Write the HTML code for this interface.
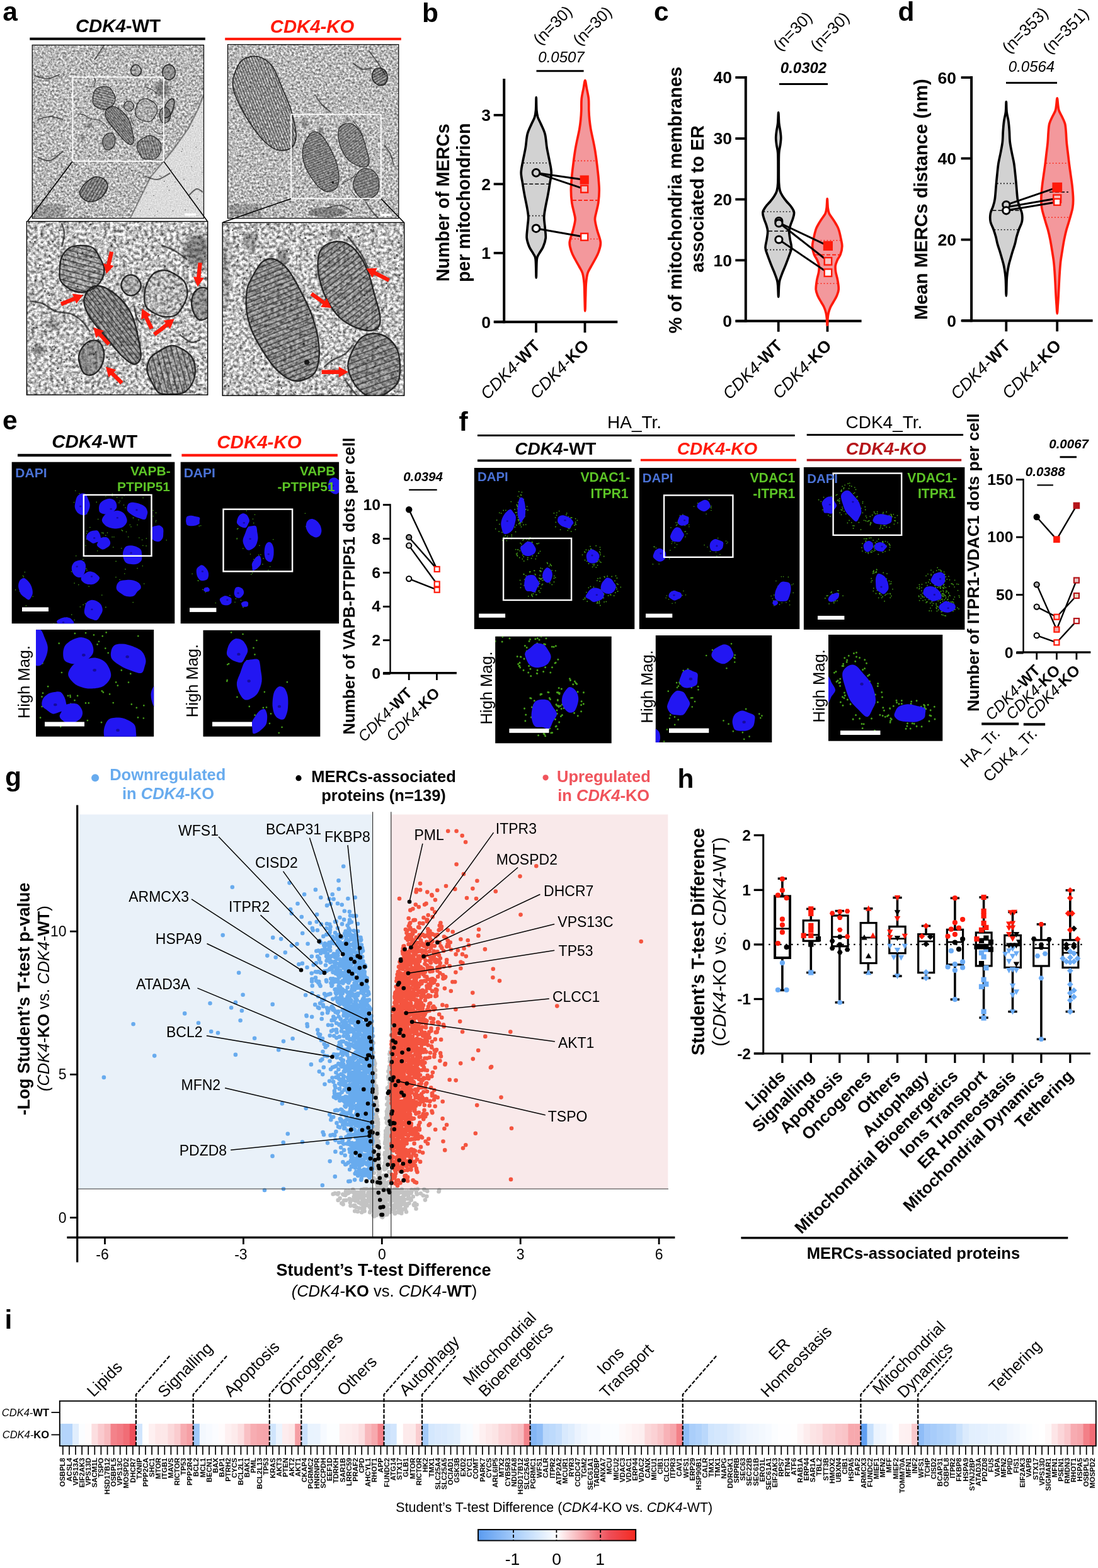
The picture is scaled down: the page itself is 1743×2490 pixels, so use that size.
<!DOCTYPE html>
<html lang="en"><head><meta charset="utf-8"><title>Figure</title>
<style>
html,body{margin:0;padding:0;background:#fff;}
body{width:1743px;height:2490px;overflow:hidden;}
svg{display:block;font-family:"Liberation Sans", sans-serif;}
text{white-space:pre;}
</style></head><body>
<svg width="1743" height="2490" viewBox="0 0 1743 2490">
<rect x="0" y="0" width="1743" height="2490" fill="#fff"/>
<!-- panel_a -->
<defs>
<filter id="emn" x="0" y="0" width="100%" height="100%" color-interpolation-filters="sRGB"><feTurbulence type="fractalNoise" baseFrequency="0.3" numOctaves="4" seed="7"/><feColorMatrix type="matrix" values="1.05 0 0 0 0.2  1.05 0 0 0 0.2  1.05 0 0 0 0.2  0 0 0 0 1"/><feGaussianBlur stdDeviation="0.5"/></filter>
<filter id="emn2" x="0" y="0" width="100%" height="100%" color-interpolation-filters="sRGB"><feTurbulence type="fractalNoise" baseFrequency="0.2" numOctaves="4" seed="11"/><feColorMatrix type="matrix" values="1.35 0 0 0 0.08  1.35 0 0 0 0.08  1.35 0 0 0 0.08  0 0 0 0 1"/><feGaussianBlur stdDeviation="0.7"/></filter>
<filter id="emlight" x="0" y="0" width="100%" height="100%" color-interpolation-filters="sRGB"><feTurbulence type="fractalNoise" baseFrequency="0.5" numOctaves="2" seed="3"/><feColorMatrix type="matrix" values="0.3 0 0 0 0.71  0.3 0 0 0 0.71  0.3 0 0 0 0.71  0 0 0 0 1"/></filter>
<filter id="blur2"><feGaussianBlur stdDeviation="2"/></filter>
<filter id="blur4"><feGaussianBlur stdDeviation="5"/></filter>
<filter id="blur1"><feGaussianBlur stdDeviation="0.7"/></filter>
<filter id="blur05"><feGaussianBlur stdDeviation="0.45"/></filter>
</defs>
<text x="4.2" y="32.8" font-size="42.5" font-weight="bold">a</text>
<text x="187.5" y="51" font-size="29.3" text-anchor="middle"><tspan font-weight="bold" font-style="italic">CDK4</tspan><tspan font-weight="bold">-WT</tspan></text>
<rect x="47.3" y="59.7" width="278.5" height="4" fill="#000"/>
<text x="495.5" y="51.5" font-size="29.3" text-anchor="middle" fill="#ff1a0a" font-weight="bold" font-style="italic">CDK4-KO</text>
<rect x="357.2" y="59.9" width="279.6" height="4" fill="#ff1a0a"/>
<defs>
<clipPath id="cp_wt_top"><rect x="51.2" y="71.5" width="272.3" height="275.2"/></clipPath>
<clipPath id="cp_ko_top"><rect x="361.5" y="70.7" width="271.3" height="276"/></clipPath>
<clipPath id="cp_wt_bot"><rect x="42.4" y="351.6" width="287.3" height="275.5"/></clipPath>
<clipPath id="cp_ko_bot"><rect x="353.2" y="353.4" width="288.5" height="274.8"/></clipPath>
<g id="wtc"><clipPath id="mc1"><path d="M165.4 426.5C165.8 432.5 163.9 439.7 160.9 445C157.9 450.4 152.8 455.6 147.5 458.8C142.1 462 135 464.5 128.8 464.4C122.6 464.4 115.8 461.8 110.3 458.6C104.9 455.4 98.7 450.8 96.1 445.4C93.5 440.1 94.6 432.7 94.9 426.5C95.2 420.4 95.3 414.1 97.8 408.6C100.3 403.1 104.7 396.8 109.9 393.7C115.1 390.6 122.5 389.8 128.8 389.9C135.1 389.9 142.7 390.6 147.7 393.8C152.7 397.1 155.6 403.9 158.6 409.4C161.5 414.8 165 420.6 165.4 426.5Z"/></clipPath><path d="M165.4 426.5C165.8 432.5 163.9 439.7 160.9 445C157.9 450.4 152.8 455.6 147.5 458.8C142.1 462 135 464.5 128.8 464.4C122.6 464.4 115.8 461.8 110.3 458.6C104.9 455.4 98.7 450.8 96.1 445.4C93.5 440.1 94.6 432.7 94.9 426.5C95.2 420.4 95.3 414.1 97.8 408.6C100.3 403.1 104.7 396.8 109.9 393.7C115.1 390.6 122.5 389.8 128.8 389.9C135.1 389.9 142.7 390.6 147.7 393.8C152.7 397.1 155.6 403.9 158.6 409.4C161.5 414.8 165 420.6 165.4 426.5Z" fill="rgba(70,70,70,0.28)"/><path d="M96.7 369.2L188 393.7M94.6 377L186 401.4M92.5 384.7L183.9 409.2M90.5 392.4L181.8 416.9M88.4 400.2L179.7 424.6M86.3 407.9L177.7 432.4M84.3 415.6L175.6 440.1M82.2 423.3L173.5 447.8M80.1 431.1L171.5 455.5M78.1 438.8L169.4 463.3M76 446.5L167.3 471M73.9 454.2L165.2 478.7" stroke="rgba(35,35,35,0.62)" stroke-width="1.9" fill="none" clip-path="url(#mc1)"/><path d="M165.4 426.5C165.8 432.5 163.9 439.7 160.9 445C157.9 450.4 152.8 455.6 147.5 458.8C142.1 462 135 464.5 128.8 464.4C122.6 464.4 115.8 461.8 110.3 458.6C104.9 455.4 98.7 450.8 96.1 445.4C93.5 440.1 94.6 432.7 94.9 426.5C95.2 420.4 95.3 414.1 97.8 408.6C100.3 403.1 104.7 396.8 109.9 393.7C115.1 390.6 122.5 389.8 128.8 389.9C135.1 389.9 142.7 390.6 147.7 393.8C152.7 397.1 155.6 403.9 158.6 409.4C161.5 414.8 165 420.6 165.4 426.5Z" fill="none" stroke="rgba(25,25,25,0.9)" stroke-width="2.4"/><clipPath id="mc2"><path d="M135 469.6C137.2 464.8 141.8 457.3 147.3 455.3C152.8 453.2 160 453.6 167.9 457.3C175.7 461.1 187.4 470 194.5 477.9C201.7 485.7 206.5 493.3 211 504.5C215.4 515.8 219.2 535 221.2 545.6C223.3 556.2 224.7 562.7 223.3 568.2C221.9 573.7 217.8 578.8 213 578.5C208.2 578.1 202.1 573.3 194.5 566.2C187 559 176.4 545.6 167.9 535.4C159.3 525.1 148.9 513.1 143.2 504.5C137.6 496 135.3 489.8 134 484C132.6 478.2 132.8 474.4 135 469.6Z"/></clipPath><path d="M135 469.6C137.2 464.8 141.8 457.3 147.3 455.3C152.8 453.2 160 453.6 167.9 457.3C175.7 461.1 187.4 470 194.5 477.9C201.7 485.7 206.5 493.3 211 504.5C215.4 515.8 219.2 535 221.2 545.6C223.3 556.2 224.7 562.7 223.3 568.2C221.9 573.7 217.8 578.8 213 578.5C208.2 578.1 202.1 573.3 194.5 566.2C187 559 176.4 545.6 167.9 535.4C159.3 525.1 148.9 513.1 143.2 504.5C137.6 496 135.3 489.8 134 484C132.6 478.2 132.8 474.4 135 469.6Z" fill="rgba(60,60,60,0.38)"/><path d="M191 416.4L279.1 529.2M186.2 420.1L274.4 532.9M181.5 423.7L269.7 536.6M176.8 427.4L265 540.3M172.1 431.1L260.2 544M167.3 434.8L255.5 547.7M162.6 438.5L250.8 551.4M157.9 442.2L246 555.1M153.2 445.9L241.3 558.8M148.4 449.6L236.6 562.5M143.7 453.3L231.9 566.2M139 457L227.1 569.8M134.2 460.7L222.4 573.5M129.5 464.4L217.7 577.2M124.8 468.1L213 580.9M120.1 471.8L208.2 584.6M115.3 475.5L203.5 588.3M110.6 479.2L198.8 592M105.9 482.9L194 595.7M101.1 486.5L189.3 599.4M96.4 490.2L184.6 603.1M91.7 493.9L179.9 606.8M87 497.6L175.1 610.5M82.2 501.3L170.4 614.2" stroke="rgba(35,35,35,0.62)" stroke-width="1.9" fill="none" clip-path="url(#mc2)"/><path d="M135 469.6C137.2 464.8 141.8 457.3 147.3 455.3C152.8 453.2 160 453.6 167.9 457.3C175.7 461.1 187.4 470 194.5 477.9C201.7 485.7 206.5 493.3 211 504.5C215.4 515.8 219.2 535 221.2 545.6C223.3 556.2 224.7 562.7 223.3 568.2C221.9 573.7 217.8 578.8 213 578.5C208.2 578.1 202.1 573.3 194.5 566.2C187 559 176.4 545.6 167.9 535.4C159.3 525.1 148.9 513.1 143.2 504.5C137.6 496 135.3 489.8 134 484C132.6 478.2 132.8 474.4 135 469.6Z" fill="none" stroke="rgba(25,25,25,0.9)" stroke-width="2.4"/><clipPath id="mc3"><path d="M223.8 453.2C223.9 456.3 222.3 459.8 220.5 462.4C218.7 464.9 215.8 467.5 212.9 468.5C209.9 469.5 205.8 469.6 202.9 468.5C200 467.5 197.3 464.7 195.6 462.2C193.8 459.6 192.4 456.2 192.3 453.2C192.3 450.2 193.5 446.7 195.2 444C197 441.4 199.8 438.4 202.7 437.4C205.7 436.3 210 436.5 213 437.6C215.9 438.7 218.6 441.5 220.4 444.1C222.2 446.7 223.8 450.2 223.8 453.2Z"/></clipPath><path d="M223.8 453.2C223.9 456.3 222.3 459.8 220.5 462.4C218.7 464.9 215.8 467.5 212.9 468.5C209.9 469.5 205.8 469.6 202.9 468.5C200 467.5 197.3 464.7 195.6 462.2C193.8 459.6 192.4 456.2 192.3 453.2C192.3 450.2 193.5 446.7 195.2 444C197 441.4 199.8 438.4 202.7 437.4C205.7 436.3 210 436.5 213 437.6C215.9 438.7 218.6 441.5 220.4 444.1C222.2 446.7 223.8 450.2 223.8 453.2Z" fill="rgba(70,70,70,0.25)"/><path d="M223.8 453.2C223.9 456.3 222.3 459.8 220.5 462.4C218.7 464.9 215.8 467.5 212.9 468.5C209.9 469.5 205.8 469.6 202.9 468.5C200 467.5 197.3 464.7 195.6 462.2C193.8 459.6 192.4 456.2 192.3 453.2C192.3 450.2 193.5 446.7 195.2 444C197 441.4 199.8 438.4 202.7 437.4C205.7 436.3 210 436.5 213 437.6C215.9 438.7 218.6 441.5 220.4 444.1C222.2 446.7 223.8 450.2 223.8 453.2Z" fill="none" stroke="rgba(25,25,25,0.9)" stroke-width="2.4"/><clipPath id="mc4"><path d="M297.3 467.6C296.9 473.8 293.7 480 290.7 485.4C287.7 490.8 284.2 497 279.5 500C274.8 503 267.9 503.5 262.3 503.2C256.8 502.9 251.3 500.8 246.2 498C241.1 495.3 234.6 491.8 231.8 486.8C229 481.7 229 473.8 229.3 467.6C229.6 461.4 231.2 455.2 233.7 449.6C236.2 444 239.7 437.4 244.5 434C249.3 430.6 256.6 428.8 262.3 429.2C268.1 429.6 273.8 433 279 436.2C284.1 439.4 290.1 443 293.1 448.2C296.2 453.5 297.7 461.4 297.3 467.6Z"/></clipPath><path d="M297.3 467.6C296.9 473.8 293.7 480 290.7 485.4C287.7 490.8 284.2 497 279.5 500C274.8 503 267.9 503.5 262.3 503.2C256.8 502.9 251.3 500.8 246.2 498C241.1 495.3 234.6 491.8 231.8 486.8C229 481.7 229 473.8 229.3 467.6C229.6 461.4 231.2 455.2 233.7 449.6C236.2 444 239.7 437.4 244.5 434C249.3 430.6 256.6 428.8 262.3 429.2C268.1 429.6 273.8 433 279 436.2C284.1 439.4 290.1 443 293.1 448.2C296.2 453.5 297.7 461.4 297.3 467.6Z" fill="rgba(70,70,70,0.12)"/><path d="M297.3 467.6C296.9 473.8 293.7 480 290.7 485.4C287.7 490.8 284.2 497 279.5 500C274.8 503 267.9 503.5 262.3 503.2C256.8 502.9 251.3 500.8 246.2 498C241.1 495.3 234.6 491.8 231.8 486.8C229 481.7 229 473.8 229.3 467.6C229.6 461.4 231.2 455.2 233.7 449.6C236.2 444 239.7 437.4 244.5 434C249.3 430.6 256.6 428.8 262.3 429.2C268.1 429.6 273.8 433 279 436.2C284.1 439.4 290.1 443 293.1 448.2C296.2 453.5 297.7 461.4 297.3 467.6Z" fill="none" stroke="rgba(25,25,25,0.9)" stroke-width="2.4"/><clipPath id="mc5"><path d="M338.9 482C339.1 487 337.9 493.5 335.9 497.5C333.9 501.5 330.2 504.2 327 506C323.7 507.7 319.6 509.2 316.4 507.8C313.2 506.4 309.9 501.8 307.9 497.5C305.8 493.2 304.1 487.2 304.1 482C304 476.7 305.5 470.1 307.6 466.1C309.7 462 313.5 459.1 316.7 457.7C320 456.3 324 456 327 457.6C330.1 459.2 333.2 463.1 335.2 467.2C337.1 471.3 338.8 476.9 338.9 482Z"/></clipPath><path d="M338.9 482C339.1 487 337.9 493.5 335.9 497.5C333.9 501.5 330.2 504.2 327 506C323.7 507.7 319.6 509.2 316.4 507.8C313.2 506.4 309.9 501.8 307.9 497.5C305.8 493.2 304.1 487.2 304.1 482C304 476.7 305.5 470.1 307.6 466.1C309.7 462 313.5 459.1 316.7 457.7C320 456.3 324 456 327 457.6C330.1 459.2 333.2 463.1 335.2 467.2C337.1 471.3 338.8 476.9 338.9 482Z" fill="rgba(60,60,60,0.4)"/><path d="M338.9 482C339.1 487 337.9 493.5 335.9 497.5C333.9 501.5 330.2 504.2 327 506C323.7 507.7 319.6 509.2 316.4 507.8C313.2 506.4 309.9 501.8 307.9 497.5C305.8 493.2 304.1 487.2 304.1 482C304 476.7 305.5 470.1 307.6 466.1C309.7 462 313.5 459.1 316.7 457.7C320 456.3 324 456 327 457.6C330.1 459.2 333.2 463.1 335.2 467.2C337.1 471.3 338.8 476.9 338.9 482Z" fill="none" stroke="rgba(25,25,25,0.9)" stroke-width="2.4"/><clipPath id="mc6"><path d="M164.3 571.6C163.2 576.8 160.7 582.5 157.8 586.4C154.8 590.3 150.6 593.8 146.7 595C142.8 596.2 137.7 596 134.4 593.6C131.2 591.3 128.9 585.8 127.4 580.9C125.9 576.1 124.4 569.9 125.2 564.7C126.1 559.4 129.3 553.4 132.4 549.5C135.5 545.6 139.8 542.6 143.8 541.4C147.8 540.2 153 540 156.3 542.3C159.7 544.5 162.7 550 164 554.8C165.3 559.7 165.3 566.3 164.3 571.6Z"/></clipPath><path d="M164.3 571.6C163.2 576.8 160.7 582.5 157.8 586.4C154.8 590.3 150.6 593.8 146.7 595C142.8 596.2 137.7 596 134.4 593.6C131.2 591.3 128.9 585.8 127.4 580.9C125.9 576.1 124.4 569.9 125.2 564.7C126.1 559.4 129.3 553.4 132.4 549.5C135.5 545.6 139.8 542.6 143.8 541.4C147.8 540.2 153 540 156.3 542.3C159.7 544.5 162.7 550 164 554.8C165.3 559.7 165.3 566.3 164.3 571.6Z" fill="rgba(60,60,60,0.42)"/><path d="M164.3 571.6C163.2 576.8 160.7 582.5 157.8 586.4C154.8 590.3 150.6 593.8 146.7 595C142.8 596.2 137.7 596 134.4 593.6C131.2 591.3 128.9 585.8 127.4 580.9C125.9 576.1 124.4 569.9 125.2 564.7C126.1 559.4 129.3 553.4 132.4 549.5C135.5 545.6 139.8 542.6 143.8 541.4C147.8 540.2 153 540 156.3 542.3C159.7 544.5 162.7 550 164 554.8C165.3 559.7 165.3 566.3 164.3 571.6Z" fill="none" stroke="rgba(25,25,25,0.9)" stroke-width="2.4"/><clipPath id="mc7"><path d="M309.9 588.7C309.8 595.3 308.4 602.5 305.4 608.2C302.4 614 297.4 620.2 292 623.2C286.5 626.2 279.1 625.9 272.6 626C266 626.2 257.9 627.2 252.7 624.1C247.5 621 244.4 613.2 241.2 607.3C238.1 601.4 234.1 595.2 233.6 588.7C233.2 582.3 235.1 573.9 238.5 568.6C242 563.2 248.8 559.9 254.5 556.6C260.2 553.3 266.4 548.8 272.6 548.6C278.7 548.4 285.8 552 291.3 555.4C296.9 558.8 302.7 563.5 305.7 569.1C308.8 574.6 309.9 582.2 309.9 588.7Z"/></clipPath><path d="M309.9 588.7C309.8 595.3 308.4 602.5 305.4 608.2C302.4 614 297.4 620.2 292 623.2C286.5 626.2 279.1 625.9 272.6 626C266 626.2 257.9 627.2 252.7 624.1C247.5 621 244.4 613.2 241.2 607.3C238.1 601.4 234.1 595.2 233.6 588.7C233.2 582.3 235.1 573.9 238.5 568.6C242 563.2 248.8 559.9 254.5 556.6C260.2 553.3 266.4 548.8 272.6 548.6C278.7 548.4 285.8 552 291.3 555.4C296.9 558.8 302.7 563.5 305.7 569.1C308.8 574.6 309.9 582.2 309.9 588.7Z" fill="rgba(60,60,60,0.3)"/><path d="M306.2 527.7L331.4 621.8M298.5 529.7L323.7 623.8M290.7 531.8L315.9 625.9M283 533.9L308.2 628M275.3 536L300.5 630M267.6 538L292.8 632.1M259.8 540.1L285 634.2M252.1 542.2L277.3 636.2M244.4 544.2L269.6 638.3M236.6 546.3L261.9 640.4M228.9 548.4L254.1 642.5M221.2 550.5L246.4 644.5M213.5 552.5L238.7 646.6" stroke="rgba(35,35,35,0.62)" stroke-width="1.9" fill="none" clip-path="url(#mc7)"/><path d="M309.9 588.7C309.8 595.3 308.4 602.5 305.4 608.2C302.4 614 297.4 620.2 292 623.2C286.5 626.2 279.1 625.9 272.6 626C266 626.2 257.9 627.2 252.7 624.1C247.5 621 244.4 613.2 241.2 607.3C238.1 601.4 234.1 595.2 233.6 588.7C233.2 582.3 235.1 573.9 238.5 568.6C242 563.2 248.8 559.9 254.5 556.6C260.2 553.3 266.4 548.8 272.6 548.6C278.7 548.4 285.8 552 291.3 555.4C296.9 558.8 302.7 563.5 305.7 569.1C308.8 574.6 309.9 582.2 309.9 588.7Z" fill="none" stroke="rgba(25,25,25,0.9)" stroke-width="2.4"/><ellipse cx="313.7" cy="397.8" rx="22" ry="26" fill="rgba(40,40,40,0.45)" filter="url(#blur4)"/><ellipse cx="61.1" cy="555.9" rx="9" ry="8" fill="rgba(40,40,40,0.4)" filter="url(#blur2)"/><ellipse cx="83.7" cy="514.8" rx="12" ry="10" fill="rgba(50,50,50,0.3)" filter="url(#blur2)"/><path d="M46.7 477.9C50.1 478.5 60.4 479.2 67.2 482C74.1 484.7 80.2 491.5 87.8 494.3C95.3 497 105.2 495.7 112.4 498.4C119.6 501.1 125.8 505.9 130.9 510.7C136 515.5 141.2 524.4 143.2 527.1" fill="none" stroke="rgba(30,30,30,0.7)" stroke-width="2.6"/><path d="M98 354.6C98.7 357.4 102.1 364.9 102.1 371.1C102.1 377.2 98.7 388.2 98 391.6" fill="none" stroke="rgba(30,30,30,0.7)" stroke-width="2.6"/><path d="M256.2 389.6C259.6 390.9 269.8 394 276.7 397.8C283.5 401.5 293.8 409.7 297.2 412.1" fill="none" stroke="rgba(30,30,30,0.7)" stroke-width="2.6"/><path d="M213 486.1C213.7 489.1 215.1 499.8 217.1 504.5C219.2 509.3 224 513.1 225.4 514.8" fill="none" stroke="rgba(30,30,30,0.7)" stroke-width="2.6"/><path d="M284.9 531.2C288 533.3 297.9 542.2 303.4 543.6C308.9 544.9 315.4 540.1 317.8 539.5" fill="none" stroke="rgba(30,30,30,0.7)" stroke-width="2.6"/></g>
<g id="koc"><clipPath id="mc8"><path d="M397.8 445C401.9 437.1 409.7 421.7 416.2 416.2C422.8 410.8 429.9 410.1 436.8 412.1C443.6 414.2 450.5 420 457.3 428.6C464.2 437.1 471.7 451.8 477.9 463.5C484 475.1 489.8 486.4 494.3 498.4C498.7 510.4 502.5 524.1 504.5 535.4C506.6 546.6 507.3 556.9 506.6 566.2C505.9 575.4 504.5 584.6 500.4 590.8C496.3 597 488.5 601.1 482 603.1C475.5 605.2 469 606.2 461.4 603.1C453.9 600 444.3 592.5 436.8 584.6C429.3 576.8 422.4 565.8 416.2 555.9C410.1 546 403.9 535.4 399.8 525.1C395.7 514.8 393 504.5 391.6 494.3C390.2 484 390.6 471.7 391.6 463.5C392.6 455.3 393.7 452.9 397.8 445Z"/></clipPath><path d="M397.8 445C401.9 437.1 409.7 421.7 416.2 416.2C422.8 410.8 429.9 410.1 436.8 412.1C443.6 414.2 450.5 420 457.3 428.6C464.2 437.1 471.7 451.8 477.9 463.5C484 475.1 489.8 486.4 494.3 498.4C498.7 510.4 502.5 524.1 504.5 535.4C506.6 546.6 507.3 556.9 506.6 566.2C505.9 575.4 504.5 584.6 500.4 590.8C496.3 597 488.5 601.1 482 603.1C475.5 605.2 469 606.2 461.4 603.1C453.9 600 444.3 592.5 436.8 584.6C429.3 576.8 422.4 565.8 416.2 555.9C410.1 546 403.9 535.4 399.8 525.1C395.7 514.8 393 504.5 391.6 494.3C390.2 484 390.6 471.7 391.6 463.5C392.6 455.3 393.7 452.9 397.8 445Z" fill="rgba(60,60,60,0.36)"/><path d="M311.8 449.3L507.4 370.3M314.6 456.3L510.2 377.3M317.4 463.2L513 384.2M320.2 470.2L515.8 391.2M323 477.2L518.6 398.1M325.8 484.1L521.4 405.1M328.6 491.1L524.3 412M331.4 498L527.1 419M334.3 505L529.9 425.9M337.1 511.9L532.7 432.9M339.9 518.9L535.5 439.8M342.7 525.8L538.3 446.8M345.5 532.8L541.1 453.8M348.3 539.7L543.9 460.7M351.1 546.7L546.7 467.7M353.9 553.6L549.5 474.6M356.7 560.6L552.3 481.6M359.5 567.6L555.2 488.5M362.4 574.5L558 495.5M365.2 581.5L560.8 502.4M368 588.4L563.6 509.4M370.8 595.4L566.4 516.3M373.6 602.3L569.2 523.3M376.4 609.3L572 530.2M379.2 616.2L574.8 537.2M382 623.2L577.6 544.2M384.8 630.1L580.4 551.1M387.6 637.1L583.3 558.1M390.4 644L586.1 565" stroke="rgba(35,35,35,0.62)" stroke-width="1.9" fill="none" clip-path="url(#mc8)"/><path d="M397.8 445C401.9 437.1 409.7 421.7 416.2 416.2C422.8 410.8 429.9 410.1 436.8 412.1C443.6 414.2 450.5 420 457.3 428.6C464.2 437.1 471.7 451.8 477.9 463.5C484 475.1 489.8 486.4 494.3 498.4C498.7 510.4 502.5 524.1 504.5 535.4C506.6 546.6 507.3 556.9 506.6 566.2C505.9 575.4 504.5 584.6 500.4 590.8C496.3 597 488.5 601.1 482 603.1C475.5 605.2 469 606.2 461.4 603.1C453.9 600 444.3 592.5 436.8 584.6C429.3 576.8 422.4 565.8 416.2 555.9C410.1 546 403.9 535.4 399.8 525.1C395.7 514.8 393 504.5 391.6 494.3C390.2 484 390.6 471.7 391.6 463.5C392.6 455.3 393.7 452.9 397.8 445Z" fill="none" stroke="rgba(25,25,25,0.9)" stroke-width="2.4"/><clipPath id="mc9"><path d="M508.7 397.8C512.1 391.9 518.6 387.5 525.1 385.4C531.6 383.4 540.5 382.7 547.7 385.4C554.9 388.2 562 394 568.2 401.9C574.4 409.7 580.2 421.4 584.6 432.7C589.1 444 591.8 458.3 594.9 469.6C598 480.9 602.1 492.2 603.1 500.4C604.1 508.7 603.8 514.8 601.1 518.9C598.3 523 593.2 525.1 586.7 525.1C580.2 525.1 569.9 522.3 562 518.9C554.2 515.5 546.3 511.1 539.5 504.5C532.6 498 526.1 489.1 521 479.9C515.8 470.7 511.4 459 508.7 449.1C505.9 439.2 504.5 428.9 504.5 420.4C504.5 411.8 505.2 403.6 508.7 397.8Z"/></clipPath><path d="M508.7 397.8C512.1 391.9 518.6 387.5 525.1 385.4C531.6 383.4 540.5 382.7 547.7 385.4C554.9 388.2 562 394 568.2 401.9C574.4 409.7 580.2 421.4 584.6 432.7C589.1 444 591.8 458.3 594.9 469.6C598 480.9 602.1 492.2 603.1 500.4C604.1 508.7 603.8 514.8 601.1 518.9C598.3 523 593.2 525.1 586.7 525.1C580.2 525.1 569.9 522.3 562 518.9C554.2 515.5 546.3 511.1 539.5 504.5C532.6 498 526.1 489.1 521 479.9C515.8 470.7 511.4 459 508.7 449.1C505.9 439.2 504.5 428.9 504.5 420.4C504.5 411.8 505.2 403.6 508.7 397.8Z" fill="rgba(60,60,60,0.34)"/><path d="M441.8 441.5L567.6 343.2M446.4 447.4L572.2 349.1M451 453.3L576.8 355M455.6 459.2L581.4 361M460.3 465.1L586.1 366.9M464.9 471.1L590.7 372.8M469.5 477L595.3 378.7M474.1 482.9L599.9 384.6M478.7 488.8L604.5 390.5M483.3 494.7L609.1 396.4M488 500.6L613.8 402.3M492.6 506.5L618.4 408.2M497.2 512.4L623 414.1M501.8 518.3L627.6 420.1M506.4 524.2L632.2 426M511.1 530.2L636.9 431.9M515.7 536.1L641.5 437.8M520.3 542L646.1 443.7M524.9 547.9L650.7 449.6M529.5 553.8L655.3 455.5M534.1 559.7L659.9 461.4M538.8 565.6L664.6 467.3" stroke="rgba(35,35,35,0.62)" stroke-width="1.9" fill="none" clip-path="url(#mc9)"/><path d="M508.7 397.8C512.1 391.9 518.6 387.5 525.1 385.4C531.6 383.4 540.5 382.7 547.7 385.4C554.9 388.2 562 394 568.2 401.9C574.4 409.7 580.2 421.4 584.6 432.7C589.1 444 591.8 458.3 594.9 469.6C598 480.9 602.1 492.2 603.1 500.4C604.1 508.7 603.8 514.8 601.1 518.9C598.3 523 593.2 525.1 586.7 525.1C580.2 525.1 569.9 522.3 562 518.9C554.2 515.5 546.3 511.1 539.5 504.5C532.6 498 526.1 489.1 521 479.9C515.8 470.7 511.4 459 508.7 449.1C505.9 439.2 504.5 428.9 504.5 420.4C504.5 411.8 505.2 403.6 508.7 397.8Z" fill="none" stroke="rgba(25,25,25,0.9)" stroke-width="2.4"/><clipPath id="mc10"><path d="M635 580.5C635.2 589.2 635.1 599.8 631.7 607C628.4 614.1 620.9 619.1 614.8 623.4C608.7 627.6 601.5 632.4 594.9 632.4C588.3 632.3 580.9 627.7 575.1 623.2C569.3 618.8 563.9 612.6 560.1 605.5C556.3 598.4 552.2 588.8 552.3 580.5C552.3 572.2 556.6 563.1 560.2 555.6C563.9 548.2 568.4 540.2 574.2 535.9C580 531.5 588 529.6 594.9 529.7C601.8 529.8 609.4 532.3 615.3 536.5C621.2 540.8 627.1 547.7 630.4 555C633.7 562.4 634.8 571.9 635 580.5Z"/></clipPath><path d="M635 580.5C635.2 589.2 635.1 599.8 631.7 607C628.4 614.1 620.9 619.1 614.8 623.4C608.7 627.6 601.5 632.4 594.9 632.4C588.3 632.3 580.9 627.7 575.1 623.2C569.3 618.8 563.9 612.6 560.1 605.5C556.3 598.4 552.2 588.8 552.3 580.5C552.3 572.2 556.6 563.1 560.2 555.6C563.9 548.2 568.4 540.2 574.2 535.9C580 531.5 588 529.6 594.9 529.7C601.8 529.8 609.4 532.3 615.3 536.5C621.2 540.8 627.1 547.7 630.4 555C633.7 562.4 634.8 571.9 635 580.5Z" fill="rgba(60,60,60,0.38)"/><path d="M515 544.4L630.3 502.4M518.1 552.8L633.4 510.9M521.2 561.3L636.5 519.3M524.3 569.7L639.5 527.8M527.3 578.2L642.6 536.2M530.4 586.7L645.7 544.7M533.5 595.1L648.8 553.2M536.6 603.6L651.8 561.6M539.6 612L654.9 570.1M542.7 620.5L658 578.5M545.8 628.9L661.1 587M548.9 637.4L664.2 595.4M552 645.9L667.2 603.9M555 654.3L670.3 612.4" stroke="rgba(35,35,35,0.62)" stroke-width="1.9" fill="none" clip-path="url(#mc10)"/><path d="M635 580.5C635.2 589.2 635.1 599.8 631.7 607C628.4 614.1 620.9 619.1 614.8 623.4C608.7 627.6 601.5 632.4 594.9 632.4C588.3 632.3 580.9 627.7 575.1 623.2C569.3 618.8 563.9 612.6 560.1 605.5C556.3 598.4 552.2 588.8 552.3 580.5C552.3 572.2 556.6 563.1 560.2 555.6C563.9 548.2 568.4 540.2 574.2 535.9C580 531.5 588 529.6 594.9 529.7C601.8 529.8 609.4 532.3 615.3 536.5C621.2 540.8 627.1 547.7 630.4 555C633.7 562.4 634.8 571.9 635 580.5Z" fill="none" stroke="rgba(25,25,25,0.9)" stroke-width="2.4"/><ellipse cx="397.8" cy="383.4" rx="10" ry="16" fill="rgba(50,50,50,0.35)" filter="url(#blur2)"/><ellipse cx="449.1" cy="408" rx="9" ry="12" fill="rgba(50,50,50,0.4)" filter="url(#blur2)"/><ellipse cx="531.2" cy="371.1" rx="10" ry="8" fill="rgba(50,50,50,0.3)" filter="url(#blur2)"/><ellipse cx="358.7" cy="432.7" rx="5" ry="60" fill="rgba(50,50,50,0.3)" filter="url(#blur2)"/><circle cx="487.1" cy="575.4" r="4" fill="rgba(10,10,10,0.9)"/><path d="M551.8 375.2C555.2 379.6 566.8 393.3 572.3 401.9C577.8 410.4 582.6 422.4 584.6 426.5" fill="none" stroke="rgba(30,30,30,0.7)" stroke-width="2.6"/><path d="M514.8 582.6C516.9 580.9 521.7 575.7 527.1 572.3C532.6 568.9 542.2 566.2 547.7 562C553.1 557.9 557.9 550.1 560 547.7" fill="none" stroke="rgba(30,30,30,0.7)" stroke-width="2.6"/><path d="M547.7 603.1C549.4 605.5 554.9 613.4 557.9 617.5C561 621.6 564.8 626 566.2 627.8" fill="none" stroke="rgba(30,30,30,0.7)" stroke-width="2.6"/></g>
</defs>
<g clip-path="url(#cp_wt_top)">
<rect x="51.2" y="71.5" width="272.3" height="275.2" fill="#aaa" filter="url(#emn)"/>
<clipPath id="cp_light"><polygon points="323.6,150 315,172 299,204 274,239 239,281 206.6,346.7 323.6,346.7"/></clipPath>
<rect x="51.2" y="71.5" width="272.3" height="275.2" fill="#ddd" filter="url(#emlight)" clip-path="url(#cp_light)"/>
<polyline points="323.6,150 315,172 299,204 274,239 239,281 206.6,346.7" fill="none" stroke="rgba(60,60,60,0.55)" stroke-width="2.2"/>
<g transform="translate(99.6 -52.5) scale(0.5047 0.4878)" filter="url(#blur05)"><use href="#wtc"/></g>
<g filter="url(#blur05)">
<clipPath id="mc11"><path d="M168.1 287.6C169.8 289.9 171.2 292.9 171 296C170.8 299.1 169.1 302.9 167 306.1C165 309.3 162.1 312.7 158.9 315.1C155.6 317.4 151.2 319.5 147.6 320.2C144 320.8 140.3 320.1 137.4 319.1C134.5 318 132.1 316.3 130.3 314.1C128.5 311.9 126.2 309.2 126.4 306.1C126.5 303.1 129 299.1 131.2 295.9C133.4 292.8 136.3 289.9 139.5 287.4C142.7 285 146.9 282 150.5 281.1C154.1 280.2 158.2 281.1 161.1 282.2C164.1 283.3 166.5 285.3 168.1 287.6Z"/></clipPath><path d="M168.1 287.6C169.8 289.9 171.2 292.9 171 296C170.8 299.1 169.1 302.9 167 306.1C165 309.3 162.1 312.7 158.9 315.1C155.6 317.4 151.2 319.5 147.6 320.2C144 320.8 140.3 320.1 137.4 319.1C134.5 318 132.1 316.3 130.3 314.1C128.5 311.9 126.2 309.2 126.4 306.1C126.5 303.1 129 299.1 131.2 295.9C133.4 292.8 136.3 289.9 139.5 287.4C142.7 285 146.9 282 150.5 281.1C154.1 280.2 158.2 281.1 161.1 282.2C164.1 283.3 166.5 285.3 168.1 287.6Z" fill="rgba(60,60,60,0.35)"/><path d="M104.5 312.5L136.8 256.5M108.4 314.7L140.7 258.8M112.3 317L144.6 261M116.2 319.2L148.5 263.3M120.1 321.5L152.4 265.5M124 323.7L156.3 267.8M127.9 326L160.2 270M131.8 328.2L164.1 272.3M135.7 330.5L168 274.5M139.6 332.7L171.9 276.8M143.5 335L175.8 279M147.4 337.2L179.7 281.3M151.3 339.5L183.6 283.5M155.2 341.7L187.5 285.8M159.1 344L191.4 288" stroke="rgba(35,35,35,0.62)" stroke-width="1.3" fill="none" clip-path="url(#mc11)"/><path d="M168.1 287.6C169.8 289.9 171.2 292.9 171 296C170.8 299.1 169.1 302.9 167 306.1C165 309.3 162.1 312.7 158.9 315.1C155.6 317.4 151.2 319.5 147.6 320.2C144 320.8 140.3 320.1 137.4 319.1C134.5 318 132.1 316.3 130.3 314.1C128.5 311.9 126.2 309.2 126.4 306.1C126.5 303.1 129 299.1 131.2 295.9C133.4 292.8 136.3 289.9 139.5 287.4C142.7 285 146.9 282 150.5 281.1C154.1 280.2 158.2 281.1 161.1 282.2C164.1 283.3 166.5 285.3 168.1 287.6Z" fill="none" stroke="rgba(25,25,25,0.9)" stroke-width="1.6"/>
<clipPath id="mc12"><path d="M224.3 112C224.3 113.7 223.4 115.8 222.5 117.3C221.5 118.7 220 120.2 218.5 120.7C217 121.2 215.1 120.8 213.6 120.3C212.1 119.7 210.4 118.7 209.4 117.4C208.5 116 207.7 113.8 207.7 112C207.7 110.2 208.6 108.2 209.5 106.7C210.5 105.2 212 103.8 213.5 103.2C215 102.7 217.1 102.7 218.5 103.3C220 103.9 221.2 105.5 222.2 106.9C223.1 108.4 224.2 110.3 224.3 112Z"/></clipPath><path d="M224.3 112C224.3 113.7 223.4 115.8 222.5 117.3C221.5 118.7 220 120.2 218.5 120.7C217 121.2 215.1 120.8 213.6 120.3C212.1 119.7 210.4 118.7 209.4 117.4C208.5 116 207.7 113.8 207.7 112C207.7 110.2 208.6 108.2 209.5 106.7C210.5 105.2 212 103.8 213.5 103.2C215 102.7 217.1 102.7 218.5 103.3C220 103.9 221.2 105.5 222.2 106.9C223.1 108.4 224.2 110.3 224.3 112Z" fill="rgba(60,60,60,0.2)"/><path d="M224.3 112C224.3 113.7 223.4 115.8 222.5 117.3C221.5 118.7 220 120.2 218.5 120.7C217 121.2 215.1 120.8 213.6 120.3C212.1 119.7 210.4 118.7 209.4 117.4C208.5 116 207.7 113.8 207.7 112C207.7 110.2 208.6 108.2 209.5 106.7C210.5 105.2 212 103.8 213.5 103.2C215 102.7 217.1 102.7 218.5 103.3C220 103.9 221.2 105.5 222.2 106.9C223.1 108.4 224.2 110.3 224.3 112Z" fill="none" stroke="rgba(25,25,25,0.9)" stroke-width="1.6"/>
<clipPath id="mc13"><path d="M278.3 115C278.2 117.4 277.4 120.3 276.2 122.1C275 124 272.9 125.6 271 126.2C269.2 126.8 267 126.5 265.1 125.9C263.2 125.2 260.8 124.1 259.6 122.3C258.4 120.5 258 117.4 258 115C258 112.6 258.6 109.8 259.7 107.8C260.9 105.8 262.9 103.9 264.8 103.2C266.7 102.4 269.2 102.6 271.2 103.3C273.1 104.1 275.2 105.7 276.4 107.6C277.6 109.6 278.3 112.6 278.3 115Z"/></clipPath><path d="M278.3 115C278.2 117.4 277.4 120.3 276.2 122.1C275 124 272.9 125.6 271 126.2C269.2 126.8 267 126.5 265.1 125.9C263.2 125.2 260.8 124.1 259.6 122.3C258.4 120.5 258 117.4 258 115C258 112.6 258.6 109.8 259.7 107.8C260.9 105.8 262.9 103.9 264.8 103.2C266.7 102.4 269.2 102.6 271.2 103.3C273.1 104.1 275.2 105.7 276.4 107.6C277.6 109.6 278.3 112.6 278.3 115Z" fill="rgba(60,60,60,0.35)"/><path d="M278.3 115C278.2 117.4 277.4 120.3 276.2 122.1C275 124 272.9 125.6 271 126.2C269.2 126.8 267 126.5 265.1 125.9C263.2 125.2 260.8 124.1 259.6 122.3C258.4 120.5 258 117.4 258 115C258 112.6 258.6 109.8 259.7 107.8C260.9 105.8 262.9 103.9 264.8 103.2C266.7 102.4 269.2 102.6 271.2 103.3C273.1 104.1 275.2 105.7 276.4 107.6C277.6 109.6 278.3 112.6 278.3 115Z" fill="none" stroke="rgba(25,25,25,0.9)" stroke-width="1.6"/>
<clipPath id="mc14"><path d="M274.5 174.4C273.5 177.4 271.8 181 270.2 183.1C268.6 185.2 266.5 186.4 264.8 187C263.2 187.5 261.4 187.4 260.4 186.2C259.5 184.9 258.9 181.9 259.1 179.2C259.3 176.4 260.5 172.6 261.7 169.7C262.8 166.8 264.4 163.7 266 161.6C267.5 159.6 269.5 158 271.1 157.4C272.7 156.8 274.7 156.5 275.6 157.8C276.5 159.1 276.7 162.4 276.5 165.1C276.3 167.9 275.6 171.4 274.5 174.4Z"/></clipPath><path d="M274.5 174.4C273.5 177.4 271.8 181 270.2 183.1C268.6 185.2 266.5 186.4 264.8 187C263.2 187.5 261.4 187.4 260.4 186.2C259.5 184.9 258.9 181.9 259.1 179.2C259.3 176.4 260.5 172.6 261.7 169.7C262.8 166.8 264.4 163.7 266 161.6C267.5 159.6 269.5 158 271.1 157.4C272.7 156.8 274.7 156.5 275.6 157.8C276.5 159.1 276.7 162.4 276.5 165.1C276.3 167.9 275.6 171.4 274.5 174.4Z" fill="rgba(60,60,60,0.3)"/><path d="M274.5 174.4C273.5 177.4 271.8 181 270.2 183.1C268.6 185.2 266.5 186.4 264.8 187C263.2 187.5 261.4 187.4 260.4 186.2C259.5 184.9 258.9 181.9 259.1 179.2C259.3 176.4 260.5 172.6 261.7 169.7C262.8 166.8 264.4 163.7 266 161.6C267.5 159.6 269.5 158 271.1 157.4C272.7 156.8 274.7 156.5 275.6 157.8C276.5 159.1 276.7 162.4 276.5 165.1C276.3 167.9 275.6 171.4 274.5 174.4Z" fill="none" stroke="rgba(25,25,25,0.9)" stroke-width="1.6"/>
<path d="M55 120C58.3 120.8 68.3 125.3 75 125C81.7 124.7 91.7 119.2 95 118" fill="none" stroke="rgba(30,30,30,0.65)" stroke-width="2"/>
<path d="M60 190C63.3 189.2 73.3 185 80 185C86.7 185 96.7 189.2 100 190" fill="none" stroke="rgba(30,30,30,0.65)" stroke-width="2"/>
<path d="M150 95C151.7 92.5 157.5 83.8 160 80C162.5 76.2 164.2 73.3 165 72" fill="none" stroke="rgba(30,30,30,0.65)" stroke-width="2"/>
<path d="M60 250C63.3 250.8 73.3 256.7 80 255C86.7 253.3 96.7 242.5 100 240" fill="none" stroke="rgba(30,30,30,0.65)" stroke-width="2"/>
<path d="M230 280C233.3 280.8 243.3 285.8 250 285C256.7 284.2 266.7 276.7 270 275" fill="none" stroke="rgba(30,30,30,0.65)" stroke-width="2"/>
<path d="M300 310C302 308.3 308.3 300.8 312 300C315.7 299.2 320.3 304.2 322 305" fill="none" stroke="rgba(30,30,30,0.65)" stroke-width="2"/>
</g>
<path d="M97.5 260.6h0M223.6 203.4h0M111.2 288.5h0M269.9 212.5h0M188.7 137.5h0M54.1 174.1h0M210.3 92.3h0M266.2 136.5h0M115.6 85h0M320.8 273.8h0M288 240.5h0M62.3 162.7h0M186.7 104.9h0M308.6 173.4h0M94.7 295.2h0M86.7 325.2h0M174.8 223.2h0M145.2 205h0M103.3 83.6h0M285.5 137.2h0M262.5 130.1h0M313.1 315.9h0M255.7 280.4h0M209 271.4h0M86.1 202.7h0M275.1 128h0M300.9 314.2h0M163.1 172.5h0M174.3 178.1h0M320.1 178.3h0M60.4 98.8h0M245.9 342.8h0M186.3 206.8h0M200.9 276.4h0M112.8 238.6h0M202.5 242.4h0M101.7 119.6h0M146.6 324.9h0M146.2 235.5h0M135.5 101.5h0M70.8 294.2h0M261.7 175.2h0M236.5 256.8h0M294.3 333.4h0M162.4 341.7h0M311.2 233.6h0M290.2 206.6h0M154 140.5h0M288.3 117.5h0M71.8 291.9h0M260.8 204.5h0M277.8 87.6h0M122.4 152.1h0M165.8 119.8h0M71.8 165.2h0M294.4 340.2h0M253.3 203.4h0M120.9 333.5h0M194.2 271.1h0M60.8 131h0M278.1 289.2h0M289.7 236.6h0M167.5 231.1h0M281.1 157h0M196.6 148.3h0M259.3 76.3h0M237.1 332.2h0M59.5 234.5h0M225.9 304.5h0M210 143.3h0M162 333.5h0M296.2 109.7h0M78.6 99h0M60 194.7h0M91 308.7h0M229 107.8h0M197.7 161.4h0M185.7 133.1h0M97.8 123.4h0M154.6 266h0M200.8 86h0M243.9 310.5h0M260.9 287.9h0M55.3 199.3h0M70.2 280.7h0M100.2 266.5h0M121.1 262.5h0M137.3 84.9h0M157.5 157.4h0M294.9 153.5h0M188.2 222.5h0M307.6 100.2h0M214.5 211.3h0M250.3 335.8h0M136.4 263.2h0M194.3 225.6h0M70.3 294.4h0M315.3 169.8h0M138.5 342.9h0M82.1 94.1h0M72.9 294.3h0M257.1 195h0M219.9 78.9h0M226.2 193.5h0M192 179.1h0M160.9 134.7h0M66.3 191.2h0M119.5 264.5h0M272.5 269.8h0M175.5 137.6h0M156.6 205.5h0M222.7 334.7h0M76.1 203.6h0M185.2 268h0M292.1 284.9h0M221.4 279.2h0M232.4 306.4h0M240.7 258.7h0M119 322.1h0M156.8 240.2h0M274.5 334.9h0M318.6 75.2h0M137.1 158h0M158.2 112.9h0M201.6 95.1h0M134.4 329.4h0M252.4 198.9h0M82.2 332.8h0M242.1 129.3h0M143.2 247.5h0M236.1 144.2h0M308.4 160.9h0M121.4 302.8h0M94.4 258.2h0M106.8 235.7h0M127.6 176.3h0M305.6 200.1h0M170.4 240.9h0M128.5 120.8h0M156.4 147.4h0M103.8 334.1h0M62.4 293.3h0M304 264.6h0M58.3 209.4h0M63.7 238.4h0M241.1 138.6h0M55.2 221.1h0M78.6 157.3h0M175 316.1h0M152.5 110.1h0M265.6 296.5h0M195.2 86.8h0M103.5 182.8h0M201.3 134.6h0M268.5 302.3h0M301.4 313.1h0M57.9 231.4h0M74.8 317.5h0M253.6 279.4h0M103.7 89.7h0" stroke="rgba(20,20,20,0.6)" stroke-width="1.6" stroke-linecap="round" fill="none"/>
<rect x="54" y="325" width="50" height="19" fill="rgba(40,40,40,0.25)"/>
<rect x="293" y="339" width="18" height="3.5" fill="#fff"/>
</g>
<rect x="51.2" y="71.5" width="272.3" height="275.2" fill="none" stroke="#000" stroke-width="1.2"/>
<rect x="115.4" y="122.4" width="144.4" height="133.6" fill="none" stroke="#fff" stroke-width="1.8"/>
<g clip-path="url(#cp_ko_top)">
<rect x="361.5" y="70.7" width="271.3" height="276" fill="#aaa" filter="url(#emn)"/>
<g transform="translate(286.5 8.4) scale(0.4964 0.4891)" filter="url(#blur05)"><use href="#koc"/></g>
<g filter="url(#blur05)">
<clipPath id="mc15"><path d="M372 118C374.5 110.5 378.7 99.7 385 95C391.3 90.3 402.2 88.3 410 90C417.8 91.7 425.7 96.7 432 105C438.3 113.3 443 128.3 448 140C453 151.7 458.3 162.5 462 175C465.7 187.5 470 205 470 215C470 225 467 231.2 462 235C457 238.8 447 239.7 440 238C433 236.3 426.7 231.3 420 225C413.3 218.7 406.3 209.2 400 200C393.7 190.8 387 180 382 170C377 160 371.7 148.7 370 140C368.3 131.3 369.5 125.5 372 118Z"/></clipPath><path d="M372 118C374.5 110.5 378.7 99.7 385 95C391.3 90.3 402.2 88.3 410 90C417.8 91.7 425.7 96.7 432 105C438.3 113.3 443 128.3 448 140C453 151.7 458.3 162.5 462 175C465.7 187.5 470 205 470 215C470 225 467 231.2 462 235C457 238.8 447 239.7 440 238C433 236.3 426.7 231.3 420 225C413.3 218.7 406.3 209.2 400 200C393.7 190.8 387 180 382 170C377 160 371.7 148.7 370 140C368.3 131.3 369.5 125.5 372 118Z" fill="rgba(60,60,60,0.12)"/><path d="M466.4 54.6L529.4 210.4M462.7 56.1L525.6 211.9M459 57.6L521.9 213.4M455.3 59.1L518.2 214.9M451.6 60.6L514.5 216.4M447.9 62.1L510.8 217.9M444.2 63.6L507.1 219.4M440.5 65.1L503.4 220.9M436.7 66.6L499.7 222.4M433 68.1L496 223.9M429.3 69.6L492.3 225.4M425.6 71.1L488.6 226.9M421.9 72.6L484.8 228.4M418.2 74.1L481.1 229.9M414.5 75.6L477.4 231.4M410.8 77.1L473.7 232.9M407.1 78.6L470 234.4M403.4 80.1L466.3 235.9M399.7 81.6L462.6 237.4M396 83.1L458.9 238.9M392.2 84.6L455.2 240.4M388.5 86.1L451.5 241.9M384.8 87.6L447.8 243.4M381.1 89.1L444 244.9M377.4 90.6L440.3 246.4M373.7 92.1L436.6 247.9M370 93.6L432.9 249.4M366.3 95.1L429.2 250.9M362.6 96.6L425.5 252.4M358.9 98.1L421.8 253.9M355.2 99.6L418.1 255.4M351.4 101.1L414.4 256.9M347.7 102.6L410.7 258.4M344 104.1L407 259.9M340.3 105.6L403.3 261.4M336.6 107.1L399.5 262.9M332.9 108.6L395.8 264.4M329.2 110.1L392.1 265.9M325.5 111.6L388.4 267.4M321.8 113.1L384.7 268.9M318.1 114.6L381 270.4M314.4 116.1L377.3 271.9M310.6 117.6L373.6 273.4" stroke="rgba(35,35,35,0.62)" stroke-width="1.3" fill="none" clip-path="url(#mc15)"/><path d="M372 118C374.5 110.5 378.7 99.7 385 95C391.3 90.3 402.2 88.3 410 90C417.8 91.7 425.7 96.7 432 105C438.3 113.3 443 128.3 448 140C453 151.7 458.3 162.5 462 175C465.7 187.5 470 205 470 215C470 225 467 231.2 462 235C457 238.8 447 239.7 440 238C433 236.3 426.7 231.3 420 225C413.3 218.7 406.3 209.2 400 200C393.7 190.8 387 180 382 170C377 160 371.7 148.7 370 140C368.3 131.3 369.5 125.5 372 118Z" fill="none" stroke="rgba(25,25,25,0.9)" stroke-width="1.7"/>
<clipPath id="mc16"><path d="M614.4 117.8C615.3 120.5 615.3 123.8 614.7 126.3C614.1 128.9 612.8 131.7 611 133.3C609.3 134.8 606.4 135.7 604.1 135.6C601.7 135.6 598.9 134.5 596.8 132.9C594.7 131.3 592.6 128.7 591.6 126.1C590.7 123.6 590.5 120.2 591 117.6C591.5 114.9 592.8 111.9 594.6 110.3C596.5 108.7 599.4 107.9 601.9 108C604.4 108 607.5 108.8 609.6 110.5C611.7 112.1 613.6 115.2 614.4 117.8Z"/></clipPath><path d="M614.4 117.8C615.3 120.5 615.3 123.8 614.7 126.3C614.1 128.9 612.8 131.7 611 133.3C609.3 134.8 606.4 135.7 604.1 135.6C601.7 135.6 598.9 134.5 596.8 132.9C594.7 131.3 592.6 128.7 591.6 126.1C590.7 123.6 590.5 120.2 591 117.6C591.5 114.9 592.8 111.9 594.6 110.3C596.5 108.7 599.4 107.9 601.9 108C604.4 108 607.5 108.8 609.6 110.5C611.7 112.1 613.6 115.2 614.4 117.8Z" fill="rgba(60,60,60,0.35)"/><path d="M570.3 113.1L611.6 89.2M572.3 116.5L613.6 92.7M574.3 120L615.6 96.2M576.3 123.5L617.6 99.6M578.3 126.9L619.6 103.1M580.3 130.4L621.6 106.6M582.3 133.9L623.6 110M584.3 137.3L625.6 113.5M586.3 140.8L627.6 117M588.3 144.3L629.6 120.4M590.3 147.7L631.6 123.9M592.3 151.2L633.6 127.4" stroke="rgba(35,35,35,0.62)" stroke-width="1.3" fill="none" clip-path="url(#mc16)"/><path d="M614.4 117.8C615.3 120.5 615.3 123.8 614.7 126.3C614.1 128.9 612.8 131.7 611 133.3C609.3 134.8 606.4 135.7 604.1 135.6C601.7 135.6 598.9 134.5 596.8 132.9C594.7 131.3 592.6 128.7 591.6 126.1C590.7 123.6 590.5 120.2 591 117.6C591.5 114.9 592.8 111.9 594.6 110.3C596.5 108.7 599.4 107.9 601.9 108C604.4 108 607.5 108.8 609.6 110.5C611.7 112.1 613.6 115.2 614.4 117.8Z" fill="none" stroke="rgba(25,25,25,0.9)" stroke-width="1.6"/>
<path d="M560 100C562.5 101.7 570 108.7 575 110C580 111.3 587.5 108.3 590 108" fill="none" stroke="rgba(30,30,30,0.65)" stroke-width="2"/>
<path d="M585 80C587.5 83.3 595.5 93.3 600 100C604.5 106.7 610 116.7 612 120" fill="none" stroke="rgba(30,30,30,0.65)" stroke-width="2"/>
<path d="M500 150C501.7 152.5 505.8 160.3 510 165C514.2 169.7 522.5 175.8 525 178" fill="none" stroke="rgba(30,30,30,0.65)" stroke-width="2"/>
<path d="M610 230C611.7 232.5 617.5 239.7 620 245C622.5 250.3 624.2 259.2 625 262" fill="none" stroke="rgba(30,30,30,0.65)" stroke-width="2"/>
<path d="M520 330C523.3 329.3 533.3 325.2 540 326C546.7 326.8 556.7 333.5 560 335" fill="none" stroke="rgba(30,30,30,0.65)" stroke-width="2"/>
<path d="M580 320C581.7 322.5 586.7 330.7 590 335C593.3 339.3 598.3 344.2 600 346" fill="none" stroke="rgba(30,30,30,0.65)" stroke-width="2"/>
<ellipse cx="520" cy="337" rx="30" ry="8" fill="rgba(40,40,40,0.4)"/>
</g>
<path d="M619.6 110.9h0M369.8 344.3h0M412.8 105.5h0M537.6 166.7h0M601.3 135.7h0M620 159.6h0M524.2 326.2h0M546.7 324h0M552.8 85.9h0M599.1 233.1h0M446.5 124.4h0M590.7 231.2h0M614.2 283.2h0M620.4 226.7h0M550.2 239.3h0M432.6 332.9h0M447 285.2h0M618.7 249.7h0M401.5 297.2h0M541.9 123h0M376.6 217.4h0M372.1 324.3h0M498.8 213.4h0M472.9 252.5h0M608.5 156.3h0M463.4 231.2h0M443 234.7h0M508.7 190.6h0M543.5 216.4h0M387.1 343.7h0M458.6 190.1h0M471.2 325.5h0M618 212h0M470.6 99h0M602.9 119.3h0M509.6 167.7h0M451.3 169.9h0M414.6 82.8h0M506.6 289.2h0M536.5 127.5h0M548.9 86.9h0M473.3 297.9h0M609.7 198h0M589.8 208.3h0M503.6 231.7h0M628.5 275h0M489.9 270.5h0M535.4 168.9h0M573.1 295.7h0M526.1 329.1h0M368.4 208.7h0M533.1 165.3h0M409.3 260.9h0M479.6 145.9h0M374.7 335.8h0M457.7 104.8h0M421.3 142h0M595 121.8h0M437.4 99.2h0M489.1 129.2h0M455.5 272.6h0M610.8 299.6h0M373.7 175.4h0M590.4 81.7h0M417.8 206h0M465.7 276.8h0M555.5 199h0M430.1 135.5h0M434.7 90.4h0M541.5 115.6h0M601.2 248.4h0M378.7 208.4h0M524.9 84.2h0M493.6 80.8h0M568.3 73.8h0M532.4 340.8h0M589.7 136.2h0M506.4 110.7h0M455 307.7h0M582.1 75.2h0M465 246.8h0M410.4 291h0M602.2 222.7h0M460.3 303.5h0M500.6 123.9h0M437.7 116h0M587.7 211.4h0M549.7 295h0M623.8 124.5h0M472 310.5h0M567.1 177.9h0M538.8 125.7h0M406.7 86.5h0M465 136.9h0M501.9 336.4h0M404.4 224.4h0M594.6 235.5h0M504.4 281.5h0M369.3 330.7h0M547 292.1h0M584.1 99.5h0M381.3 121.2h0M498.4 327.9h0M606.6 184.8h0M529.9 273.9h0M452.3 336.7h0M615.2 270.4h0M604.5 290.5h0M537.8 160.1h0M438.7 137.6h0M378.8 324.5h0M443.2 79.2h0M448 100.8h0M482.5 163.1h0M410.4 202.4h0M474.4 169h0M580.9 156.1h0M508.2 311.5h0M619.9 174.6h0M374.3 331.2h0M500.9 131.9h0M397.8 137.7h0M446.5 110.4h0M376.6 343.2h0M582.8 103.5h0M492 290.7h0M498.3 91.5h0M454.3 176.2h0M607.9 231.2h0M486.2 244.2h0M376.5 259.3h0M579.5 255.1h0M460 150.5h0M366.2 95h0M404.8 196h0M571.5 131.8h0M489.8 245.7h0M531.8 78.3h0M609.6 231.9h0M444.6 137.8h0M547.7 326.4h0M453.7 181h0M512.4 120.3h0M472 322.3h0M512.2 296.6h0M433.5 309h0M572.7 134h0M505.2 258.2h0M516.6 236.4h0M427.7 223.4h0M458.3 289.7h0M463.1 339.1h0M518.7 134.6h0M474.6 107.5h0M560.3 85.2h0M525.2 156.5h0M571.2 107.2h0M545.4 266.9h0M425.8 108.1h0M463.1 249.2h0M433.2 75.1h0M481.5 292.7h0M405.7 328.6h0M499.3 116.4h0M390.2 173.6h0M490.8 120.5h0M386 209h0M431.4 193.6h0M484 262.4h0M517.9 134.8h0M411.5 306.3h0M377 106.2h0M382.2 297.5h0M508.1 324h0M530.9 163.9h0M478.6 271.9h0M425.3 291.1h0M472.4 84.2h0M455.4 225.1h0M402.7 319h0" stroke="rgba(20,20,20,0.6)" stroke-width="1.6" stroke-linecap="round" fill="none"/>
<rect x="364" y="325" width="50" height="19" fill="rgba(40,40,40,0.25)"/>
<rect x="604" y="339.5" width="18" height="3.5" fill="#fff"/>
</g>
<rect x="361.5" y="70.7" width="271.3" height="276" fill="none" stroke="#000" stroke-width="1.2"/>
<rect x="462.2" y="181.6" width="142.6" height="133.8" fill="none" stroke="#fff" stroke-width="1.8"/>
<line x1="115" y1="256.4" x2="44" y2="351" stroke="#000" stroke-width="1.6"/>
<line x1="260" y1="256.4" x2="329" y2="351" stroke="#000" stroke-width="1.6"/>
<line x1="462" y1="315.6" x2="354" y2="353" stroke="#000" stroke-width="1.6"/>
<line x1="605" y1="315.6" x2="641" y2="353" stroke="#000" stroke-width="1.6"/>
<g clip-path="url(#cp_wt_bot)">
<rect x="42.4" y="351.6" width="287.3" height="275.5" fill="#aaa" filter="url(#emn2)"/>
<g filter="url(#blur1)"><use href="#wtc"/></g>
<path d="M47.9 384.1h0M155.7 539.3h0M83.7 384.1h0M110.1 559.3h0M86.2 554.7h0M232 390.7h0M196.2 475.2h0M161.3 624.1h0M70.8 359.1h0M310.6 463h0M100.6 443.3h0M147.8 612.9h0M104 412.5h0M210.1 502.2h0M314.6 581.3h0M145.1 408.9h0M281.4 622.1h0M53 553.2h0M290.4 530.4h0M106.3 569.9h0M251.2 406.2h0M226 413.1h0M56.1 444.8h0M139.1 461.2h0M227.6 580.6h0M316.7 618.7h0M325.9 568h0M131.2 401.5h0M221.1 501.8h0M235.5 379h0M99 603.7h0M214.8 542.4h0M71.5 462h0M302.2 529.9h0M325.3 407.1h0M173.2 570.9h0M170.4 567.8h0M203.5 385.6h0M72.4 620.5h0M78.2 406.3h0M139.4 547.3h0M286.4 482.7h0M185.5 567.7h0M123.2 454.7h0M218 526.3h0M55.2 384h0M83.5 550.5h0M240.7 617.8h0M261.8 422.8h0M261.3 621h0M143.2 356.6h0M150.7 430.3h0M94.3 365.8h0M79.8 588.5h0M58.6 520.3h0M102.9 406.1h0M276.9 434.7h0M96.5 477.1h0M241.3 496h0M288 462.6h0M192.9 548.3h0M175.2 548.3h0M176.7 389.9h0M79.4 566.2h0M255.4 609.6h0M239.9 511h0M91.5 585.2h0M78.1 469h0M84.2 457h0M131.4 469.1h0M245.9 500.6h0M113.2 565.1h0M252.7 578.2h0M53.7 520.5h0M298.1 423.9h0M101.7 574.6h0M147.5 462.5h0M276 457.9h0M100.6 411.8h0M142.3 543.1h0M148.7 562.9h0M63.1 421.2h0M221.4 483.8h0M186 607.6h0M123 402.9h0M54 484.6h0M128.6 482.2h0M46 353.7h0M152 559.3h0M129.5 601.4h0" stroke="rgba(20,20,20,0.7)" stroke-width="2.6" stroke-linecap="round" fill="none"/>
<polygon points="174,399.1 169.2,419.4 164,418.2 168.9,434.7 180.6,422.1 175.4,420.8 180.2,400.5" fill="#ff1a0a"/>
<polygon points="98.2,485.9 119.2,477.2 121.3,482.2 131.9,468.6 114.8,466.5 116.8,471.4 95.8,480.1" fill="#ff1a0a"/>
<polygon points="175.3,544.5 160.8,528.8 164.8,525.2 148.3,520 152.3,536.7 156.2,533.1 170.7,548.8" fill="#ff1a0a"/>
<polygon points="195.7,606 180.7,591 184.5,587.2 167.9,582.6 172.4,599.2 176.2,595.4 191.3,610.5" fill="#ff1a0a"/>
<polygon points="243.6,520.6 234.7,502.3 239.5,500 225.4,490.2 224.2,507.4 229,505 237.9,523.4" fill="#ff1a0a"/>
<polygon points="246.8,533.7 266.8,518.3 270,522.5 276.7,506.6 259.6,509.1 262.9,513.3 242.9,528.8" fill="#ff1a0a"/>
<polygon points="314.6,416.9 312.1,440 306.8,439.4 313.7,455.3 323.7,441.3 318.4,440.7 320.9,417.6" fill="#ff1a0a"/>
</g>
<rect x="42.4" y="351.6" width="287.3" height="275.5" fill="none" stroke="#000" stroke-width="1.4"/>
<g clip-path="url(#cp_ko_bot)">
<rect x="353.2" y="353.4" width="288.5" height="274.8" fill="#aaa" filter="url(#emn2)"/>
<g filter="url(#blur1)"><use href="#koc"/></g>
<path d="M377.2 413.2h0M441.4 599.2h0M496.4 550.4h0M383.7 493.2h0M595.1 497h0M624 594.2h0M460.7 355.6h0M570.1 389.6h0M357.9 553.3h0M595 581.9h0M626.5 410h0M378.4 388.1h0M633.4 385.7h0M400.6 360.8h0M369.2 365.8h0M455.6 399.6h0M443.3 606.9h0M402.8 575.9h0M565.3 509.4h0M519 564h0M522.2 417.5h0M448.9 421.5h0M469.2 622.8h0M476.6 374.3h0M490.8 575.5h0M482 545.6h0M381.1 372.3h0M543.5 368.5h0M441.1 459.6h0M410.3 365.2h0M357.1 613.1h0M551.1 613.1h0M495.1 613.9h0M600.6 522.8h0M504.6 493.1h0M419.3 457.3h0M560.9 408.3h0M597 493.5h0M527.1 578h0M539 392.7h0M425.7 355.7h0M363 613.1h0M523.9 617.7h0M577.3 440.9h0M630.4 605.2h0M485 377.9h0M445.8 400.4h0M459.2 377.7h0M558.1 620.7h0M415.2 566.6h0M521.5 486.1h0M613.3 457.6h0M588.8 364.8h0M629.8 404.8h0M356.3 594.1h0M560.4 538.1h0M573.1 457.6h0M387.8 441.6h0M626.5 621.2h0M420.6 475.2h0M483.4 600.3h0M356.8 580h0M427.3 504.1h0M391.9 378.2h0M606.4 491.6h0M631.7 589.6h0M569.3 375.6h0M522.9 624.1h0M498.3 373.2h0M407.8 622.9h0M633.1 422.3h0M445.8 549h0M499.6 405.6h0M635.3 523.5h0M459.1 361.4h0M500.4 559h0M405.8 379h0M561.2 604.6h0M462.4 483.5h0M536.3 496.2h0M391.7 429.8h0M413.8 408.8h0M380.3 461.3h0M417.6 584.9h0M446.8 616.2h0M585.9 428.3h0M399.1 510.3h0M490.1 500.3h0M390.3 499.2h0M571.2 475.9h0M427.8 605.2h0M439.4 624.9h0M551.1 356h0M482.5 395.8h0M578.9 469.4h0M379.5 613.2h0M582.6 520h0M516.7 375.5h0M634.7 437.1h0M504.3 488.1h0M489.6 360.3h0M609.3 488.8h0M467.1 588.5h0M599.9 550.1h0M613.4 450.1h0M385 449.6h0M526.4 568.5h0M564.1 525.9h0M526.1 535.8h0M518.7 359.5h0" stroke="rgba(20,20,20,0.7)" stroke-width="2.6" stroke-linecap="round" fill="none"/>
<polygon points="618.9,442.2 596.3,430.6 598.8,425.8 581.6,426.5 591,440.9 593.5,436.2 616.1,447.8" fill="#ff1a0a"/>
<polygon points="492.5,469.1 512.1,483 509,487.4 526.1,489.1 518.8,473.5 515.7,477.9 496.1,464" fill="#ff1a0a"/>
<polygon points="510.7,593.9 537.8,593.9 537.8,599.3 552.8,590.8 537.8,582.3 537.8,587.6 510.7,587.6" fill="#ff1a0a"/>
</g>
<rect x="353.2" y="353.4" width="288.5" height="274.8" fill="none" stroke="#000" stroke-width="1.4"/>
<!-- panel_bcd -->
<text x="670.1" y="34.8" font-size="42.5" font-weight="bold">b</text>
<line x1="800.2" y1="125" x2="800.2" y2="513.2" stroke="#000" stroke-width="4"/>
<line x1="784.3" y1="511.2" x2="980.3" y2="511.2" stroke="#000" stroke-width="4"/>
<line x1="783.7" y1="182.8" x2="800.7" y2="182.8" stroke="#000" stroke-width="3.8"/>
<text x="779" y="192.2" font-size="26.5" text-anchor="end" font-weight="bold">3</text>
<line x1="783.7" y1="292.3" x2="800.7" y2="292.3" stroke="#000" stroke-width="3.8"/>
<text x="779" y="301.7" font-size="26.5" text-anchor="end" font-weight="bold">2</text>
<line x1="783.7" y1="401.8" x2="800.7" y2="401.8" stroke="#000" stroke-width="3.8"/>
<text x="779" y="411.2" font-size="26.5" text-anchor="end" font-weight="bold">1</text>
<line x1="783.7" y1="511.2" x2="800.7" y2="511.2" stroke="#000" stroke-width="3.8"/>
<text x="779" y="520.6" font-size="26.5" text-anchor="end" font-weight="bold">0</text>
<line x1="851" y1="511.2" x2="851" y2="528.2" stroke="#000" stroke-width="3.8"/>
<line x1="928.5" y1="511.2" x2="928.5" y2="528.2" stroke="#000" stroke-width="3.8"/>
<text x="713.5" y="321.8" font-size="28.6" text-anchor="middle" font-weight="bold" transform="rotate(-90 713.5 321.8)">Number of MERCs</text>
<text x="746" y="321.8" font-size="28.6" text-anchor="middle" font-weight="bold" transform="rotate(-90 746 321.8)">per mitochondrion</text>
<path d="M851.2 154.6C851 154.6 851 169.8 850.6 175C850.2 180.2 849.9 182.3 848.7 186C847.6 189.7 845.6 192.5 843.7 197C841.8 201.5 838.8 206.7 837.2 213C835.6 219.3 835.4 228 834.2 235C833 242 831.4 248.5 830.2 255C829 261.5 827.3 267.8 827.2 274C827.1 280.2 828.8 286 829.7 292C830.6 298 831.5 303.7 832.7 310C833.9 316.3 835.7 324.2 836.7 330C837.7 335.8 838.6 339.7 838.7 345C838.8 350.3 837.6 356.5 837.2 362C836.8 367.5 835.7 373 836.2 378C836.7 383 838.5 387.8 840.2 392C842 396.2 845 399.7 846.7 403C848.4 406.3 849.5 405.7 850.2 412C851 418.3 850.9 441 851.2 441C851.5 441 851.5 418.3 852.2 412C853 405.7 854 406.3 855.7 403C857.4 399.7 860.5 396.2 862.2 392C864 387.8 865.7 383 866.2 378C866.7 373 865.6 367.5 865.2 362C864.8 356.5 863.6 350.3 863.7 345C863.8 339.7 864.7 335.8 865.7 330C866.7 324.2 868.5 316.3 869.7 310C870.9 303.7 871.8 298 872.7 292C873.6 286 875.3 280.2 875.2 274C875.1 267.8 873.4 261.5 872.2 255C871 248.5 869.4 242 868.2 235C867 228 866.8 219.3 865.2 213C863.6 206.7 860.6 201.5 858.7 197C856.8 192.5 854.9 189.7 853.7 186C852.6 182.3 852.2 180.2 851.8 175C851.4 169.8 851.4 154.6 851.2 154.6Z" fill="#d2d2d2" stroke="#000" stroke-width="3.7" stroke-linejoin="round"/>
<path d="M928.8 127.7C928 127.7 927.2 135.1 926.3 140C925.4 144.9 923.8 151.2 923.2 157C922.6 162.8 923 169.5 922.8 175C922.6 180.5 922.3 185 921.8 190C921.3 195 920.8 199.3 919.8 205C918.8 210.7 917 218.2 915.8 224C914.6 229.8 913.7 234.3 912.8 240C911.9 245.7 911.1 251.3 910.3 258C909.5 264.7 908.4 272.7 907.8 280C907.1 287.3 906.4 295 906.4 302C906.4 309 907 316 907.8 322C908.6 328 910.4 333.5 911.3 338C912.2 342.5 913.3 344.5 913.1 349C912.8 353.5 911.3 359 909.8 365C908.3 371 904.6 379.2 904.2 385C903.8 390.8 905.8 395.5 907.3 400C908.8 404.5 911 408 913.1 412C915.2 416 917.8 420.3 919.8 424C921.8 427.7 923.5 429.7 924.8 434C926 438.3 926.8 444 927.3 450C927.8 456 927.8 462.7 928 470C928.2 477.3 928.5 493.8 928.8 493.8C929.1 493.8 929.3 477.3 929.6 470C929.8 462.7 929.8 456 930.3 450C930.8 444 931.5 438.3 932.8 434C934 429.7 935.8 427.7 937.8 424C939.8 420.3 942.4 416 944.5 412C946.6 408 948.8 404.5 950.3 400C951.8 395.5 953.8 390.8 953.4 385C953 379.2 949.3 371 947.8 365C946.3 359 944.8 353.5 944.5 349C944.2 344.5 945.4 342.5 946.3 338C947.2 333.5 949 328 949.8 322C950.6 316 951.2 309 951.2 302C951.2 295 950.4 287.3 949.8 280C949.1 272.7 948.1 264.7 947.3 258C946.5 251.3 945.7 245.7 944.8 240C943.9 234.3 943 229.8 941.8 224C940.6 218.2 938.8 210.7 937.8 205C936.8 199.3 936.3 195 935.8 190C935.3 185 935 180.5 934.8 175C934.6 169.5 935 162.8 934.4 157C933.8 151.2 932.2 144.9 931.3 140C930.4 135.1 929.6 127.7 928.8 127.7Z" fill="#f3989c" stroke="#ff1a0a" stroke-width="3.7" stroke-linejoin="round"/>
<line x1="831.1" y1="258.7" x2="871.3" y2="258.7" stroke="#000" stroke-width="1.6" stroke-dasharray="1.6 3.4"/>
<line x1="831.2" y1="292.3" x2="871.2" y2="292.3" stroke="#000" stroke-width="1.6" stroke-dasharray="6 3"/>
<line x1="839.9" y1="342.6" x2="862.5" y2="342.6" stroke="#000" stroke-width="1.6" stroke-dasharray="1.6 3.4"/>
<line x1="912.2" y1="255.4" x2="945.4" y2="255.4" stroke="#ff1a0a" stroke-width="1.6" stroke-dasharray="1.6 3.4"/>
<line x1="909" y1="318.1" x2="948.6" y2="318.1" stroke="#ff1a0a" stroke-width="1.6" stroke-dasharray="6 3"/>
<line x1="907.2" y1="379.5" x2="950.4" y2="379.5" stroke="#ff1a0a" stroke-width="1.6" stroke-dasharray="1.6 3.4"/>
<line x1="851" y1="274.4" x2="927.7" y2="285.6" stroke="#000" stroke-width="3"/>
<line x1="851" y1="274.4" x2="927.7" y2="300.2" stroke="#000" stroke-width="3"/>
<line x1="851" y1="362.7" x2="927.7" y2="376.2" stroke="#000" stroke-width="3"/>
<circle cx="851" cy="274.4" r="5.8" fill="#d2d2d2" stroke="#000" stroke-width="3"/>
<circle cx="851" cy="362.7" r="5.8" fill="#fff" stroke="#000" stroke-width="3"/>
<rect x="921.7" y="279.6" width="12" height="12" fill="#ff1a0a" stroke="#ff1a0a" stroke-width="2.2"/>
<rect x="922.2" y="294.7" width="11" height="11" fill="#f7c3c3" stroke="#ff1a0a" stroke-width="2.4"/>
<rect x="922.2" y="370.7" width="11" height="11" fill="#fff" stroke="#ff1a0a" stroke-width="2.4"/>
<text x="891" y="98.6" font-size="24" text-anchor="middle" font-style="italic">0.0507</text>
<line x1="851.5" y1="112.7" x2="926.6" y2="112.7" stroke="#000" stroke-width="3"/>
<text x="857" y="72.5" font-size="25.6" transform="rotate(-45 857 72.5)">(n=30)</text>
<text x="920" y="73.5" font-size="25.6" transform="rotate(-45 920 73.5)">(n=30)</text>
<text x="859" y="550.5" font-size="26.5" text-anchor="end" transform="rotate(-45 859 550.5)"><tspan font-style="italic">CDK4-</tspan><tspan font-weight="bold">WT</tspan></text>
<text x="936.5" y="550.5" font-size="26.5" text-anchor="end" transform="rotate(-45 936.5 550.5)"><tspan font-style="italic">CDK4-</tspan><tspan font-weight="bold">KO</tspan></text>
<text x="1038" y="32.6" font-size="42.5" font-weight="bold">c</text>
<line x1="1183.8" y1="121" x2="1183.8" y2="511.8" stroke="#000" stroke-width="4"/>
<line x1="1167.8" y1="509.8" x2="1367.6" y2="509.8" stroke="#000" stroke-width="4"/>
<line x1="1167.3" y1="123" x2="1184.3" y2="123" stroke="#000" stroke-width="3.8"/>
<text x="1162" y="132.4" font-size="26.5" text-anchor="end" font-weight="bold">40</text>
<line x1="1167.3" y1="220" x2="1184.3" y2="220" stroke="#000" stroke-width="3.8"/>
<text x="1162" y="229.4" font-size="26.5" text-anchor="end" font-weight="bold">30</text>
<line x1="1167.3" y1="316.6" x2="1184.3" y2="316.6" stroke="#000" stroke-width="3.8"/>
<text x="1162" y="326" font-size="26.5" text-anchor="end" font-weight="bold">20</text>
<line x1="1167.3" y1="413.3" x2="1184.3" y2="413.3" stroke="#000" stroke-width="3.8"/>
<text x="1162" y="422.7" font-size="26.5" text-anchor="end" font-weight="bold">10</text>
<line x1="1167.3" y1="509.8" x2="1184.3" y2="509.8" stroke="#000" stroke-width="3.8"/>
<text x="1162" y="519.2" font-size="26.5" text-anchor="end" font-weight="bold">0</text>
<line x1="1235.7" y1="509.8" x2="1235.7" y2="526.8" stroke="#000" stroke-width="3.8"/>
<line x1="1313.5" y1="509.8" x2="1313.5" y2="526.8" stroke="#000" stroke-width="3.8"/>
<text x="1082.5" y="317.7" font-size="29" text-anchor="middle" font-weight="bold" transform="rotate(-90 1082.5 317.7)">% of mitochondria membranes</text>
<text x="1116.5" y="316" font-size="29" text-anchor="middle" font-weight="bold" transform="rotate(-90 1116.5 316)">associated to ER</text>
<path d="M1235.7 178.5C1235.4 178.5 1235.2 191.1 1234.7 196C1234.2 200.9 1233.2 204.2 1232.7 208C1232.2 211.8 1231.7 215.3 1231.7 219C1231.7 222.7 1232.2 226.2 1232.7 230C1233.2 233.8 1234.3 237 1234.7 242C1235.1 247 1235.1 252 1235.1 260C1235.1 268 1235.2 282.8 1234.9 290C1234.6 297.2 1234.2 299.3 1233.2 303C1232.2 306.7 1230.5 309.2 1228.7 312C1227 314.8 1224.9 317.3 1222.7 320C1220.5 322.7 1217.7 325.2 1215.7 328C1213.7 330.8 1211.4 333.8 1210.9 337C1210.4 340.2 1211.7 343.5 1212.7 347C1213.7 350.5 1215.7 354.6 1216.7 358C1217.7 361.4 1218.6 363.8 1218.7 367.5C1218.8 371.2 1217.8 375.7 1217.2 380C1216.6 384.3 1214.8 389.2 1215 393.5C1215.2 397.8 1217.1 401.3 1218.7 406C1220.3 410.7 1222.9 417.2 1224.7 421.9C1226.5 426.6 1228.2 430.1 1229.7 434C1231.2 437.9 1232.8 442 1233.7 445.5C1234.6 449 1234.6 450.7 1234.9 455C1235.2 459.3 1235.4 471.5 1235.7 471.5C1236 471.5 1236.2 459.3 1236.5 455C1236.8 450.7 1236.8 449 1237.7 445.5C1238.6 442 1240.2 437.9 1241.7 434C1243.2 430.1 1244.9 426.6 1246.7 421.9C1248.5 417.2 1251.1 410.7 1252.7 406C1254.3 401.3 1256.2 397.8 1256.4 393.5C1256.7 389.2 1254.8 384.3 1254.2 380C1253.6 375.7 1252.6 371.2 1252.7 367.5C1252.8 363.8 1253.7 361.4 1254.7 358C1255.7 354.6 1257.7 350.5 1258.7 347C1259.7 343.5 1261 340.2 1260.5 337C1260 333.8 1257.7 330.8 1255.7 328C1253.7 325.2 1250.9 322.7 1248.7 320C1246.5 317.3 1244.5 314.8 1242.7 312C1241 309.2 1239.2 306.7 1238.2 303C1237.2 299.3 1236.8 297.2 1236.5 290C1236.2 282.8 1236.3 268 1236.3 260C1236.3 252 1236.3 247 1236.7 242C1237.1 237 1238.2 233.8 1238.7 230C1239.2 226.2 1239.7 222.7 1239.7 219C1239.7 215.3 1239.2 211.8 1238.7 208C1238.2 204.2 1237.2 200.9 1236.7 196C1236.2 191.1 1236 178.5 1235.7 178.5Z" fill="#d2d2d2" stroke="#000" stroke-width="3.7" stroke-linejoin="round"/>
<path d="M1313.2 315.5C1312.9 315.5 1312.7 326.1 1312.2 330C1311.7 333.9 1311.5 336 1310.2 339C1308.9 342 1306 345.2 1304.2 348C1302.4 350.8 1300.7 353.3 1299.2 356C1297.7 358.7 1296.5 360.3 1295.2 364C1294 367.7 1292.6 373.5 1291.7 378C1290.8 382.5 1289.5 386.7 1289.6 391C1289.7 395.3 1290.9 400.3 1292.2 404C1293.5 407.7 1295.9 410 1297.2 413C1298.5 416 1299.8 418.7 1300.2 421.9C1300.6 425.1 1300.3 428.1 1299.7 432C1299.1 435.9 1297.5 440.4 1296.7 445C1296 449.6 1295 455.5 1295.2 459.7C1295.5 463.9 1296.8 466.6 1298.2 470C1299.6 473.4 1302 477 1303.7 480C1305.4 483 1307 485.2 1308.2 488C1309.5 490.8 1310.5 494.2 1311.2 497C1311.9 499.8 1312.1 501.8 1312.4 505C1312.7 508.2 1312.9 516.5 1313.2 516.5C1313.5 516.5 1313.7 508.2 1314 505C1314.3 501.8 1314.5 499.8 1315.2 497C1315.9 494.2 1317 490.8 1318.2 488C1319.5 485.2 1321 483 1322.7 480C1324.4 477 1326.8 473.4 1328.2 470C1329.6 466.6 1331 463.9 1331.2 459.7C1331.5 455.5 1330.5 449.6 1329.7 445C1329 440.4 1327.3 435.9 1326.7 432C1326.1 428.1 1325.8 425.1 1326.2 421.9C1326.6 418.7 1327.9 416 1329.2 413C1330.5 410 1332.9 407.7 1334.2 404C1335.5 400.3 1336.7 395.3 1336.8 391C1336.9 386.7 1335.6 382.5 1334.7 378C1333.8 373.5 1332.5 367.7 1331.2 364C1330 360.3 1328.7 358.7 1327.2 356C1325.7 353.3 1324 350.8 1322.2 348C1320.4 345.2 1317.5 342 1316.2 339C1314.9 336 1314.7 333.9 1314.2 330C1313.7 326.1 1313.5 315.5 1313.2 315.5Z" fill="#f3989c" stroke="#ff1a0a" stroke-width="3.7" stroke-linejoin="round"/>
<line x1="1212.8" y1="336.3" x2="1258.6" y2="336.3" stroke="#000" stroke-width="1.6" stroke-dasharray="1.6 3.4"/>
<line x1="1220.1" y1="367" x2="1251.3" y2="367" stroke="#000" stroke-width="1.6" stroke-dasharray="6 3"/>
<line x1="1217.4" y1="396.6" x2="1254" y2="396.6" stroke="#000" stroke-width="1.6" stroke-dasharray="1.6 3.4"/>
<line x1="1292.6" y1="381.7" x2="1333.8" y2="381.7" stroke="#ff1a0a" stroke-width="1.6" stroke-dasharray="1.6 3.4"/>
<line x1="1294" y1="404.6" x2="1332.4" y2="404.6" stroke="#ff1a0a" stroke-width="1.6" stroke-dasharray="6 3"/>
<line x1="1297.7" y1="450.3" x2="1328.7" y2="450.3" stroke="#ff1a0a" stroke-width="1.6" stroke-dasharray="1.6 3.4"/>
<line x1="1236.4" y1="353.5" x2="1314.4" y2="390.4" stroke="#000" stroke-width="3"/>
<line x1="1236.4" y1="353.5" x2="1314.4" y2="414.8" stroke="#000" stroke-width="3"/>
<line x1="1236.4" y1="380.5" x2="1314.4" y2="433.2" stroke="#000" stroke-width="3"/>
<circle cx="1236.4" cy="351" r="5.6" fill="#d2d2d2" stroke="#000" stroke-width="3"/>
<circle cx="1236.4" cy="354.5" r="5.6" fill="#d2d2d2" stroke="#000" stroke-width="3"/>
<circle cx="1236.4" cy="380.5" r="5.6" fill="#fff" stroke="#000" stroke-width="3"/>
<rect x="1307.9" y="383.9" width="13" height="13" fill="#ff1a0a" stroke="#ff1a0a" stroke-width="2.2"/>
<rect x="1308.7" y="409.1" width="11.5" height="11.5" fill="#f7c3c3" stroke="#ff1a0a" stroke-width="2.4"/>
<rect x="1308.7" y="427.4" width="11.5" height="11.5" fill="#fff" stroke="#ff1a0a" stroke-width="2.4"/>
<text x="1275.5" y="115.9" font-size="24" text-anchor="middle" font-weight="bold" font-style="italic">0.0302</text>
<line x1="1237" y1="133.6" x2="1314" y2="133.6" stroke="#000" stroke-width="3"/>
<text x="1238" y="82" font-size="25.6" transform="rotate(-45 1238 82)">(n=30)</text>
<text x="1297" y="82.5" font-size="25.6" transform="rotate(-45 1297 82.5)">(n=30)</text>
<text x="1243.7" y="550.5" font-size="26.5" text-anchor="end" transform="rotate(-45 1243.7 550.5)"><tspan font-style="italic">CDK4-</tspan><tspan font-weight="bold">WT</tspan></text>
<text x="1321.5" y="550.5" font-size="26.5" text-anchor="end" transform="rotate(-45 1321.5 550.5)"><tspan font-style="italic">CDK4-</tspan><tspan font-weight="bold">KO</tspan></text>
<text x="1425.6" y="32.8" font-size="42.5" font-weight="bold">d</text>
<line x1="1542.1" y1="121.1" x2="1542.1" y2="511.3" stroke="#000" stroke-width="4"/>
<line x1="1526.8" y1="509.3" x2="1734.6" y2="509.3" stroke="#000" stroke-width="4"/>
<line x1="1525.6" y1="123.1" x2="1542.6" y2="123.1" stroke="#000" stroke-width="3.8"/>
<text x="1518" y="132.5" font-size="26.5" text-anchor="end" font-weight="bold">60</text>
<line x1="1525.6" y1="251.6" x2="1542.6" y2="251.6" stroke="#000" stroke-width="3.8"/>
<text x="1518" y="261" font-size="26.5" text-anchor="end" font-weight="bold">40</text>
<line x1="1525.6" y1="380.6" x2="1542.6" y2="380.6" stroke="#000" stroke-width="3.8"/>
<text x="1518" y="390" font-size="26.5" text-anchor="end" font-weight="bold">20</text>
<line x1="1525.6" y1="509.3" x2="1542.6" y2="509.3" stroke="#000" stroke-width="3.8"/>
<text x="1518" y="518.7" font-size="26.5" text-anchor="end" font-weight="bold">0</text>
<line x1="1597.3" y1="509.3" x2="1597.3" y2="526.3" stroke="#000" stroke-width="3.8"/>
<line x1="1678.2" y1="509.3" x2="1678.2" y2="526.3" stroke="#000" stroke-width="3.8"/>
<text x="1472.5" y="316.7" font-size="29.2" text-anchor="middle" font-weight="bold" transform="rotate(-90 1472.5 316.7)">Mean MERCs distance (nm)</text>
<path d="M1597.3 161.5C1597 161.5 1597.1 172.9 1596.5 178C1595.9 183.1 1594.5 187 1593.8 192C1593.1 197 1592.7 202.3 1592.3 208C1591.9 213.7 1592 220.2 1591.3 226C1590.6 231.8 1589.4 237.4 1588.3 243C1587.2 248.6 1585.8 254 1584.9 259.8C1584 265.6 1583.4 272.4 1582.8 278C1582.2 283.6 1581.9 287.3 1581.3 293.6C1580.7 299.9 1580.1 310.3 1579.3 316C1578.5 321.7 1577.5 324.2 1576.3 328C1575.1 331.8 1573 335 1572.3 339C1571.6 343 1571.5 347.7 1572.3 352C1573.1 356.3 1575.9 360.8 1577.3 364.8C1578.7 368.8 1579.8 372.3 1580.8 376C1581.8 379.7 1582.3 383.3 1583.3 387C1584.3 390.7 1585.6 394.2 1586.8 398C1588 401.8 1589.2 406.2 1590.3 410C1591.4 413.8 1592.5 417.2 1593.3 421C1594.1 424.8 1594.8 428.5 1595.3 432.5C1595.8 436.5 1596.2 438.8 1596.5 445C1596.8 451.2 1597 469.8 1597.3 469.8C1597.6 469.8 1597.8 451.2 1598.1 445C1598.4 438.8 1598.8 436.5 1599.3 432.5C1599.8 428.5 1600.5 424.8 1601.3 421C1602.1 417.2 1603.2 413.8 1604.3 410C1605.4 406.2 1606.6 401.8 1607.8 398C1609 394.2 1610.3 390.7 1611.3 387C1612.3 383.3 1612.8 379.7 1613.8 376C1614.8 372.3 1615.9 368.8 1617.3 364.8C1618.7 360.8 1621.5 356.3 1622.3 352C1623.1 347.7 1623 343 1622.3 339C1621.6 335 1619.5 331.8 1618.3 328C1617.1 324.2 1616.1 321.7 1615.3 316C1614.5 310.3 1613.9 299.9 1613.3 293.6C1612.7 287.3 1612.4 283.6 1611.8 278C1611.2 272.4 1610.6 265.6 1609.7 259.8C1608.8 254 1607.4 248.6 1606.3 243C1605.2 237.4 1604 231.8 1603.3 226C1602.6 220.2 1602.7 213.7 1602.3 208C1601.9 202.3 1601.5 197 1600.8 192C1600.1 187 1598.7 183.1 1598.1 178C1597.5 172.9 1597.6 161.5 1597.3 161.5Z" fill="#d2d2d2" stroke="#000" stroke-width="3.7" stroke-linejoin="round"/>
<path d="M1678.2 155.9C1677.7 155.9 1677.2 164.7 1676.7 168C1676.2 171.3 1676.3 173 1675.2 176C1674.1 179 1671.8 182.6 1670.2 186C1668.6 189.4 1666.8 192.5 1665.8 196.5C1664.8 200.5 1664.6 205.1 1664.2 210C1663.8 214.9 1663.7 220.5 1663.2 226C1662.7 231.5 1661.9 237.3 1661.2 243C1660.5 248.7 1660 254.2 1659.2 260C1658.5 265.8 1657.5 272.3 1656.7 278C1655.9 283.7 1655.2 287.7 1654.5 294C1653.8 300.3 1652.9 310 1652.8 316C1652.7 322 1653 325.7 1653.7 330C1654.4 334.3 1655.6 338 1656.7 342C1657.8 346 1659.1 350.2 1660.2 354C1661.3 357.8 1662.3 360.3 1663.5 364.8C1664.7 369.3 1666.1 375.4 1667.2 381C1668.3 386.6 1669.3 392.9 1670.2 398.6C1671.1 404.3 1672 409.4 1672.7 415C1673.4 420.6 1673.8 426.7 1674.2 432.5C1674.6 438.3 1674.9 443.8 1675.2 450C1675.5 456.2 1675.9 464.2 1676.2 470C1676.5 475.8 1676.9 480.3 1677.2 485C1677.5 489.7 1677.9 498 1678.2 498C1678.5 498 1678.9 489.7 1679.2 485C1679.5 480.3 1679.9 475.8 1680.2 470C1680.5 464.2 1680.9 456.2 1681.2 450C1681.5 443.8 1681.8 438.3 1682.2 432.5C1682.6 426.7 1683 420.6 1683.7 415C1684.4 409.4 1685.3 404.3 1686.2 398.6C1687.1 392.9 1688.1 386.6 1689.2 381C1690.3 375.4 1691.7 369.3 1692.9 364.8C1694.1 360.3 1695.1 357.8 1696.2 354C1697.3 350.2 1698.6 346 1699.7 342C1700.8 338 1702 334.3 1702.7 330C1703.4 325.7 1703.7 322 1703.6 316C1703.5 310 1702.6 300.3 1701.9 294C1701.2 287.7 1700.5 283.7 1699.7 278C1698.9 272.3 1698 265.8 1697.2 260C1696.5 254.2 1695.9 248.7 1695.2 243C1694.5 237.3 1693.7 231.5 1693.2 226C1692.7 220.5 1692.6 214.9 1692.2 210C1691.8 205.1 1691.6 200.5 1690.6 196.5C1689.6 192.5 1687.8 189.4 1686.2 186C1684.6 182.6 1682.3 179 1681.2 176C1680.1 173 1680.2 171.3 1679.7 168C1679.2 164.7 1678.7 155.9 1678.2 155.9Z" fill="#f3989c" stroke="#ff1a0a" stroke-width="3.7" stroke-linejoin="round"/>
<line x1="1583" y1="291.4" x2="1611.6" y2="291.4" stroke="#000" stroke-width="1.6" stroke-dasharray="1.6 3.4"/>
<line x1="1575.5" y1="334.3" x2="1619.1" y2="334.3" stroke="#000" stroke-width="1.6" stroke-dasharray="6 3"/>
<line x1="1578.8" y1="364.8" x2="1615.8" y2="364.8" stroke="#000" stroke-width="1.6" stroke-dasharray="1.6 3.4"/>
<line x1="1660.8" y1="259.3" x2="1695.6" y2="259.3" stroke="#ff1a0a" stroke-width="1.6" stroke-dasharray="1.6 3.4"/>
<line x1="1659.1" y1="345.2" x2="1697.3" y2="345.2" stroke="#ff1a0a" stroke-width="1.6" stroke-dasharray="1.6 3.4"/>
<line x1="1666" y1="305" x2="1696" y2="305" stroke="#000" stroke-width="1.4" stroke-dasharray="6 3"/>
<line x1="1597.3" y1="325.3" x2="1678.2" y2="297.7" stroke="#000" stroke-width="3"/>
<line x1="1597.3" y1="329" x2="1678.2" y2="315" stroke="#000" stroke-width="3"/>
<line x1="1597.3" y1="334.3" x2="1678.2" y2="320.8" stroke="#000" stroke-width="3"/>
<circle cx="1597.3" cy="325.3" r="5.6" fill="#d2d2d2" stroke="#000" stroke-width="3"/>
<circle cx="1597.3" cy="334.3" r="5.6" fill="#fff" stroke="#000" stroke-width="3"/>
<rect x="1671.5" y="290.9" width="13.5" height="13.5" fill="#ff1a0a" stroke="#ff1a0a" stroke-width="2.2"/>
<rect x="1672.2" y="309.5" width="12" height="12" fill="#f7c3c3" stroke="#ff1a0a" stroke-width="2.4"/>
<rect x="1673.2" y="315.8" width="10" height="10" fill="#fff" stroke="#ff1a0a" stroke-width="2.4"/>
<text x="1637.5" y="114" font-size="24" text-anchor="middle" font-style="italic">0.0564</text>
<line x1="1597" y1="131.5" x2="1678" y2="131.5" stroke="#000" stroke-width="3"/>
<text x="1601.5" y="86" font-size="26" transform="rotate(-45 1601.5 86)">(n=353)</text>
<text x="1666" y="87" font-size="26" transform="rotate(-45 1666 87)">(n=351)</text>
<text x="1605.3" y="550.5" font-size="26.5" text-anchor="end" transform="rotate(-45 1605.3 550.5)"><tspan font-style="italic">CDK4-</tspan><tspan font-weight="bold">WT</tspan></text>
<text x="1686.2" y="550.5" font-size="26.5" text-anchor="end" transform="rotate(-45 1686.2 550.5)"><tspan font-style="italic">CDK4-</tspan><tspan font-weight="bold">KO</tspan></text>
<!-- panel_ef -->
<defs>
<g id="eWT"><path d="M126.1 783.8h0M153.2 797.4h0M119.8 779.2h0M137.8 815.9h0M117.5 797.7h0M178.4 784.3h0M169.5 820.2h0M172.4 818.3h0M168 788.2h0M178.1 787.7h0M193.8 790.7h0M189 798.4h0M185.7 789.6h0M190.4 795.7h0M155.7 824.5h0M200.5 844.6h0M208 836.6h0M206.4 833.5h0M193.3 841.7h0M214 812h0M178.1 852.8h0M194.5 842.9h0M196.5 802h0M243.4 819.7h0M197.3 787.3h0M220 825.6h0M247.6 814.4h0M211.5 822.4h0M227.1 790.6h0M218.1 833.6h0M243.2 810.5h0M199.1 806.3h0M138.1 843.6h0M161.6 846h0M164.1 853.6h0M137.3 856.1h0M156.4 864.8h0M137.2 847h0M135.8 866.4h0M167.8 850.3h0M142.9 837.5h0M179.8 869h0M163.6 845.7h0M163.8 847.2h0M170.5 846.1h0M154.7 874.8h0M180.9 852.8h0M247.3 828.8h0M247.7 826.6h0M232.4 855.1h0M264.2 857.8h0M232.1 866.9h0M184.1 891.4h0M199 903.9h0M218.1 902.5h0M220.9 854h0M226.9 866.3h0M192.8 870.8h0M226.3 898.8h0M225.6 857.2h0M203.8 852.6h0M133.5 892.7h0M120.7 882.8h0M118.1 926.1h0M138 905.6h0M113.6 907.8h0M131.8 888.2h0M132.8 915.4h0M141.1 931.3h0M136.9 903.1h0M125.9 906.2h0M124.8 928.6h0M228.8 927h0M190.2 920.5h0M197.8 911h0M184 916.6h0M211.2 956.6h0M31.3 939.2h0M37.4 916h0M36.5 914.3h0M41.4 961.9h0M52.2 947.2h0M24.6 936.8h0M39.4 908.6h0M161.8 945.1h0M153.9 996.1h0M168 964.3h0M132.1 960.4h0M127.3 963.7h0M135.6 958.5h0M167.9 964.4h0M113.8 976.1h0M85.3 990h0M111.5 999.5h0M118.1 984.6h0M106.3 980.7h0" stroke="#58c81e" stroke-width="1.6" stroke-linecap="round" fill="none" opacity="0.8"/><path d="M142.7 800.9C142.9 803.8 142.1 807.4 141 810.1C139.9 812.9 138.2 816.4 136.2 817.6C134.2 818.9 131.2 818.1 129 817.4C126.7 816.8 124.4 815.6 122.7 813.7C121 811.7 119.3 808.6 118.8 805.8C118.3 802.9 119.2 799.5 119.8 796.5C120.5 793.6 121.2 790.3 122.7 788.2C124.2 786.1 126.7 784.4 128.9 783.8C131.1 783.2 134.2 783.2 136 784.7C137.9 786.1 138.9 790 140 792.7C141.1 795.4 142.5 798 142.7 800.9Z" fill="#2213f2"/><ellipse cx="127.7" cy="804.1" rx="1.6" ry="1.3" fill="#160c9c"/><path d="M184.8 799.9C185.4 801.9 185.7 804.4 185 806.4C184.2 808.5 182.2 810.4 180.3 812.1C178.5 813.8 176.3 815.9 173.8 816.6C171.4 817.3 168.3 817 165.8 816.5C163.2 815.9 160 815.1 158.5 813.4C157.1 811.7 157 808.7 157 806.4C157.1 804 157.6 801.3 159 799.2C160.5 797.2 163.2 795.4 165.6 794.1C168.1 792.9 171.3 791.7 173.9 791.7C176.5 791.8 179.4 792.9 181.2 794.3C183 795.7 184.2 797.9 184.8 799.9Z" fill="#2213f2"/><ellipse cx="176.2" cy="808.3" rx="1.6" ry="1.3" fill="#160c9c"/><path d="M200.1 820.6C201.1 823 202.3 826.1 201.5 828.8C200.6 831.6 197.9 835.1 195 836.9C192.1 838.7 187.5 839.2 184 839.4C180.6 839.7 177.2 839.1 174.3 838.1C171.4 837.2 168.6 835.8 166.5 833.8C164.4 831.8 161.7 828.9 161.7 826.1C161.8 823.3 164.2 819.4 166.7 817.2C169.3 815 173.6 813.8 177 812.8C180.3 811.7 183.9 810.6 187 810.8C190.1 811.1 193.4 812.6 195.6 814.2C197.7 815.8 199.1 818.2 200.1 820.6Z" fill="#2213f2"/><ellipse cx="186.4" cy="822.3" rx="1.6" ry="1.3" fill="#160c9c"/><path d="M233.2 818.8C232.5 820.9 232.2 824.4 230 825C227.8 825.6 223 823.5 219.8 822.4C216.6 821.4 213.7 820.2 210.8 818.4C207.9 816.6 204 814.2 202.5 811.8C201.1 809.5 201.5 806.5 201.9 804.4C202.3 802.2 203.3 800.1 205.1 799C207 797.9 210 797.7 212.8 797.9C215.5 798 218.6 798.9 221.5 800C224.5 801.2 228.5 802.8 230.6 804.9C232.7 807 233.8 810.3 234.2 812.6C234.6 814.9 233.8 816.7 233.2 818.8Z" fill="#2213f2"/><ellipse cx="217" cy="809.9" rx="1.6" ry="1.3" fill="#160c9c"/><path d="M159.7 852.3C160.1 854.1 161 856.9 160.1 858.4C159.1 859.9 155.9 860.3 153.9 861.1C151.8 861.8 149.6 863.1 147.6 862.9C145.7 862.6 143.9 860.9 142.2 859.6C140.5 858.4 138.1 857.1 137.4 855.4C136.7 853.7 137.2 851.1 138 849.3C138.8 847.6 140.5 845.9 142.1 844.9C143.7 843.8 145.8 843.2 147.8 842.8C149.9 842.4 152.7 841.7 154.4 842.5C156.1 843.2 157.3 845.6 158.2 847.2C159 848.9 159.4 850.4 159.7 852.3Z" fill="#2213f2"/><ellipse cx="149.7" cy="854.4" rx="1.6" ry="1.3" fill="#160c9c"/><path d="M175.2 862.5C175.1 864.1 174.4 865.8 173.4 867.1C172.4 868.3 170.9 869.2 169.2 870.1C167.6 871.1 165.4 872.6 163.5 872.6C161.6 872.6 159.4 871.1 157.8 869.9C156.2 868.7 154.1 867.1 153.8 865.4C153.4 863.8 155.2 861.9 155.9 860.2C156.6 858.5 156.6 856.4 157.9 855.3C159.2 854.1 161.7 853.6 163.7 853.3C165.7 853.1 168.2 852.9 169.9 853.6C171.6 854.3 173.1 856.2 173.9 857.7C174.8 859.2 175.3 861 175.2 862.5Z" fill="#2213f2"/><path d="M259.3 846.7C259.2 849.2 259.3 852 258.4 854.2C257.5 856.3 255.6 858.6 253.8 859.5C252 860.4 249.6 860.3 247.7 859.8C245.8 859.4 243.7 858.4 242.3 856.8C240.9 855.2 240.1 852.6 239.6 850.3C239.1 847.9 238.7 845.2 239.2 842.9C239.6 840.6 240.9 837.9 242.3 836.6C243.8 835.2 246 835.3 247.9 834.9C249.8 834.6 251.8 833.8 253.6 834.4C255.4 835.1 257.8 836.8 258.8 838.8C259.7 840.9 259.4 844.1 259.3 846.7Z" fill="#2213f2"/><path d="M225.2 881.2C225.3 884 225.9 887.6 224.6 890C223.3 892.4 220.1 894.6 217.5 895.6C214.9 896.6 211.7 896.3 208.8 896C205.9 895.7 202.3 895.4 200.1 893.7C197.9 892 196.5 888.5 195.7 885.7C194.9 882.8 194.7 879.6 195.3 876.6C196 873.7 197.3 869.8 199.6 868.1C201.8 866.4 205.9 866.3 208.8 866.3C211.7 866.4 214.3 867.2 216.8 868.3C219.3 869.4 222.3 870.9 223.7 873C225.1 875.1 225 878.4 225.2 881.2Z" fill="#2213f2"/><ellipse cx="208.1" cy="878.1" rx="1.6" ry="1.3" fill="#160c9c"/><path d="M135.7 903.6C135.4 906.2 134.8 908.5 133.8 910.6C132.8 912.7 131.4 915.2 129.7 916.2C128 917.2 125.5 917.2 123.6 916.8C121.6 916.3 119.7 915.1 118.2 913.5C116.7 912 115.2 909.8 114.5 907.5C113.8 905.1 113.5 902 114 899.6C114.6 897.1 116.2 894.6 117.7 893C119.3 891.5 121.5 890.8 123.5 890.3C125.6 889.8 128.1 889.1 130.1 889.9C132.1 890.7 134.5 893 135.5 895.2C136.4 897.5 136 901 135.7 903.6Z" fill="#2213f2"/><ellipse cx="122.2" cy="899.7" rx="1.6" ry="1.3" fill="#160c9c"/><path d="M158.1 917.6C158.3 919.3 156.8 921.5 155.4 923.1C154 924.7 152 926.4 149.7 927.2C147.4 928.1 144.3 928.3 141.7 928.1C139 927.9 136.1 927.1 133.9 925.9C131.8 924.7 129.6 922.7 128.9 920.8C128.3 918.9 128.7 916.3 129.8 914.6C130.8 912.9 133.2 911.5 135.2 910.4C137.2 909.2 139.4 907.7 141.8 907.5C144.1 907.3 147.1 908.1 149.1 908.9C151.2 909.8 152.7 911.2 154.2 912.7C155.7 914.1 157.9 915.9 158.1 917.6Z" fill="#2213f2"/><ellipse cx="145.5" cy="915.6" rx="1.6" ry="1.3" fill="#160c9c"/><path d="M223.8 933.5C223.4 935.8 219.7 937.7 217.7 939.9C215.8 942.1 214.8 945.3 212 946.5C209.1 947.7 204 947.7 200.7 947C197.4 946.4 194.7 944.2 192.2 942.5C189.8 940.9 186.9 939.3 185.7 937.1C184.5 935 184.3 932.1 185.1 929.7C185.8 927.3 187.5 924.2 190.1 922.7C192.8 921.2 197.4 921.1 200.9 920.9C204.4 920.7 208.1 920.6 211.3 921.4C214.6 922.2 218.4 923.8 220.5 925.8C222.6 927.8 224.3 931.1 223.8 933.5Z" fill="#2213f2"/><path d="M49.8 930.9C51.1 934 52 938.5 51.9 941.4C51.8 944.3 50.5 946.5 49.4 948.4C48.3 950.2 46.9 952.4 45.2 952.4C43.5 952.5 41.1 950.1 39 948.5C37 946.9 34.5 945.5 32.8 942.9C31.2 940.2 29.7 935.7 29.2 932.6C28.8 929.5 29.4 926.4 30.2 924.3C30.9 922.1 32.2 920.9 33.5 919.8C34.9 918.8 36.5 917.7 38.3 918.1C40.1 918.6 42.4 920.5 44.3 922.6C46.2 924.7 48.6 927.7 49.8 930.9Z" fill="#2213f2"/><path d="M162.8 968.9C162.7 971.9 160.7 974.9 159.2 977.5C157.7 980.1 156.1 983.8 153.9 984.8C151.6 985.8 148.2 984 145.7 983.2C143.2 982.4 140.8 981.8 138.9 980.2C136.9 978.6 134.7 976 134 973.4C133.3 970.9 134 967.5 134.7 964.7C135.3 961.8 136 958.3 137.8 956.3C139.6 954.4 142.8 953.1 145.4 952.8C148 952.4 150.9 953.3 153.3 954.4C155.8 955.6 158.6 957.3 160.1 959.7C161.7 962.1 163 966 162.8 968.9Z" fill="#2213f2"/><ellipse cx="145.9" cy="967.8" rx="1.6" ry="1.3" fill="#160c9c"/><path d="M117.3 988.5C117.5 989.9 117.5 991.7 116.2 992.8C114.9 994 111.9 994.9 109.5 995.4C107.1 995.9 104.2 996.1 101.6 995.9C99 995.8 95.7 995.3 94 994.4C92.4 993.5 92.1 991.8 91.5 990.4C90.8 989.1 89.5 987.7 90.1 986.4C90.6 985.2 92.7 984 94.6 983C96.5 982 98.9 980.7 101.4 980.4C104 980.1 107.7 980.4 110 981.1C112.2 981.8 113.6 983.5 114.8 984.7C116 985.9 117.1 987.2 117.3 988.5Z" fill="#2213f2"/><ellipse cx="100.5" cy="988.2" rx="1.6" ry="1.3" fill="#160c9c"/></g>
<g id="eKO"><path d="M540.5 792.3h0M547.4 780.2h0M318.7 834.8h0M316.3 835.4h0M401.5 824.3h0M377.8 839.4h0M380.2 809.6h0M395.2 836.6h0M376.6 840.1h0M391.3 811.2h0M402.7 830.6h0M412 866.2h0M397.5 880h0M376.1 856h0M376.3 854.9h0M402.8 888.2h0M385.8 871h0M404.5 817.2h0M433.7 856.8h0M428.7 899.7h0M413.9 880.8h0M425.8 905.1h0M398.8 912.1h0M410.8 881.2h0M418.1 886.9h0M400.6 910.1h0M416.9 896.1h0M485.9 836.1h0M484.4 815.2h0M305.1 911.3h0M315.2 922.2h0M314 922h0M374.4 950.8h0M373 956.2h0M342.2 957.5h0M364.9 945.5h0M321.8 936.3h0M326.2 940.3h0M386 964.5h0M382.5 953.2h0" stroke="#58c81e" stroke-width="1.6" stroke-linecap="round" fill="none" opacity="0.8"/><path d="M540.9 772C540.9 774.4 540.6 777.3 539.6 779.3C538.6 781.4 536.8 783.6 535.1 784.3C533.4 785.1 531.1 784.5 529.3 783.9C527.6 783.3 526 782.2 524.7 780.8C523.3 779.4 521.7 777.6 521.1 775.6C520.5 773.5 520.9 770.9 521.3 768.5C521.7 766.1 522.2 763.1 523.5 761.5C524.8 759.8 527.2 758.8 529.2 758.5C531.1 758.3 533.3 758.8 535 759.9C536.7 760.9 538.4 762.8 539.4 764.8C540.4 766.9 540.9 769.6 540.9 772Z" fill="#2213f2"/><ellipse cx="528.5" cy="771.5" rx="1.6" ry="1.3" fill="#160c9c"/><path d="M316.7 827.1C316.6 828.7 317.4 830.6 316.4 831.8C315.3 833 312.6 833.9 310.6 834.4C308.5 835 306.3 835.3 304 835.2C301.8 835.1 298.6 834.9 297.2 833.9C295.7 832.9 295.7 830.7 295.3 829.2C295 827.7 294.9 826.4 295.2 824.9C295.5 823.4 295.6 821.2 297.1 820.1C298.5 819.1 301.8 818.7 304 818.7C306.2 818.7 308.1 819.6 310.3 820.1C312.5 820.7 316 820.9 317 822C318.1 823.2 316.8 825.4 316.7 827.1Z" fill="#2213f2"/><path d="M396 827.1C395.9 829.1 394.5 831 393.6 832.9C392.6 834.7 391.7 837.3 390.2 838.1C388.7 838.8 386.4 837.9 384.8 837.4C383.1 836.9 381.6 836.3 380.1 835.2C378.7 834 376.6 832.4 376 830.6C375.5 828.7 376.3 825.9 376.9 823.9C377.5 821.9 378.5 819.9 379.8 818.5C381 817.1 382.9 815.7 384.6 815.4C386.3 815.1 388.5 815.7 390 816.6C391.6 817.5 393 819.2 394 821C395 822.7 396 825.1 396 827.1Z" fill="#2213f2"/><ellipse cx="387.3" cy="830.3" rx="1.6" ry="1.3" fill="#160c9c"/><path d="M409.4 856.1C408.9 859.6 407.5 864.1 405.8 866.8C404.2 869.5 401.7 871.1 399.5 872.2C397.4 873.3 395 874.3 393.1 873.6C391.2 872.8 389.5 870.3 388.2 867.8C387 865.2 385.3 861.6 385.5 858.1C385.6 854.7 387.8 850.6 389.1 847.2C390.4 843.7 391.5 839.3 393.3 837.4C395.1 835.4 397.7 835.5 399.9 835.3C402.1 835 405 834.1 406.5 835.8C407.9 837.6 408 842.5 408.5 845.8C409 849.2 409.8 852.6 409.4 856.1Z" fill="#2213f2"/><ellipse cx="397.1" cy="855.8" rx="1.6" ry="1.3" fill="#160c9c"/><path d="M434.6 877.5C434.5 880.1 434.4 882.7 433.8 885.1C433.1 887.5 432.1 890.8 430.8 891.9C429.5 893 427.4 892.4 425.9 891.7C424.4 891.1 422.9 889.9 421.9 888.1C420.9 886.4 420.2 883.6 419.9 881.2C419.5 878.8 419.6 876.2 419.8 873.7C420.1 871.1 420.4 868 421.4 865.9C422.4 863.8 424.2 861.7 425.7 861.1C427.3 860.5 429.5 861 430.9 862.4C432.3 863.8 433.5 866.9 434.1 869.4C434.7 871.9 434.6 874.8 434.6 877.5Z" fill="#2213f2"/><ellipse cx="426.2" cy="880" rx="1.6" ry="1.3" fill="#160c9c"/><path d="M413.5 897.1C412.6 899 410.6 900.5 409.3 901.8C407.9 903.1 406.6 904.2 405.2 904.8C403.9 905.5 401.9 906.4 401.1 905.7C400.3 904.9 400.5 902.3 400.3 900.6C400.1 898.8 399.5 896.9 400 894.9C400.5 892.9 402.3 890.5 403.5 888.7C404.8 886.8 406.3 884.8 407.7 883.8C409.1 882.8 410.9 882.2 411.9 882.5C413 882.9 413.6 884.5 414 885.9C414.5 887.3 414.7 888.8 414.6 890.7C414.5 892.6 414.4 895.3 413.5 897.1Z" fill="#2213f2"/><path d="M508.5 834.5C509.6 837 510.5 840.5 510.4 843.2C510.3 845.9 509.2 848.9 507.8 850.6C506.4 852.4 503.9 853.4 501.8 853.5C499.7 853.6 497.3 852.3 495.3 851.1C493.2 849.8 491.1 848.1 489.5 845.9C487.9 843.7 486.3 840.6 485.8 837.8C485.4 835.1 485.9 831.8 486.8 829.6C487.7 827.4 489.6 825.5 491.4 824.7C493.2 823.8 495.6 823.9 497.6 824.4C499.6 825 501.8 826.2 503.6 827.9C505.4 829.5 507.3 831.9 508.5 834.5Z" fill="#2213f2"/><path d="M330 906.7C330.9 908.9 331.3 911.7 331.1 913.9C330.9 916.1 330 918.7 328.8 920C327.5 921.3 325.4 921.7 323.5 922C321.7 922.2 319.6 922.5 317.9 921.5C316.2 920.6 314.6 918.2 313.6 916.2C312.6 914.3 312.2 912.1 311.9 910C311.7 907.9 311.5 905.5 312.1 903.8C312.7 902.1 314.1 900.8 315.5 899.8C316.9 898.7 318.8 897.1 320.5 897.3C322.3 897.5 324.4 899.4 326 900.9C327.6 902.5 329.2 904.6 330 906.7Z" fill="#2213f2"/><ellipse cx="321.4" cy="907.4" rx="1.6" ry="1.3" fill="#160c9c"/><path d="M387.2 940.9C387.2 942.6 386.1 944.3 385.3 945.6C384.4 946.9 383.4 948 382.3 948.7C381.2 949.4 379.8 949.9 378.5 949.8C377.1 949.7 375.5 949.3 374.4 948.3C373.3 947.3 372.3 945.4 371.9 943.7C371.5 942 371.7 940 372.1 938.2C372.4 936.5 373 934.3 374.1 933.2C375.2 932.2 377.1 932 378.4 932C379.8 932 381 932.7 382.3 933.3C383.5 934 384.9 934.6 385.7 935.9C386.6 937.2 387.3 939.3 387.2 940.9Z" fill="#2213f2"/><ellipse cx="378" cy="941.9" rx="1.6" ry="1.3" fill="#160c9c"/><path d="M367.6 954C367.6 955.4 367.7 957 366.9 958.1C366 959.2 364.3 960.3 362.8 960.8C361.2 961.3 359.3 961.4 357.6 961.3C356 961.1 353.9 960.7 352.7 959.8C351.4 959 350.8 957.5 350.2 956.1C349.5 954.7 348.4 952.9 348.8 951.6C349.2 950.3 351.1 949 352.6 948.1C354 947.1 355.8 946 357.5 945.9C359.2 945.8 361.1 946.8 362.7 947.4C364.3 948.1 366.2 948.7 367 949.8C367.9 950.9 367.6 952.6 367.6 954Z" fill="#2213f2"/><ellipse cx="360.9" cy="952.8" rx="1.6" ry="1.3" fill="#160c9c"/><path d="M332.8 936.3C332.9 937 332.8 937.9 332.3 938.4C331.8 939 330.8 939.3 330 939.6C329.2 939.9 328.3 940.2 327.4 940.1C326.6 940 325.7 939.6 325 939.2C324.3 938.8 323.4 938.1 323.2 937.4C323 936.8 323.3 935.9 323.6 935.2C323.9 934.5 324.3 933.8 325 933.3C325.6 932.9 326.6 932.8 327.5 932.7C328.4 932.6 329.4 932.4 330.2 932.7C330.9 933 331.5 933.7 331.9 934.3C332.4 934.9 332.8 935.6 332.8 936.3Z" fill="#2213f2"/><path d="M394.1 959.6C394 960.5 394.1 961.5 393.6 962.2C393.1 962.8 391.9 963.4 391 963.6C390.1 963.9 389.1 963.8 388.1 963.8C387.1 963.7 385.6 963.9 384.9 963.4C384.2 962.9 384 961.7 383.7 960.9C383.4 960 382.7 959 382.9 958.2C383.1 957.4 384.2 956.5 385.1 956C385.9 955.5 387 955.3 388 955.1C389.1 954.9 390.3 954.7 391.3 955C392.3 955.3 393.5 956.1 393.9 956.9C394.4 957.6 394.1 958.7 394.1 959.6Z" fill="#2213f2"/></g>
<g id="fWT"><path d="M821.4 807.8h0M819.7 833.9h0M811.5 855.5h0M820.7 802.6h0M821.6 805h0M826.2 823.7h0M797.9 858.2h0M788.6 826h0M795.6 815.1h0M792.1 844h0M797 845.4h0M821.5 803.7h0M824.4 830.3h0M792.8 814.3h0M812.4 852.1h0M792.9 832.4h0M804.8 854h0M799.8 852.9h0M799.2 810.5h0M812.3 849.5h0M802.2 850.2h0M805.7 851.6h0M818.5 844.5h0M822.5 825.2h0M811.3 796.6h0M817.3 837h0M820.6 801.9h0M802.9 810.3h0M786.7 839.8h0M825.5 812.6h0M804.4 858.6h0M826.8 785.6h0M825.9 829.8h0M825.1 790.4h0M828.9 829.1h0M822.3 788.1h0M821.6 804h0M820.5 818.1h0M833.2 819.8h0M834.8 809h0M825.5 831h0M822.4 797.7h0M820 813.8h0M831.1 792.8h0M823.5 831.8h0M836.6 804.3h0M818.5 813.9h0M826 827.9h0M817.2 809h0M827.3 786.6h0M823.7 780.7h0M827.4 836.7h0M823.3 827h0M826.2 830.6h0M824 825h0M822.5 821.4h0M828.4 781.7h0M837.9 810h0M831.1 833.4h0M820.4 801.3h0M825.8 833.7h0M834.7 833.1h0M906.8 822.1h0M913.7 829.1h0M901.9 838.6h0M889.6 841.1h0M901.3 842.3h0M882.3 829.3h0M906 822.4h0M899.7 814.9h0M914.3 832.9h0M913.4 831.4h0M883.9 814.3h0M913.6 823.6h0M903.2 839.6h0M879.4 814.9h0M883.5 818.1h0M912.1 834.2h0M904.8 838.6h0M913.4 841h0M906.7 843.9h0M916.4 826.3h0M907.8 822.1h0M887.7 811.6h0M898.9 817.4h0M902.4 820.6h0M881.9 836.5h0M881.6 821.8h0M839.7 856.9h0M837.4 888.4h0M851.8 863.3h0M843.6 886.7h0M825.3 874.7h0M827.8 867.5h0M844.2 860.8h0M851.9 882.8h0M831.7 890.9h0M822.3 873h0M845.3 861.1h0M838 855.4h0M820.5 881.4h0M857.5 875.4h0M850.3 887.6h0M845.4 882.7h0M818.8 872.6h0M837.7 888.6h0M827.8 864.1h0M827 870.5h0M821.1 878.4h0M831.2 884.2h0M855.3 878.3h0M820.9 881.4h0M837.7 860.2h0M855.4 862.6h0M846.2 855.5h0M831 856.4h0M830.1 858.2h0M837.9 885.5h0M836 856.1h0M854.6 878.7h0M826.1 862.5h0M841.5 853.7h0M824.7 885.5h0M821.9 872.8h0M821.5 882.9h0M819.7 879.6h0M829.3 887.6h0M853.5 863.5h0M829.8 881.4h0M953.1 880.9h0M952.9 878.1h0M946.3 900.9h0M950.8 889.4h0M948.8 891.3h0M931.8 891.3h0M946.9 892.3h0M937.6 872.9h0M942.8 898.3h0M952.9 872.7h0M937 867.7h0M946.2 866.7h0M947.3 892.4h0M930.4 873.2h0M924.5 881.1h0M948.5 897.7h0M928.6 889.5h0M941.5 896.1h0M927.9 876.2h0M951.8 876.2h0M938.7 872.2h0M934.2 873.6h0M952.5 869.1h0M940.6 900.3h0M943.6 896.1h0M952.3 891.8h0M953.9 893.2h0M928.7 877h0M938 871.3h0M934.5 895h0M958.7 883.5h0M879.8 914.7h0M869.3 894.8h0M879.5 924.2h0M857.7 906.3h0M881.8 906.4h0M858.3 902.2h0M857.2 913.8h0M874.3 897.4h0M863 921.2h0M871.8 898.8h0M859.9 919h0M858.8 907.8h0M875.3 898.4h0M856.6 906.3h0M858.1 918.9h0M869.2 895h0M868.6 893.5h0M858 907.1h0M872.9 925.7h0M858.5 919.3h0M876.2 905.8h0M861.4 927.6h0M855.8 917.8h0M876.3 928.4h0M858.2 919.9h0M879.5 918.2h0M873.4 895.9h0M858.9 906.9h0M881.7 917.2h0M856.8 918.9h0M860.8 903.1h0M835 914.2h0M855.3 938.5h0M861.4 917.7h0M832.1 929.7h0M850.1 912.8h0M841.9 907.9h0M856.4 923.2h0M848.6 906.3h0M860.2 928.8h0M838.8 946.8h0M860.7 921.7h0M826.9 927.4h0M843.9 945.3h0M857.1 940.8h0M858.6 934.4h0M850.9 944.4h0M854.9 931.6h0M831.1 911.7h0M857.2 913.3h0M856.6 926.3h0M831.9 912h0M849.6 940.2h0M844.7 945.8h0M847.9 906.2h0M832.7 920.3h0M840.9 907.9h0M852 944.3h0M844.2 943.6h0M826.4 933.2h0M855.9 938.1h0M845.4 947.3h0M849.4 911.6h0M840.8 908.5h0M846.6 942.9h0M825.6 921.5h0M834.4 918.5h0M976.9 941.2h0M952.6 918h0M976 922.4h0M947.9 922h0M947.9 934.9h0M947.9 935h0M979.5 926.8h0M964.2 915h0M979.4 918h0M977.5 914.5h0M949 918.7h0M974.7 946h0M980.4 939.1h0M960 916.7h0M971.2 915.5h0M969.7 944.7h0M952.2 923.2h0M979.1 935.4h0M981 928.2h0M959.2 915.6h0M980.7 938.9h0M968.6 944.3h0M952.4 918.1h0M985.3 932.4h0M978.4 932.8h0M956.6 948.8h0M948.3 955.6h0M958.6 943.9h0M947.6 957.8h0M961.8 934h0M955.3 931.6h0M965.6 945.9h0M952.9 961.5h0M958.4 942.6h0M942.4 932.3h0M962.3 955.4h0M928.6 949.2h0M930.9 940.6h0M926.1 951.9h0M954.2 936h0M955.9 937.6h0M948.9 957.4h0M951.4 954.5h0M934.3 933.3h0M951.3 958.3h0M959.1 955.9h0M962.4 941.5h0M928.5 951.2h0M932.2 955h0M951.6 956.3h0M937.4 931.3h0M958.1 949.5h0" stroke="#58c81e" stroke-width="1.8" stroke-linecap="round" fill="none" opacity="0.8"/><path d="M817.4 831.2C816.5 834.6 815.6 838.6 813.8 841.3C812.1 843.9 809.3 846 806.9 847C804.6 848 801.5 848.7 799.8 847.4C798 846.2 797.2 842.2 796.4 839.4C795.7 836.6 795 833.5 795.3 830.5C795.6 827.4 796.7 823.7 798.1 820.9C799.4 818 801.3 815.4 803.3 813.4C805.3 811.4 808.2 808.6 810.2 808.7C812.2 808.8 813.7 812.1 815.2 814.1C816.6 816.1 818.6 818 818.9 820.8C819.3 823.7 818.2 827.7 817.4 831.2Z" fill="#2213f2"/><ellipse cx="805.3" cy="827.5" rx="1.6" ry="1.3" fill="#160c9c"/><path d="M834.1 809.3C834.1 812.7 834.1 817.4 833.5 820C832.9 822.7 831.4 823.5 830.3 825.2C829.2 826.9 828 830.3 826.9 830.1C825.8 829.9 824.5 826.5 823.7 824C822.8 821.4 821.8 818.2 821.5 814.9C821.3 811.6 821.8 807.6 822.2 804.2C822.6 800.8 822.8 796.9 823.6 794.5C824.4 792.1 825.8 790.6 827 790.1C828.1 789.6 829.6 790.1 830.6 791.6C831.6 793.1 832.5 796.3 833.1 799.3C833.7 802.2 834 805.8 834.1 809.3Z" fill="#2213f2"/><path d="M907.6 834.6C906.6 836.1 906.5 838.5 904.8 839C903.1 839.4 899.8 838.3 897.5 837.5C895.2 836.8 892.8 836 890.8 834.7C888.9 833.3 886.7 831.3 885.8 829.6C884.9 827.9 885 825.9 885.3 824.3C885.5 822.8 886.1 821.3 887.3 820.3C888.5 819.2 890.4 818.4 892.4 818.3C894.4 818.2 897 818.9 899.3 819.8C901.7 820.7 904.5 822.1 906.4 823.8C908.2 825.5 910.2 828.3 910.4 830.1C910.6 831.9 908.5 833.1 907.6 834.6Z" fill="#2213f2"/><ellipse cx="897" cy="826.3" rx="1.6" ry="1.3" fill="#160c9c"/><path d="M850.8 872.7C850.9 874.8 849.5 877.4 848.2 879C846.8 880.5 844.6 881.5 842.8 882.2C840.9 882.8 838.9 883.2 837 883.1C835.1 882.9 832.8 882.3 831.3 881.1C829.7 879.9 828.6 877.9 827.7 875.9C826.9 873.9 825.6 871 826.2 869.1C826.8 867.2 829.5 865.9 831.3 864.4C833 863 834.6 860.8 836.7 860.3C838.8 859.8 841.8 860.3 843.7 861.3C845.6 862.4 846.9 864.7 848.1 866.6C849.3 868.5 850.8 870.7 850.8 872.7Z" fill="#2213f2"/><path d="M951.6 883.3C951.7 885.1 950.8 887.2 949.8 888.9C948.9 890.6 947.5 892.7 945.8 893.6C944.1 894.5 941.6 894.7 939.5 894.4C937.4 894.2 934.8 893.5 933.4 892.2C932 890.8 931.4 888.2 931.1 886.3C930.7 884.3 930.6 882.2 931.1 880.4C931.6 878.5 932.7 876.6 934.1 875.2C935.5 873.8 937.7 872.4 939.5 872.3C941.3 872.2 943.4 873.6 945.1 874.6C946.7 875.5 948.3 876.5 949.4 877.9C950.5 879.4 951.6 881.5 951.6 883.3Z" fill="#2213f2"/><ellipse cx="940" cy="882" rx="1.6" ry="1.3" fill="#160c9c"/><path d="M876.9 912.9C876.8 914.9 876.3 916.8 875.7 918.7C875 920.5 874.2 923.1 872.9 924.2C871.6 925.3 869.4 925.7 867.9 925.3C866.3 924.8 864.8 923.1 863.7 921.6C862.6 920.1 861.5 918.1 861.2 916.2C860.8 914.2 861.2 911.8 861.7 909.9C862.2 908.1 863.2 906.5 864.2 905.1C865.3 903.7 866.6 901.7 867.9 901.4C869.3 901 871.2 902 872.5 902.9C873.8 903.9 875 905.5 875.7 907.1C876.5 908.8 876.9 911 876.9 912.9Z" fill="#2213f2"/><path d="M856.4 926.7C856.4 928.9 854 931.2 852.8 933.5C851.6 935.8 850.8 939.5 849.1 940.5C847.3 941.4 844.6 939.4 842.3 939.1C840 938.7 837 939.6 835.4 938.1C833.7 936.7 832.8 933.2 832.4 930.6C832 928.1 832.2 925.4 832.7 922.9C833.2 920.3 833.9 916.9 835.4 915.3C837 913.7 839.9 913.2 842.1 913C844.3 912.8 846.9 913 848.6 914.1C850.4 915.3 851.3 917.9 852.6 920C853.9 922.1 856.3 924.4 856.4 926.7Z" fill="#2213f2"/><path d="M977.8 930.9C978 933.1 976.7 936 975.4 937.9C974.1 939.8 972.1 941.5 970.2 942.3C968.3 943.1 965.9 943.1 963.9 942.8C961.8 942.4 959.6 941.7 957.9 940.4C956.2 939 954.3 936.8 953.8 934.6C953.3 932.5 954.1 929.6 954.8 927.5C955.6 925.4 956.9 923.8 958.4 922.1C959.9 920.4 961.7 917.7 963.6 917.3C965.6 916.9 968.4 918.3 970.2 919.5C972 920.7 973 922.8 974.3 924.7C975.6 926.6 977.6 928.7 977.8 930.9Z" fill="#2213f2"/><path d="M958.8 944.7C958.8 946.7 957.9 949.1 956.5 950.7C955 952.3 952.3 953.2 949.9 954.1C947.5 955 944.5 956.4 942.1 956.1C939.8 955.7 938.1 953.4 936 952C933.9 950.7 930.3 949.6 929.7 947.9C929.1 946.3 931.3 943.8 932.4 942C933.4 940.2 934.3 938.7 935.9 937.3C937.6 935.9 939.8 934.1 942.2 933.6C944.6 933.1 948 933.6 950.3 934.5C952.7 935.3 954.9 937 956.3 938.7C957.7 940.4 958.7 942.7 958.8 944.7Z" fill="#2213f2"/><ellipse cx="947.3" cy="944.8" rx="1.6" ry="1.3" fill="#160c9c"/></g>
<g id="fKO"><path d="M1128.4 806.1h0M1125.7 793.2h0M1121.1 816.3h0M1107.5 799.1h0M1101.6 804.3h0M1128.9 810.5h0M1129 806.7h0M1129.1 803.9h0M1093.7 833.5h0M1093.9 836.5h0M1076.3 831h0M1083.9 817.1h0M1087.4 834.4h0M1079.5 818.5h0M1075.7 829.6h0M1073.6 834.4h0M1073.1 829.9h0M1074.8 833.1h0M1088.4 844.1h0M1066.3 863.3h0M1087 844.2h0M1071.2 862.1h0M1065 837.9h0M1074.6 864.7h0M1088 852.6h0M1090.6 847.6h0M1071.3 869.4h0M1067.1 860.3h0M1155 861h0M1118.1 865.6h0M1127.4 875.6h0M1153.7 863h0M1139.7 854.6h0M1152.5 859.2h0M1137.9 883h0M1123 868.7h0M1136.5 876.7h0M1143 880.5h0M1041.5 870.3h0M1037.9 868.3h0M1036.4 895.9h0M1039.1 868.4h0M1061 885.2h0M1046.1 895.7h0M1063.9 873.9h0M1062.7 887.4h0M1063.8 941.8h0M1057.2 949.5h0M1058.4 946h0M1067.1 958.3h0M1072.1 957.2h0M1066.1 939.8h0M1083.2 945.5h0M1088.5 944.8h0M1085 938.5h0M1061.6 951.7h0M1253.4 954.4h0M1231.9 922.6h0M1224.2 946.5h0M1259.2 941.4h0M1241.2 957.2h0M1259.2 927.2h0M1226.2 950.7h0M1248 956.7h0M1237.5 959.9h0M1257 928.8h0M1253.6 960.6h0M1235 930.8h0M1243.6 915.7h0M1240.4 915.8h0M1228.7 944.9h0M1251.4 916.4h0M1228.8 961.8h0M1227.6 953.8h0M1233.8 953.3h0M1235.6 953.9h0" stroke="#58c81e" stroke-width="1.6" stroke-linecap="round" fill="none" opacity="0.8"/><path d="M1126.5 799.6C1127.1 801 1128.1 802.7 1127.8 804.2C1127.4 805.8 1125.9 807.5 1124.4 808.8C1122.9 810.1 1120.9 811.8 1119 812.1C1117.2 812.4 1115 811.5 1113.3 810.9C1111.7 810.2 1110.3 809.4 1109.2 808.3C1108 807.2 1106.7 805.7 1106.5 804.2C1106.4 802.7 1107.3 800.5 1108.4 799.1C1109.6 797.8 1111.6 796.8 1113.3 795.9C1115.1 795 1117.2 793.8 1119 793.8C1120.8 793.8 1122.8 794.8 1124.1 795.7C1125.3 796.7 1125.9 798.2 1126.5 799.6Z" fill="#2213f2"/><path d="M1093.1 821.3C1093.9 822.5 1093.3 824.7 1093.2 826.4C1093.1 828.1 1093.4 830.3 1092.4 831.5C1091.5 832.8 1089.3 833.4 1087.7 834C1086.1 834.5 1084.4 835 1082.7 834.8C1081.1 834.7 1079.1 834.1 1077.9 833C1076.8 832 1075.8 830 1075.7 828.5C1075.6 826.9 1076.5 825.3 1077.1 823.8C1077.7 822.3 1078.1 820.5 1079.2 819.4C1080.4 818.4 1082.4 817.5 1084 817.4C1085.5 817.4 1087 818.4 1088.5 819C1090.1 819.7 1092.4 820 1093.1 821.3Z" fill="#2213f2"/><ellipse cx="1086.6" cy="826.3" rx="1.6" ry="1.3" fill="#160c9c"/><path d="M1085.9 849.5C1085.9 851.3 1084.3 853.4 1083.2 855.2C1082.1 856.9 1081.1 859.1 1079.5 860C1077.9 860.8 1075.7 860.5 1073.7 860.3C1071.7 860.1 1069.2 860.2 1067.6 859C1066 857.7 1064.3 855.1 1064 853.1C1063.7 851 1065.1 848.4 1065.9 846.5C1066.7 844.5 1067.5 842.9 1068.7 841.4C1070 839.8 1071.7 837.9 1073.5 837.4C1075.3 837 1078 837.6 1079.6 838.7C1081.2 839.8 1082 842 1083.1 843.8C1084.1 845.6 1085.9 847.6 1085.9 849.5Z" fill="#2213f2"/><path d="M1148 866.4C1147.7 868.1 1147.5 869.8 1146.5 871.1C1145.6 872.5 1143.8 873.8 1142 874.5C1140.3 875.2 1138.1 875.3 1136 875.2C1133.8 875.2 1130.8 875.2 1129.3 874.2C1127.8 873.1 1127.3 870.6 1126.9 868.9C1126.6 867.2 1126.5 865.5 1127 863.8C1127.4 862.2 1128.3 860.3 1129.7 859C1131.2 857.7 1133.6 856.2 1135.7 856.1C1137.8 855.9 1140.1 857.3 1142.1 858.1C1144.2 858.9 1146.9 859.6 1147.9 860.9C1148.8 862.3 1148.2 864.7 1148 866.4Z" fill="#2213f2"/><ellipse cx="1137.9" cy="866.9" rx="1.6" ry="1.3" fill="#160c9c"/><path d="M1057.3 881.2C1057.4 883 1056.9 885 1056 886.6C1055.1 888.2 1053.6 889.8 1051.9 890.7C1050.3 891.6 1047.9 892.1 1046.1 891.8C1044.2 891.5 1042.4 890.2 1040.9 889C1039.3 887.7 1037.3 886.1 1036.8 884.4C1036.3 882.6 1037.3 880.2 1038 878.4C1038.7 876.6 1039.5 874.7 1040.9 873.4C1042.2 872.2 1044.3 871.1 1046.1 870.9C1047.9 870.7 1050 871.5 1051.6 872.4C1053.3 873.2 1055 874.4 1056 875.8C1056.9 877.3 1057.3 879.4 1057.3 881.2Z" fill="#2213f2"/><ellipse cx="1049" cy="878.9" rx="1.6" ry="1.3" fill="#160c9c"/><path d="M1082.4 945.7C1082.3 947.1 1081.2 948.7 1080 949.8C1078.9 950.8 1077.1 951.2 1075.5 951.9C1073.9 952.5 1072.1 953.7 1070.5 953.6C1068.8 953.5 1067.2 952.2 1065.8 951.2C1064.4 950.3 1062.5 949.3 1061.8 948C1061.2 946.7 1061.5 944.8 1062 943.5C1062.6 942.1 1063.8 940.7 1065.2 939.7C1066.6 938.8 1068.7 937.7 1070.5 937.7C1072.2 937.7 1073.8 939 1075.5 939.6C1077.2 940.3 1079.3 940.4 1080.5 941.5C1081.6 942.5 1082.4 944.3 1082.4 945.7Z" fill="#2213f2"/><ellipse cx="1069.9" cy="945.2" rx="1.6" ry="1.3" fill="#160c9c"/><path d="M1253.9 944.3C1253 947.3 1251.8 951.8 1250 953.5C1248.1 955.3 1244.9 954.7 1242.7 954.9C1240.4 955 1238.6 955.1 1236.6 954.4C1234.6 953.7 1231.7 953 1230.6 950.8C1229.6 948.6 1229.8 944.3 1230.4 941.1C1230.9 938 1232.4 934.6 1234 931.8C1235.7 929 1238 925.6 1240.2 924.3C1242.5 923 1245.2 923.6 1247.5 924C1249.8 924.4 1252.5 924.8 1253.8 926.7C1255.2 928.5 1255.5 932.3 1255.5 935.2C1255.5 938.2 1254.8 941.2 1253.9 944.3Z" fill="#2213f2"/><path d="M1235 957.4C1235 958.1 1234.4 958.9 1233.9 959.5C1233.5 960.1 1233 960.7 1232.3 961.1C1231.7 961.5 1230.7 961.8 1230 961.7C1229.3 961.6 1228.5 961 1227.9 960.5C1227.3 960 1226.7 959.3 1226.5 958.6C1226.2 957.9 1226.4 956.9 1226.6 956.2C1226.8 955.4 1227.1 954.5 1227.7 954C1228.3 953.5 1229.3 953.4 1230 953.3C1230.8 953.2 1231.6 953.2 1232.4 953.5C1233.1 953.8 1234 954.3 1234.4 954.9C1234.9 955.5 1235.1 956.6 1235 957.4Z" fill="#2213f2"/></g>
<g id="fTR"><path d="M1315 818.1h0M1327.2 786.4h0M1319.8 788.4h0M1329.4 794.8h0M1317.8 820.1h0M1305.9 809.6h0M1303.4 796.4h0M1299.6 793.7h0M1307.5 789.6h0M1366.3 814.8h0M1335.5 817.3h0M1332.8 798.9h0M1337.6 807.9h0M1361.2 788.3h0M1363.4 829.7h0M1347.6 775.7h0M1356.7 782.4h0M1342.9 816.1h0M1358.5 777.4h0M1340 811.9h0M1336.7 810.3h0M1348.7 767.3h0M1339.3 776.2h0M1373.3 804.9h0M1359.8 789.4h0M1335.2 809.3h0M1361.6 794.6h0M1373.8 809.5h0M1331.8 796h0M1341.2 770.3h0M1336 780h0M1365.8 810.3h0M1353.9 834.8h0M1348.1 826.4h0M1328.8 785.3h0M1332.9 792.2h0M1346.2 768h0M1356.8 774.1h0M1369.4 799.1h0M1351.8 829.8h0M1337 805.3h0M1366.5 841h0M1354.6 839h0M1335 780h0M1355.8 834.9h0M1335.9 778h0M1367 807.1h0M1351.8 772.2h0M1374.6 819.5h0M1332.9 795.4h0M1354.9 783.6h0M1369.4 814.3h0M1337.2 772.3h0M1333.3 814.3h0M1345.4 830.4h0M1369.6 796.6h0M1371.6 826.3h0M1348.7 771.3h0M1330.6 793.9h0M1339.6 774.5h0M1390 815.9h0M1398.3 834.3h0M1396.8 839.4h0M1424.9 830.3h0M1392.7 812.7h0M1419.4 832.3h0M1407.2 837.1h0M1407.2 812.9h0M1375.6 822.1h0M1403 834.4h0M1411.6 818.5h0M1382.8 830.5h0M1415 817.7h0M1381.3 820.3h0M1379.8 826.6h0M1378.7 827.5h0M1382 829.6h0M1424.5 818.6h0M1401.2 839.2h0M1420 826.7h0M1415 819.5h0M1387.6 812.6h0M1384.7 817.9h0M1421.2 827.2h0M1376.7 828.1h0M1381.5 833.5h0M1381.7 832h0M1401.7 815.7h0M1420.7 821.9h0M1374.2 827h0M1381.2 820.1h0M1404.8 834.6h0M1402.1 813.7h0M1387.9 814.6h0M1392.7 815.7h0M1414.3 816.7h0M1412.1 837.3h0M1414.7 819.8h0M1418.3 816.8h0M1397.9 836.9h0M1416.2 820.7h0M1368 869.7h0M1369 875.1h0M1386.2 857.9h0M1374.4 877.1h0M1387.8 866.1h0M1374.4 859.7h0M1384.3 874.7h0M1374.5 858.8h0M1374.2 860h0M1374.5 855.7h0M1378.1 877.3h0M1378.4 878.8h0M1381.9 876.5h0M1382.6 854.2h0M1383.8 877.2h0M1371.8 855.6h0M1369 863.2h0M1380 854.4h0M1376 855.6h0M1412.7 869.1h0M1409 860.8h0M1389.4 861.3h0M1411.9 873.4h0M1388 871.6h0M1390.6 863.1h0M1387.1 875.3h0M1401.4 859.7h0M1401.5 877.2h0M1401.9 861.4h0M1405.1 875.6h0M1412.2 864.9h0M1407.2 866.9h0M1387 868.4h0M1384.8 862.6h0M1383.5 869.7h0M1392.1 859.4h0M1389 874h0M1394.6 856.2h0M1412.9 866.1h0M1405.5 859.7h0M1387.2 868.7h0M1400.8 860.5h0M1411.3 863.5h0M1394.3 880.3h0M1387 907.9h0M1391.9 904.9h0M1413.2 949.2h0M1407.2 919.1h0M1396.3 943.3h0M1412.9 942.4h0M1392.4 937.5h0M1386.8 934.1h0M1413.2 943.3h0M1385.9 908.1h0M1414.5 923.6h0M1396.1 941.9h0M1398.7 944.9h0M1402.2 909.5h0M1384.3 922h0M1386.3 938.6h0M1387.4 910.1h0M1409.5 942.8h0M1389.8 909.1h0M1383.2 918.6h0M1386.9 906.2h0M1396.6 942.2h0M1404.1 954.7h0M1405 945.3h0M1417 935.6h0M1406.6 943.7h0M1397.2 942.4h0M1391.5 904.2h0M1390.5 942.5h0M1414.6 926.8h0M1385.6 910.7h0M1414.9 946.4h0M1411.3 922.5h0M1399.7 949.3h0M1390.9 907.7h0M1382.9 924.3h0M1391.3 908.5h0M1408 910.9h0M1412.7 927.3h0M1401.1 947.5h0M1394.7 949.3h0M1329.1 954.1h0M1312.4 946.2h0M1316.1 958.8h0M1326.3 954.2h0M1331.3 943h0M1321.1 943.3h0M1323.9 957.5h0M1331.1 938.2h0M1323.8 955.3h0M1319.2 940.9h0M1330.4 941.9h0M1314 945.8h0M1329.6 937.8h0M1320.2 939.9h0M1338.1 946.1h0M1309.9 950h0M1501.4 933.2h0M1488.2 901.4h0M1492.6 905.2h0M1499.6 912.2h0M1503.3 919.9h0M1501.3 915.9h0M1490.3 904.7h0M1498.6 928.2h0M1486.7 906.1h0M1498.3 911.8h0M1473 911.6h0M1490.6 931.9h0M1478.1 913.6h0M1478 905.4h0M1484.1 930h0M1498.3 911.7h0M1498.6 908.3h0M1494 906.5h0M1506 915.3h0M1458.5 946.1h0M1463.7 946.4h0M1463.5 927.9h0M1459.6 931.6h0M1479.2 955.9h0M1464.6 947.9h0M1472 955.6h0M1492.8 957.3h0M1459.1 935.2h0M1486.2 960.6h0M1455.9 933.5h0M1486.1 958.4h0M1493.6 929.8h0M1496.6 932.9h0M1462.9 938.2h0M1471.1 955.7h0M1476.8 926.6h0M1479.8 961.5h0M1467 948.2h0M1506 955.3h0M1513.6 956.7h0M1501.2 977.9h0M1511 955.8h0M1512.2 955.6h0M1489.3 954.2h0M1516.2 967.8h0M1513 970.4h0M1514 958.9h0M1495 976h0M1519.9 965.2h0M1513.7 951.7h0M1509.1 955.8h0M1522 966.9h0M1486.8 966.5h0M1494.8 951.8h0M1499.7 977.6h0M1497.2 976.7h0M1514.8 967.8h0M1470.1 925.5h0M1489.2 938.8h0M1519 927.4h0M1510.2 926.8h0M1505.6 941.1h0M1493.6 947.6h0M1462 944.4h0M1470.1 914.4h0M1488.7 942.9h0M1499.9 912.1h0M1482.7 940.2h0M1485.1 933.8h0M1474.5 952.2h0M1486.5 915.8h0M1501.6 948.3h0M1480.1 939.7h0M1498.7 944h0M1470.9 948.7h0M1497.5 939.6h0M1484.2 937.5h0M1497.1 947.5h0M1465.2 953.6h0M1478.5 970.1h0M1493.3 927.1h0M1497.3 934h0M1506 942h0M1473.8 924.4h0M1491.1 940.5h0M1478.1 911.8h0M1464.7 941.9h0M1492.8 944.8h0M1458.8 947.5h0M1504.1 952.4h0M1490.3 939.7h0M1492.9 934.3h0M1500.4 922.6h0M1497.4 942.7h0M1488.9 941.3h0M1489.5 926.1h0M1495.6 945.8h0M1484.6 927.1h0M1484 939.4h0M1489.3 948.3h0M1486.2 942.1h0M1522.4 945.9h0M1491.9 940.2h0M1498.4 934.2h0M1473.6 936.6h0M1500.8 946h0M1474 948.8h0M1478.8 937.1h0M1486.6 940h0M1484.7 921.4h0M1496.6 954.7h0M1473.9 940.1h0M1492.8 956.7h0M1459.4 928.5h0M1507.5 920.8h0M1479.7 954.2h0M1481.4 958.4h0M1497 914.7h0M1515.1 932.1h0M1493.8 925.2h0M1492.4 953.1h0M1474.6 938.1h0M1490.2 940.4h0M1503.4 938.9h0M1477 965.6h0M1470.2 957.1h0M1505 951.3h0M1507 945.2h0M1493.1 931.7h0M1475.5 920.5h0M1485.5 943.7h0M1483.4 911.9h0M1521.5 927.9h0M1499.2 931.8h0M1491.2 913.6h0M1461.9 950.1h0M1508 958.7h0M1488.3 933h0M1506.6 957h0M1499.5 945.8h0M1511.7 927.1h0M1479.1 950.1h0M1486.3 965.2h0M1471 932.6h0M1494.1 971.6h0M1489.1 963.9h0M1520.5 937.6h0M1508.1 945.9h0M1487.4 925.5h0M1489.8 948h0M1476.7 957.7h0M1463 933.3h0M1487.5 962.7h0M1502 938.4h0M1482.2 947.9h0M1496.4 943.4h0M1492.7 930h0M1489.7 968.5h0M1501.7 940.7h0M1495.9 951.5h0M1506.2 958.3h0M1487.3 963.1h0M1509.6 962.2h0M1510.6 957.9h0M1499.1 952.5h0M1488.2 938.6h0M1469.9 935.1h0M1468.7 952.6h0M1489.2 940.1h0M1493.9 907.6h0M1494 944.9h0M1472.1 929.6h0M1484.9 942.2h0M1478.9 941h0M1459.7 934.4h0M1459.6 953.7h0M1497 937.4h0M1486.4 940.5h0M1502.2 955.3h0M1515.3 948.1h0M1481.6 908.5h0M1491.3 912h0M1475.2 970h0M1495.4 971h0M1513.2 928.5h0M1492.6 933.9h0M1493.2 933.8h0M1491.1 943.4h0M1499.4 916.5h0M1489.3 941h0M1507.8 962h0M1485.3 932.6h0M1507.1 931.3h0M1523.1 948.4h0M1482.4 953.6h0M1515.6 921.3h0M1487.4 970.4h0M1490.6 941.2h0M1495.5 942.9h0M1482.5 936.3h0M1497.7 929.4h0M1505.6 947.8h0M1490.8 940.6h0M1493.7 938.9h0M1497.3 946.2h0M1501.3 950.5h0M1484.1 928.9h0" stroke="#58c81e" stroke-width="1.8" stroke-linecap="round" fill="none" opacity="0.8"/><path d="M1328.2 802.9C1328.1 805.1 1325.5 807.1 1324.3 809.2C1323.1 811.3 1322.5 814.5 1320.9 815.5C1319.3 816.4 1316.7 815.2 1314.6 814.9C1312.5 814.7 1309.4 815.3 1308.1 813.9C1306.8 812.4 1307.2 808.7 1306.6 806.2C1306.1 803.7 1304.3 801.2 1304.6 798.9C1305 796.6 1306.9 794.3 1308.6 792.6C1310.2 790.9 1312.3 789.4 1314.4 788.9C1316.5 788.4 1319.4 788.4 1321.1 789.7C1322.9 790.9 1323.6 794 1324.8 796.2C1326 798.4 1328.3 800.7 1328.2 802.9Z" fill="#2213f2"/><ellipse cx="1317.4" cy="801.2" rx="1.6" ry="1.3" fill="#160c9c"/><path d="M1363.7 797.8C1365.6 801.9 1367.3 808.1 1367.4 812C1367.5 815.9 1365.5 818.7 1364.1 821.4C1362.7 824.1 1361.4 828.2 1359 828.2C1356.7 828.1 1352.9 823.5 1350.2 820.9C1347.6 818.4 1345 816.2 1342.9 813C1340.9 809.7 1339.4 805.5 1338.1 801.2C1336.8 797 1334.7 791.1 1335 787.6C1335.3 784.2 1337.8 781.7 1339.8 780.4C1341.9 779 1344.8 778.1 1347.4 779.3C1350.1 780.5 1353 784.4 1355.7 787.5C1358.4 790.5 1361.7 793.7 1363.7 797.8Z" fill="#2213f2"/><ellipse cx="1353.9" cy="797.1" rx="1.6" ry="1.3" fill="#160c9c"/><path d="M1415.6 825.1C1415.5 826.7 1415.6 828.5 1414.2 829.8C1412.8 831 1409.9 832.4 1407.3 832.9C1404.7 833.4 1401.5 833 1398.6 832.8C1395.8 832.6 1392.4 832.4 1390.2 831.6C1388.1 830.7 1386.2 828.9 1385.6 827.5C1385 826.1 1385.9 824.4 1386.6 822.9C1387.3 821.4 1387.9 819.6 1389.8 818.4C1391.8 817.3 1395.4 816.4 1398.3 816.2C1401.2 816.1 1404.3 817 1407.1 817.7C1409.9 818.4 1413.7 818.9 1415.1 820.2C1416.5 821.4 1415.8 823.5 1415.6 825.1Z" fill="#2213f2"/><path d="M1386.1 867.4C1386 869 1385.2 870.6 1384.4 871.8C1383.6 872.9 1382.5 873.7 1381.3 874.5C1380.1 875.4 1378.7 876.6 1377.3 876.6C1376 876.6 1374.1 875.7 1373.1 874.5C1372.1 873.4 1371.5 871.5 1371.1 869.9C1370.8 868.3 1370.5 866.4 1370.9 864.9C1371.4 863.5 1372.7 862.1 1373.7 861.2C1374.8 860.2 1376.1 859.5 1377.4 859.2C1378.8 858.9 1380.4 859 1381.6 859.5C1382.9 860.1 1384.4 861.2 1385.1 862.5C1385.9 863.9 1386.3 865.9 1386.1 867.4Z" fill="#2213f2"/><path d="M1407.7 868.5C1407.6 869.7 1405.7 870.9 1404.7 872.1C1403.7 873.3 1403.1 875.1 1401.7 875.6C1400.3 876.2 1398 875.7 1396.3 875.4C1394.5 875.1 1392.8 874.7 1391.5 873.9C1390.2 873.1 1389.1 871.8 1388.6 870.5C1388.1 869.3 1387.9 867.7 1388.3 866.4C1388.8 865.1 1389.9 863.7 1391.2 862.8C1392.5 861.9 1394.4 861.2 1396.1 861C1397.8 860.9 1399.8 861.4 1401.3 862C1402.8 862.6 1404.2 863.5 1405.3 864.6C1406.3 865.7 1407.8 867.3 1407.7 868.5Z" fill="#2213f2"/><ellipse cx="1400" cy="868" rx="1.6" ry="1.3" fill="#160c9c"/><path d="M1409.4 925.1C1410.2 928.2 1410.9 932.4 1410.4 935C1410 937.5 1408.1 939 1406.8 940.4C1405.5 941.8 1404.1 943.4 1402.5 943.4C1400.9 943.5 1399 942 1397.1 940.6C1395.3 939.3 1392.5 937.9 1391.3 935.4C1390.1 932.9 1390.3 928.7 1390.1 925.6C1390 922.6 1389.8 919.6 1390.4 917.1C1391 914.7 1392.2 911.8 1393.7 911C1395.2 910.2 1397.6 911.3 1399.5 912.2C1401.4 913.1 1403.5 914.4 1405.2 916.5C1406.8 918.7 1408.5 922.1 1409.4 925.1Z" fill="#2213f2"/><ellipse cx="1399" cy="932.1" rx="1.6" ry="1.3" fill="#160c9c"/><path d="M1331.9 944C1332.3 945.1 1332 946.5 1331.5 947.7C1331 949 1330.1 950.3 1329 951.3C1327.9 952.4 1326.5 953.5 1325.1 954.2C1323.7 954.9 1321.9 955.6 1320.4 955.7C1318.9 955.8 1317.3 955.6 1316.3 955C1315.4 954.4 1314.8 953.2 1314.7 952C1314.7 950.9 1315.2 949.4 1316 948.1C1316.7 946.9 1318 945.4 1319.3 944.5C1320.7 943.5 1322.5 943 1324.2 942.5C1325.8 942 1328 941.2 1329.3 941.4C1330.6 941.7 1331.6 943 1331.9 944Z" fill="#2213f2"/><path d="M1500.3 919.3C1500.2 921.2 1500.3 923.3 1499.4 925C1498.5 926.8 1496.7 928.8 1494.8 929.7C1492.9 930.7 1489.9 931.2 1487.7 930.8C1485.6 930.4 1483.5 928.9 1481.7 927.5C1480 926.1 1477.8 924.3 1477.4 922.5C1477.1 920.7 1478.7 918.4 1479.6 916.6C1480.4 914.9 1481.2 913.2 1482.6 912C1484 910.8 1486 909.9 1488 909.4C1490 908.8 1492.8 908.2 1494.8 908.9C1496.8 909.5 1498.9 911.6 1499.8 913.3C1500.7 915 1500.4 917.3 1500.3 919.3Z" fill="#2213f2"/><ellipse cx="1492.5" cy="919.4" rx="1.6" ry="1.3" fill="#160c9c"/><path d="M1494.1 950.7C1493.1 952.2 1490 952.6 1487.8 953.3C1485.6 953.9 1483.2 955.2 1480.8 954.7C1478.3 954.2 1475.5 952 1473.1 950.4C1470.7 948.7 1467.5 946.7 1466.3 944.6C1465.1 942.6 1465.4 939.8 1465.9 937.8C1466.4 935.9 1467.5 934 1469.1 932.9C1470.7 931.8 1473.2 931.2 1475.6 931.1C1478 931.1 1481 931.5 1483.3 932.6C1485.7 933.6 1488.1 935.7 1489.9 937.6C1491.6 939.5 1493.2 941.8 1493.9 944C1494.6 946.2 1495.1 949.1 1494.1 950.7Z" fill="#2213f2"/><ellipse cx="1483.4" cy="944.4" rx="1.6" ry="1.3" fill="#160c9c"/><path d="M1516.9 963.7C1516.9 965.3 1516 967.2 1514.6 968.6C1513.3 969.9 1511 971 1508.8 971.7C1506.6 972.4 1503.7 972.9 1501.4 972.6C1499.1 972.4 1496.5 971.4 1494.8 970.3C1493 969.2 1491.4 967.6 1490.8 966.2C1490.2 964.7 1490.6 962.8 1491.4 961.4C1492.2 960 1493.9 958.9 1495.6 957.8C1497.2 956.6 1499.2 954.7 1501.3 954.5C1503.4 954.4 1505.9 956 1508.1 956.7C1510.3 957.4 1513.2 957.7 1514.6 958.9C1516.1 960 1516.9 962.1 1516.9 963.7Z" fill="#2213f2"/><ellipse cx="1505.2" cy="965.7" rx="1.6" ry="1.3" fill="#160c9c"/></g>
</defs>
<text x="4" y="681.8" font-size="42.5" font-weight="bold">e</text>
<text x="150.2" y="711.3" font-size="29.5" text-anchor="middle"><tspan font-weight="bold" font-style="italic">CDK4</tspan><tspan font-weight="bold">-WT</tspan></text>
<rect x="28" y="720.8" width="244" height="4.3" fill="#000"/>
<text x="411.5" y="711.5" font-size="29.5" text-anchor="middle" fill="#ff1a0a" font-weight="bold" font-style="italic">CDK4-KO</text>
<rect x="288.4" y="720.8" width="247.5" height="4.3" fill="#ff1a0a"/>
<clipPath id="ft1"><rect x="18.7" y="733.7" width="258.6" height="256.5"/></clipPath>
<rect x="18.7" y="733.7" width="258.6" height="256.5" fill="#000"/>
<g clip-path="url(#ft1)" filter="url(#blur05)"><use href="#eWT"/></g>
<rect x="132.8" y="785.9" width="107.7" height="96.9" fill="none" stroke="#fff" stroke-width="2.4"/>
<rect x="35" y="964.4" width="42" height="6.6" fill="#fff"/>
<text x="24.3" y="758" font-size="21" fill="#4a72d6" font-weight="bold">DAPI</text>
<text x="270.7" y="755.2" font-size="21" text-anchor="end" fill="#5cc426" font-weight="bold">VAPB-</text>
<text x="270" y="780.4" font-size="21" text-anchor="end" fill="#5cc426" font-weight="bold">PTPIP51</text>
<clipPath id="fh1"><rect x="57" y="999.9" width="187.2" height="169.8"/></clipPath>
<rect x="57" y="999.9" width="187.2" height="169.8" fill="#000"/>
<g clip-path="url(#fh1)"><g transform="translate(-166.8 -341.9) scale(1.7003 1.7100)" filter="url(#blur05)"><use href="#eWT"/></g></g>
<rect x="71" y="1146.4" width="63" height="7.1" fill="#fff"/>
<text x="46.5" y="1083" font-size="25.5" text-anchor="middle" transform="rotate(-90 46.5 1083)">High Mag.</text>
<clipPath id="ft2"><rect x="286.7" y="733.7" width="251.4" height="256.5"/></clipPath>
<rect x="286.7" y="733.7" width="251.4" height="256.5" fill="#000"/>
<g clip-path="url(#ft2)" filter="url(#blur05)"><use href="#eKO"/></g>
<rect x="354.5" y="808.7" width="109.6" height="98.7" fill="none" stroke="#fff" stroke-width="2.4"/>
<rect x="301" y="965.3" width="42.4" height="6.6" fill="#fff"/>
<text x="291.7" y="758" font-size="21" fill="#4a72d6" font-weight="bold">DAPI</text>
<text x="532.5" y="755.2" font-size="21" text-anchor="end" fill="#5cc426" font-weight="bold">VAPB</text>
<text x="531.6" y="780.4" font-size="21" text-anchor="end" fill="#5cc426" font-weight="bold">-PTPIP51</text>
<clipPath id="fh2"><rect x="322.5" y="1000.8" width="185.8" height="168.9"/></clipPath>
<rect x="322.5" y="1000.8" width="185.8" height="168.9" fill="#000"/>
<g clip-path="url(#fh2)"><g transform="translate(-263.6 -348.2) scale(1.6589 1.6706)" filter="url(#blur05)"><use href="#eKO"/></g></g>
<rect x="337" y="1146.4" width="63" height="7.1" fill="#fff"/>
<text x="314" y="1081" font-size="25.5" text-anchor="middle" transform="rotate(-90 314 1081)">High Mag.</text>
<text x="563.3" y="930.7" font-size="25.5" text-anchor="middle" font-weight="bold" transform="rotate(-90 563.3 930.7)">Number of VAPB-PTPIP51 dots per cell</text>
<line x1="619.5" y1="800.3" x2="619.5" y2="1070" stroke="#000" stroke-width="2.4"/>
<line x1="607.9" y1="801.7" x2="619.5" y2="801.7" stroke="#000" stroke-width="2.9"/>
<text x="604" y="809.8" font-size="24.8" text-anchor="end" font-weight="bold">10</text>
<line x1="607.9" y1="855.5" x2="619.5" y2="855.5" stroke="#000" stroke-width="2.9"/>
<text x="604" y="863.6" font-size="24.8" text-anchor="end" font-weight="bold">8</text>
<line x1="607.9" y1="909.4" x2="619.5" y2="909.4" stroke="#000" stroke-width="2.9"/>
<text x="604" y="917.5" font-size="24.8" text-anchor="end" font-weight="bold">6</text>
<line x1="607.9" y1="963.3" x2="619.5" y2="963.3" stroke="#000" stroke-width="2.9"/>
<text x="604" y="971.4" font-size="24.8" text-anchor="end" font-weight="bold">4</text>
<line x1="607.9" y1="1016.7" x2="619.5" y2="1016.7" stroke="#000" stroke-width="2.9"/>
<text x="604" y="1024.8" font-size="24.8" text-anchor="end" font-weight="bold">2</text>
<line x1="607.9" y1="1070" x2="619.5" y2="1070" stroke="#000" stroke-width="2.9"/>
<text x="604" y="1078.1" font-size="24.8" text-anchor="end" font-weight="bold">0</text>
<line x1="608.1" y1="1068.7" x2="724.9" y2="1068.7" stroke="#000" stroke-width="3.4"/>
<line x1="649.2" y1="1068.5" x2="649.2" y2="1080" stroke="#000" stroke-width="2.8"/>
<line x1="693.4" y1="1068.5" x2="693.4" y2="1080" stroke="#000" stroke-width="2.8"/>
<line x1="649.2" y1="809.2" x2="693.7" y2="903.9" stroke="#000" stroke-width="2.4"/>
<line x1="649.2" y1="853.2" x2="693.7" y2="903.9" stroke="#000" stroke-width="2.4"/>
<line x1="649.2" y1="866.4" x2="693.7" y2="927.5" stroke="#000" stroke-width="2.4"/>
<line x1="649.2" y1="919.1" x2="693.7" y2="936.7" stroke="#000" stroke-width="2.4"/>
<circle cx="649.2" cy="809.2" r="5.2" fill="#000"/>
<circle cx="649.2" cy="853.2" r="4.1" fill="#9a9a9a" stroke="#000" stroke-width="2.1"/>
<circle cx="649.2" cy="866.4" r="4.1" fill="#dcdcdc" stroke="#000" stroke-width="2.1"/>
<circle cx="649.2" cy="919.1" r="4.1" fill="#fff" stroke="#000" stroke-width="2.1"/>
<rect x="689.7" y="899.9" width="8" height="8" fill="#fff" stroke="#ff1a0a" stroke-width="2.2"/>
<rect x="689.7" y="923.5" width="8" height="8" fill="#fff" stroke="#ff1a0a" stroke-width="2.2"/>
<rect x="689.7" y="932.7" width="8" height="8" fill="#fff" stroke="#ff1a0a" stroke-width="2.2"/>
<text x="671.5" y="764" font-size="20.5" text-anchor="middle" font-weight="bold" font-style="italic">0.0394</text>
<line x1="649.2" y1="777.8" x2="693.7" y2="777.8" stroke="#000" stroke-width="2.2"/>
<text x="655.5" y="1102" font-size="24" text-anchor="end" transform="rotate(-45 655.5 1102)"><tspan font-style="italic">CDK4-</tspan><tspan font-weight="bold">WT</tspan></text>
<text x="699.5" y="1102" font-size="24" text-anchor="end" transform="rotate(-45 699.5 1102)"><tspan font-style="italic">CDK4-</tspan><tspan font-weight="bold">KO</tspan></text>
<text x="728.6" y="684.4" font-size="42.5" font-weight="bold">f</text>
<text x="964" y="680.2" font-size="28">HA_Tr.</text>
<line x1="758" y1="691.4" x2="1261.7" y2="691.4" stroke="#000" stroke-width="3"/>
<text x="881.9" y="721.5" font-size="28" text-anchor="middle"><tspan font-weight="bold" font-style="italic">CDK4</tspan><tspan font-weight="bold">-WT</tspan></text>
<rect x="758" y="729.6" width="244.5" height="3.6" fill="#000"/>
<text x="1138.6" y="721.5" font-size="28" text-anchor="middle" fill="#ff1a0a" font-weight="bold" font-style="italic">CDK4-KO</text>
<rect x="1016.9" y="728.8" width="247.1" height="3.6" fill="#ff1a0a"/>
<text x="1342.5" y="680.2" font-size="28">CDK4_Tr.</text>
<line x1="1280.7" y1="690.4" x2="1529.1" y2="690.4" stroke="#000" stroke-width="3"/>
<text x="1406.5" y="721.5" font-size="28" text-anchor="middle" fill="#b5151a" font-weight="bold" font-style="italic">CDK4-KO</text>
<rect x="1280.7" y="728.8" width="245.5" height="3.6" fill="#b5151a"/>
<clipPath id="ft3"><rect x="752.8" y="743" width="254.5" height="256"/></clipPath>
<rect x="752.8" y="743" width="254.5" height="256" fill="#000"/>
<g clip-path="url(#ft3)" filter="url(#blur05)"><use href="#fWT"/></g>
<rect x="799.1" y="854.9" width="108" height="98.1" fill="none" stroke="#fff" stroke-width="2.4"/>
<rect x="760.2" y="974.5" width="41.9" height="6.3" fill="#fff"/>
<text x="758" y="763.8" font-size="20.4" fill="#4a72d6" font-weight="bold">DAPI</text>
<text x="1000.3" y="764.8" font-size="21.2" text-anchor="end" fill="#5cc426" font-weight="bold">VDAC1-</text>
<text x="997.6" y="791.3" font-size="21.2" text-anchor="end" fill="#5cc426" font-weight="bold">ITPR1</text>
<clipPath id="fh3"><rect x="786.2" y="1010.7" width="184.5" height="169.6"/></clipPath>
<rect x="786.2" y="1010.7" width="184.5" height="169.6" fill="#000"/>
<g clip-path="url(#fh3)"><g transform="translate(-547.2 -430) scale(1.6712 1.6876)" filter="url(#blur05)"><use href="#fWT"/></g></g>
<rect x="808.4" y="1157" width="63.1" height="6.8" fill="#fff"/>
<text x="781.2" y="1092.5" font-size="25.5" text-anchor="middle" transform="rotate(-90 781.2 1092.5)">High Mag.</text>
<clipPath id="ft4"><rect x="1014.8" y="743" width="254.5" height="256"/></clipPath>
<rect x="1014.8" y="743" width="254.5" height="256" fill="#000"/>
<g clip-path="url(#ft4)" filter="url(#blur05)"><use href="#fKO"/></g>
<rect x="1054.1" y="786.5" width="109.3" height="98.3" fill="none" stroke="#fff" stroke-width="2.4"/>
<rect x="1025" y="974.5" width="42.3" height="6.3" fill="#fff"/>
<text x="1019.7" y="765.5" font-size="20.4" fill="#4a72d6" font-weight="bold">DAPI</text>
<text x="1262.3" y="765.5" font-size="21.2" text-anchor="end" fill="#5cc426" font-weight="bold">VDAC1</text>
<text x="1262.3" y="791.3" font-size="21.2" text-anchor="end" fill="#5cc426" font-weight="bold">-ITPR1</text>
<clipPath id="fh4"><rect x="1040.8" y="1009" width="184.5" height="169.9"/></clipPath>
<rect x="1040.8" y="1009" width="184.5" height="169.9" fill="#000"/>
<g clip-path="url(#fh4)"><g transform="translate(-698.3 -316) scale(1.6517 1.6872)" filter="url(#blur05)"><use href="#fKO"/></g></g>
<rect x="1062" y="1156.6" width="63.3" height="7.2" fill="#fff"/>
<text x="1035.8" y="1090.4" font-size="25.5" text-anchor="middle" transform="rotate(-90 1035.8 1090.4)">High Mag.</text>
<clipPath id="ft5"><rect x="1275.9" y="742" width="255.5" height="257.9"/></clipPath>
<rect x="1275.9" y="742" width="255.5" height="257.9" fill="#000"/>
<g clip-path="url(#ft5)" filter="url(#blur05)"><use href="#fTR"/></g>
<rect x="1322.6" y="751.6" width="108.6" height="98.2" fill="none" stroke="#fff" stroke-width="2.4"/>
<rect x="1298" y="977.9" width="42.4" height="6.1" fill="#fff"/>
<text x="1281.2" y="766.5" font-size="20.4" fill="#4a72d6" font-weight="bold">DAPI</text>
<text x="1519.2" y="765.5" font-size="21.2" text-anchor="end" fill="#5cc426" font-weight="bold">VDAC1-</text>
<text x="1517" y="791.3" font-size="21.2" text-anchor="end" fill="#5cc426" font-weight="bold">ITPR1</text>
<clipPath id="fh5"><rect x="1315" y="1007.9" width="181.3" height="168.8"/></clipPath>
<rect x="1315" y="1007.9" width="181.3" height="168.8" fill="#000"/>
<g clip-path="url(#fh5)"><g transform="translate(-843.3 -251.2) scale(1.6333 1.6779)" filter="url(#blur05)"><use href="#fTR"/></g></g>
<rect x="1334" y="1160.2" width="63.5" height="6.8" fill="#fff"/>
<text x="1309.5" y="1089.3" font-size="25.5" text-anchor="middle" transform="rotate(-90 1309.5 1089.3)">High Mag.</text>
<text x="1554.4" y="893.2" font-size="26.3" text-anchor="middle" font-weight="bold" transform="rotate(-90 1554.4 893.2)">Number of ITPR1-VDAC1 dots per cell</text>
<line x1="1624.5" y1="760.3" x2="1624.5" y2="1037" stroke="#000" stroke-width="2.4"/>
<line x1="1613" y1="761.6" x2="1624.5" y2="761.6" stroke="#000" stroke-width="2.9"/>
<text x="1608.5" y="769.9" font-size="24.8" text-anchor="end" font-weight="bold">150</text>
<line x1="1613" y1="853" x2="1624.5" y2="853" stroke="#000" stroke-width="2.9"/>
<text x="1608.5" y="861.3" font-size="24.8" text-anchor="end" font-weight="bold">100</text>
<line x1="1613" y1="944.5" x2="1624.5" y2="944.5" stroke="#000" stroke-width="2.9"/>
<text x="1608.5" y="952.8" font-size="24.8" text-anchor="end" font-weight="bold">50</text>
<line x1="1613" y1="1037" x2="1624.5" y2="1037" stroke="#000" stroke-width="2.9"/>
<text x="1608.5" y="1045.3" font-size="24.8" text-anchor="end" font-weight="bold">0</text>
<line x1="1613.4" y1="1035.9" x2="1731.4" y2="1035.9" stroke="#000" stroke-width="3.4"/>
<line x1="1645.7" y1="1035.7" x2="1645.7" y2="1047.5" stroke="#000" stroke-width="2.8"/>
<line x1="1677.4" y1="1035.7" x2="1677.4" y2="1047.5" stroke="#000" stroke-width="2.8"/>
<line x1="1708.9" y1="1035.7" x2="1708.9" y2="1047.5" stroke="#000" stroke-width="2.8"/>
<polyline points="1645.7,821 1677.4,856.6 1708.9,802.9" fill="none" stroke="#000" stroke-width="2.4"/>
<polyline points="1645.7,928.3 1677.4,999.7 1708.9,921.5" fill="none" stroke="#000" stroke-width="2.4"/>
<polyline points="1645.7,963.6 1677.4,979.7 1708.9,946" fill="none" stroke="#000" stroke-width="2.4"/>
<polyline points="1645.7,1009.2 1677.4,1020.3 1708.9,986.1" fill="none" stroke="#000" stroke-width="2.4"/>
<circle cx="1645.7" cy="821" r="5.2" fill="#000"/>
<circle cx="1645.7" cy="928.3" r="4.1" fill="#aaa" stroke="#000" stroke-width="2.1"/>
<circle cx="1645.7" cy="963.6" r="4.1" fill="#ddd" stroke="#000" stroke-width="2.1"/>
<circle cx="1645.7" cy="1009.2" r="4.1" fill="#fff" stroke="#000" stroke-width="2.1"/>
<rect x="1672.1" y="851.3" width="10.6" height="10.6" fill="#ff1a0a"/>
<rect x="1673.4" y="975.7" width="8" height="8" fill="#f9d5d5" stroke="#ff1a0a" stroke-width="2.2"/>
<rect x="1673.4" y="995.7" width="8" height="8" fill="#f2a9a9" stroke="#ff1a0a" stroke-width="2.2"/>
<rect x="1673.4" y="1016.3" width="8" height="8" fill="#fff" stroke="#ff1a0a" stroke-width="2.2"/>
<rect x="1703.6" y="797.6" width="10.6" height="10.6" fill="#b5151a"/>
<rect x="1704.9" y="917.5" width="8" height="8" fill="#e6c4c4" stroke="#b5151a" stroke-width="2.2"/>
<rect x="1704.9" y="942" width="8" height="8" fill="#e8d8c0" stroke="#b5151a" stroke-width="2.2"/>
<rect x="1704.9" y="982.1" width="8" height="8" fill="#fff" stroke="#b5151a" stroke-width="2.2"/>
<text x="1659.2" y="756" font-size="20.5" text-anchor="middle" font-weight="bold" font-style="italic">0.0388</text>
<line x1="1646.4" y1="770.4" x2="1671.9" y2="770.4" stroke="#000" stroke-width="2.2"/>
<text x="1696.6" y="712.2" font-size="20.5" text-anchor="middle" font-weight="bold" font-style="italic">0.0067</text>
<line x1="1682.5" y1="725.8" x2="1709" y2="725.8" stroke="#000" stroke-width="3"/>
<text x="1652.9" y="1066" font-size="24.5" text-anchor="end" transform="rotate(-45 1652.9 1066)"><tspan font-style="italic">CDK4-</tspan><tspan font-weight="bold">WT</tspan></text>
<text x="1684.6" y="1066" font-size="24.5" text-anchor="end" transform="rotate(-45 1684.6 1066)"><tspan font-style="italic">CDK4-</tspan><tspan font-weight="bold">KO</tspan></text>
<text x="1716.1" y="1066" font-size="24.5" text-anchor="end" transform="rotate(-45 1716.1 1066)"><tspan font-style="italic">CDK4-</tspan><tspan font-weight="bold">KO</tspan></text>
<line x1="1558.2" y1="1149.4" x2="1617.2" y2="1149.4" stroke="#000" stroke-width="4"/>
<line x1="1624.8" y1="1150.2" x2="1659.1" y2="1150.2" stroke="#000" stroke-width="4"/>
<text x="1589" y="1166" font-size="25" text-anchor="end" transform="rotate(-45 1589 1166)">HA_Tr.</text>
<text x="1648" y="1166" font-size="25" text-anchor="end" transform="rotate(-45 1648 1166)">CDK4_Tr.</text>
<!-- panel_g -->
<text x="8" y="1248.2" font-size="42.5" font-weight="bold">g</text>
<circle cx="151.1" cy="1235.3" r="6" fill="#68abee"/>
<text x="266.3" y="1238.6" font-size="25.5" text-anchor="middle" fill="#68abee" font-weight="bold">Downregulated</text>
<text x="267" y="1269.2" font-size="25.5" text-anchor="middle" fill="#68abee"><tspan font-weight="bold">in </tspan><tspan font-weight="bold" font-style="italic">CDK4</tspan><tspan font-weight="bold">-KO</tspan></text>
<circle cx="474" cy="1235.7" r="4.6" fill="#000"/>
<text x="609" y="1242.3" font-size="25.5" text-anchor="middle" font-weight="bold">MERCs-associated</text>
<text x="609" y="1271.9" font-size="25.5" text-anchor="middle" font-weight="bold">proteins (n=139)</text>
<circle cx="866.1" cy="1234.8" r="4.6" fill="#f0545c"/>
<text x="958.4" y="1242.3" font-size="25.5" text-anchor="middle" fill="#f0545c" font-weight="bold">Upregulated</text>
<text x="958.2" y="1271.9" font-size="25.5" text-anchor="middle" fill="#f0545c"><tspan font-weight="bold">in </tspan><tspan font-weight="bold" font-style="italic">CDK4</tspan><tspan font-weight="bold">-KO</tspan></text>
<rect x="125.8" y="1293.4" width="465.8" height="594.6" fill="#e9f1f9"/>
<rect x="620.8" y="1293.4" width="439.5" height="594.6" fill="#f9e9ea"/>
<path d="M630.7 1915.2h0M610.2 1898.7h0M633.8 1925.5h0M606.5 1932.5h0M598.1 1736.3h0M623 1897.7h0M596.2 1889.8h0M623.8 1903.3h0M559.7 1905.4h0M616 1767.7h0M627.5 1912.6h0M598.5 1873.6h0M602.5 1913.6h0M612.6 1901h0M613 1912.7h0M562.5 1892.2h0M589.9 1915.8h0M600.9 1899.6h0M588.5 1908.6h0M647.6 1903.7h0M598.9 1805.2h0M588.8 1888.2h0M594.3 1719.4h0M602.8 1926.4h0M599.5 1795h0M619.6 1814.9h0M619.1 1912.9h0M592.6 1895.6h0M614.5 1914.3h0M605.9 1932.2h0M605.6 1930.2h0M597.8 1751.4h0M620.8 1702.8h0M598.2 1773.5h0M593.7 1794.6h0M595.1 1924.9h0M611.3 1905.8h0M605.5 1927.1h0M604.3 1914.8h0M620.2 1908.5h0M616.9 1788.5h0M599.8 1835.4h0M604.9 1903.2h0M620.9 1739.9h0M624.1 1916.4h0M593.4 1710.9h0M637 1905.1h0M619.7 1680.7h0M572.5 1895.4h0M608.8 1889.1h0M587.9 1923.5h0M609.1 1877.6h0M607.3 1900.7h0M608.8 1890.5h0M647.7 1911.5h0M611.3 1879.6h0M605.1 1925.6h0M652.7 1905.7h0M616.1 1839.7h0M563.2 1923.2h0M592.4 1890h0M595 1782.3h0M649.6 1895.6h0M610.2 1906.6h0M633.3 1912.5h0M614.2 1807.5h0M604.2 1899.6h0M624 1901.6h0M595.4 1833.8h0M623.3 1914.8h0M614.5 1838.7h0M593.8 1888.9h0M611.4 1896.6h0M618.9 1738.9h0M614.7 1893.3h0M615.6 1823h0M592.3 1855.7h0M601.6 1914.1h0M536.2 1896.4h0M657.4 1913.9h0M640.5 1911.8h0M604.4 1908.3h0M602.9 1884.8h0M618.8 1774.3h0M677.4 1899.7h0M611.1 1888.3h0M598.1 1908.5h0M600.3 1909.4h0M631.5 1891h0M594.1 1931.4h0M604.2 1905.3h0M597.9 1829.8h0M594.1 1717h0M643.1 1895.1h0M609.6 1928.9h0M605.6 1927.7h0M626.6 1904.6h0M610.9 1928.4h0M604.1 1913.9h0M598.9 1844.7h0M619.5 1754.4h0M617.9 1697.6h0M610.3 1857.1h0M593.9 1739.9h0M595.7 1834.8h0M603.6 1883.3h0M618.2 1795.1h0M603.9 1911h0M608.6 1892.8h0M561.7 1900.5h0M631.2 1915.2h0M604.4 1928.8h0M596.5 1790.2h0M603.2 1887.6h0M605.2 1926.8h0M614 1853.9h0M594 1929.2h0M610.7 1854.4h0M608.3 1920.4h0M611.3 1855.2h0M612.2 1919.5h0M606.1 1893.9h0M591.1 1922.2h0M600.8 1816.8h0M648.2 1898.4h0M614.3 1744.5h0M628 1894.8h0M604.2 1905.1h0M612.7 1889.4h0M593.2 1893.5h0M560.3 1889h0M615.3 1767.8h0M626.1 1913.7h0M612.7 1891.9h0M605.3 1923.1h0M594.8 1918.5h0M615 1830.1h0M591.9 1730.3h0M584.5 1894.5h0M598.1 1781.1h0M607.2 1927.1h0M577.9 1912.5h0M595.2 1811.6h0M614.8 1905.6h0M626 1888.8h0M599.9 1832h0M592.1 1832.1h0M612.1 1869.3h0M575.3 1905.6h0M593.1 1691.8h0M608.1 1906.5h0M590.7 1900.9h0M612 1906.9h0M616.9 1779.1h0M643.3 1913.7h0M611 1830.5h0M604.8 1915.7h0M596.4 1898.2h0M573.9 1894.2h0M568.3 1905.3h0M610.6 1881.1h0M545.5 1897.4h0M595.3 1808.4h0M606.1 1927.9h0M619.8 1758.2h0M594.9 1927.1h0M584.8 1905.4h0M623.1 1901.6h0M596.5 1905.3h0M601.8 1892.8h0M612 1879.8h0M605 1929.5h0M606.7 1927.4h0M613.8 1765h0M618.8 1685.4h0M588.7 1919.1h0M607.8 1930.3h0M595.1 1735.2h0M599.7 1777.6h0M602.9 1859.6h0M591.9 1908h0M549.3 1906h0M608.8 1903.4h0M607.6 1919.7h0M603.5 1902.4h0M614.4 1898.7h0M572 1893.2h0M636.1 1903.8h0M606.4 1930h0M607.1 1928.5h0M625.9 1889.1h0M612 1851.9h0M634.9 1908.1h0M612.7 1775.6h0M610.1 1855.6h0M594.5 1724h0M614.1 1894.6h0M602.6 1897.7h0M600.9 1919.4h0M617.2 1811.4h0M605.2 1921h0M644 1915.8h0M601.8 1844.7h0M616.4 1809.1h0M608.4 1901h0M579.4 1898.6h0M608.2 1901.3h0M539.6 1902.9h0M607.7 1901.1h0M610.3 1870.7h0M629.1 1891h0M569.5 1909.7h0M608.6 1895.9h0M607.5 1925.9h0M605.7 1922.5h0M578.3 1918.6h0M637.8 1888.7h0M568.3 1893.5h0M614.8 1898h0M587.2 1893.6h0M570.3 1918.6h0M592.4 1898.1h0M603.6 1899.4h0M594.5 1793.5h0M562 1914.3h0M594.5 1839h0M602.5 1893.6h0M611.7 1822.5h0M597.2 1833.5h0M631 1899.2h0M592.3 1678.5h0M612 1892.2h0M596 1758.3h0M627 1927.2h0M614.8 1766.4h0M613.4 1802.8h0M591.6 1904.6h0M605.1 1927.3h0M631.4 1905.6h0M578.6 1923.2h0M603.4 1899.8h0M594 1699.8h0M580.2 1888.3h0M604.9 1922h0M598.1 1899.5h0M602.4 1906.9h0M601.6 1824.1h0M611.1 1893.2h0M616 1877.9h0M585.2 1902.4h0M608.1 1912.4h0M606.4 1897.2h0M544.3 1896.5h0M608.6 1900.9h0M616.4 1793.8h0M653.3 1892.7h0M537.4 1894.5h0M618.9 1756.8h0M591.8 1762.2h0M613.5 1816.5h0M612.8 1775.7h0M596.3 1729.1h0M573.2 1911.7h0M609.3 1922.6h0M599.9 1819.4h0M603.2 1874.5h0M601.3 1894.3h0M612.3 1855.7h0M616.9 1780.3h0M595 1910.3h0M640.4 1920.2h0M546.1 1906.2h0M607 1928.4h0M596.6 1770.6h0M577.3 1893.4h0M646.6 1911.8h0M597.4 1789h0M614.3 1826.1h0M618.7 1750.7h0M594 1925h0M600.5 1849.7h0M604.9 1918.5h0M593.7 1892.6h0M572 1901.4h0M604.8 1891.4h0M615.4 1761h0M593.5 1789.2h0M587.4 1914.7h0M604.5 1910.8h0M603.6 1909.8h0M605.8 1925.7h0M611.5 1870.3h0M625.7 1901.5h0M601.9 1898.2h0M602.7 1867.4h0M586.5 1896.3h0M562.5 1904.4h0M602.3 1915h0M598.3 1809.3h0M601.5 1883.4h0M599 1894.2h0M604.5 1908.5h0M600 1804.4h0M615.3 1765.8h0M640.4 1911.2h0M607.1 1931.5h0M594.6 1692.8h0M603 1914.5h0M626.2 1889.8h0M604.9 1915h0M598.6 1914.9h0M632.7 1894.4h0M600.1 1782.6h0M603.3 1924.7h0M616.1 1767.4h0M600.1 1831.1h0M607.3 1906.7h0M618.2 1693.8h0M609.7 1899.4h0M620.2 1837.9h0M577.4 1904.8h0M596.1 1888.7h0M592.1 1714.3h0M613.1 1911.7h0M607.6 1920.2h0M556.6 1892.7h0M614.4 1743h0M592.9 1705.3h0M614.5 1894.7h0M630.3 1888.9h0M606.2 1926.9h0M587.6 1893.6h0M601.1 1865.8h0M564.2 1907.1h0M617.1 1739.7h0M627.4 1889.7h0M610.3 1882.7h0M632.6 1894.7h0M593.6 1692.2h0M609.4 1875.4h0M639.2 1900.9h0M603.3 1871.6h0M575.8 1901.5h0M599.3 1790.6h0M606.5 1905.4h0M616.6 1761h0M611.6 1852.7h0M635.2 1890.2h0M567.3 1893.8h0M595.2 1852h0M607.9 1919.2h0M629 1888.2h0M620 1903.8h0M611.7 1889h0M595.5 1906.8h0M571 1894.3h0M658.6 1910.8h0M544.6 1912.4h0M596.1 1852.5h0M619.2 1670.5h0M634.1 1902.1h0M600.5 1801.8h0M631.9 1896.6h0M643.5 1892.5h0M615.8 1775.5h0M568.3 1902.8h0M628.3 1912.5h0M551 1895.4h0M593.8 1844.9h0M609.4 1902.2h0M612.3 1888.9h0M602.5 1864.7h0M598.9 1846.2h0M607 1920h0M608.6 1907.2h0M606.3 1929.2h0M667.9 1895.3h0M607.4 1923.5h0M597.3 1775.4h0M589.1 1898.3h0M620.2 1712.7h0M697.2 1889.8h0M606.6 1927.3h0M605.5 1928.9h0M609.6 1909.2h0M601.5 1839.5h0M615.6 1879.6h0M615 1727.8h0M620 1699.8h0M590 1900.1h0M596.9 1893.1h0M611.6 1848h0M600.8 1860.2h0M661.2 1894.2h0M595.7 1832.8h0M600.8 1849.3h0M614.3 1791.8h0M576.4 1915.7h0M608 1915h0M597.7 1753.3h0M613.2 1922h0M582.7 1908.7h0M638.2 1893.8h0M600.1 1802.6h0M605.7 1932.1h0M536.7 1905.9h0M586.7 1898.5h0M610.3 1915.1h0M614.2 1928.7h0M619.1 1753.4h0M594.4 1891h0M608.5 1917h0M635.2 1916.7h0M663 1888.2h0M606.2 1930.4h0M586.4 1902.9h0M619.2 1713h0M599.2 1878.2h0M613.8 1890.6h0M696.7 1891.7h0M611.3 1854.1h0M599.3 1895.5h0M612.8 1919.4h0M595.1 1781.7h0M598.7 1922.2h0M580.9 1911.9h0M609.5 1920.3h0M622.5 1900.9h0M607.7 1921.7h0M598.9 1756.1h0M612.3 1805.5h0M606.5 1927.8h0M595 1710.5h0M615.4 1778.6h0M605.2 1922.8h0M605.2 1927.2h0M593.5 1683.6h0M614.2 1783.5h0M620.8 1827.7h0M611.7 1837.5h0M596.9 1800.6h0M591.7 1893.8h0M607.2 1930.9h0M565.9 1917.2h0M560.4 1891.1h0M597.7 1732h0M631.8 1907.6h0M598 1830.2h0M588.9 1898.5h0M600.5 1831.5h0M593.4 1852.9h0M644 1897.4h0M592.9 1920h0M613.8 1782.8h0M635.3 1893.8h0M531.7 1895.1h0M598.8 1890.8h0M575.5 1920.6h0M615.2 1898.7h0M629 1891.9h0M614 1777.4h0M567.8 1923.9h0M673.3 1888.8h0M620.9 1741.7h0M618.5 1719.7h0M602.2 1876.1h0M620.4 1816.5h0M603.8 1886.7h0M619 1680.8h0M602.8 1860.5h0M649.4 1902.4h0M614.9 1830.2h0M597.1 1903.4h0M613.8 1893h0M609.2 1899h0M555.8 1909.5h0M637.3 1926.7h0M602.6 1871.2h0M605.9 1927.7h0M599.7 1813.6h0M617.1 1920.2h0M607.1 1928.6h0M620.7 1843.4h0M614.9 1892.6h0M631.3 1902.2h0M591.9 1774.5h0M623 1902.3h0M637.5 1923.7h0M617.1 1825.6h0M619.8 1752.4h0M593.9 1862.6h0M617.9 1706.9h0M627.6 1896.7h0M620.2 1892.6h0M614.2 1820h0M619.2 1773.3h0M609.8 1855.3h0M612.5 1799.2h0M591.8 1705.1h0M597.1 1771.2h0M602 1878.8h0M600.2 1877.4h0M646 1914.8h0M595.7 1707.3h0M604 1895.9h0M610 1852.1h0M619.5 1817.8h0M601.5 1867.4h0M601 1901.9h0M612 1810.4h0M615.6 1797.6h0M607.6 1925.3h0M612.4 1847.3h0M600.8 1894.7h0M606.3 1928.8h0M609.2 1888.4h0M603.4 1895.7h0M614.8 1806.9h0M594.6 1923.9h0M590.5 1899.5h0M620.5 1738.7h0M582.2 1906.7h0M599.2 1814.9h0M604.7 1919.4h0M601.8 1830.9h0M623.1 1906.3h0M605.8 1929.6h0M600.4 1813.4h0M620.5 1690.7h0M619.7 1706.6h0M627 1906.9h0M609.6 1887.8h0M620.4 1894.1h0M594.6 1730.6h0M655.8 1900.3h0M571.6 1900.3h0M616.4 1779h0M609.7 1875.2h0M597 1748.8h0M602.9 1904.2h0M582.1 1888.2h0M606 1930.2h0M602.2 1847.5h0M611.7 1841.2h0M592.5 1671.4h0M596.6 1814.5h0M595 1876.8h0M615.8 1879.3h0M652.7 1894.5h0M620.9 1790.5h0M620.8 1665.6h0M641.1 1898.8h0M595.7 1711h0M599.9 1834.7h0M599.5 1793.7h0M619.9 1805.9h0M649.4 1910.7h0M650.5 1892.6h0M590.3 1901.9h0M603.8 1912.1h0M606.8 1928.9h0M574.4 1909.7h0M614.3 1768.9h0M599.3 1903.7h0M604.2 1922.2h0M608.6 1897.6h0M615 1926.7h0M614.6 1842.4h0M591.7 1715.5h0M619 1724h0M618.1 1766.7h0M610.8 1897.7h0M605.6 1931.3h0M612 1805.9h0M593.7 1684.1h0M617.5 1861h0M620.8 1644.1h0M651 1903.7h0M594.1 1908.3h0M593.6 1892.5h0M594.6 1706.9h0M599.6 1914.2h0M607.9 1919.8h0M621.8 1892.8h0M594.4 1904.5h0M641.5 1910.4h0M618 1841.9h0M620.3 1818.4h0M611.7 1837.9h0M593.6 1847.6h0M574.4 1896.9h0M607.4 1923.7h0M597.6 1747.1h0M606.1 1893.4h0M649.9 1895.3h0M625.5 1924.9h0M604.4 1907.2h0M605.4 1897.6h0M590.8 1919.1h0M553 1894.7h0M595.4 1689.1h0M598.5 1914.4h0M612.5 1812.3h0M606.3 1927.6h0M608.5 1901.1h0M616.9 1777.1h0M618.9 1735.6h0M604.6 1910.1h0M618.1 1895h0M618.6 1924.9h0M599.9 1790.4h0M600.6 1828.5h0M614.3 1867h0M591.8 1706.8h0M660.5 1919.5h0M553.6 1891.7h0M636.3 1913.7h0M593.4 1889.3h0M612.2 1796.1h0M595.6 1838.9h0M599.3 1850.6h0M629.3 1911.2h0M593.8 1808.4h0M596.5 1778h0M613.3 1914.7h0M596.3 1769.4h0M616.1 1750.8h0M606.7 1931h0M603.5 1883.6h0M615.2 1728.2h0M631.8 1908.8h0M581.3 1913.5h0M574.2 1925.2h0M618.1 1830.4h0M601.8 1906.6h0M608.5 1913h0M597.1 1724.8h0M614.2 1915.6h0M603.7 1888.7h0M597.5 1805.1h0M612.1 1903.4h0M618.4 1696.7h0M598.1 1874.2h0M577.8 1888.2h0M642.7 1911.4h0M632.8 1890.6h0M620.9 1833.6h0M616.2 1783.2h0M653.4 1889.4h0M608.2 1925.9h0M600.7 1812.3h0M607.1 1933.1h0M612.7 1838.6h0M614.7 1892.5h0M554.8 1903.9h0M600.5 1910.1h0M658.7 1889h0M643.5 1896.8h0M678.3 1891.6h0M608.9 1913.9h0M613 1885.4h0M609.3 1870.3h0M619.1 1747.4h0M637.9 1920.7h0M662 1896.5h0M583.5 1914.2h0M599.2 1884.4h0M614.3 1905.3h0M607.6 1930.3h0M599.2 1925h0M589.4 1912.8h0M619.5 1809.9h0M543.4 1910.3h0M609.6 1905.2h0M617.7 1747.8h0M612.1 1801.8h0M598.6 1908.1h0M602.2 1876.7h0M587.1 1916.9h0M596.6 1853h0M603.3 1871.7h0M597.1 1778.1h0M599.5 1894.6h0M601.7 1856h0M616.3 1760h0M594 1891.2h0M608.2 1905h0M620.7 1900.4h0M613.8 1904.1h0M562.3 1915.6h0M620.6 1756h0M602.9 1890.8h0M603 1873.7h0M617.3 1725.8h0M603.8 1918.6h0M673.9 1889.5h0M594.6 1751.6h0M602.9 1856.9h0M595.9 1699.7h0M595.2 1896.2h0M626.1 1891.3h0M615.6 1799.5h0M656.9 1913.2h0M642.2 1904.9h0M602.4 1899.8h0M597.8 1777.9h0M638 1893.3h0M596.3 1730.1h0M611.7 1918.2h0M601.2 1893.3h0M605 1924.4h0M611.8 1910.1h0M596.8 1855.6h0M611.7 1898.2h0M603 1921.3h0M578.5 1912.7h0M592.2 1645.2h0M569.3 1898.2h0M629.7 1894h0M620 1693.2h0M599 1846.3h0M594.6 1805.4h0M610.6 1833.5h0M620.6 1672.3h0M607.5 1891.5h0M596 1770.1h0M569.7 1897.2h0M579.7 1898.7h0M604.4 1909.5h0M612.4 1838.6h0M607.3 1925.5h0M616.4 1709.8h0M595.4 1836.9h0M611.6 1838.1h0M638.3 1910.5h0M594.6 1913.2h0M627.2 1905.5h0M542.3 1910.7h0M569.2 1902.8h0M587.2 1925.2h0M623.8 1920.3h0M603.6 1891.1h0M612.6 1808h0M610.2 1929.5h0M614.1 1754.1h0M585.4 1889.2h0M592.7 1656.3h0M616.1 1836.8h0M612 1832.5h0M596.5 1812.8h0M617.7 1876.8h0M598.3 1750.4h0M610.7 1885.4h0M593.1 1694h0M605.5 1931h0M611 1846.5h0M616 1755.2h0M594.8 1751.9h0M597.6 1727.9h0M597.7 1929.7h0M583 1898.4h0M594.3 1686.1h0M598.4 1762h0M600.2 1785.7h0M604.5 1904.9h0M619.1 1889.3h0M602.9 1870.2h0M634.7 1920h0M674.9 1905.6h0M609 1881.4h0M602.2 1923.6h0M632.8 1919.4h0M630.3 1925h0M600.9 1841.4h0M608.2 1917.7h0M611 1881.6h0M616.2 1710.1h0M626.9 1918.9h0M643.4 1920.2h0M598.7 1819.2h0M605.1 1923.9h0M595.1 1698.5h0M608 1911.4h0M597.7 1756.6h0M598.2 1811h0M610.9 1903.7h0M606.9 1931.3h0M556.5 1914.7h0M633.5 1907.8h0M614.6 1845.2h0M614.3 1868.3h0M606.3 1930.8h0M671.9 1898.5h0M618.6 1841.4h0M603 1876.5h0M620.4 1870.6h0M595.6 1809.4h0M612.2 1834.8h0M619.4 1913.3h0M611.4 1813.2h0M605.7 1928.2h0M647.3 1892.4h0M616.5 1701.4h0M611.3 1833.1h0M599 1765.6h0M661.6 1913h0M617.7 1896.4h0M604.4 1916.1h0M566.8 1893.6h0M611.1 1815.9h0M609.8 1877.2h0M593.8 1895.9h0M609.3 1872.9h0M611.7 1866.8h0M604.2 1907.2h0M601.3 1816.8h0M593.1 1722h0M614.6 1763.9h0M606.5 1927.2h0M597.9 1766.9h0M563.6 1901.2h0M645 1924.5h0M528.7 1896.2h0M573.9 1889.3h0M578.2 1910.5h0M634.9 1902.4h0M618.4 1674h0M596 1918h0M619.4 1805.3h0M593.6 1775.2h0M594.7 1845.1h0M562.1 1894.8h0M605.1 1920.3h0M548.2 1898.1h0M598.3 1839.7h0M592.1 1720.9h0M607.8 1897.9h0M618.9 1779.5h0M614.1 1822.3h0M607.3 1931.1h0M619.8 1878.6h0M565.5 1895.5h0M619.5 1672.7h0M609.1 1883h0M629.5 1907.5h0M590.2 1904.2h0M598.1 1880.3h0M696.5 1892.2h0M600.2 1797.3h0M610.9 1915h0M604.9 1919.1h0M602.3 1839.2h0M598.1 1804.9h0M613.1 1830.4h0M609.4 1866.6h0M599.4 1817.3h0M608.9 1892.7h0M565.5 1906.9h0M614.3 1770.4h0M603.3 1901.3h0M592.3 1904.3h0M596.9 1740.8h0M593.5 1702.3h0M594.1 1910.3h0M605 1926.6h0M548.9 1891.7h0M607.6 1923.8h0M598.5 1893.3h0M602.7 1878.8h0M609.4 1872.8h0M610.5 1868.7h0M622.7 1894h0M621.4 1905.4h0M597.8 1737.1h0M608.5 1896.6h0M593.3 1870.9h0M608.2 1929.8h0M594.2 1817.7h0M616 1804.2h0M611 1853.6h0M609 1885.6h0M616.8 1713.7h0M605.6 1929.4h0M595.1 1771h0M648.7 1897.7h0M602.5 1888.5h0M574.2 1894.2h0M608.9 1894.1h0M595.6 1820.9h0M617.3 1800.8h0M592.7 1930.1h0M599 1898.3h0M602.3 1867.6h0M580.3 1912.6h0M619.9 1895.9h0M614.6 1797.3h0M600.6 1866.3h0M578.7 1905.8h0M563.3 1914.3h0M603.4 1902.4h0" stroke="#c3c3c3" stroke-width="6.6" stroke-linecap="round" fill="none"/>
<path d="M587 1667.4h0M556.4 1796.1h0M584.8 1766.1h0M572.9 1704h0M541.1 1822.3h0M585.1 1803.7h0M507.2 1646.2h0M519.5 1677.3h0M531.3 1803.1h0M574.3 1771.9h0M582.5 1699.6h0M563 1778.8h0M549.7 1593.5h0M555.9 1738.3h0M561.2 1646.9h0M540.2 1541.2h0M558.2 1758.5h0M544.7 1524.2h0M553.6 1813.2h0M572.6 1611.7h0M552.2 1542.9h0M583 1777.1h0M575.1 1519.4h0M575.1 1723.4h0M551.7 1692.2h0M558.2 1709.9h0M577.4 1754.2h0M568.2 1867h0M576.4 1660.6h0M584.4 1632h0M578.8 1643h0M572.4 1565.1h0M568.1 1630.8h0M578.5 1543.8h0M584.6 1718.4h0M545.2 1747.9h0M543.5 1571.1h0M589 1678.3h0M522.8 1521.9h0M582.1 1570.4h0M558.9 1695.4h0M580 1860.9h0M572.1 1503.3h0M547.5 1626.7h0M577.6 1591.1h0M565.3 1606.7h0M583.6 1769.2h0M561.7 1621.2h0M573 1805.5h0M573.4 1780.6h0M561.6 1728.9h0M559.1 1693h0M523.3 1769.9h0M588.8 1618.4h0M585.6 1781.6h0M569.7 1609.2h0M531.2 1527.1h0M574.5 1726.4h0M587.9 1710.5h0M583.6 1793.9h0M562.5 1706h0M584.8 1575.9h0M557.8 1685.3h0M582.5 1588.6h0M570.7 1542.9h0M564.7 1491.5h0M589.5 1688.4h0M585.8 1823.2h0M588.8 1865.9h0M560.3 1604.8h0M591.1 1726.6h0M583.1 1632.1h0M532 1463.8h0M502 1557.6h0M560.5 1547h0M561.1 1543.2h0M569.6 1824.1h0M575.5 1817.2h0M552.9 1687.5h0M576.3 1542.4h0M591.1 1814.6h0M540.6 1534.2h0M524.3 1509.6h0M548.2 1496.3h0M548.6 1478.8h0M573.2 1671h0M577 1670.6h0M583.1 1748h0M583.5 1776.3h0M556.1 1768.9h0M573.4 1828.9h0M586.8 1600.9h0M546.9 1602.9h0M554.5 1603.3h0M553.4 1802.3h0M571.5 1844.4h0M565 1592.4h0M551.2 1642.4h0M564.2 1724h0M551.7 1568h0M579.6 1712.6h0M548.7 1723.2h0M575.9 1667h0M542.5 1693.7h0M565.6 1800h0M495.1 1558.4h0M586.4 1811.3h0M552.6 1700.6h0M545.5 1645.2h0M571.5 1609.2h0M577.4 1703.5h0M543.9 1545.1h0M580.1 1595.7h0M579.3 1736.6h0M514.5 1587.5h0M564.6 1806.2h0M589.6 1729.7h0M583 1788h0M566.8 1687.5h0M529.8 1514.9h0M579.9 1663.6h0M525.4 1561.1h0M581.6 1756h0M577.3 1768.8h0M551.6 1469.6h0M534.6 1639.4h0M587.1 1845.7h0M584.4 1796.4h0M544.7 1534.9h0M568.5 1626.6h0M578 1596.6h0M575 1561.2h0M517 1532.7h0M525.8 1518.4h0M519.9 1603.3h0M568.2 1665.3h0M502.3 1510.2h0M569.3 1815.6h0M586.4 1772.6h0M513.3 1486.9h0M575.1 1564.3h0M528.7 1554.4h0M579.5 1745.8h0M527.8 1695.1h0M584.2 1741.6h0M577.3 1712.7h0M588.7 1718.2h0M541.9 1637.2h0M539 1713.9h0M518.3 1484.1h0M586.8 1703.3h0M584.6 1724.4h0M578.1 1768.5h0M578.3 1645.5h0M581.5 1794.8h0M587.6 1800.7h0M567.3 1775.3h0M533.4 1744.1h0M580.1 1839h0M587.9 1732.1h0M572.4 1493.5h0M536.4 1556.7h0M571.6 1620.1h0M549.9 1806h0M581.1 1723.5h0M555.9 1763.8h0M547.9 1510.1h0M570.1 1539.2h0M572.8 1526.9h0M516.7 1662.9h0M531.4 1491.2h0M557.8 1464.2h0M569.6 1509.8h0M556.7 1764.6h0M552 1553.9h0M581.1 1798h0M580.1 1808.9h0M572.8 1788.6h0M539 1545.3h0M562.9 1634.6h0M586.3 1719.6h0M566.5 1611.9h0M560.9 1793.1h0M536.7 1570.9h0M520 1608.2h0M568.1 1514.1h0M551 1545.9h0M565.3 1706.6h0M379.1 1544.8h0M573.1 1846.4h0M565.2 1674.3h0M576.2 1834h0M561.1 1553.4h0M581 1813.6h0M495.8 1474.1h0M557 1520.3h0M547.8 1784.5h0M570.9 1668.5h0M569.5 1651.1h0M539.4 1502.7h0M575.3 1644.5h0M559.2 1821.3h0M538.1 1486.8h0M579.2 1798.6h0M526.7 1539.5h0M570.3 1777.6h0M579 1816.9h0M556.9 1525.8h0M574.3 1534.4h0M564.5 1699.6h0M569.9 1599.5h0M586.4 1854.2h0M587 1664.5h0M554.4 1575.9h0M578.4 1546.2h0M583.9 1788.4h0M542.1 1529h0M582.5 1789.6h0M572.3 1529h0M581.8 1620.9h0M576.3 1742.2h0M573.1 1749.7h0M537.7 1588.3h0M575.4 1797.4h0M546.1 1460.4h0M573.2 1772.6h0M568.8 1801.7h0M543.6 1557.9h0M559 1834.6h0M557.4 1578.8h0M566.3 1849.9h0M558.1 1605.5h0M542.7 1734.5h0M574.6 1742.6h0M575.2 1723.6h0M557.5 1835.8h0M526 1555h0M591.1 1853.2h0M591.4 1713.7h0M541.3 1722.1h0M553.1 1728.9h0M566.9 1698.5h0M524.3 1578.3h0M556.4 1728.2h0M555.2 1857.2h0M584.7 1692.4h0M572 1615.7h0M538.9 1655.6h0M518.9 1600.6h0M547 1536.4h0M558.8 1845.1h0M558.9 1597.9h0M528.3 1586.6h0M565.8 1532.3h0M447.9 1752.4h0M551.7 1503.6h0M579.6 1656.1h0M533.2 1515.6h0M587.2 1826.1h0M588.1 1748.4h0M584 1811.2h0M553.3 1701h0M552.9 1785.5h0M512.2 1706.1h0M519.5 1660.3h0M572.9 1525.7h0M569.8 1612.2h0M541.8 1593.1h0M561.8 1636.4h0M564.4 1644.7h0M569 1657.5h0M579.2 1707.1h0M530.8 1694h0M589 1811.6h0M544.4 1845.2h0M555 1599.7h0M578.8 1835.3h0M577.7 1743.9h0M566.1 1671.6h0M583.4 1710.9h0M587.8 1671.6h0M568.6 1615h0M495.3 1577.1h0M574.7 1708.7h0M546.5 1743.9h0M575.6 1596.2h0M559.9 1545.7h0M578.9 1613h0M577.3 1531.5h0M538.3 1720.8h0M568.6 1862.7h0M564 1700.5h0M585 1867.8h0M520 1514.9h0M529.9 1742.1h0M557.8 1744.6h0M570 1521.7h0M580.5 1730.2h0M585.6 1867.3h0M589 1727.3h0M535.1 1522.9h0M533.6 1584.6h0M582.7 1792.4h0M587.9 1686h0M579.1 1769.6h0M573.1 1729.6h0M556.7 1548.7h0M545.5 1721.3h0M565.6 1588.7h0M503.4 1543.6h0M581.4 1701.5h0M573 1672.2h0M552.8 1846.4h0M581.8 1683.8h0M566.8 1619.2h0M583.9 1658.2h0M577.9 1592.9h0M582 1685.7h0M567.1 1660.9h0M527.7 1420.2h0M539.3 1530.4h0M550.4 1545.6h0M591.1 1742.9h0M523.5 1480.4h0M584.8 1735.2h0M570.6 1748.3h0M563.4 1818.7h0M581.6 1594.5h0M571.6 1729.5h0M517.9 1556.6h0M560.3 1694.7h0M544.3 1510.9h0M587 1794.5h0M555 1557.3h0M571.2 1683.5h0M570.1 1545.7h0M585.3 1680.3h0M571.3 1637.8h0M589.8 1731.3h0M576.8 1635.2h0M548 1587h0M572 1847.1h0M589.7 1730.9h0M543 1534.4h0M541.6 1580.3h0M576 1704.4h0M586.5 1604.6h0M583.2 1739.8h0M586.6 1828.3h0M569.8 1717.9h0M537.4 1664.8h0M529.6 1498h0M554.2 1629.7h0M566.8 1623.1h0M578.1 1776.1h0M563 1736.1h0M531.9 1617.2h0M555.8 1528.6h0M569.2 1772.4h0M590.6 1775.6h0M589.6 1761.3h0M578.3 1732.7h0M586.8 1870.3h0M547.7 1834.8h0M579.3 1679h0M574 1859.1h0M584.6 1777.9h0M572.1 1554.3h0M530.1 1620h0M565.7 1562.4h0M571.1 1507h0M576 1736.8h0M512.6 1798.1h0M563.2 1794.1h0M583.6 1596.2h0M557.2 1520h0M584.2 1723.1h0M560.5 1687.6h0M577.8 1772.4h0M579 1644.7h0M575.9 1573.6h0M563.4 1646h0M572.7 1607.2h0M563.8 1828.4h0M551.6 1606.6h0M559.4 1547.9h0M535.7 1545h0M538.1 1814h0M577.8 1784.7h0M559.6 1651.2h0M581.7 1657.8h0M565.2 1664.2h0M571 1567.3h0M588 1705.3h0M583.3 1711.1h0M588.6 1658.9h0M573.7 1649.7h0M556.7 1713.2h0M572.1 1672.8h0M496.7 1477.2h0M567.6 1723.6h0M578.6 1700h0M579.6 1786h0M581 1796.7h0M584 1768.7h0M555.7 1875.7h0M533.3 1674.8h0M543.6 1525.4h0M565.6 1514.3h0M559.8 1733.4h0M579.8 1625.1h0M563.3 1609.5h0M585.5 1588.2h0M581.5 1565h0M569.2 1689.5h0M582.9 1580.5h0M575.2 1507.2h0M539 1499.2h0M558.6 1637.9h0M567.8 1783h0M578.3 1599.2h0M542.7 1528.7h0M537.7 1712.5h0M545.9 1701.4h0M544.2 1786.3h0M518.4 1541.9h0M546.7 1720.8h0M586.7 1682.4h0M543.4 1814.3h0M590.9 1633.4h0M576.3 1724.1h0M553.6 1480.3h0M581 1742.3h0M547.5 1516h0M589.5 1613.3h0M562.8 1572.3h0M586.8 1822.8h0M569.2 1548.4h0M546.6 1723.4h0M562.5 1709.1h0M567.7 1655.4h0M556.6 1818.4h0M578.9 1721.4h0M589.6 1757.7h0M562.6 1490.8h0M547.3 1620.8h0M575.1 1554.3h0M577.3 1782.8h0M558 1607.1h0M584.2 1692h0M554.7 1582.9h0M578.9 1653h0M557.5 1777h0M573 1679.3h0M590.1 1720.5h0M561.9 1717.3h0M548.8 1757.6h0M579.4 1866.2h0M569 1781.8h0M545.3 1690.1h0M567.9 1467h0M585.1 1841.4h0M538.9 1569.4h0M560.7 1524.5h0M570.3 1829.6h0M551.9 1558.7h0M583.2 1590.1h0M558.8 1680.1h0M525 1698h0M521 1627.7h0M591.5 1676.7h0M563.9 1698.8h0M588.9 1676h0M585.3 1757.2h0M585.4 1578.5h0M583.2 1819.6h0M575.7 1782.7h0M587.6 1708h0M569.9 1746.1h0M581.5 1728h0M589.8 1826.9h0M503.1 1452.2h0M577.6 1584.1h0M553.5 1734.4h0M573 1559.4h0M583.5 1602.5h0M541.8 1813.7h0M548.9 1748.6h0M575 1662.1h0M557.5 1837.1h0M548.9 1602h0M564.6 1739h0M573.8 1500.5h0M543.2 1686.1h0M574.7 1734.1h0M546.8 1446.8h0M570.9 1520.9h0M550 1767.6h0M545.4 1765.6h0M591.1 1755.7h0M552.3 1693.3h0M546.2 1721h0M572.1 1507.6h0M574 1633h0M537.2 1512.5h0M539.8 1542.4h0M576.1 1586.5h0M578.1 1632.2h0M562.6 1713.4h0M561 1581.5h0M532.4 1727.2h0M535.9 1537.3h0M539.3 1790.2h0M571.3 1503.6h0M571.4 1656.1h0M568.6 1731.4h0M588.1 1723.5h0M580.6 1708.2h0M587 1810.6h0M526.7 1628h0M565.7 1579.7h0M587.6 1633.2h0M556.1 1534.2h0M529.3 1614.7h0M563.7 1863.8h0M547.5 1756.3h0M573.8 1576.2h0M583.1 1656.4h0M511.4 1682.3h0M510.7 1618h0M548.8 1594.9h0M540.4 1658.2h0M582.8 1837.6h0M580.7 1651.9h0M566.6 1601.1h0M536.7 1548.3h0M559.8 1624h0M545.4 1506.2h0M580.4 1725h0M566.9 1745.4h0M569.4 1810h0M564.2 1663.4h0M565.8 1729.9h0M586.8 1778.5h0M557.7 1531.6h0M580.8 1744.3h0M587.2 1748.1h0M583.1 1673.7h0M507.3 1563.3h0M537.6 1565.7h0M574.1 1842.2h0M533.3 1558h0M534 1635.1h0M542.6 1489.1h0M514.3 1501.2h0M568.7 1703.4h0M587 1642.8h0M569.1 1732.4h0M590.5 1719.9h0M516.1 1501.7h0M539.9 1504.8h0M576.1 1732.7h0M571.9 1655.3h0M558.6 1570.8h0M565.4 1499.3h0M589.4 1636.1h0M538.9 1551.6h0M570.6 1526.7h0M560.3 1526.7h0M589.6 1661.8h0M590.7 1765.9h0M508.8 1544.7h0M574.8 1864h0M565.2 1846h0M587.8 1793.5h0M572.7 1523.3h0M538 1484.2h0M548.4 1741.5h0M543.5 1504.7h0M591.4 1843.8h0M569.4 1821.3h0M534.3 1574.8h0M550.4 1666.6h0M563.9 1694.6h0M504.9 1599.9h0M545.6 1531.4h0M569.7 1697.6h0M535.2 1606.5h0M570.6 1824.7h0M565.3 1454.6h0M573.3 1770.6h0M566.7 1635.4h0M557.4 1758.4h0M531.9 1535.3h0M548.2 1537.7h0M591.1 1690.5h0M558 1802.5h0M584.1 1725h0M563.9 1498.8h0M506.8 1701.6h0M581.1 1649.7h0M550.7 1640.6h0M565.5 1484.5h0M563.4 1512.1h0M541.9 1778.7h0M564.5 1743.1h0M541.9 1831.1h0M528.1 1487.6h0M591.1 1729.9h0M563.8 1780.8h0M533.4 1797h0M584.8 1641.4h0M585.9 1611.2h0M505.5 1543.1h0M561.4 1614.4h0M587.5 1748.3h0M564.1 1585.1h0M562.9 1506.3h0M542.4 1668.7h0M501 1552.5h0M562.4 1704h0M586.2 1760.6h0M585.4 1643.9h0M527.7 1559.1h0M566.8 1712.2h0M563.1 1491h0M583.7 1811.4h0M574.3 1671.9h0M585.1 1695.6h0M580.3 1657h0M583.8 1823.2h0M569.7 1700.8h0M541.7 1672.5h0M586.3 1837.6h0M587.4 1771.8h0M533.4 1703.3h0M568.8 1668.6h0M506.3 1558.8h0M581.9 1711h0M572.6 1840.2h0M531.1 1736h0M579.6 1838.1h0M524.6 1471.8h0M545.1 1514h0M542.7 1762.7h0M570.3 1568.6h0M552 1711.1h0M549.5 1805.5h0M579.5 1807.6h0M557 1523.2h0M535.4 1587.5h0M584.7 1746.5h0M521.2 1605.1h0M569.6 1758h0M534.1 1762.8h0M589.4 1769h0M575.2 1787.6h0M563.8 1542.4h0M581.6 1745.1h0M543.1 1690.1h0M563.9 1659.1h0M513.2 1598.1h0M568.4 1810.5h0M558.7 1708h0M582.5 1719.4h0M561.1 1661.2h0M583.9 1860.4h0M576.7 1539.4h0M590.4 1825.4h0M560.4 1525.6h0M566.6 1485.9h0M591.5 1708h0M563.5 1739.4h0M580 1778h0M575.2 1808.2h0M564 1716.4h0M573 1566.9h0M591.5 1769.5h0M583.5 1780.3h0M565.3 1607.1h0M529.5 1558.8h0M569.2 1780h0M566.7 1617.2h0M565.5 1598h0M580.7 1738.4h0M562.3 1734.1h0M583.1 1648.8h0M561.7 1647h0M550 1698.3h0M587.6 1687.2h0M578 1720.4h0M574.3 1866.1h0M591 1847.6h0M551 1726.2h0M590.1 1782.1h0M568.2 1528.4h0M559.3 1852.8h0M578.5 1819.8h0M591.2 1751.9h0M582.6 1683.8h0M565.6 1757.4h0M551.8 1795.5h0M579.4 1721.7h0M569 1771.9h0M556.9 1842.8h0M563.7 1706.9h0M550.4 1521.4h0M574.6 1596.4h0M555.5 1477.2h0M580.7 1720.1h0M588 1783.6h0M529.6 1427.7h0M573.4 1763h0M551.1 1575.7h0M554.5 1638.7h0M580.6 1704.7h0M580.8 1803.6h0M565.3 1760.5h0M540.7 1568.8h0M583 1625.4h0M564.8 1787.2h0M586.8 1659.8h0M559.2 1712.3h0M573.5 1789.6h0M535.7 1510.6h0M571.5 1546.5h0M480.2 1482h0M544.4 1561.2h0M571.4 1748h0M566.6 1677.3h0M553.8 1512.9h0M537.8 1411.7h0M548.7 1556h0M541.1 1777.7h0M563.6 1590.8h0M546.2 1521.3h0M580.7 1836.8h0M584.6 1800.3h0M581.3 1639.2h0M537 1707.7h0M566.5 1695.3h0M532.3 1528.8h0M557.1 1731.4h0M512.8 1595.9h0M509.9 1652h0M546.1 1639.2h0M589.9 1695.9h0M551.5 1590h0M553 1589.2h0M567.9 1577.7h0M537.7 1510.3h0M557.1 1745.8h0M582.8 1711.7h0M571.4 1608.7h0M589.2 1790.6h0M556.5 1487.1h0M515.4 1676.5h0M574.1 1672h0M561.4 1509.1h0M584 1846.6h0M590.5 1836h0M587.3 1813.4h0M542.5 1584.1h0M558.9 1759.2h0M579.5 1846.3h0M442.2 1667.3h0M579 1711.4h0M542.3 1716.2h0M551 1551.4h0M564.5 1484h0M577.2 1758.6h0M548.5 1540.8h0M515.2 1512.4h0M571.1 1686.4h0M589.2 1790.3h0M575.2 1588.8h0M583.2 1608.1h0M589.1 1704h0M569.7 1734.5h0M550.4 1531.8h0M556.3 1704h0M574.4 1656.5h0M513.8 1694.9h0M472.5 1435h0M547.5 1697.8h0M589.5 1799.1h0M567.3 1692.2h0M567.2 1557.6h0M584.5 1735.7h0M584.1 1751.4h0M582.6 1759.8h0M569.9 1805.7h0M540 1663.3h0M566.8 1604h0M561.8 1519.2h0M578.9 1623.9h0M589.3 1739.8h0M538.5 1508.2h0M556.3 1507.8h0M529.2 1717.9h0M591.1 1666.7h0M588.7 1693h0M558.6 1779.3h0M567 1706.8h0M568.9 1726.3h0M557.3 1537.2h0M565.8 1718.9h0M568.1 1609h0M556 1500.9h0M552 1628.2h0M522.6 1496.7h0M573.2 1492.6h0M533.3 1797.2h0M524 1476.6h0M588.1 1817.1h0M579.9 1826.7h0M552.1 1752.3h0M571.3 1734.6h0M525 1519.6h0M575 1505.4h0M526.8 1536.8h0M551.8 1595.8h0M551.5 1583.1h0M529.2 1773.7h0M586.3 1663h0M536.1 1473.8h0M577.5 1779.6h0M560 1721.3h0M571.6 1678.2h0M562.1 1703.3h0M556.7 1623.6h0M583.5 1865.9h0M585.4 1634.4h0M556.7 1524.9h0M566.9 1817.2h0M575.4 1556.5h0M563.6 1852h0M523.9 1503.7h0M555.6 1636.6h0M582.5 1821.6h0M585.6 1845.5h0M541.3 1761.7h0M562.1 1819.3h0M589.6 1811.6h0M559.1 1777.4h0M574 1661.7h0M561.8 1640.5h0M553 1816.7h0M552.4 1518.8h0M577.1 1736.2h0M565.3 1823h0M556.7 1591.4h0M529.3 1614.5h0M566.6 1588h0M581.6 1748.9h0M528.4 1603.6h0M573.3 1804.9h0M586.2 1606.3h0M494.8 1518.7h0M519.7 1520.7h0M587.7 1789.5h0M579.1 1783.3h0M530.9 1732.5h0M568.8 1577.9h0M537 1789.2h0M550.4 1658.1h0M577.1 1538.9h0M565 1798.7h0M535.8 1763.2h0M582.2 1764.9h0M579.7 1553.1h0M581.2 1757.3h0M578.2 1787.9h0M576.7 1709.1h0M561.1 1750.5h0M560.1 1778.5h0M523 1716.7h0M581.8 1731.4h0M567.7 1610h0M564.1 1628.3h0M555.5 1781h0M556.7 1623.1h0M566.5 1709.8h0M549.7 1772.4h0M572.9 1815h0M531.6 1723.9h0M551.7 1777.6h0M480 1813.5h0M589.4 1735.9h0M585.3 1710.1h0M580.3 1637h0M478.8 1456h0M566.8 1726.3h0M590.2 1784.2h0M559.1 1760.2h0M536.3 1742.4h0M531.6 1571.2h0M591.4 1724.5h0M560.4 1843.1h0M504.2 1635.6h0M571.3 1806.9h0M572.4 1591.1h0M568 1730.1h0M578.2 1615.9h0M580.8 1702.3h0M555.5 1829.5h0M555.7 1723.2h0M524.7 1435.4h0M511.5 1609.6h0M508.1 1643h0M569 1836.1h0M540.8 1780.5h0M570.7 1639.3h0M556.1 1533.8h0M544.6 1631.7h0M575.8 1824.3h0M571.1 1547.8h0M544 1743.3h0M563.6 1735.5h0M524.2 1528.3h0M547.3 1791.4h0M574.4 1741.1h0M588.7 1759.4h0M564.7 1579.2h0M560.6 1601.2h0M563.2 1742h0M590.2 1621.8h0M565.3 1860.7h0M554 1493h0M590.4 1701.3h0M584 1660.9h0M579.3 1784.2h0M577.8 1760.5h0M546.5 1730.7h0M535.8 1590.2h0M471.5 1499.1h0M550.1 1726.2h0M554.7 1507.1h0M568.9 1630.3h0M587 1786.7h0M591.4 1812.2h0M570.2 1782.9h0M558.1 1785.1h0M587 1775.2h0M569.8 1814.2h0M526.3 1774.3h0M494.7 1545.6h0M530.4 1603.9h0M576.8 1727.2h0M580.3 1783.2h0M574.3 1759.4h0M543.3 1622.7h0M579.6 1761.3h0M578.4 1647.5h0M579.6 1606.8h0M528.5 1543.9h0M586.3 1711.4h0M563.1 1536.6h0M518.6 1508.2h0M555.3 1807h0M587.3 1614.1h0M540.6 1527.5h0M541.4 1716.6h0M567.7 1802.9h0M584.3 1755.9h0M589.7 1740.3h0M542.5 1526.7h0M584 1804.6h0M584.8 1717h0M508.6 1565.7h0M588.8 1746.2h0M511.2 1587.7h0M547.8 1693.9h0M586 1599.4h0M589.3 1669h0M581 1573.4h0M584.3 1677.7h0M574.6 1697h0M587.5 1683h0M582.8 1729.2h0M534.1 1529.8h0M574.8 1733.8h0M587.4 1810.3h0M573.5 1739.5h0M553.6 1474.2h0M577 1757.8h0M579.9 1786.1h0M571.4 1683.3h0M575.3 1762h0M555.7 1579.7h0M566 1762h0M479.9 1529.9h0M556.8 1757.4h0M534.5 1783.4h0M569.5 1659.8h0M585.4 1655.4h0M545.4 1816.6h0M584.3 1684.9h0M566.8 1568.7h0M515.8 1498.3h0M539.1 1663.9h0M552.9 1712.8h0M568 1612.1h0M571.3 1733.1h0M567.8 1674h0M577.8 1800.7h0M583.1 1632.3h0M527.6 1534.8h0M591 1753h0M534.7 1514.4h0M560.7 1612.2h0M572 1770.9h0M578.9 1682h0M572.1 1733.9h0M561.7 1502.9h0M571 1778.3h0M585.2 1745.5h0M525.3 1778.3h0M575.7 1645h0M504.1 1518.9h0M546.9 1503.6h0M576.7 1687.5h0M569 1785.9h0M581 1804.8h0M572.5 1865.2h0M567.3 1568.8h0M532.1 1531h0M565.9 1833.1h0M591.1 1788.8h0M578.5 1666.2h0M582.1 1560.2h0M546.3 1595.8h0M560.5 1848.6h0M535.1 1500.6h0M579.6 1602.4h0M550.1 1497.6h0M574.4 1749.9h0M573 1627.9h0M549.4 1699.4h0M557.9 1714.5h0M576.7 1573.8h0M485.7 1760.1h0M522.6 1483.6h0M576.5 1750.4h0M556.1 1649.7h0M555.9 1750.6h0M433.2 1488.9h0M566.1 1558.7h0M541.8 1769.5h0M566.1 1671.1h0M540.1 1548.5h0M557.6 1513h0M541.6 1546.7h0M551.3 1634.7h0M539.6 1590.8h0M542.1 1500.9h0M542.2 1528.5h0M487.5 1626.2h0M583 1788h0M530.2 1645h0M485.1 1580.3h0M587.1 1830.8h0M554.8 1447.8h0M514.5 1542.2h0M555.3 1768.2h0M524 1538.4h0M559 1549.8h0M568.2 1565.5h0M557 1757h0M571.4 1785.1h0M559.5 1599.9h0M564.1 1542.9h0M537.8 1614.5h0M576.1 1553h0M587.8 1662.3h0M537.7 1660.9h0M585 1829.1h0M585.8 1739.6h0M591.6 1713h0M572.5 1715h0M578.4 1663.7h0M517 1580.9h0M550.9 1507.2h0M530.3 1555.4h0M561.1 1734.5h0M539.2 1728.9h0M558.1 1520h0M551 1671.2h0M581.2 1572.6h0M578.9 1601.3h0M569.7 1649.4h0M555.1 1460.7h0M506.5 1600.9h0M572.4 1741.9h0M565.6 1594.2h0M571.1 1529.6h0M589.9 1640.3h0M572 1726.3h0M568.6 1703.3h0M556.3 1760.8h0M588.4 1863.5h0M533.1 1570.9h0M585.8 1743.7h0M577.3 1548.4h0M574.3 1797.8h0M588.8 1725.5h0M571.2 1711.6h0M567.1 1567.7h0M532 1534.3h0M578.8 1629.6h0M578.2 1714.1h0M574.3 1607.6h0M538.8 1533.8h0M556.7 1612.2h0M575.1 1739.4h0M500.9 1412.9h0M574.6 1811.9h0M569.4 1726.3h0M555.5 1482.7h0M583.4 1568.1h0M582.8 1607.2h0M591.2 1645.2h0M576.4 1731.8h0M571.2 1674.2h0M580.4 1749.2h0M572.1 1566.6h0M575 1849.4h0M555.4 1743.6h0M566.4 1645.3h0M565 1679.1h0M576.9 1738.7h0M518.8 1467h0M562.4 1594.6h0M573.8 1791h0M536.3 1495.9h0M582.7 1620.7h0M541.5 1661.8h0M564.2 1485.5h0M561.3 1528.2h0M569.9 1542.9h0M531.8 1868.4h0M567.6 1778.6h0M565.2 1756.6h0M570.7 1608.2h0M582.4 1676h0M509.9 1467.9h0M559.6 1553.3h0M582.7 1607.2h0M572 1695.5h0M558.9 1566.2h0M549.2 1493.7h0M562.3 1673.6h0M555.2 1650.9h0M506.6 1521.5h0M583.5 1663.8h0M584.1 1760.6h0M578.7 1815h0M449.7 1814.2h0M538.1 1551.7h0M588.5 1739.3h0M584.5 1646.5h0M563.1 1873.6h0M579 1556.5h0M557.4 1588.3h0M558 1521.7h0M539.4 1747.7h0M509 1496.7h0M591.2 1759.7h0M550.7 1596.6h0M579.2 1609.6h0M577.9 1674.5h0M580 1569.6h0M572 1709h0M535.9 1608.8h0M462.8 1450.5h0M589.3 1853.4h0M570.1 1808.6h0M549.5 1848.7h0M555.2 1729.2h0M585.9 1675.1h0M550.5 1816.3h0M565.8 1760.4h0M559.8 1546.5h0M572.6 1841.9h0M573.1 1664.4h0M532.1 1763.5h0M531.7 1740.8h0M584.3 1828.3h0M588.9 1742h0M551.8 1591.2h0M567.4 1760.6h0M567.7 1607.9h0M578.3 1532.1h0M589.9 1639.4h0M569.1 1640.5h0M534.6 1679.3h0M569.4 1713.9h0M589.3 1645.8h0M549.7 1490.6h0M545.5 1612.7h0M567 1553.4h0M578.5 1751.5h0M565.9 1805.7h0M571.8 1566.5h0M558.1 1529.3h0M587.4 1842.9h0M578.9 1653.2h0M562.2 1607.8h0M550.1 1514.5h0M554.9 1521.3h0M580.4 1834.1h0M590.7 1703.5h0M536.5 1517.2h0M563.9 1537.9h0M572.7 1627.2h0M570.9 1543h0M556.2 1750.3h0M583 1857.6h0M518.1 1499.6h0M573.3 1752.8h0M564 1801.9h0M572.5 1704.4h0M576.8 1644.1h0M550 1526.3h0M588.4 1829.2h0M572.5 1488.9h0M587.8 1726.3h0M585.9 1587.7h0M583.1 1694.2h0M570.5 1642.9h0M545.1 1712.3h0M566.1 1521.4h0M537.4 1592.3h0M579.1 1777.8h0M576.8 1738.3h0M561.2 1491.9h0M572.8 1849.6h0M566.9 1498h0M546.7 1503.5h0M512.1 1588.6h0M562.4 1662.5h0M572.6 1564.7h0M515.5 1721.7h0M561.3 1498.1h0M531.4 1740.3h0M583.1 1621h0M456.8 1800.5h0M539.5 1457.1h0M539.4 1662.5h0M548.4 1535.4h0M576.8 1823h0M521.3 1579.3h0M583.4 1807.9h0M568.6 1646.3h0M582.8 1608.5h0M575.9 1847.5h0M571.7 1540.6h0M565.3 1818.1h0M558.2 1793.3h0M575.9 1683.6h0M580 1734.6h0M556 1454h0M524.6 1802.9h0M508.1 1593.3h0M578.7 1650.3h0M564.7 1671h0M562.3 1644.2h0M570.3 1842.4h0M539.6 1495.8h0M562.1 1522.2h0M569.4 1828.5h0M588.3 1602.6h0M561.6 1829h0M526.9 1598.4h0M557.5 1750.7h0M530.6 1518.2h0M497.7 1532.2h0M578.3 1768.2h0M587.3 1827.2h0M577.4 1566.6h0M581 1730.2h0M589.2 1785.6h0M563.6 1492.4h0M539.2 1560.4h0M557.9 1491.4h0M526.5 1565.8h0M585 1697.2h0M573.7 1871.5h0M572.9 1620.3h0M585.3 1865.3h0M566.5 1848.4h0M583.3 1602.8h0M536.6 1559.4h0M518.6 1525.8h0M554 1746.2h0M589.9 1648h0M570.2 1799.1h0M569.9 1858.2h0M561.5 1801.6h0M584.5 1761.8h0M525.8 1537.1h0M568.4 1667.1h0M582.4 1715.4h0M532.5 1607.3h0M546.1 1826.4h0M578.9 1557.9h0M531.6 1520.1h0M528.9 1601.1h0M580.5 1759.6h0M580.1 1694.1h0M545.7 1537.3h0M562.7 1690.5h0M548.1 1485.6h0M579 1604h0M570 1796.1h0M585.1 1774.7h0M544.2 1675.2h0M568.2 1687.3h0M563.1 1717.4h0M578.2 1552.5h0M552.2 1514.5h0M568.6 1740.9h0M588.5 1847.3h0M518.2 1474.2h0M538.8 1505.1h0M582.2 1612.3h0M576.1 1712.3h0M571.3 1517h0M569.4 1765.3h0M566.6 1493.5h0M575.6 1571.8h0M537.6 1585.1h0M582.8 1700.2h0M546.7 1606.8h0M555.2 1716.6h0M576.8 1751.3h0M549.9 1506.9h0M567.2 1709.2h0M561.2 1567.2h0M578.4 1569.5h0M583.3 1724.3h0M491.9 1465.8h0M543.2 1498.4h0M488.6 1498.7h0M558.9 1815h0M584.1 1791.6h0M560 1650.6h0M569 1663.2h0M539.5 1576.4h0M575.4 1866.7h0M578.6 1704.4h0M571 1712.5h0M536 1434.8h0M573.6 1635.5h0M558 1633.2h0M555.7 1553.5h0M581 1554.9h0M550.9 1648.4h0M532.1 1481.2h0M551.9 1634.7h0M545.9 1709.3h0M556.9 1759h0M558.5 1686.9h0M583.5 1736.1h0M568.8 1740.2h0M568.7 1818h0M558.3 1835.3h0M557 1574.7h0M569.2 1514h0M548.6 1748.7h0M534.9 1486.6h0M587.3 1718.5h0M555.5 1697.3h0M535.9 1515.6h0M571.6 1642.4h0M559.1 1544.5h0M584.5 1647.5h0M548.9 1541.5h0M577.7 1683.5h0M583.2 1567.6h0M576 1731.1h0M571.2 1524.3h0M543.6 1604.1h0M588.9 1630.1h0M550.2 1605.7h0M558.6 1680.6h0M474.4 1531.3h0M512.5 1670.1h0M546.3 1608h0M543.8 1810.8h0M587.5 1697.4h0M537.3 1689h0M579.4 1728.1h0M584 1837.9h0M540.9 1585.1h0M552.1 1734.3h0M589.2 1817.4h0M565.7 1722.3h0M572.1 1745.3h0M547 1555.2h0M587.4 1762.4h0M582.6 1767h0M562.3 1681.4h0M555.4 1589.5h0M570.2 1822.8h0M551.2 1611.9h0M554.8 1691.4h0M561.9 1478h0M548.7 1779.4h0M575.5 1589.1h0M576.8 1758.1h0M586.7 1717.8h0M571.3 1851.2h0M565.3 1799.2h0M564.7 1744.7h0M572.3 1656.3h0M556.1 1827.4h0M523.5 1685h0M546.6 1549.9h0M519 1437.9h0M579.1 1550.2h0M533.1 1542.6h0M566.4 1501.8h0M561.8 1741.3h0M562.7 1528.3h0M549.1 1558h0M569.6 1597h0M526.6 1620.4h0M506.7 1523.6h0M518.1 1518.6h0M565.4 1691.5h0M533.3 1710.8h0M573.3 1873.7h0M585.7 1731.9h0M570 1517.2h0M555 1707.8h0M533.6 1539.5h0M576.3 1644.2h0M569.3 1720h0M585.3 1614.5h0M571 1769.9h0M559.6 1541.3h0M585.3 1835.5h0M576.3 1744.5h0M590.6 1765.1h0M576.9 1611.6h0M570.8 1651.7h0M536.5 1491.5h0M572.6 1550.2h0M573.5 1512.6h0M587.7 1800.5h0M589.1 1862h0M507.6 1493.8h0M571.1 1821.3h0M580.9 1734.4h0M557.5 1738.2h0M576.4 1526.2h0M560.3 1792h0M579.6 1533.4h0M505.4 1509.6h0M560.3 1509.2h0M585.4 1616.2h0M581.8 1848.6h0M590.5 1800.6h0M576.4 1772h0M574.2 1570.3h0M549.3 1598.1h0M566 1562.4h0M580.1 1776.5h0M589.5 1787.4h0M581.8 1794.9h0M549.1 1573.3h0M573.5 1732.2h0M533 1545.9h0M577.8 1637.8h0M578 1742.5h0M578.5 1840.3h0M564 1854.4h0M551.7 1481h0M564.6 1620.6h0M569.4 1620.5h0M573.5 1663.3h0M509.2 1513.7h0M578.5 1779.9h0M527.5 1711.5h0M572.5 1709.8h0M557.3 1610.1h0M569 1516.8h0M586.8 1620.8h0M568.4 1735h0M563.8 1698.3h0M495.7 1565.4h0M578.4 1642.5h0M576.2 1811.6h0M575 1534.1h0M553.7 1662.2h0M561.4 1652.9h0M570.8 1784.9h0M589 1680.4h0M570.3 1832.1h0M541.4 1705.7h0M560 1783h0M540.9 1549.2h0M512 1649.2h0M587.8 1645h0M559.9 1756.1h0M564.1 1648.5h0M584.8 1791.3h0M543.8 1577.6h0M568.6 1640.6h0M552.8 1745.4h0M582.2 1816h0M553.1 1538h0M541.2 1806.8h0M542.4 1631.3h0M585.5 1702.2h0M538.5 1627.5h0M582.2 1682.5h0M580 1825.1h0M575.2 1608.3h0M539.5 1502.7h0M569 1499.6h0M555.2 1578.6h0M548 1500.7h0M538.5 1568.5h0M567.7 1776.8h0M562 1678h0M586.9 1683.8h0M584.5 1668.6h0M551.7 1637.2h0M487.5 1536.2h0M554.7 1825.1h0M505.1 1582.3h0M539.5 1523.4h0M591.1 1856.4h0M543 1780.4h0M540.8 1579.9h0M579.4 1715.4h0M573.5 1574.5h0M528.4 1802.1h0M535.8 1538.4h0M590.2 1839.7h0M575.4 1859.6h0M587.1 1823.3h0M495.1 1614.8h0M541.1 1681.1h0M573.4 1622.2h0M559.5 1659.9h0M559.8 1744.2h0M570.1 1658.7h0M542.7 1436.8h0M544.7 1549.4h0M590.9 1662.4h0M585.6 1828.2h0M542.3 1559.7h0M511.8 1882.2h0M585.2 1635.6h0M578 1629.1h0M583.1 1688.7h0M572.3 1693.6h0M551.6 1754.5h0M571 1553.9h0M539.7 1567.1h0M576.1 1510h0M486.4 1612.5h0M569.1 1598.5h0M581.1 1602.8h0M552.8 1580.5h0M574 1565.7h0M590.3 1808.1h0M552.2 1585.4h0M539.3 1737.5h0M546.6 1530.5h0M522.8 1539.8h0M529.8 1535.3h0M536.2 1674.8h0M569 1684.2h0M584.3 1691.8h0M552.1 1700.2h0M572.9 1846.4h0M585.6 1645.2h0M557.9 1680h0M588.2 1802.7h0M552.1 1482.1h0M589.6 1772.9h0M550.4 1742.1h0M588.2 1806h0M552 1785.7h0M582.5 1776.7h0M566.7 1747.5h0M554.4 1766.9h0M550.3 1522h0M523.5 1500.8h0M576.3 1725.2h0M577 1544.5h0M546.8 1573.5h0M586.2 1751.8h0M582 1847.9h0M580.5 1782.6h0M577.1 1600.2h0M580.9 1658.7h0M573.6 1718.1h0M558.1 1636h0M585.2 1834.6h0M563.6 1538.4h0M565.8 1689.8h0M463 1501.6h0M525.9 1496.3h0M588.2 1736.8h0M580.2 1535.3h0M539.8 1776.8h0M553.3 1560.8h0M576.3 1660h0M549.3 1624h0M583 1775.7h0M577.4 1786.8h0M538 1571.1h0M582.2 1774h0M582.6 1613.6h0M553 1484h0M588.6 1621.4h0M525.3 1600.6h0M558.9 1842.4h0M577.4 1681.2h0M590.2 1816.9h0M514.7 1657.9h0M583 1782.2h0M554.3 1664.9h0M540.7 1681.2h0M543.8 1713.9h0M571.3 1536.6h0M589.2 1758.7h0M574.4 1510.5h0M537.1 1606.4h0M432.5 1835.9h0M519.5 1520h0M566.9 1692.1h0M556.7 1715.2h0M534.1 1624.8h0M569.5 1658.2h0M575.2 1656.1h0M550.5 1617.1h0M557.8 1658.5h0M566.4 1504h0M520 1815.1h0M518.3 1558.6h0M515.5 1506.3h0M588.9 1729.7h0M581.9 1610.2h0M552.7 1645.2h0M559.6 1837.2h0M516.5 1509.2h0M569.2 1547.4h0M582.6 1553.2h0M565 1519.8h0M586.5 1756.8h0M570.3 1850.7h0M587.9 1713.8h0M569.3 1599.2h0M515.1 1578.3h0M568.7 1817.8h0M464.6 1649.2h0M584.3 1837.9h0M539.7 1594.6h0M551.7 1549.8h0M578.1 1800.4h0M557.2 1787h0M540.8 1779.8h0M564.4 1815.6h0M590.8 1637.4h0M500.9 1543.2h0M572.7 1708.5h0M590.2 1783h0M538.2 1626.6h0M574.3 1538.5h0M553.7 1657.6h0M538.8 1646.4h0M577.8 1549.1h0M541 1722.6h0M568 1478.7h0M562 1550.4h0M505.3 1560.5h0M566.9 1830.7h0M549.5 1694.6h0M582.4 1727.7h0M569.1 1787.6h0M573.3 1759.2h0M555.2 1585.6h0M574.2 1556.9h0M565.9 1741.9h0M582.1 1588.9h0M548.6 1718.1h0M558.2 1509.4h0M578.1 1669h0M568.2 1535h0M591 1665.1h0M571.1 1671.7h0M551.2 1675.4h0M554 1705.7h0M536.5 1737.9h0M578.4 1689.2h0M566.9 1724.5h0M581.6 1722.2h0M554.3 1691.8h0M579.5 1596.4h0M528.4 1491.3h0M574.6 1603.3h0M551.9 1613.8h0M567.2 1673.2h0M567.9 1811.1h0M588.1 1729.4h0M569 1532.4h0M567.9 1740.7h0M549.9 1528.6h0M585.6 1652.9h0M559.6 1829.2h0M544.9 1683.9h0M545 1653.8h0M486.7 1613.4h0M568.2 1539.7h0M581.5 1617.3h0M559.4 1660.5h0M567.5 1600.1h0M587 1809.9h0M569 1834.5h0M559.1 1578.1h0M586 1659.9h0M589.6 1840.1h0M579.5 1761.8h0M523.7 1644.5h0M565.9 1767.3h0M556.8 1577h0M545 1708.2h0M559.1 1703.1h0M523.2 1467.7h0M577.3 1763.3h0M527.2 1564.4h0M588.4 1704.1h0M559.4 1619.9h0M562.6 1561.2h0M493.9 1690.4h0M578.9 1743.4h0M559.8 1519.7h0M562.9 1692.8h0M581.9 1767.2h0M562.6 1614.4h0M509.1 1684.2h0M581.2 1820h0M567.9 1580.7h0M561.3 1727.2h0M562.2 1746h0M538.6 1544.4h0M552.5 1523.5h0M570.9 1731.2h0M590.9 1810.7h0M553.6 1659.4h0M560.2 1824.5h0M577 1816.8h0M554 1680.2h0M577.7 1741.4h0M550.6 1485.7h0M589.6 1703.8h0M537.3 1698.3h0M511.1 1508.7h0M526 1637.4h0M571.1 1616.7h0M585 1673.6h0M534.5 1573.5h0M576.3 1866.8h0M574.9 1719.8h0M527.6 1497.4h0M565.4 1586h0M586.2 1642.4h0M573.3 1569.5h0M585 1710.3h0M554.5 1465.6h0M549.4 1725.3h0M575.6 1794.8h0M546.3 1610.7h0M572 1796.3h0M552.9 1666.2h0M532.4 1828.9h0M582.5 1588.2h0M547 1717.1h0M585 1771.2h0M587 1830.3h0M575.8 1676.5h0M555.3 1685h0M560.8 1552h0M590.7 1653.2h0M547.3 1529h0M547.4 1749.9h0M557.6 1852h0M450 1653.6h0M584.4 1644.1h0M589.7 1708.4h0M558.5 1771.6h0M567.4 1529.5h0M553.2 1594.5h0M570.7 1809.1h0M495.2 1554.9h0M514 1801.9h0M570.5 1785.7h0M543.3 1499.8h0M551.8 1694h0M547.3 1482.4h0M550.6 1549.2h0M586.5 1741.6h0M553.9 1716.1h0M570.4 1795.1h0M562.5 1653.1h0M554 1807.9h0M567.3 1705.9h0M548.3 1849.3h0M572.3 1653.4h0M543.5 1769h0M582.6 1680.8h0M528.9 1635.8h0M523.7 1844.1h0M583.4 1780.3h0M588.7 1734.2h0M565.3 1756.1h0M539.3 1586.5h0M567.2 1641.6h0M522.5 1503.8h0M542.2 1653.7h0M586.4 1666.1h0M575.8 1799.8h0M534.3 1648.1h0M525.1 1554.2h0M503.9 1477.2h0M548.2 1631.5h0M575.1 1573.2h0M588.2 1772.3h0M577.9 1786.8h0M586.9 1721.9h0M548 1749h0M530.6 1559.3h0M571.3 1726.2h0M542.8 1586.9h0M553.2 1536.9h0M555.6 1500h0M562.9 1696.7h0M568.4 1788.4h0M580.2 1762.8h0M564.8 1534h0M555.8 1550.1h0M544.2 1573.7h0M578.5 1668.3h0M570.7 1596.6h0M566.8 1732.7h0M577 1677h0M549.3 1784.9h0M579 1646.6h0M532.9 1555.2h0M573.1 1791.1h0M544.8 1628.3h0M550.6 1552.9h0M540.8 1618.2h0M558.7 1485.2h0M543 1467.4h0M572.9 1628.3h0M554.2 1684.8h0M588.1 1832.9h0M584.6 1808h0M584.3 1711.6h0M585.3 1751.7h0M505.2 1641.6h0M591.2 1681.9h0M569 1640.6h0M578 1857.1h0M585.9 1756.2h0M578.9 1748.6h0M572.6 1738.1h0M542 1780.7h0M562.9 1785.2h0M502 1529.3h0M487.9 1629.7h0M553.3 1876.1h0M552.6 1497.7h0M578 1692.5h0M584.3 1670.8h0M547 1672.3h0M551.1 1529h0M574.5 1663.8h0M532.3 1810.6h0M581.8 1731.7h0M583.9 1574.2h0M579.9 1742.7h0M584 1838.5h0M587.6 1848.5h0M583.5 1838.4h0M546.2 1792h0M567.7 1618.1h0M590.7 1686.3h0M527.7 1560.5h0M556.4 1517.2h0M549.6 1656.2h0M561.7 1508.8h0M568.8 1556.4h0M530 1674.4h0M588.2 1672.8h0M581.1 1595.1h0M535.5 1587.4h0M587.3 1632.2h0M561.2 1674.6h0M586.8 1776.6h0M570.6 1685.1h0M552.2 1685.6h0M536.6 1587.6h0M546.7 1590.6h0M590.9 1659.7h0M508.9 1528.6h0M551.2 1596.5h0M587.5 1749.2h0M576.1 1767h0M568.6 1605.2h0M548.2 1768h0M545.1 1513.8h0M500.2 1595.4h0M548.1 1514.9h0M569.5 1700.2h0M577.1 1607.6h0M560.6 1454.6h0M566.9 1695.5h0M584.6 1738h0M583.9 1694.2h0M563.1 1826.7h0M568.8 1636.1h0M532.9 1576.6h0M581 1825.6h0M566 1844.2h0M588.5 1666h0M553.6 1543.9h0M554.3 1722.8h0M572.4 1598.4h0M554.9 1621.4h0M557.4 1618.6h0M547.9 1513.7h0M578.3 1783.2h0M569.3 1753h0M552.4 1427h0M590.4 1858.1h0M580.2 1776.1h0M545.8 1666.9h0M583.4 1657.4h0M555.7 1731.6h0M544.8 1604.4h0M572.9 1730.4h0M502.7 1463.7h0M570.3 1788.8h0M576.6 1550.4h0M525.4 1526.4h0M522.7 1427.5h0M556.2 1756.3h0M578 1696.2h0M570.1 1856h0M573.5 1575.3h0M572.7 1520.2h0M538.7 1729.1h0M565.6 1839.9h0M533.9 1578.2h0M581.4 1559.7h0M530.5 1528.5h0M568.3 1771.9h0M583.4 1672h0M588.5 1677.5h0M590.4 1827.3h0M567.5 1536.4h0M533.5 1463.2h0M559.7 1773.5h0M579 1655.6h0M581.1 1761.1h0M540.4 1691.7h0M562.4 1564.8h0M584.2 1849.7h0M583.8 1739.1h0M576.6 1712.6h0M577 1578.3h0M589.7 1722.5h0M580.9 1761.7h0M538.8 1741.8h0M585.5 1689h0M533.4 1692.7h0M571.5 1786.5h0M567 1817.3h0M572.1 1859.9h0M573.5 1696.3h0M565.1 1769.4h0M547.5 1701.7h0M563.1 1605h0M578.7 1543.3h0M540.3 1592.5h0M582.2 1801.8h0M560.9 1554.7h0M586.4 1754.8h0M567.3 1816.6h0M579.4 1660.6h0M557.9 1514.4h0M578.8 1792.2h0M164.9 1710.9h0M211.6 1626.2h0M245.2 1676.6h0M293.2 1609.4h0M315 1624.5h0M333.5 1593.3h0M335.2 1638h0M346 1640.3h0M353.7 1485.1h0M368.8 1408.8h0M367.1 1600.3h0M373.9 1591.9h0M383.9 1605h0M385.6 1579.8h0M381.6 1620.5h0M373.9 1674.9h0M404.1 1648.7h0M432.7 1594.9h0M424.3 1517.6h0M437.7 1520.3h0M446.1 1491.1h0M452.8 1512.6h0M461.2 1444.1h0M459.5 1402.1h0M483.1 1420.2h0M545.2 1375.8h0M537.5 1398.4h0M509.3 1425.2h0M563.7 1425.2h0M450 1888h0M420 1890h0" stroke="#68abee" stroke-width="6.6" stroke-linecap="round" fill="none"/>
<path d="M686.9 1599.8h0M664.1 1510.8h0M656.8 1636.7h0M633.7 1791.1h0M690.5 1484.7h0M628.4 1813.9h0M634.5 1793.5h0M648.2 1639.3h0M647.7 1571h0M662.6 1687.5h0M624.6 1802.2h0M658 1794.3h0M636.7 1739.6h0M644.7 1489.9h0M651.6 1730.6h0M661.8 1615.9h0M633.1 1706.5h0M623.4 1852.4h0M631.3 1721.2h0M627.2 1580.5h0M632.6 1826h0M655.7 1826.9h0M657.3 1598.4h0M638.6 1829.8h0M657.8 1617.4h0M661.7 1536.5h0M652.2 1549.2h0M643.3 1609.7h0M663.9 1562.1h0M631.7 1812.7h0M649.6 1728.5h0M634.4 1831.4h0M639.1 1625.9h0M669 1500.4h0M625.5 1765.7h0M635.4 1527.4h0M706.4 1690.4h0M625.5 1704h0M680.4 1712.7h0M679.9 1580.3h0M637.2 1737.4h0M651.8 1484.4h0M621 1729.2h0M661 1667.5h0M626.6 1731.4h0M663.1 1597.8h0M677.6 1680.5h0M663.2 1801h0M626.9 1726h0M642.7 1626.4h0M657 1776.2h0M651.4 1698h0M682.3 1785.1h0M643.8 1520.2h0M651.4 1647.1h0M651.5 1546.9h0M644.5 1626h0M628.4 1723.7h0M681.7 1604.9h0M674.4 1687.5h0M654.2 1537h0M637.6 1532.1h0M647.7 1784.4h0M621.2 1725.5h0M633.2 1832.1h0M629.6 1880.6h0M670.1 1806.5h0M631.1 1658.3h0M636.1 1657.3h0M646.8 1607.1h0M647.2 1632.6h0M634.2 1579.4h0M694.7 1742.7h0M624.5 1756.7h0M676 1631.7h0M647.9 1738.4h0M689.4 1731.1h0M677.1 1745.1h0M656 1664.1h0M638.3 1687.8h0M637.6 1581.4h0M624.7 1710.1h0M640.2 1713.7h0M622.3 1786h0M633.4 1556.6h0M663.6 1510.2h0M650.1 1784.3h0M633.6 1782.5h0M686.9 1483.7h0M639.3 1538.9h0M675.7 1583.8h0M629.3 1741.2h0M642.8 1730.7h0M629.5 1803.5h0M637.6 1598.5h0M696.4 1516h0M639.1 1721.3h0M623.5 1837h0M623.1 1736.2h0M682.6 1542.7h0M651.1 1764.1h0M635.6 1779h0M639.5 1608.7h0M630.8 1682h0M665 1550.8h0M627.1 1781h0M626.1 1690.2h0M631.5 1845.5h0M645.6 1650.4h0M628.9 1710.3h0M629.8 1672.7h0M643.4 1675.5h0M636 1528.7h0M648.3 1788h0M630.5 1827.9h0M648.2 1575.8h0M648.2 1546h0M638 1758.5h0M632.7 1737.7h0M702.4 1595.9h0M664.2 1472.4h0M657.5 1587h0M628.4 1758.2h0M643.3 1634.8h0M649.8 1643.2h0M646.8 1745.8h0M782.4 1552.3h0M687.7 1560.7h0M623.1 1854.2h0M646.7 1477.3h0M623.4 1757.7h0M671.7 1612.1h0M689.8 1667.7h0M666.2 1563.7h0M642.7 1725.7h0M628.4 1671.5h0M623.7 1732.1h0M686.1 1443.2h0M626.8 1869.1h0M657.4 1582h0M625.3 1812.6h0M632.6 1561.4h0M638.4 1602.3h0M627.6 1608.3h0M657.2 1499.1h0M623.5 1684.9h0M694.3 1541.6h0M632.2 1650.4h0M632.4 1564.9h0M663.6 1683.6h0M642.5 1654.6h0M629.4 1688.9h0M672.5 1745.7h0M661.2 1673.2h0M759.2 1668h0M661.8 1677.1h0M677.4 1551.3h0M754.8 1799.7h0M657.6 1558.2h0M646.3 1555.9h0M698.4 1545.2h0M634.3 1660.5h0M659.8 1808h0M647.8 1848.4h0M639.2 1634.1h0M627 1655.2h0M655 1646h0M624.8 1647h0M653.7 1682.4h0M680.2 1710.5h0M634.6 1715.4h0M633.4 1582.9h0M644.3 1545.3h0M657.5 1796.8h0M625.7 1752.9h0M665.8 1828.5h0M640.9 1800.9h0M657 1585.1h0M625.7 1789.9h0M621.3 1847.9h0M650.5 1737.7h0M639.3 1845h0M643.4 1635.1h0M627 1767.2h0M635.1 1606.6h0M633 1535.4h0M636.1 1630.8h0M715.9 1508.1h0M622.8 1845.9h0M624.7 1697.9h0M639.1 1557.2h0M673.8 1755.1h0M652.6 1841.4h0M642.7 1786.2h0M648.4 1555.7h0M630 1553.4h0M647 1697.1h0M669.1 1485.1h0M653.8 1750.8h0M657.5 1640.6h0M629.2 1821.4h0M632.9 1724.3h0M625 1766.7h0M642.9 1554.5h0M640.3 1874.5h0M643 1571.7h0M631.9 1543.4h0M645.3 1852.5h0M647.2 1515.3h0M664.6 1534.4h0M656.1 1618.5h0M670 1691.2h0M661.6 1694.7h0M643.7 1792.8h0M628 1621.2h0M640.1 1657h0M648.6 1747.3h0M621.9 1865.3h0M663.4 1523.6h0M645.9 1516.5h0M660.9 1637.8h0M630.6 1575.6h0M669.3 1509h0M644 1712.4h0M621.1 1837h0M652.1 1583.1h0M624.8 1697.6h0M634.3 1784.3h0M630.2 1817h0M652.6 1787.3h0M638 1798.1h0M623.2 1811.2h0M643 1507h0M660.7 1834.8h0M710.8 1493.5h0M639.9 1707.3h0M643.1 1682.3h0M659.2 1515.4h0M666.7 1602.6h0M637.9 1819h0M650.2 1856.3h0M659.1 1851h0M645.9 1600.1h0M658.3 1763.6h0M701.3 1615.9h0M627.6 1619.1h0M708.8 1528.7h0M633 1698.2h0M640.7 1516.1h0M665.3 1599.9h0M653.1 1825.1h0M646.6 1784.7h0M638 1537.3h0M657.4 1638.2h0M628.7 1821h0M636.4 1677h0M651.2 1465.6h0M669.1 1592.8h0M647 1743.5h0M634 1658.3h0M639.4 1626.9h0M634 1853.6h0M643.2 1726.8h0M637 1702.9h0M636.3 1823.3h0M675.3 1770.8h0M686.7 1554.3h0M648.2 1564.3h0M644.1 1663.1h0M635.2 1737.6h0M665.9 1792.6h0M658.8 1570.5h0M634 1757h0M629.8 1794.8h0M624.1 1707.7h0M645.2 1693.1h0M635.9 1605.5h0M626.9 1702.3h0M673.3 1619.6h0M657.6 1815.9h0M637.6 1675.2h0M694.2 1413.7h0M654.3 1493.8h0M660.3 1524.5h0M630.1 1811h0M653.6 1851.1h0M652 1529.4h0M633 1742h0M663.3 1544.2h0M634.9 1777.7h0M644.2 1816.3h0M645.5 1793.4h0M636.6 1735.6h0M642.8 1800.5h0M644.2 1782.3h0M622.9 1667.6h0M638.5 1720.9h0M629.3 1662.6h0M679.5 1659.6h0M651.7 1560.5h0M685.9 1736.4h0M631.8 1705.6h0M659.5 1685.9h0M655.6 1668.3h0M697.5 1496.6h0M625.3 1818.6h0M645.3 1794.1h0M665.1 1615.3h0M621.7 1736.5h0M663.3 1536h0M621.9 1803.4h0M644.3 1678.2h0M624.9 1687.9h0M723.4 1544.1h0M662.3 1598.4h0M642.3 1589.6h0M657.7 1668.7h0M656.3 1831.6h0M635.6 1563.3h0M644.5 1617.1h0M690.7 1695.4h0M626.8 1856.7h0M637.2 1737.4h0M643.2 1753.9h0M640.8 1550.6h0M649.5 1773.6h0M659 1650.7h0M668.7 1520.1h0M655.3 1518h0M666.3 1666.5h0M638.5 1693.2h0M639.4 1688.1h0M630.2 1571.7h0M643.3 1682.7h0M637.7 1590.1h0M650 1595.9h0M639.4 1538.3h0M645 1649.4h0M669.4 1659.2h0M652.3 1521.9h0M672.7 1711.8h0M623.1 1798.2h0M645.7 1684h0M670.8 1601.3h0M639.6 1758.4h0M636.1 1793h0M664.8 1713.4h0M646.2 1546.8h0M651.8 1608.1h0M637.2 1790.5h0M640.3 1769.5h0M657.1 1579.6h0M661.8 1535.8h0M708 1489.5h0M693 1667h0M676.5 1434.9h0M639.6 1589.9h0M625.1 1746.3h0M641.3 1716.7h0M628.6 1709h0M624.5 1655.3h0M643.5 1757.9h0M648.7 1736.4h0M695.6 1623.5h0M634.4 1764.4h0M637.8 1705.3h0M627.8 1725.2h0M651.4 1720.2h0M632.3 1639.5h0M641.5 1649.7h0M633.4 1574.7h0M647.7 1620.7h0M660.3 1527.9h0M639.8 1506.3h0M631.1 1600.2h0M649.2 1635.5h0M698 1536.7h0M637.7 1686h0M651.4 1640.3h0M631.8 1736.7h0M631.4 1697.9h0M679.7 1479.6h0M635.9 1628.2h0M637.4 1642.1h0M671.8 1749.3h0M655.8 1750.4h0M640.1 1687.7h0M643 1785.1h0M659 1844.5h0M636.1 1610.8h0M642.2 1813.9h0M622.7 1704.3h0M663.8 1523.8h0M666.4 1677.9h0M678.9 1538.3h0M637.1 1583.9h0M621.1 1849.5h0M636.9 1751.4h0M626.5 1852.2h0M647.7 1515.8h0M641.6 1759.2h0M658.6 1503.5h0M639.7 1698.2h0M671.1 1644.3h0M706.2 1826.4h0M655.5 1564.2h0M650.1 1684.5h0M637.3 1525.2h0M665 1563h0M648.6 1518.2h0M624.9 1695.6h0M646 1794.3h0M633.9 1648.4h0M623.2 1652.4h0M672.2 1617h0M661 1878.1h0M637.2 1555.3h0M635 1805.8h0M636.5 1799.5h0M637 1650.7h0M638.2 1850.2h0M664.1 1538.7h0M637.9 1583h0M667 1403.1h0M640 1710.2h0M647.9 1843.9h0M636.2 1833.7h0M646.1 1747.2h0M674.5 1699.1h0M629.2 1799.6h0M707.2 1551.3h0M633.7 1797.5h0M629.1 1741.1h0M629.1 1727.6h0M691.2 1581.9h0M640.2 1725h0M702.7 1749.3h0M648.3 1542.5h0M663.3 1541.8h0M632.3 1817.9h0M665.5 1473h0M629.5 1628.9h0M654.4 1541.7h0M686.5 1542.2h0M636.5 1795.4h0M706 1552.9h0M634.5 1818.2h0M647.2 1875.3h0M676.3 1626.3h0M628.7 1711.9h0M644.1 1665.2h0M651.4 1838.3h0M667.6 1642h0M683.7 1492.3h0M691.1 1793.8h0M669.4 1561.7h0M651.3 1507h0M667.9 1499.6h0M658.2 1511.2h0M646.5 1681.2h0M643.8 1690.6h0M696.6 1524.8h0M690.9 1429.1h0M650.7 1486.9h0M641.7 1783.2h0M647.6 1695.9h0M683.6 1558h0M632.1 1752.7h0M734.4 1529.3h0M643.3 1579h0M673.5 1763.1h0M644 1558.8h0M706.9 1689h0M651.1 1769.5h0M628.3 1576.1h0M637.2 1658.2h0M639.1 1587.9h0M628.4 1785.5h0M757.2 1755.1h0M629 1656h0M636.1 1654.1h0M628.4 1793.7h0M621.6 1804.6h0M683.4 1565h0M645.8 1784.5h0M658 1554.9h0M648 1675.7h0M638.8 1522.7h0M734.1 1638.5h0M624.7 1651.1h0M694.3 1511.3h0M627 1764.1h0M648.5 1848.2h0M625.7 1643.4h0M640.2 1553.9h0M624.8 1775.9h0M665.6 1489.2h0M644.1 1722.7h0M663.9 1510.2h0M654.8 1482.5h0M648.6 1764.6h0M641.3 1677.3h0M662.5 1541.8h0M626.2 1796.7h0M646.7 1532.1h0M659.3 1704.9h0M686.9 1703h0M631.5 1659.5h0M652.2 1593.2h0M686.6 1494.9h0M643.8 1786.7h0M667.1 1540h0M626.3 1675.7h0M640.6 1502.5h0M653.7 1550.9h0M668.7 1663.9h0M680.4 1563.4h0M628 1745.6h0M645.9 1761.8h0M661.1 1511.7h0M663.8 1631.2h0M628.4 1607.6h0M640.9 1716h0M646.4 1795.1h0M653.7 1497.7h0M624.3 1674.5h0M744.2 1501h0M654.3 1631.8h0M631.6 1776.1h0M626.4 1638.1h0M658.4 1633.2h0M654.2 1792.7h0M674 1557.5h0M680 1598.5h0M691.5 1669h0M642.9 1557.4h0M647.6 1640h0M691.8 1571h0M642.5 1720.9h0M653.9 1755.2h0M682.3 1748.9h0M648.1 1637h0M637.4 1859.9h0M665.4 1518.3h0M658.1 1551.3h0M661.7 1649.4h0M665.5 1714.1h0M645.8 1614.2h0M672.4 1670.7h0M713.8 1534.1h0M647.9 1832.8h0M680 1486.6h0M648.6 1828.4h0M682.1 1488.1h0M684.6 1542.1h0M641.3 1626.3h0M634 1552.6h0M654.5 1697.2h0M646.7 1487.3h0M647.4 1829.7h0M622.1 1745.8h0M670.7 1771.9h0M641.9 1697.7h0M631.4 1632.3h0M689 1560h0M679.7 1453.3h0M641 1532.6h0M629.7 1755h0M647.5 1605.4h0M641.3 1707.7h0M664.2 1702.8h0M634.7 1804.9h0M674.7 1712.5h0M624.4 1744.7h0M629.3 1709.6h0M685.5 1623.6h0M623.6 1806.5h0M630.4 1634.5h0M674.5 1680.5h0M702.6 1776.4h0M667.1 1413.3h0M651.1 1625.8h0M734 1515.4h0M642 1842.8h0M626.7 1672.3h0M677.5 1565.7h0M629.7 1589.3h0M647.4 1541.7h0M630 1558h0M626.8 1820.7h0M667.3 1596.1h0M621.6 1817.6h0M640.6 1732.4h0M635.3 1814.5h0M638.4 1667.7h0M636.1 1837.2h0M625.9 1644.5h0M640.7 1703.4h0M658.7 1807.2h0M652.3 1670h0M648.6 1608.8h0M703.5 1553.9h0M662.6 1651.7h0M757.4 1398.8h0M632.5 1647.8h0M642.4 1524.5h0M714.8 1496.5h0M671 1606.1h0M680.2 1642.3h0M656.6 1757.5h0M628.2 1771.2h0M639.6 1687.1h0M632.2 1811.1h0M660.5 1505.9h0M634.5 1840.6h0M661.8 1504.4h0M632.7 1623.5h0M631.2 1781.1h0M645.9 1611h0M663.6 1743.5h0M713.7 1714.7h0M623 1667.7h0M628.4 1658.1h0M640.8 1833.4h0M650.2 1603.6h0M641.2 1707.4h0M634.8 1760.5h0M624.1 1705.4h0M692.3 1525.5h0M655.1 1481.2h0M665.3 1575.9h0M658.3 1710.5h0M649.8 1579.6h0M664.9 1673.3h0M690.8 1650.4h0M646.9 1673.3h0M644.2 1542.7h0M683 1593.3h0M631.3 1723.3h0M651.4 1559.7h0M670 1623.8h0M628.2 1813.8h0M657.6 1687.9h0M638.3 1708h0M643 1676.5h0M625.2 1850.7h0M660.1 1501.1h0M656.6 1549.8h0M658.4 1761h0M652.3 1519.8h0M655 1678.7h0M686.2 1736.8h0M665.5 1612.8h0M656.3 1695h0M621.2 1671.5h0M657.3 1557.9h0M692.4 1523.8h0M638.2 1714.4h0M624.8 1746.2h0M644.2 1595.9h0M645.4 1562.5h0M639.7 1758.1h0M648.7 1704h0M623.4 1804.1h0M683.9 1559.7h0M643.4 1618.4h0M672.9 1501.6h0M659 1699.7h0M651.5 1706.1h0M630.2 1710.9h0M628.1 1651.7h0M653 1510h0M675.9 1626h0M677.5 1606.1h0M653.6 1652.5h0M641.1 1830.5h0M631.1 1597.4h0M627.6 1747.8h0M626.4 1778.6h0M638.6 1766.9h0M625.5 1769.5h0M642.6 1600.1h0M659.6 1742.7h0M649.3 1518.4h0M723.4 1602.9h0M675.5 1510.7h0M642.8 1516.3h0M635.3 1750.1h0M647.2 1787.4h0M676.8 1515.8h0M623.1 1690.3h0M670.6 1579.9h0M630.8 1572.9h0M662.3 1504.3h0M670.3 1630.9h0M676.5 1485.6h0M631.6 1660h0M647.2 1644.3h0M625.5 1793.5h0M634.3 1698.4h0M641.4 1675.9h0M631.3 1757.9h0M622 1772.8h0M627.2 1602.6h0M637.5 1859.7h0M621.5 1721.4h0M639.5 1826.8h0M672 1744.8h0M633.9 1732.2h0M624.2 1786.3h0M647.4 1808.6h0M638.7 1608.3h0M641.3 1502.4h0M643.1 1519.3h0M629.8 1840.9h0M651.7 1569.1h0M623.9 1606h0M647.5 1760.2h0M631.2 1775.9h0M651.4 1619.1h0M649.9 1642.9h0M647.9 1733.8h0M659.6 1532.1h0M628.2 1671.8h0M654.9 1547.8h0M629.1 1819h0M636.8 1651.3h0M646.1 1512.2h0M680.3 1566.6h0M671.6 1691.6h0M760.1 1476.1h0M635.7 1555.6h0M677.4 1747.8h0M639.2 1546.8h0M650.6 1691.3h0M682.7 1748.5h0M630.8 1547.5h0M636.2 1588.7h0M632.3 1772.2h0M656 1757.1h0M626.4 1689.2h0M642.8 1836.1h0M624.1 1837.6h0M666 1753.7h0M650.9 1702.3h0M642.8 1594.4h0M644.5 1844.3h0M669.2 1657.2h0M751.7 1597.2h0M687.6 1624h0M639.1 1682.8h0M630.3 1566.9h0M638.7 1523.3h0M627.3 1682.1h0M675.6 1812.5h0M621.5 1704h0M623.7 1845.6h0M638.6 1730h0M778.9 1695.3h0M657.3 1587.3h0M668.7 1720.6h0M685.6 1522.8h0M666 1544.4h0M628.2 1663.9h0M684.6 1554.7h0M636.4 1622.3h0M722.2 1559.2h0M660.6 1416.4h0M624.8 1846.7h0M642.5 1801.2h0M632.5 1701.9h0M684.4 1633h0M689 1746.4h0M623.1 1768.3h0M639.1 1510.8h0M701.4 1505.4h0M698.4 1684.6h0M621.4 1724.3h0M653.1 1852.2h0M661.7 1767.7h0M658.1 1827.7h0M651.7 1784.4h0M645.4 1691.8h0M640.6 1546.5h0M637.3 1693.3h0M647.6 1710.4h0M647 1835.1h0M664.7 1728.1h0M658.2 1617.1h0M656 1651.4h0M636.7 1753.6h0M642.3 1684.4h0M621.9 1802.8h0M648 1741.7h0M649.6 1718.4h0M626.4 1771h0M648.4 1532.1h0M622.5 1696.1h0M651.6 1754.2h0M643.7 1531.2h0M690.8 1741.1h0M648.1 1681.8h0M662.6 1676.1h0M667.9 1605.9h0M633.8 1751.2h0M622.5 1745.2h0M635.5 1799.2h0M626.7 1584.4h0M649.3 1607.3h0M627.1 1867.6h0M645.4 1741.1h0M681.9 1647.8h0M651.4 1657.6h0M628.4 1599h0M627.6 1812.2h0M656.1 1564h0M672.9 1576.2h0M625.8 1755.8h0M632.1 1611h0M675.9 1558.2h0M621.9 1663.1h0M637.9 1860.2h0M674.5 1639.9h0M643.8 1531.4h0M663.5 1549h0M653.8 1586.6h0M683.2 1536.4h0M658.2 1799h0M686.1 1483h0M633.9 1792.5h0M683.6 1616.8h0M644.9 1605.8h0M647.3 1703h0M669 1511.1h0M624 1634.1h0M660.4 1594.4h0M626.2 1669.9h0M650.6 1706h0M639.8 1703.9h0M626.5 1638.6h0M632.5 1556.7h0M632.6 1748.3h0M635.5 1641.1h0M637.1 1757.8h0M669.9 1639.6h0M637.6 1594.6h0M669.1 1737.2h0M650.5 1826.5h0M680 1583h0M650.9 1837.2h0M723.7 1715.6h0M696.7 1477h0M646.5 1775.8h0M654.8 1801.5h0M662.2 1804.6h0M651.4 1742.3h0M659.9 1701.3h0M629.3 1621.8h0M658.9 1755.8h0M644.5 1826h0M628.9 1685.5h0M626.2 1654.1h0M625.1 1730.2h0M628.2 1658.9h0M682.2 1569.5h0M647.3 1594.8h0M672.1 1596.3h0M634.8 1724.2h0M653.9 1684.6h0M649.1 1711.4h0M664.1 1532.5h0M626.9 1742.2h0M621.9 1643.7h0M670.3 1573.3h0M635.7 1740.9h0M651.9 1774.3h0M632.5 1549.4h0M688.6 1603.3h0M672.4 1668.6h0M630.5 1555.6h0M650.6 1611.3h0M652.9 1750.4h0M626.9 1752.9h0M651.1 1593.6h0M759.4 1485.9h0M652.8 1537.9h0M654.4 1797.6h0M663.3 1550h0M655.7 1609.8h0M626.3 1709.4h0M638.6 1763.2h0M628.3 1626.5h0M647.8 1690.3h0M636.8 1731.9h0M650.6 1574.5h0M795.5 1742.6h0M651.7 1561.2h0M681.5 1594.3h0M626.5 1592.4h0M621.9 1842.5h0M645.1 1622.4h0M637.7 1637.2h0M644.7 1517.6h0M661.3 1795.3h0M647.5 1615.4h0M657.3 1461.1h0M704.2 1510h0M641.3 1670.5h0M658.2 1800.7h0M657.7 1683.5h0M703.5 1812.5h0M661 1709.5h0M676.8 1643h0M638.1 1587.8h0M626.8 1659.1h0M709 1597.4h0M626.8 1757.9h0M660.3 1768.6h0M624.9 1789.6h0M635.1 1735.6h0M628.8 1852.3h0M622.3 1793.4h0M653.4 1485.6h0M654.1 1851.3h0M638.8 1653.6h0M663.2 1708.6h0M656.2 1574.6h0M692.6 1514.7h0M648.7 1499.4h0M662.4 1752.2h0M658.3 1640.9h0M688.2 1523.2h0M658.9 1536.8h0M623.5 1688.7h0M657.5 1721.1h0M629.7 1595.8h0M700.5 1474.9h0M624.4 1644.7h0M661.2 1412.8h0M641.8 1741.5h0M669.8 1497.9h0M666.9 1573.7h0M656.5 1662.9h0M685.7 1654.2h0M624 1816h0M624 1660.3h0M626.9 1600.4h0M641 1633.6h0M627.4 1815.4h0M630.2 1769.8h0M628.9 1693.9h0M629.9 1734.8h0M636.9 1804.4h0M686.5 1540.5h0M641.9 1850.1h0M691.7 1639.4h0M629.8 1628.5h0M661.2 1701.7h0M650.3 1611.9h0M659 1808.7h0M633.3 1617.4h0M633.1 1759.5h0M634.7 1738.2h0M648.9 1470.6h0M632.7 1548.9h0M625.2 1678.3h0M648.7 1685.2h0M677.9 1499.1h0M626.8 1712.4h0M641 1798h0M640.4 1550.2h0M627.2 1577.3h0M668.7 1584.3h0M637.3 1826.5h0M651.7 1581.3h0M638.7 1564.3h0M638.1 1753.7h0M731.4 1491.5h0M671.8 1547.3h0M627 1858.1h0M639.1 1525.3h0M677.3 1495.8h0M648.2 1691.3h0M658.4 1659.6h0M645.8 1761.8h0M624.4 1827.1h0M679 1816.2h0M656.4 1493.4h0M628 1624.3h0M635.3 1749.7h0M636 1669.5h0M640.3 1575h0M634.8 1804.4h0M632.2 1835.8h0M629.7 1593.3h0M637.7 1562h0M640.2 1569.2h0M664.8 1440.2h0M628.3 1698.6h0M731.5 1527.9h0M635.8 1574.7h0M623.9 1799.4h0M647.1 1869.4h0M628.9 1770h0M636.5 1553.7h0M735 1823.2h0M642.7 1763.5h0M660.1 1756.2h0M630.2 1661.4h0M659.7 1730.3h0M635.4 1800.3h0M647.8 1484.4h0M655.6 1874.2h0M633.6 1701.7h0M668.4 1651.8h0M659.8 1563.9h0M632.8 1580.6h0M632.3 1543.2h0M636.6 1697.4h0M632.2 1670.7h0M637.1 1594.9h0M629.9 1617.9h0M638.4 1686.3h0M643.1 1671.7h0M641.4 1646.9h0M659.1 1827.7h0M635.5 1567.5h0M661.6 1741.2h0M681.5 1567.9h0M645.9 1519.3h0M664.3 1668.2h0M655.8 1748.5h0M674.9 1609.8h0M643.3 1848.5h0M642.1 1681.4h0M630.3 1640.8h0M622.7 1706.9h0M635.5 1878.4h0M661.3 1530.5h0M624.9 1726.3h0M675.8 1647.8h0M628.8 1666.9h0M664.3 1567.2h0M643.8 1642.9h0M634.9 1705.5h0M634.9 1831.8h0M661.1 1590.7h0M626.2 1691.8h0M668.1 1558.6h0M672.5 1457.2h0M694.6 1484.2h0M679.3 1475.3h0M643.8 1618h0M644.8 1722.2h0M633 1721h0M693.4 1639.2h0M647.3 1728.6h0M645.6 1599.9h0M640.1 1802h0M642.2 1699.4h0M633 1598.8h0M625.7 1761.4h0M644.3 1611.3h0M693.5 1572.2h0M648.7 1643.8h0M646.6 1537.3h0M651.3 1660.9h0M665.5 1625.4h0M645.7 1778.3h0M657.1 1634.7h0M636.3 1706h0M625.7 1647.5h0M649.4 1607.7h0M638.7 1625.2h0M647.6 1639.3h0M629.9 1672.2h0M678.7 1707.8h0M668.3 1804.8h0M626.8 1592.9h0M651.1 1576h0M671.4 1466.4h0M632.4 1566h0M657.8 1764.2h0M660.8 1734.5h0M682.4 1478.5h0M653.6 1826.8h0M684.8 1661.6h0M635 1538.4h0M668.6 1559.5h0M645.3 1542.7h0M639.4 1610.2h0M650.1 1706.5h0M750.4 1411.1h0M644.1 1753h0M697.9 1476h0M637.7 1739.5h0M627.1 1618.8h0M657.3 1688.1h0M646.5 1850.1h0M675.3 1773.1h0M694.6 1527h0M634.1 1666.9h0M695.1 1550.9h0M663.2 1507.9h0M632 1699.8h0M646 1653h0M652.4 1713.6h0M650 1771.2h0M648.2 1635.4h0M657.6 1612.5h0M656.7 1477.1h0M646.9 1672.7h0M662.3 1571.4h0M680.6 1786.8h0M710.9 1477.1h0M637.6 1571.5h0M651.9 1603.8h0M645.1 1680.2h0M651.7 1752.7h0M632.6 1724.5h0M657.1 1525.1h0M645.7 1747h0M710.5 1499.5h0M642 1629.4h0M623.5 1696.8h0M635.6 1545.4h0M690.4 1556.5h0M661.8 1525.3h0M653.3 1836.4h0M646.3 1835.1h0M621.4 1769.4h0M665.6 1618.5h0M634.1 1781.7h0M688.7 1510.5h0M647 1640.5h0M649.5 1675.1h0M688.1 1618h0M625.1 1793.6h0M685.3 1540.5h0M688.9 1518.4h0M634.2 1590.2h0M651.8 1755.2h0M665 1657h0M657.1 1702.5h0M651 1662.7h0M654.7 1755.6h0M637.7 1843.1h0M629.6 1683.9h0M658 1549.8h0M627.8 1597.1h0M692.3 1528.1h0M643.7 1833.3h0M645.9 1657.4h0M634.7 1565.8h0M656.7 1613.6h0M671.4 1520.5h0M652 1532h0M684.6 1500.4h0M643.2 1601.8h0M621.5 1689.9h0M639.7 1686.4h0M627.3 1879.3h0M660 1612h0M656.2 1542.2h0M654.9 1561.2h0M632.7 1749.3h0M665.5 1591.7h0M639.6 1707.5h0M625 1749.5h0M621.5 1840.7h0M662.9 1677.9h0M641.7 1801.4h0M659.1 1627.2h0M637.2 1637.3h0M626.7 1723.1h0M663.6 1707.3h0M668.5 1714.2h0M676.5 1670.4h0M697 1625.1h0M640.5 1612.3h0M718.4 1559.2h0M654.7 1509.9h0M625.3 1639h0M645.9 1567.5h0M658 1682.6h0M633.9 1534.6h0M668.4 1577.1h0M625.7 1702.3h0M671.1 1597.1h0M621.2 1703.1h0M635.6 1601.8h0M657 1625.1h0M632.8 1733.1h0M662.5 1544.3h0M640.1 1705.4h0M634.2 1665h0M648.3 1526h0M793 1557.6h0M664 1628.6h0M622.7 1643.7h0M642.2 1601.3h0M673.2 1502.5h0M622.2 1720.9h0M654.7 1624.9h0M629.8 1671.2h0M639.5 1528.9h0M624.8 1599.5h0M675.3 1647.6h0M646.7 1727.3h0M628.5 1616.1h0M628.3 1659h0M673.2 1643.7h0M641.2 1642.8h0M662.9 1497h0M642 1840.9h0M629.3 1719.2h0M643.5 1781.7h0M632.8 1696.7h0M677.8 1533h0M654.5 1777h0M653 1825.7h0M638.8 1849.4h0M653.4 1731h0M672.3 1734h0M643.8 1524.2h0M646.4 1675.7h0M633.2 1568.2h0M639.1 1672h0M640.5 1582.3h0M653.1 1597.8h0M632.1 1874.3h0M621.3 1770.8h0M667.1 1686.1h0M658.8 1515.6h0M634.1 1640.3h0M640.1 1843.4h0M672.3 1777.2h0M649.7 1716.3h0M630.1 1747h0M658.3 1654.3h0M642.2 1776.1h0M638.4 1772.2h0M643 1870.6h0M656.9 1830.2h0M639.6 1669.2h0M634.3 1754.5h0M640.1 1668.6h0M640.6 1612h0M692.4 1576.7h0M635.6 1629.1h0M646.9 1586.3h0M664.2 1625.8h0M621.9 1777.7h0M658.4 1876.9h0M660.9 1855.4h0M636.9 1530.5h0M635.9 1658.8h0M683.8 1528.9h0M634.3 1575.2h0M668 1821.4h0M663.5 1643.1h0M739.3 1818.2h0M654.9 1797h0M649.6 1491.8h0M651.3 1445.4h0M697 1517.2h0M826.5 1452.6h0M635.8 1598.5h0M694.8 1527.3h0M639.7 1675.1h0M632.4 1819.2h0M680.4 1808.6h0M648 1602.4h0M639.6 1807h0M644.1 1665h0M667.5 1522.1h0M658.7 1630.1h0M625.6 1732.4h0M674.9 1588.5h0M640.5 1729.4h0M634.9 1813.4h0M627.9 1744.8h0M635.3 1704.2h0M629.2 1721.3h0M636.5 1555.4h0M660.3 1599.1h0M659.4 1588.4h0M633.5 1821h0M649.3 1792.3h0M652.9 1712.2h0M675.3 1621.7h0M659.8 1436.6h0M635.6 1735.5h0M628.8 1566.8h0M627.6 1612.5h0M648 1677.9h0M688.3 1598.3h0M662.9 1527.9h0M646.9 1618h0M646.3 1554.9h0M626.9 1797.2h0M652.3 1636.8h0M666.5 1654.8h0M649.2 1794.8h0M634.2 1801.1h0M629.3 1840.3h0M647.1 1653.5h0M631.8 1742.4h0M626.6 1813.9h0M656.6 1659.6h0M625.2 1804h0M681.3 1497.5h0M631.1 1572.7h0M631 1582.5h0M670.8 1572.5h0M642.3 1748.8h0M639.7 1705.4h0M659.6 1563.5h0M625.9 1810h0M632 1682.2h0M626.8 1690.2h0M632.9 1721.9h0M642.6 1659.7h0M650.1 1594.2h0M697.8 1469.7h0M681.9 1566.3h0M637.2 1622h0M636.9 1603.7h0M632.9 1637.6h0M664.6 1633.3h0M642.6 1867.4h0M701 1471.3h0M634 1603.4h0M642.3 1567.3h0M632.7 1825.3h0M638.9 1802.9h0M628.9 1594.9h0M633.9 1710.4h0M629.9 1672.6h0M625 1718.4h0M686.2 1573.9h0M639.9 1522.2h0M642.6 1579.8h0M736.6 1506.3h0M693.7 1638.4h0M679.8 1568.8h0M644.5 1769.4h0M623.2 1759.3h0M631.4 1653.6h0M649.8 1660.9h0M644.9 1695.3h0M643.2 1751.1h0M676.1 1625.1h0M649.9 1715.6h0M630.8 1683.5h0M645.1 1594.5h0M685.3 1421.1h0M638.9 1644.3h0M730.2 1622.1h0M674 1666.8h0M650.4 1800.7h0M648.5 1647.1h0M623.8 1765.8h0M698.7 1529.5h0M649.5 1515.7h0M648.8 1541.4h0M633.8 1558.3h0M683.6 1581.9h0M629.2 1649.6h0M678 1569.1h0M666.2 1745.5h0M656.6 1612.6h0M650.8 1639.8h0M636.2 1858.6h0M653.5 1676.6h0M677.2 1720h0M632.4 1589.1h0M673.7 1612h0M667.1 1844.9h0M656.8 1513.6h0M634.6 1527.6h0M655.4 1443.2h0M667.8 1621.5h0M627.1 1765.4h0M647.3 1543.2h0M625.7 1701.4h0M632.6 1664.8h0M638.7 1577.4h0M630.6 1849.7h0M639 1809.3h0M661 1682.3h0M731.2 1688.6h0M649.4 1644.3h0M689.7 1674.1h0M634 1665.4h0M653 1701.5h0M624 1618.3h0M636.2 1761.2h0M695.1 1633.4h0M656.4 1520.8h0M657 1718.9h0M640.2 1769.6h0M633.7 1800.3h0M648.9 1641.7h0M622.4 1769.6h0M641.5 1649.8h0M634.4 1653.7h0M668.1 1535.7h0M624.6 1745.2h0M650 1733.5h0M629.7 1746.8h0M656.1 1627.4h0M671.6 1616.3h0M660.6 1488.6h0M666.9 1542.1h0M624.7 1664.6h0M624.9 1729.5h0M770.3 1645.9h0M641 1750.8h0M629.6 1781.8h0M636.5 1572.6h0M638.4 1854.7h0M627.8 1589.9h0M678.3 1416.6h0M629.9 1637.8h0M647.1 1717.6h0M681.8 1755.7h0M621.7 1653.5h0M627.6 1649.1h0M648.3 1681.2h0M689.9 1502.1h0M632.2 1802.1h0M657.7 1623.2h0M631 1802.7h0M631 1845h0M750.8 1681.6h0M653.1 1524.1h0M647.2 1845.3h0M639.5 1514.4h0M628.6 1855.6h0M647.1 1518h0M642 1838.6h0M621.7 1745.9h0M629.4 1558.1h0M676.2 1573.9h0M648.7 1458.2h0M670 1558.4h0M646.8 1789.9h0M671.3 1645.1h0M645.5 1481.6h0M645.3 1586.2h0M694.7 1564.1h0M632 1662.4h0M681.9 1679.2h0M651.6 1639.7h0M681.9 1565.9h0M639.6 1666.6h0M621.8 1691.4h0M638.5 1763.4h0M626.5 1582.6h0M651 1667.8h0M647.6 1601.3h0M643.1 1601.9h0M639.4 1813.2h0M623 1755.8h0M648.9 1733.1h0M626.6 1762.3h0M699.4 1465.5h0M665.3 1608.1h0M636.3 1604.7h0M653.6 1715.1h0M685.6 1537.4h0M623.5 1870.9h0M668.4 1582.5h0M693 1581.2h0M641.6 1797.8h0M647.6 1626.7h0M659.6 1711h0M664.9 1766.7h0M630 1577.9h0M628.9 1603.5h0M622.2 1752.1h0M625.5 1747.5h0M690.7 1756.7h0M627.3 1739.2h0M655.9 1604.4h0M650.3 1467.1h0M769.9 1507.4h0M700.1 1650.9h0M673.7 1510h0M647.9 1513.8h0M643.6 1830.5h0M642.4 1718.2h0M641.9 1621.5h0M635.6 1784.2h0M666.7 1588.7h0M636.1 1652.5h0M621.7 1848.2h0M678 1733.3h0M635 1583.3h0M665.4 1722.2h0M633.6 1731.8h0M683.8 1505.4h0M667.6 1538.8h0M704 1627.4h0M628.1 1795.6h0M659.8 1685.2h0M643.7 1662.5h0M628.1 1821.7h0M678.1 1648.6h0M646.8 1582.7h0M659.7 1527.6h0M633.6 1761.7h0M626.2 1748h0M621.7 1836.4h0M638 1584.7h0M651.5 1625.5h0M715.8 1573.7h0M678.2 1603.5h0M636.2 1780.2h0M650.1 1611h0M639.4 1849.4h0M650.5 1552.6h0M668.9 1667.4h0M640.1 1536.3h0M662.7 1642h0M665.7 1743.6h0M634.7 1554h0M661.3 1858.4h0M649.3 1668.8h0M628.5 1707.6h0M632.1 1767.4h0M652.3 1580.3h0M627.9 1859.6h0M644.3 1520.7h0M630.1 1776.5h0M638.8 1616.2h0M643 1641.5h0M651.1 1538.8h0M671.8 1768.8h0M650 1687.8h0M650.7 1625.4h0M645.5 1608.3h0M647.9 1722.3h0M700 1677.4h0M649.1 1748.2h0M621.3 1658.2h0M640.4 1801.9h0M656.8 1826.3h0M665.1 1548.1h0M652.2 1625.8h0M705 1487.6h0M643.7 1574.6h0M635 1703.5h0M622.3 1823h0M671.2 1484.4h0M627.3 1765.7h0M674.1 1499.9h0M640.6 1839.3h0M675.1 1619.8h0M632.8 1600.8h0M750.3 1576.6h0M660.7 1750h0M661.9 1792h0M649.8 1856.5h0M632.2 1731.5h0M645.4 1611.9h0M674.2 1657.7h0M632.8 1546.7h0M672.6 1608.5h0M627 1629.1h0M642 1850.3h0M656.9 1576.8h0M656.8 1558.8h0M645.6 1719.9h0M662.5 1679.7h0M657.3 1570.8h0M652.9 1760.5h0M657.6 1526.5h0M649.8 1664.2h0M659.2 1673.8h0M638.2 1660.6h0M664.8 1787h0M658.7 1568.1h0M671.9 1539.3h0M628.2 1782.5h0M634.9 1675h0M671.6 1538.3h0M624 1755h0M639.2 1851.1h0M642.2 1638h0M686 1740h0M647.6 1762.2h0M623.2 1731.4h0M645.6 1816h0M633.8 1556.3h0M660.7 1554.1h0M625.7 1855.3h0M630 1830h0M704.7 1630h0M811 1872.9h0M650.1 1778.7h0M648.3 1803.6h0M653.5 1498.6h0M641.4 1833.7h0M633.9 1720.9h0M672.2 1621.3h0M705.9 1569.6h0M669 1688.7h0M691.7 1486.8h0M686.3 1767.1h0M636 1731.4h0M636.4 1669.4h0M712.5 1502.3h0M638.5 1798.5h0M655.2 1483.2h0M665.8 1794.2h0M638.6 1530.2h0M647.9 1794.7h0M631.2 1588.6h0M631.9 1698.2h0M641.8 1578.3h0M654.6 1656.7h0M644.3 1551.4h0M699.1 1672.4h0M628.7 1709.5h0M626.1 1615.4h0M666.6 1523.2h0M624.4 1698.8h0M623.9 1621h0M656.8 1684.2h0M663.6 1697.6h0M636.7 1798.4h0M625.4 1710.8h0M689.2 1513.2h0M648.5 1669h0M627.8 1650.6h0M634.2 1603.6h0M648.4 1594.7h0M630.1 1574.6h0M649.1 1489.4h0M647.8 1585.1h0M627.4 1845h0M627.2 1671.8h0M644.6 1801.8h0M631.4 1610.4h0M661.4 1549.7h0M672 1775.7h0M625.7 1664.9h0M643.6 1770.5h0M649.2 1832h0M634.5 1578.7h0M657.4 1706.7h0M648.9 1544.7h0M674.7 1543.8h0M651.8 1809.7h0M632.6 1682h0M652.3 1685.7h0M665.9 1484.9h0M668.1 1493.3h0M651.3 1662.1h0M625 1635.7h0M684.2 1727.3h0M660.8 1587.5h0M627.2 1748.5h0M642.9 1683.5h0M655.2 1808.9h0M653.7 1808.7h0M677.6 1460.5h0M656.1 1717.8h0M623.2 1730.3h0M669.9 1544h0M645.7 1793.7h0M644.5 1513.7h0M660.7 1611.2h0M632.4 1792.4h0M676.8 1516.7h0M665.9 1608.8h0M647.7 1754.6h0M641.3 1858.7h0M659.7 1607.1h0M670.5 1558.6h0M627.6 1728.9h0M638.6 1533.4h0M660.1 1835.5h0M648.3 1744h0M661.8 1679.8h0M627.4 1763.2h0M628.2 1863.3h0M623.6 1620.8h0M636.4 1804h0M684.5 1637.1h0M680.2 1535.8h0M667 1707.2h0M642.4 1597.6h0M628.9 1582.5h0M631.9 1556.6h0M623.9 1685.6h0M662.6 1577.6h0M663.3 1690.5h0M649.1 1756.5h0M654.4 1633.7h0M643.9 1476.1h0M628.6 1857h0M698.1 1534.3h0M628.9 1653.1h0M666.5 1650.9h0M647.4 1653.2h0M661.5 1638.9h0M631.4 1699h0M674.4 1550.3h0M654.5 1492.9h0M647.1 1532.4h0M629.6 1845.3h0M673.9 1519.8h0M679.7 1539.3h0M642.4 1636.7h0M656.5 1748h0M648.9 1758.8h0M623.6 1783.1h0M624.3 1679.2h0M663.9 1655.2h0M642.1 1532.6h0M681.8 1511h0M659.2 1730.4h0M659.1 1479h0M623.3 1613.1h0M663.3 1601.6h0M663.8 1520.2h0M669.6 1727h0M621 1691h0M658.5 1701.1h0M682.7 1519.2h0M624.7 1742.1h0M630.6 1856.7h0M644.2 1866.7h0M655.5 1559.3h0M631.8 1828h0M630 1720.7h0M644.5 1545.2h0M652.4 1827.3h0M637.5 1794.1h0M633.7 1616.8h0M645.2 1531.9h0M667.3 1672.6h0M652.9 1618.5h0M653.6 1724h0M621.6 1752.1h0M668.3 1715.5h0M627.5 1713.9h0M697.4 1527.2h0M637.3 1603.6h0M652.3 1522h0M652.4 1691.9h0M677.4 1769h0M649.4 1756.1h0M641.1 1536.3h0M644.5 1588.2h0M677.5 1621.3h0M644.2 1536h0M627.4 1714.7h0M627.3 1653h0M636.6 1717.2h0M629 1723.2h0M650.8 1687.2h0M630.1 1632h0M630.1 1798.8h0M644.1 1581.8h0M630.6 1556.8h0M663.8 1531.6h0M677.7 1463.2h0M632.4 1609.7h0M633.4 1758h0M643.9 1525.3h0M685.3 1709.3h0M726.8 1509.3h0M662.1 1841.2h0M685.4 1663.5h0M662.6 1664.2h0M658.3 1738.4h0M645.7 1526.8h0M634.2 1830.7h0M645.4 1659.8h0M646.4 1569h0M692.7 1512.9h0M666.9 1623.3h0M658.9 1461h0M652.2 1693.6h0M648.8 1702.1h0M653.6 1576.1h0M637.7 1605.6h0M627.7 1792.7h0M637.4 1657.7h0M627.7 1781.1h0M626.6 1793.1h0M642.1 1517.6h0M638.7 1798.3h0M723.7 1515.4h0M630.3 1837.6h0M649.8 1510.8h0M649.5 1752.4h0M652.8 1793.1h0M660.8 1535.2h0M686.6 1456h0M623.3 1704.1h0M650.8 1727.7h0M675.5 1525.3h0M666.1 1526.5h0M627.4 1660.9h0M649.4 1528h0M673.7 1582.1h0M660.7 1502.7h0M638.9 1618.5h0M661.4 1599h0M682.6 1500h0M622.3 1714.9h0M644 1638.4h0M653.6 1735h0M642.7 1512.4h0M652.5 1857.6h0M627.5 1615h0M671.1 1830.5h0M636.3 1772.9h0M668.5 1618.3h0M645.7 1713h0M641.9 1712.8h0M637.2 1552.9h0M652 1588h0M664.9 1503.5h0M656.7 1846.5h0M644.6 1809h0M677.9 1653.5h0M660 1754.1h0M639.2 1550.9h0M633.5 1547.4h0M685.5 1764.5h0M638.8 1583.8h0M624.4 1720.9h0M631 1882.8h0M637.5 1777.6h0M678.9 1536.9h0M635.9 1801.4h0M638.4 1546.9h0M627.3 1703.5h0M635.4 1666.9h0M626.2 1647.1h0M663.7 1808.3h0M670.7 1611.3h0M634.5 1782.1h0M626.5 1731.7h0M652.4 1604.4h0M635.2 1766.5h0M652.9 1713.9h0M635 1572.6h0M633.2 1677.3h0M638.6 1648h0M650.6 1510.4h0M631.4 1742.5h0M630.5 1674.5h0M670.2 1742.2h0M623.2 1837.7h0M684.2 1505.6h0M646.6 1743.7h0M624 1655.1h0M621.4 1847.5h0M698.9 1521.7h0M633.7 1635.8h0M626.9 1781.5h0M661.4 1536.6h0M639.7 1628.8h0M659.5 1791.6h0M739.8 1518.6h0M644.4 1800.7h0M670.9 1715.3h0M642.9 1694.6h0M624 1705.5h0M626.2 1645.1h0M645.4 1748.7h0M651.7 1850.2h0M634.8 1691.2h0M648.6 1650.2h0M646.5 1523.3h0M623.9 1624.5h0M635.1 1600.7h0M626.2 1718.8h0M639.9 1627.8h0M621.7 1824.1h0M633.3 1766.6h0M654.3 1775.8h0M651.2 1473.4h0M640.2 1567.4h0M681.9 1567.9h0M651 1594.7h0M657.6 1655.2h0M638.3 1792.9h0M643.4 1612.7h0M673.3 1574.3h0M651.2 1745.2h0M641.1 1819.9h0M637.2 1804.9h0M626.6 1606.6h0M709.4 1503h0M642.9 1630.1h0M637.4 1748.7h0M633.6 1551.9h0M666.5 1782.8h0M647.1 1634.3h0M660.7 1662.1h0M645.7 1734.9h0M637.7 1831.1h0M631.1 1729h0M637.4 1821.4h0M678 1699.7h0M626.8 1761.2h0M674.9 1727.3h0M642.4 1569.2h0M675.9 1721.8h0M633.8 1705.2h0M660.2 1663.6h0M629.7 1603.7h0M705.4 1792.2h0M663.5 1739.8h0M621 1739.9h0M633.5 1732.7h0M630.1 1802.7h0M624.4 1686h0M690.3 1448.6h0M627.7 1575.9h0M666.2 1466.1h0M644.3 1730.5h0M629.9 1658.1h0M666.8 1751.2h0M639.8 1814.8h0M640.2 1733.1h0M663.9 1667.8h0M637.5 1621.9h0M642.2 1690.9h0M626.9 1645.1h0M637.7 1710.6h0M639.6 1710.8h0M641.8 1747.9h0M647.9 1802.5h0M662.4 1580.6h0M634.5 1679.3h0M674.1 1436.5h0M636.7 1639.5h0M658.9 1659.2h0M654.2 1630.8h0M643.9 1566.5h0M685.8 1422.2h0M655.8 1845.2h0M638.2 1806.3h0M640.1 1818.1h0M695 1623.5h0M628.1 1793h0M628.6 1745.6h0M643.8 1674.6h0M635.5 1527.3h0M625.4 1737h0M651.1 1604.1h0M633.8 1688.8h0M635.4 1854.6h0M637.4 1787.1h0M678.4 1460.7h0M660 1692.6h0M674.1 1486.9h0M625.1 1714.4h0M703.1 1548.2h0M632.6 1776.7h0M667.3 1651.4h0M662.7 1731.8h0M632.1 1798.9h0M635.9 1839.2h0M629.8 1667h0M652.7 1603.8h0M645.5 1563h0M657.8 1598.2h0M637.7 1578.4h0M621.5 1735.2h0M680 1483.3h0M641.7 1783.1h0M694.1 1495.6h0M670.8 1684.8h0M645.3 1582.5h0M630 1739.6h0M631 1671.3h0M645 1753.2h0M667.2 1679.1h0M673 1695.4h0M641.6 1560.1h0M629.3 1732.8h0M655.8 1752.8h0M683 1671.8h0M689.2 1678.3h0M641.6 1850.2h0M630.6 1809.1h0M656.5 1461.4h0M665.8 1773.5h0M690.5 1601.4h0M649.5 1703.9h0M654.5 1528.4h0M629.7 1841.8h0M660 1513.9h0M627.7 1684.6h0M646 1592.3h0M646 1691.7h0M621.5 1816.2h0M640 1822.2h0M697.2 1610.7h0M652.8 1784.4h0M632 1751.5h0M653.2 1476.5h0M660.7 1559.2h0M662.7 1649.8h0M632.5 1635.1h0M635.4 1859.9h0M646.3 1540.7h0M670.5 1519.1h0M640.3 1639.5h0M634.5 1665.2h0M650.7 1558.9h0M642.2 1693.2h0M645.4 1578.2h0M629.2 1874.8h0M625.7 1711.7h0M629.7 1788.1h0M704.7 1534.7h0M626.8 1775.9h0M647.4 1718.5h0M670.3 1574.6h0M709.2 1524.2h0M731.4 1537.8h0M672.9 1652.5h0M742.7 1493.2h0M677.3 1504.6h0M652 1702.7h0M623 1772.5h0M667.7 1714.9h0M681.6 1525.8h0M669.3 1699.5h0M722.3 1411.9h0M637.1 1599.2h0M660.5 1529.5h0M626.4 1642.5h0M651.9 1757.4h0M652 1688.9h0M660.1 1538.2h0M621.5 1875.7h0M647.5 1810.3h0M636.8 1674.4h0M653.5 1490.7h0M641.7 1759.9h0M632.2 1730h0M657.7 1515.4h0M678.7 1554.9h0M663 1672.6h0M681.4 1638.7h0M651.7 1550.4h0M623.8 1744.9h0M659.9 1803.3h0M694.5 1536.5h0M642.5 1675.3h0M628.8 1641.8h0M644.8 1849.7h0M688.3 1512.9h0M662.4 1861.2h0M690.3 1526.4h0M646.8 1637.4h0M646.8 1858.2h0M623.9 1870.4h0M718.7 1479.8h0M674.5 1530.8h0M699.5 1502.2h0M648.4 1718.4h0M647.3 1492.7h0M642.2 1523.9h0M640.5 1525.3h0M630.2 1556.9h0M645 1613.9h0M653.9 1605.2h0M626.1 1766.2h0M638 1831.3h0M643.4 1577.1h0M647.7 1738.8h0M669.2 1598.3h0M671.2 1516.4h0M639.2 1716.9h0M635.5 1616.9h0M631.6 1661.9h0M654.4 1505.1h0M668.6 1636.3h0M644.7 1561.4h0M649.2 1716.7h0M709.1 1786.3h0M646.1 1694.1h0M622 1764.8h0M631.3 1848.8h0M660.3 1546.5h0M648.9 1767.1h0M627.6 1682.4h0M1017.7 1495.1h0M884.3 1597.6h0M851.3 1375.2h0M825.5 1391.6h0M711.2 1319.7h0M724.6 1319.7h0M733.7 1327.1h0M739.1 1337.2h0M724.6 1372.5h0M786.8 1415.5h0M810.3 1638.6h0M782.8 1538.8h0M780.1 1694.1h0M812 1791.8h0M736 1388h0M708 1407h0M756 1427h0M741 1426h0M634 1427h0" stroke="#f4543f" stroke-width="6.6" stroke-linecap="round" fill="none"/>
<path d="M506.6 1495.1h0M540.9 1486.7h0M571.1 1520.3h0M544.2 1515.3h0M478 1540.5h0M515 1544.9h0M581.2 1619.5h0M582.2 1681.6h0M527.4 1678.3h0M590.6 1782.4h0M586.6 1803.7h0M650 1432h0M652.4 1504.5h0M679.3 1499.2h0M694.4 1496.8h0M672.6 1518.7h0M648 1545.5h0M644.7 1608.7h0M654.1 1622.8h0M632.2 1716.9h0M625.3 1663.8h0M622.2 1854h0M631.8 1563.5h0M600.7 1834.1h0M593.4 1829.1h0M589 1796.6h0M634.4 1640.5h0M640.8 1874.4h0M648.5 1666.5h0M637.4 1860.7h0M640.5 1644.7h0M624.1 1783.4h0M636.3 1525.7h0M571.2 1505.5h0M591.1 1678.9h0M624.8 1602.7h0M596.4 1743.2h0M617.3 1733.4h0M622 1820h0M615.9 1735.8h0M584.4 1675.7h0M633.8 1842.5h0M650.8 1844.4h0M589.5 1665.6h0M558.9 1546.3h0M625.8 1793.2h0M554.2 1729.4h0M567.7 1518.3h0M589 1653.9h0M603.9 1917.4h0M636 1523.5h0M587.9 1839.8h0M584 1627.5h0M585.9 1675.7h0M553.9 1542.5h0M595.2 1842.1h0M571.2 1835h0M619.6 1713.4h0M591.5 1704.2h0M591 1876.1h0M567.7 1770.6h0M570.9 1537.1h0M616.7 1889.7h0M622.6 1764.7h0M600.8 1851.4h0M601.8 1855.2h0M586.9 1797.9h0M625.8 1628.3h0M593.7 1828.2h0M622.6 1715.7h0M619.8 1785.2h0M602.8 1870.8h0M599.4 1877.5h0M641.1 1739.3h0M557.2 1522.7h0M575 1794.5h0M582.2 1557.6h0M591.6 1717.4h0M621.7 1768.5h0M580.7 1768.6h0M640.8 1569.3h0M588.4 1812.4h0M562.7 1527.4h0M584.6 1790.7h0M615.7 1849.6h0M642.4 1507.5h0M601.7 1822.1h0M624.2 1850.3h0M585.9 1609.6h0M599.4 1820.3h0M584 1752.5h0M613.1 1866.7h0M618.8 1837.9h0M622.7 1674h0M618.2 1893.5h0M621.9 1686.4h0M608.3 1916.6h0M639.9 1848h0M598.9 1762.8h0M549.5 1498.7h0M564.6 1830.8h0M635.7 1635.2h0M574.3 1562.6h0M593.7 1754.7h0M581.8 1875.7h0M626.2 1783.8h0M589.5 1855.9h0M587.2 1624.5h0M649.3 1783.1h0M568.6 1623.1h0M633.4 1560.9h0M637.4 1735.1h0M605.5 1929h0M621.4 1878.7h0M618.6 1780.6h0M591.6 1729.9h0M571.8 1520.4h0M646 1720.6h0M624.7 1710.8h0M591.3 1734h0M586.5 1692.2h0M638.5 1671.6h0M623.6 1652.5h0M627.7 1655.4h0M566.3 1552.6h0M557.2 1793.9h0M577.3 1729.9h0M609.1 1889.8h0M599.1 1800.3h0M600.8 1894.1h0M603.2 1905.5h0M600.7 1839.7h0M591.6 1798.6h0M627.7 1723.3h0M606.9 1929.1h0M637.8 1685.3h0M603.4 1878.4h0M579 1535.2h0M586.4 1647.5h0" stroke="#000" stroke-width="6.6" stroke-linecap="round" fill="none"/>
<line x1="122.7" y1="1888" x2="1061" y2="1888" stroke="#333" stroke-width="1.2"/>
<line x1="591.6" y1="1289.3" x2="591.6" y2="1965" stroke="#333" stroke-width="1.2"/>
<line x1="620.8" y1="1289.3" x2="620.8" y2="1965" stroke="#333" stroke-width="1.2"/>
<line x1="347" y1="1328.8" x2="506.6" y2="1495.1" stroke="#000" stroke-width="1.5"/>
<line x1="491.5" y1="1330.5" x2="540.9" y2="1486.7" stroke="#000" stroke-width="1.5"/>
<line x1="552" y1="1342.2" x2="571.1" y2="1520.3" stroke="#000" stroke-width="1.5"/>
<line x1="449.5" y1="1383.6" x2="544.2" y2="1515.3" stroke="#000" stroke-width="1.5"/>
<line x1="304" y1="1427.9" x2="478" y2="1540.5" stroke="#000" stroke-width="1.5"/>
<line x1="413.5" y1="1453.1" x2="515" y2="1544.9" stroke="#000" stroke-width="1.5"/>
<line x1="328.5" y1="1498.5" x2="581.2" y2="1619.5" stroke="#000" stroke-width="1.5"/>
<line x1="313.4" y1="1569.1" x2="582.2" y2="1681.6" stroke="#000" stroke-width="1.5"/>
<line x1="327.8" y1="1644.7" x2="527.4" y2="1678.3" stroke="#000" stroke-width="1.5"/>
<line x1="357.1" y1="1727.7" x2="590.6" y2="1782.4" stroke="#000" stroke-width="1.5"/>
<line x1="366.2" y1="1826.3" x2="586.6" y2="1803.7" stroke="#000" stroke-width="1.5"/>
<line x1="670.9" y1="1339.6" x2="650" y2="1432" stroke="#000" stroke-width="1.5"/>
<line x1="783.5" y1="1322.1" x2="652.4" y2="1504.5" stroke="#000" stroke-width="1.5"/>
<line x1="822.1" y1="1377.5" x2="679.3" y2="1499.2" stroke="#000" stroke-width="1.5"/>
<line x1="857.4" y1="1420.2" x2="694.4" y2="1496.8" stroke="#000" stroke-width="1.5"/>
<line x1="880.2" y1="1467.6" x2="672.6" y2="1518.7" stroke="#000" stroke-width="1.5"/>
<line x1="880.2" y1="1509.2" x2="648" y2="1545.5" stroke="#000" stroke-width="1.5"/>
<line x1="871.8" y1="1585.9" x2="644.7" y2="1608.7" stroke="#000" stroke-width="1.5"/>
<line x1="880.9" y1="1654.1" x2="654.1" y2="1622.8" stroke="#000" stroke-width="1.5"/>
<line x1="865.8" y1="1770.7" x2="632.2" y2="1716.9" stroke="#000" stroke-width="1.5"/>
<text x="283.1" y="1326.5" font-size="23">WFS1</text>
<text x="421.9" y="1325.4" font-size="23">BCAP31</text>
<text x="515" y="1337.2" font-size="23">FKBP8</text>
<text x="405.1" y="1377.5" font-size="23">CISD2</text>
<text x="204.2" y="1432" font-size="23">ARMCX3</text>
<text x="363.1" y="1448.1" font-size="23">ITPR2</text>
<text x="246.8" y="1498.5" font-size="23">HSPA9</text>
<text x="215.9" y="1571.4" font-size="23">ATAD3A</text>
<text x="264" y="1647" font-size="23">BCL2</text>
<text x="287.5" y="1731" font-size="23">MFN2</text>
<text x="284.7" y="1834.9" font-size="23">PDZD8</text>
<text x="657.4" y="1333.8" font-size="23">PML</text>
<text x="786.8" y="1323.8" font-size="23">ITPR3</text>
<text x="787.8" y="1372.5" font-size="23">MOSPD2</text>
<text x="863.1" y="1422.9" font-size="23">DHCR7</text>
<text x="885.3" y="1471.6" font-size="23">VPS13C</text>
<text x="886.6" y="1518" font-size="23">TP53</text>
<text x="876.9" y="1590.9" font-size="23">CLCC1</text>
<text x="885.9" y="1663.8" font-size="23">AKT1</text>
<text x="869.8" y="1780.8" font-size="23">TSPO</text>
<line x1="122.7" y1="1278.4" x2="122.7" y2="2004.6" stroke="#000" stroke-width="3.2"/>
<line x1="106.3" y1="1965.2" x2="1071.4" y2="1965.2" stroke="#000" stroke-width="3.2"/>
<line x1="111" y1="1479.1" x2="122.7" y2="1479.1" stroke="#000" stroke-width="2.8"/>
<text x="105.5" y="1487.1" font-size="23" text-anchor="end">10</text>
<line x1="111" y1="1706.3" x2="122.7" y2="1706.3" stroke="#000" stroke-width="2.8"/>
<text x="105.5" y="1714.3" font-size="23" text-anchor="end">5</text>
<line x1="111" y1="1933.6" x2="122.7" y2="1933.6" stroke="#000" stroke-width="2.8"/>
<text x="105.5" y="1941.6" font-size="23" text-anchor="end">0</text>
<line x1="166.5" y1="1965" x2="166.5" y2="1976" stroke="#000" stroke-width="2.8"/>
<text x="162.5" y="2000" font-size="23" text-anchor="middle">-6</text>
<line x1="386.4" y1="1965" x2="386.4" y2="1976" stroke="#000" stroke-width="2.8"/>
<text x="382.4" y="2000" font-size="23" text-anchor="middle">-3</text>
<line x1="606.3" y1="1965" x2="606.3" y2="1976" stroke="#000" stroke-width="2.8"/>
<text x="606.3" y="2000" font-size="23" text-anchor="middle">0</text>
<line x1="826.2" y1="1965" x2="826.2" y2="1976" stroke="#000" stroke-width="2.8"/>
<text x="826.2" y="2000" font-size="23" text-anchor="middle">3</text>
<line x1="1046.1" y1="1965" x2="1046.1" y2="1976" stroke="#000" stroke-width="2.8"/>
<text x="1046.1" y="2000" font-size="23" text-anchor="middle">6</text>
<text x="46.6" y="1586.2" font-size="27" text-anchor="middle" font-weight="bold" transform="rotate(-90 46.6 1586.2)">-Log Student’s T-test p-value</text>
<text x="77.7" y="1585.7" font-size="25.5" text-anchor="middle" transform="rotate(-90 77.7 1585.7)"><tspan font-style="italic">(</tspan><tspan font-style="italic">CDK4-</tspan><tspan font-weight="bold">KO</tspan><tspan> vs. </tspan><tspan font-style="italic">CDK4-</tspan><tspan font-weight="bold">WT</tspan><tspan>)</tspan></text>
<text x="609" y="2026" font-size="27" text-anchor="middle" font-weight="bold">Student’s T-test Difference</text>
<text x="610" y="2058.5" font-size="25.5" text-anchor="middle"><tspan font-style="italic">(</tspan><tspan font-style="italic">CDK4-</tspan><tspan font-weight="bold">KO</tspan><tspan> vs. </tspan><tspan font-style="italic">CDK4-</tspan><tspan font-weight="bold">WT</tspan><tspan>)</tspan></text>
<!-- panel_h -->
<text x="1075.5" y="1251" font-size="42.5" font-weight="bold">h</text>
<line x1="1211.7" y1="1324.8" x2="1211.7" y2="1674.6" stroke="#000" stroke-width="3"/>
<line x1="1197" y1="1673" x2="1731" y2="1673" stroke="#000" stroke-width="3.2"/>
<line x1="1196.7" y1="1326.4" x2="1211.7" y2="1326.4" stroke="#000" stroke-width="3.3"/>
<text x="1192" y="1335" font-size="24.5" text-anchor="end" font-weight="bold">2</text>
<line x1="1196.7" y1="1413.3" x2="1211.7" y2="1413.3" stroke="#000" stroke-width="3.3"/>
<text x="1192" y="1421.9" font-size="24.5" text-anchor="end" font-weight="bold">1</text>
<line x1="1196.7" y1="1499.9" x2="1211.7" y2="1499.9" stroke="#000" stroke-width="3.3"/>
<text x="1192" y="1508.5" font-size="24.5" text-anchor="end" font-weight="bold">0</text>
<line x1="1196.7" y1="1586.5" x2="1211.7" y2="1586.5" stroke="#000" stroke-width="3.3"/>
<text x="1192" y="1595.1" font-size="24.5" text-anchor="end" font-weight="bold">-1</text>
<line x1="1196.7" y1="1673" x2="1211.7" y2="1673" stroke="#000" stroke-width="3.3"/>
<text x="1192" y="1681.6" font-size="24.5" text-anchor="end" font-weight="bold">-2</text>
<line x1="1241.9" y1="1673" x2="1241.9" y2="1688" stroke="#000" stroke-width="3.3"/>
<line x1="1287.3" y1="1673" x2="1287.3" y2="1688" stroke="#000" stroke-width="3.3"/>
<line x1="1332.8" y1="1673" x2="1332.8" y2="1688" stroke="#000" stroke-width="3.3"/>
<line x1="1378.3" y1="1673" x2="1378.3" y2="1688" stroke="#000" stroke-width="3.3"/>
<line x1="1424.5" y1="1673" x2="1424.5" y2="1688" stroke="#000" stroke-width="3.3"/>
<line x1="1470" y1="1673" x2="1470" y2="1688" stroke="#000" stroke-width="3.3"/>
<line x1="1515.9" y1="1673" x2="1515.9" y2="1688" stroke="#000" stroke-width="3.3"/>
<line x1="1561.6" y1="1673" x2="1561.6" y2="1688" stroke="#000" stroke-width="3.3"/>
<line x1="1607.5" y1="1673" x2="1607.5" y2="1688" stroke="#000" stroke-width="3.3"/>
<line x1="1652.9" y1="1673" x2="1652.9" y2="1688" stroke="#000" stroke-width="3.3"/>
<line x1="1698.8" y1="1673" x2="1698.8" y2="1688" stroke="#000" stroke-width="3.3"/>
<line x1="1220.2" y1="1499.9" x2="1722" y2="1499.9" stroke="#000" stroke-width="2.4" stroke-dasharray="2.4 6.6"/>
<text x="1118" y="1495.5" font-size="28.6" text-anchor="middle" font-weight="bold" transform="rotate(-90 1118 1495.5)">Student’s T-test Difference</text>
<text x="1151.5" y="1495.5" font-size="28.9" text-anchor="middle" transform="rotate(-90 1151.5 1495.5)"><tspan>(</tspan><tspan font-style="italic">CDK4-</tspan><tspan>KO vs. </tspan><tspan font-style="italic">CDK4-</tspan><tspan>WT)</tspan></text>
<line x1="1241.9" y1="1395.2" x2="1241.9" y2="1423.3" stroke="#000" stroke-width="3.6"/>
<line x1="1241.9" y1="1521" x2="1241.9" y2="1572.5" stroke="#000" stroke-width="3.6"/>
<line x1="1234.7" y1="1395.2" x2="1249.1" y2="1395.2" stroke="#000" stroke-width="3.5"/>
<line x1="1234.7" y1="1572.5" x2="1249.1" y2="1572.5" stroke="#000" stroke-width="3.5"/>
<rect x="1230.1" y="1423.3" width="23.9" height="97.7" fill="none" stroke="#000" stroke-width="4"/>
<line x1="1229.5" y1="1474.7" x2="1254.6" y2="1474.7" stroke="#000" stroke-width="2.7"/>
<circle cx="1241.9" cy="1529.1" r="4.1" fill="#6aabf5"/>
<circle cx="1234.9" cy="1572" r="4.1" fill="#6aabf5"/>
<circle cx="1248.6" cy="1572" r="4.1" fill="#6aabf5"/>
<circle cx="1248.6" cy="1504.1" r="4.1" fill="#000"/>
<circle cx="1241.9" cy="1395.8" r="4.1" fill="#ff1a0a"/>
<circle cx="1241.9" cy="1413.8" r="4.1" fill="#ff1a0a"/>
<circle cx="1234.9" cy="1421.6" r="4.1" fill="#ff1a0a"/>
<circle cx="1248.6" cy="1426" r="4.1" fill="#ff1a0a"/>
<circle cx="1241.9" cy="1459.7" r="4.1" fill="#ff1a0a"/>
<circle cx="1241.9" cy="1468.8" r="4.1" fill="#ff1a0a"/>
<circle cx="1241.9" cy="1480.4" r="4.1" fill="#ff1a0a"/>
<circle cx="1234.9" cy="1498" r="4.1" fill="#ff1a0a"/>
<line x1="1287.3" y1="1443.4" x2="1287.3" y2="1461.8" stroke="#000" stroke-width="3.6"/>
<line x1="1287.3" y1="1494.2" x2="1287.3" y2="1544.5" stroke="#000" stroke-width="3.6"/>
<line x1="1280.1" y1="1443.4" x2="1294.5" y2="1443.4" stroke="#000" stroke-width="3.5"/>
<line x1="1280.1" y1="1544.5" x2="1294.5" y2="1544.5" stroke="#000" stroke-width="3.5"/>
<rect x="1275.2" y="1461.8" width="24.7" height="32.4" fill="none" stroke="#000" stroke-width="3.2"/>
<line x1="1275" y1="1484.6" x2="1300.1" y2="1484.6" stroke="#000" stroke-width="2.7"/>
<rect x="1283.2" y="1540.4" width="8.2" height="8.2" fill="#6aabf5"/>
<rect x="1294.9" y="1486.9" width="8.2" height="8.2" fill="#000"/>
<rect x="1283.2" y="1495.4" width="8.2" height="8.2" fill="#000"/>
<rect x="1283.2" y="1439.3" width="8.2" height="8.2" fill="#ff1a0a"/>
<rect x="1283.2" y="1446.7" width="8.2" height="8.2" fill="#ff1a0a"/>
<rect x="1283.2" y="1465.7" width="8.2" height="8.2" fill="#ff1a0a"/>
<rect x="1283.2" y="1473.1" width="8.2" height="8.2" fill="#ff1a0a"/>
<rect x="1271.6" y="1481.6" width="8.2" height="8.2" fill="#ff1a0a"/>
<rect x="1283.2" y="1481.6" width="8.2" height="8.2" fill="#ff1a0a"/>
<line x1="1332.8" y1="1446.6" x2="1332.8" y2="1454" stroke="#000" stroke-width="3.6"/>
<line x1="1332.8" y1="1502.6" x2="1332.8" y2="1591.9" stroke="#000" stroke-width="3.6"/>
<line x1="1325.6" y1="1446.6" x2="1340" y2="1446.6" stroke="#000" stroke-width="3.5"/>
<line x1="1325.6" y1="1591.9" x2="1340" y2="1591.9" stroke="#000" stroke-width="3.5"/>
<rect x="1320.7" y="1454" width="25.4" height="48.7" fill="none" stroke="#000" stroke-width="3.2"/>
<line x1="1320.5" y1="1487.8" x2="1346.2" y2="1487.8" stroke="#000" stroke-width="2.7"/>
<polygon points="1337.6,1591.9 1335.4,1595.6 1331.1,1595.6 1328.9,1591.9 1331.1,1588.2 1335.4,1588.2" fill="#6aabf5"/>
<polygon points="1337.6,1487.8 1335.4,1491.5 1331.1,1491.5 1328.9,1487.8 1331.1,1484.1 1335.4,1484.1" fill="#000"/>
<polygon points="1325.5,1494.2 1323.3,1497.9 1319,1497.9 1316.9,1494.2 1319,1490.4 1323.3,1490.4" fill="#000"/>
<polygon points="1337.6,1499.9 1335.4,1503.6 1331.1,1503.6 1328.9,1499.9 1331.1,1496.2 1335.4,1496.2" fill="#000"/>
<polygon points="1325.5,1505.8 1323.3,1509.5 1319,1509.5 1316.9,1505.8 1319,1502.1 1323.3,1502.1" fill="#000"/>
<polygon points="1349.4,1507.9 1347.3,1511.6 1342.9,1511.6 1340.8,1507.9 1342.9,1504.2 1347.3,1504.2" fill="#000"/>
<polygon points="1337.6,1512.2 1335.4,1515.9 1331.1,1515.9 1328.9,1512.2 1331.1,1508.4 1335.4,1508.4" fill="#000"/>
<polygon points="1325.5,1450.4 1323.3,1454.1 1319,1454.1 1316.9,1450.4 1319,1446.6 1323.3,1446.6" fill="#ff1a0a"/>
<polygon points="1337.6,1447.6 1335.4,1451.4 1331.1,1451.4 1328.9,1447.6 1331.1,1443.9 1335.4,1443.9" fill="#ff1a0a"/>
<polygon points="1349.4,1447 1347.3,1450.7 1342.9,1450.7 1340.8,1447 1342.9,1443.3 1347.3,1443.3" fill="#ff1a0a"/>
<polygon points="1337.6,1457.1 1335.4,1460.9 1331.1,1460.9 1328.9,1457.1 1331.1,1453.4 1335.4,1453.4" fill="#ff1a0a"/>
<polygon points="1337.6,1476.6 1335.4,1480.3 1331.1,1480.3 1328.9,1476.6 1331.1,1472.9 1335.4,1472.9" fill="#ff1a0a"/>
<polygon points="1349.4,1487.2 1347.3,1490.9 1342.9,1490.9 1340.8,1487.2 1342.9,1483.5 1347.3,1483.5" fill="#ff1a0a"/>
<line x1="1378.3" y1="1442.8" x2="1378.3" y2="1465.6" stroke="#000" stroke-width="3.6"/>
<line x1="1378.3" y1="1529.5" x2="1378.3" y2="1544.5" stroke="#000" stroke-width="3.6"/>
<line x1="1371.1" y1="1442.8" x2="1385.5" y2="1442.8" stroke="#000" stroke-width="3.5"/>
<line x1="1371.1" y1="1544.5" x2="1385.5" y2="1544.5" stroke="#000" stroke-width="3.5"/>
<rect x="1366.2" y="1465.6" width="24.9" height="63.9" fill="none" stroke="#000" stroke-width="3.2"/>
<line x1="1366" y1="1488.9" x2="1391.3" y2="1488.9" stroke="#000" stroke-width="2.7"/>
<polygon points="1378.7,1539.6 1383.5,1548.2 1374,1548.2" fill="#6aabf5"/>
<polygon points="1372,1484 1376.7,1492.6 1367.3,1492.6" fill="#000"/>
<polygon points="1378.7,1513.2 1383.5,1521.8 1374,1521.8" fill="#000"/>
<polygon points="1378.7,1437.8 1383.5,1446.4 1374,1446.4" fill="#ff1a0a"/>
<polygon points="1385.7,1480.8 1390.4,1489.4 1381,1489.4" fill="#ff1a0a"/>
<line x1="1424.5" y1="1425.5" x2="1424.5" y2="1471.4" stroke="#000" stroke-width="3.6"/>
<line x1="1424.5" y1="1513.7" x2="1424.5" y2="1550" stroke="#000" stroke-width="3.6"/>
<line x1="1417.3" y1="1425.5" x2="1431.7" y2="1425.5" stroke="#000" stroke-width="3.5"/>
<line x1="1417.3" y1="1550" x2="1431.7" y2="1550" stroke="#000" stroke-width="3.5"/>
<rect x="1411.8" y="1471.4" width="25.4" height="42.3" fill="none" stroke="#000" stroke-width="3.2"/>
<line x1="1411.6" y1="1490.6" x2="1437.4" y2="1490.6" stroke="#000" stroke-width="2.7"/>
<polygon points="1412.8,1507.3 1417.5,1498.7 1408.1,1498.7" fill="#6aabf5"/>
<polygon points="1436.3,1507.3 1441,1498.7 1431.6,1498.7" fill="#6aabf5"/>
<polygon points="1424.5,1513.7 1429.3,1505.1 1419.8,1505.1" fill="#6aabf5"/>
<polygon points="1418.8,1525 1423.5,1516.4 1414.1,1516.4" fill="#6aabf5"/>
<polygon points="1430.5,1525.4 1435.2,1516.8 1425.8,1516.8" fill="#6aabf5"/>
<polygon points="1424.5,1554.9 1429.3,1546.3 1419.8,1546.3" fill="#6aabf5"/>
<polygon points="1424.5,1453.9 1429.3,1445.3 1419.8,1445.3" fill="#000"/>
<polygon points="1424.5,1494.5 1429.3,1485.9 1419.8,1485.9" fill="#000"/>
<polygon points="1424.5,1430.5 1429.3,1421.8 1419.8,1421.8" fill="#ff1a0a"/>
<polygon points="1424.5,1463.5 1429.3,1454.9 1419.8,1454.9" fill="#ff1a0a"/>
<polygon points="1412.8,1484.9 1417.5,1476.3 1408.1,1476.3" fill="#ff1a0a"/>
<polygon points="1436.3,1491.3 1441,1482.7 1431.6,1482.7" fill="#ff1a0a"/>
<polygon points="1412.8,1493.4 1417.5,1484.8 1408.1,1484.8" fill="#ff1a0a"/>
<line x1="1470" y1="1470.4" x2="1470" y2="1483.6" stroke="#000" stroke-width="3.6"/>
<line x1="1470" y1="1544.6" x2="1470" y2="1553.2" stroke="#000" stroke-width="3.6"/>
<line x1="1462.8" y1="1470.4" x2="1477.2" y2="1470.4" stroke="#000" stroke-width="3.5"/>
<line x1="1462.8" y1="1553.2" x2="1477.2" y2="1553.2" stroke="#000" stroke-width="3.5"/>
<rect x="1457.7" y="1483.6" width="25" height="61" fill="none" stroke="#000" stroke-width="3.2"/>
<line x1="1457.5" y1="1494.9" x2="1482.9" y2="1494.9" stroke="#000" stroke-width="2.7"/>
<polygon points="1470,1539.1 1474.9,1544 1470,1548.9 1465.1,1544" fill="#6aabf5"/>
<polygon points="1470,1548.3 1474.9,1553.2 1470,1558.1 1465.1,1553.2" fill="#6aabf5"/>
<polygon points="1476.8,1482.5 1481.8,1487.4 1476.8,1492.4 1471.9,1487.4" fill="#000"/>
<polygon points="1470,1494.3 1474.9,1499.2 1470,1504.1 1465.1,1499.2" fill="#000"/>
<polygon points="1470,1465.4 1474.9,1470.4 1470,1475.3 1465.1,1470.4" fill="#ff1a0a"/>
<polygon points="1463.4,1481.9 1468.3,1486.8 1463.4,1491.7 1458.5,1486.8" fill="#ff1a0a"/>
<line x1="1515.9" y1="1426.2" x2="1515.9" y2="1476.3" stroke="#000" stroke-width="3.6"/>
<line x1="1515.9" y1="1531.8" x2="1515.9" y2="1587.1" stroke="#000" stroke-width="3.6"/>
<line x1="1508.7" y1="1426.2" x2="1523.1" y2="1426.2" stroke="#000" stroke-width="3.5"/>
<line x1="1508.7" y1="1587.1" x2="1523.1" y2="1587.1" stroke="#000" stroke-width="3.5"/>
<rect x="1503.4" y="1476.3" width="25.2" height="55.5" fill="none" stroke="#000" stroke-width="3.2"/>
<line x1="1503.2" y1="1496" x2="1528.8" y2="1496" stroke="#000" stroke-width="2.7"/>
<circle cx="1509.9" cy="1509.9" r="4.1" fill="#6aabf5"/>
<circle cx="1515.9" cy="1531.2" r="4.1" fill="#6aabf5"/>
<circle cx="1528.1" cy="1527.4" r="4.1" fill="#6aabf5"/>
<circle cx="1504.6" cy="1535.5" r="4.1" fill="#6aabf5"/>
<circle cx="1528.1" cy="1536.5" r="4.1" fill="#6aabf5"/>
<circle cx="1515.9" cy="1540.8" r="4.1" fill="#6aabf5"/>
<circle cx="1515.9" cy="1587.1" r="4.1" fill="#6aabf5"/>
<circle cx="1528.1" cy="1491.3" r="4.1" fill="#000"/>
<circle cx="1515.9" cy="1496.6" r="4.1" fill="#000"/>
<circle cx="1522.1" cy="1507.3" r="4.1" fill="#000"/>
<circle cx="1515.9" cy="1426.2" r="4.1" fill="#ff1a0a"/>
<circle cx="1528.1" cy="1460.1" r="4.1" fill="#ff1a0a"/>
<circle cx="1515.9" cy="1465" r="4.1" fill="#ff1a0a"/>
<circle cx="1509.9" cy="1475.7" r="4.1" fill="#ff1a0a"/>
<circle cx="1522.1" cy="1473.6" r="4.1" fill="#ff1a0a"/>
<circle cx="1515.9" cy="1483.8" r="4.1" fill="#ff1a0a"/>
<circle cx="1504.6" cy="1486.8" r="4.1" fill="#ff1a0a"/>
<line x1="1561.6" y1="1424.9" x2="1561.6" y2="1481" stroke="#000" stroke-width="3.6"/>
<line x1="1561.6" y1="1534" x2="1561.6" y2="1616.1" stroke="#000" stroke-width="3.6"/>
<line x1="1554.4" y1="1424.9" x2="1568.8" y2="1424.9" stroke="#000" stroke-width="3.5"/>
<line x1="1554.4" y1="1616.1" x2="1568.8" y2="1616.1" stroke="#000" stroke-width="3.5"/>
<rect x="1549.3" y="1481" width="24.8" height="52.9" fill="none" stroke="#000" stroke-width="3.2"/>
<line x1="1549.1" y1="1500.2" x2="1574.3" y2="1500.2" stroke="#000" stroke-width="2.7"/>
<rect x="1561.3" y="1503.6" width="8.2" height="8.2" fill="#6aabf5"/>
<rect x="1553.9" y="1509" width="8.2" height="8.2" fill="#6aabf5"/>
<rect x="1557.5" y="1515.4" width="8.2" height="8.2" fill="#6aabf5"/>
<rect x="1561.3" y="1532.9" width="8.2" height="8.2" fill="#6aabf5"/>
<rect x="1557.5" y="1551.6" width="8.2" height="8.2" fill="#6aabf5"/>
<rect x="1561.3" y="1558.7" width="8.2" height="8.2" fill="#6aabf5"/>
<rect x="1553.9" y="1562.7" width="8.2" height="8.2" fill="#6aabf5"/>
<rect x="1557.5" y="1602.4" width="8.2" height="8.2" fill="#6aabf5"/>
<rect x="1557.5" y="1612.5" width="8.2" height="8.2" fill="#6aabf5"/>
<rect x="1561.3" y="1485.5" width="8.2" height="8.2" fill="#000"/>
<rect x="1553.9" y="1489.7" width="8.2" height="8.2" fill="#000"/>
<rect x="1568.8" y="1491.9" width="8.2" height="8.2" fill="#000"/>
<rect x="1546.4" y="1499.3" width="8.2" height="8.2" fill="#000"/>
<rect x="1553.9" y="1499.3" width="8.2" height="8.2" fill="#000"/>
<rect x="1561.3" y="1499.3" width="8.2" height="8.2" fill="#000"/>
<rect x="1568.8" y="1503.6" width="8.2" height="8.2" fill="#000"/>
<rect x="1553.9" y="1526" width="8.2" height="8.2" fill="#000"/>
<rect x="1557.5" y="1420.8" width="8.2" height="8.2" fill="#ff1a0a"/>
<rect x="1557.5" y="1442.8" width="8.2" height="8.2" fill="#ff1a0a"/>
<rect x="1557.5" y="1450.3" width="8.2" height="8.2" fill="#ff1a0a"/>
<rect x="1557.5" y="1462" width="8.2" height="8.2" fill="#ff1a0a"/>
<rect x="1561.3" y="1468.8" width="8.2" height="8.2" fill="#ff1a0a"/>
<rect x="1553.9" y="1472.7" width="8.2" height="8.2" fill="#ff1a0a"/>
<rect x="1546.4" y="1487" width="8.2" height="8.2" fill="#ff1a0a"/>
<line x1="1607.5" y1="1448.4" x2="1607.5" y2="1485.3" stroke="#000" stroke-width="3.6"/>
<line x1="1607.5" y1="1536.5" x2="1607.5" y2="1606.5" stroke="#000" stroke-width="3.6"/>
<line x1="1600.3" y1="1448.4" x2="1614.7" y2="1448.4" stroke="#000" stroke-width="3.5"/>
<line x1="1600.3" y1="1606.5" x2="1614.7" y2="1606.5" stroke="#000" stroke-width="3.5"/>
<rect x="1594.8" y="1485.3" width="25.6" height="51.2" fill="none" stroke="#000" stroke-width="3.2"/>
<line x1="1594.6" y1="1501.3" x2="1620.6" y2="1501.3" stroke="#000" stroke-width="2.7"/>
<polygon points="1595.9,1520.1 1600.7,1511.5 1591.2,1511.5" fill="#6aabf5"/>
<polygon points="1601.7,1514.8 1606.4,1506.2 1597,1506.2" fill="#6aabf5"/>
<polygon points="1607.5,1511.6 1612.2,1503 1602.8,1503" fill="#6aabf5"/>
<polygon points="1613.4,1519 1618.2,1510.4 1608.7,1510.4" fill="#6aabf5"/>
<polygon points="1607.5,1523.3 1612.2,1514.7 1602.8,1514.7" fill="#6aabf5"/>
<polygon points="1601.7,1531.4 1606.4,1522.8 1597,1522.8" fill="#6aabf5"/>
<polygon points="1601.7,1545.7 1606.4,1537.1 1597,1537.1" fill="#6aabf5"/>
<polygon points="1607.5,1544.7 1612.2,1536 1602.8,1536" fill="#6aabf5"/>
<polygon points="1613.4,1545.7 1618.2,1537.1 1608.7,1537.1" fill="#6aabf5"/>
<polygon points="1607.5,1570.3 1612.2,1561.7 1602.8,1561.7" fill="#6aabf5"/>
<polygon points="1613.4,1579.9 1618.2,1571.3 1608.7,1571.3" fill="#6aabf5"/>
<polygon points="1607.5,1585.2 1612.2,1576.6 1602.8,1576.6" fill="#6aabf5"/>
<polygon points="1607.5,1611.5 1612.2,1602.9 1602.8,1602.9" fill="#6aabf5"/>
<polygon points="1613.4,1488.7 1618.2,1480.1 1608.7,1480.1" fill="#000"/>
<polygon points="1601.7,1506.2 1606.4,1497.6 1597,1497.6" fill="#000"/>
<polygon points="1613.4,1506.2 1618.2,1497.6 1608.7,1497.6" fill="#000"/>
<polygon points="1607.5,1506.2 1612.2,1497.6 1602.8,1497.6" fill="#000"/>
<polygon points="1613.4,1536.1 1618.2,1527.5 1608.7,1527.5" fill="#000"/>
<polygon points="1617.7,1500.9 1622.4,1492.3 1613,1492.3" fill="#000"/>
<polygon points="1604.3,1453.9 1609,1445.3 1599.6,1445.3" fill="#ff1a0a"/>
<polygon points="1610.2,1453.3 1615,1444.7 1605.5,1444.7" fill="#ff1a0a"/>
<polygon points="1601.7,1472.1 1606.4,1463.5 1597,1463.5" fill="#ff1a0a"/>
<polygon points="1607.5,1471 1612.2,1462.4 1602.8,1462.4" fill="#ff1a0a"/>
<polygon points="1601.7,1478.5 1606.4,1469.9 1597,1469.9" fill="#ff1a0a"/>
<polygon points="1607.5,1478.1 1612.2,1469.4 1602.8,1469.4" fill="#ff1a0a"/>
<polygon points="1601.7,1488.7 1606.4,1480.1 1597,1480.1" fill="#ff1a0a"/>
<polygon points="1607.5,1495.6 1612.2,1487 1602.8,1487" fill="#ff1a0a"/>
<line x1="1652.9" y1="1467.8" x2="1652.9" y2="1492.8" stroke="#000" stroke-width="3.6"/>
<line x1="1652.9" y1="1534" x2="1652.9" y2="1650.3" stroke="#000" stroke-width="3.6"/>
<line x1="1645.7" y1="1467.8" x2="1660.1" y2="1467.8" stroke="#000" stroke-width="3.5"/>
<line x1="1645.7" y1="1650.3" x2="1660.1" y2="1650.3" stroke="#000" stroke-width="3.5"/>
<rect x="1640.7" y="1492.8" width="24.5" height="41.2" fill="none" stroke="#000" stroke-width="3.2"/>
<line x1="1640.5" y1="1505.6" x2="1665.4" y2="1505.6" stroke="#000" stroke-width="2.7"/>
<polygon points="1651.3,1518 1649.1,1521.7 1644.8,1521.7 1642.7,1518 1644.8,1514.2 1649.1,1514.2" fill="#6aabf5"/>
<polygon points="1663.2,1514.5 1661.1,1518.3 1656.8,1518.3 1654.6,1514.5 1656.8,1510.8 1661.1,1510.8" fill="#6aabf5"/>
<polygon points="1657.2,1553.2 1655.1,1556.9 1650.8,1556.9 1648.6,1553.2 1650.8,1549.5 1655.1,1549.5" fill="#6aabf5"/>
<polygon points="1657.2,1650.3 1655.1,1654 1650.8,1654 1648.6,1650.3 1650.8,1646.6 1655.1,1646.6" fill="#6aabf5"/>
<polygon points="1645.5,1491.1 1643.3,1494.8 1639,1494.8 1636.9,1491.1 1639,1487.3 1643.3,1487.3" fill="#000"/>
<polygon points="1669.6,1491.7 1667.5,1495.4 1663.2,1495.4 1661,1491.7 1663.2,1488 1667.5,1488" fill="#000"/>
<polygon points="1657.2,1500.2 1655.1,1504 1650.8,1504 1648.6,1500.2 1650.8,1496.5 1655.1,1496.5" fill="#000"/>
<polygon points="1657.2,1504.5 1655.1,1508.2 1650.8,1508.2 1648.6,1504.5 1650.8,1500.8 1655.1,1500.8" fill="#000"/>
<polygon points="1657.2,1467.8 1655.1,1471.5 1650.8,1471.5 1648.6,1467.8 1650.8,1464.1 1655.1,1464.1" fill="#ff1a0a"/>
<line x1="1698.8" y1="1413.8" x2="1698.8" y2="1492.8" stroke="#000" stroke-width="3.6"/>
<line x1="1698.8" y1="1536.5" x2="1698.8" y2="1606.5" stroke="#000" stroke-width="3.6"/>
<line x1="1691.6" y1="1413.8" x2="1706" y2="1413.8" stroke="#000" stroke-width="3.5"/>
<line x1="1691.6" y1="1606.5" x2="1706" y2="1606.5" stroke="#000" stroke-width="3.5"/>
<rect x="1687" y="1492.8" width="24.8" height="43.8" fill="none" stroke="#000" stroke-width="3.2"/>
<line x1="1686.8" y1="1513.1" x2="1711.9" y2="1513.1" stroke="#000" stroke-width="2.7"/>
<polygon points="1698.8,1506 1703.7,1510.9 1698.8,1515.8 1693.9,1510.9" fill="#6aabf5"/>
<polygon points="1704.8,1509.2 1709.7,1514.1 1704.8,1519 1699.9,1514.1" fill="#6aabf5"/>
<polygon points="1687.1,1517.1 1692,1522 1687.1,1526.9 1682.2,1522" fill="#6aabf5"/>
<polygon points="1698.8,1515.6 1703.7,1520.5 1698.8,1525.4 1693.9,1520.5" fill="#6aabf5"/>
<polygon points="1710.6,1517.1 1715.5,1522 1710.6,1526.9 1705.6,1522" fill="#6aabf5"/>
<polygon points="1692.8,1522 1697.8,1526.9 1692.8,1531.8 1687.9,1526.9" fill="#6aabf5"/>
<polygon points="1698.8,1523.1 1703.7,1528 1698.8,1532.9 1693.9,1528" fill="#6aabf5"/>
<polygon points="1704.8,1522 1709.7,1526.9 1704.8,1531.8 1699.9,1526.9" fill="#6aabf5"/>
<polygon points="1698.8,1536.5 1703.7,1541.4 1698.8,1546.4 1693.9,1541.4" fill="#6aabf5"/>
<polygon points="1698.8,1558.3 1703.7,1563.2 1698.8,1568.1 1693.9,1563.2" fill="#6aabf5"/>
<polygon points="1704.8,1567.9 1709.7,1572.8 1704.8,1577.7 1699.9,1572.8" fill="#6aabf5"/>
<polygon points="1698.8,1572.2 1703.7,1577.1 1698.8,1582 1693.9,1577.1" fill="#6aabf5"/>
<polygon points="1704.8,1578.1 1709.7,1583.1 1704.8,1588 1699.9,1583.1" fill="#6aabf5"/>
<polygon points="1698.8,1583.5 1703.7,1588.4 1698.8,1593.3 1693.9,1588.4" fill="#6aabf5"/>
<polygon points="1698.8,1601.6 1703.7,1606.5 1698.8,1611.5 1693.9,1606.5" fill="#6aabf5"/>
<polygon points="1704.8,1469.7 1709.7,1474.6 1704.8,1479.6 1699.9,1474.6" fill="#000"/>
<polygon points="1692.8,1495.3 1697.8,1500.2 1692.8,1505.2 1687.9,1500.2" fill="#000"/>
<polygon points="1704.8,1495.3 1709.7,1500.2 1704.8,1505.2 1699.9,1500.2" fill="#000"/>
<polygon points="1692.8,1500.7 1697.8,1505.6 1692.8,1510.5 1687.9,1505.6" fill="#000"/>
<polygon points="1704.8,1498.5 1709.7,1503.4 1704.8,1508.4 1699.9,1503.4" fill="#000"/>
<polygon points="1698.8,1408.9 1703.7,1413.8 1698.8,1418.7 1693.9,1413.8" fill="#ff1a0a"/>
<polygon points="1698.8,1421 1703.7,1426 1698.8,1430.9 1693.9,1426" fill="#ff1a0a"/>
<polygon points="1695.6,1445.6 1700.5,1450.5 1695.6,1455.4 1690.7,1450.5" fill="#ff1a0a"/>
<polygon points="1702,1445.6 1706.9,1450.5 1702,1455.4 1697.1,1450.5" fill="#ff1a0a"/>
<polygon points="1698.8,1471.8 1703.7,1476.8 1698.8,1481.7 1693.9,1476.8" fill="#ff1a0a"/>
<polygon points="1710.6,1486.4 1715.5,1491.3 1710.6,1496.2 1705.6,1491.3" fill="#ff1a0a"/>
<text x="1248.4" y="1710.5" font-size="26.3" text-anchor="end" font-weight="bold" transform="rotate(-45 1248.4 1710.5)">Lipids</text>
<text x="1293.8" y="1710.5" font-size="26.3" text-anchor="end" font-weight="bold" transform="rotate(-45 1293.8 1710.5)">Signalling</text>
<text x="1339.3" y="1710.5" font-size="26.3" text-anchor="end" font-weight="bold" transform="rotate(-45 1339.3 1710.5)">Apoptosis</text>
<text x="1384.8" y="1710.5" font-size="26.3" text-anchor="end" font-weight="bold" transform="rotate(-45 1384.8 1710.5)">Oncogenes</text>
<text x="1431" y="1710.5" font-size="26.3" text-anchor="end" font-weight="bold" transform="rotate(-45 1431 1710.5)">Others</text>
<text x="1476.5" y="1710.5" font-size="26.3" text-anchor="end" font-weight="bold" transform="rotate(-45 1476.5 1710.5)">Autophagy</text>
<text x="1522.4" y="1710.5" font-size="26.3" text-anchor="end" font-weight="bold" transform="rotate(-45 1522.4 1710.5)">Mitochondrial Bioenergetics</text>
<text x="1568.1" y="1710.5" font-size="26.3" text-anchor="end" font-weight="bold" transform="rotate(-45 1568.1 1710.5)">Ions Transport</text>
<text x="1614" y="1710.5" font-size="26.3" text-anchor="end" font-weight="bold" transform="rotate(-45 1614 1710.5)">ER Homeostasis</text>
<text x="1659.4" y="1710.5" font-size="26.3" text-anchor="end" font-weight="bold" transform="rotate(-45 1659.4 1710.5)">Mitochondrial Dynamics</text>
<text x="1705.3" y="1710.5" font-size="26.3" text-anchor="end" font-weight="bold" transform="rotate(-45 1705.3 1710.5)">Tethering</text>
<line x1="1176.4" y1="1965.8" x2="1695.3" y2="1965.8" stroke="#000" stroke-width="3.6"/>
<text x="1450" y="1998.8" font-size="25.6" text-anchor="middle" font-weight="bold">MERCs-associated proteins</text>
<!-- panel_i -->
<text x="7.6" y="2109.6" font-size="42.5" font-weight="bold">i</text>
<rect x="94.8" y="2224.8" width="1645" height="36.1" fill="#fff"/>
<rect x="94.8" y="2260.9" width="10.5" height="35.3" fill="#b4d4fb"/>
<text transform="translate(103.4 2315) rotate(-90)" font-size="11.5" font-weight="bold" text-anchor="end">OSBPL8</text>
<rect x="104.9" y="2260.9" width="10.5" height="35.3" fill="#b4d4fb"/>
<text transform="translate(113.5 2315) rotate(-90)" font-size="11.5" font-weight="bold" text-anchor="end">ACSL4</text>
<rect x="115" y="2260.9" width="10.5" height="35.3" fill="#e1eefd"/>
<text transform="translate(123.6 2315) rotate(-90)" font-size="11.5" font-weight="bold" text-anchor="end">VPS13A</text>
<rect x="125.1" y="2260.9" width="10.5" height="35.3" fill="#fbfdff"/>
<text transform="translate(133.7 2315) rotate(-90)" font-size="11.5" font-weight="bold" text-anchor="end">EIF2AK3</text>
<rect x="135.2" y="2260.9" width="10.5" height="35.3" fill="#fffcfc"/>
<text transform="translate(143.8 2315) rotate(-90)" font-size="11.5" font-weight="bold" text-anchor="end">VPS13D</text>
<rect x="145.3" y="2260.9" width="10.5" height="35.3" fill="#fcdee0"/>
<text transform="translate(153.9 2315) rotate(-90)" font-size="11.5" font-weight="bold" text-anchor="end">SACM1L</text>
<rect x="155.4" y="2260.9" width="10.5" height="35.3" fill="#facace"/>
<text transform="translate(164 2315) rotate(-90)" font-size="11.5" font-weight="bold" text-anchor="end">TSPO</text>
<rect x="165.4" y="2260.9" width="10.5" height="35.3" fill="#f8bbbf"/>
<text transform="translate(174.1 2315) rotate(-90)" font-size="11.5" font-weight="bold" text-anchor="end">HSD17B12</text>
<rect x="175.5" y="2260.9" width="10.5" height="35.3" fill="#f3828a"/>
<text transform="translate(184.2 2315) rotate(-90)" font-size="11.5" font-weight="bold" text-anchor="end">OSBPL5</text>
<rect x="185.6" y="2260.9" width="10.5" height="35.3" fill="#f27a83"/>
<text transform="translate(194.3 2315) rotate(-90)" font-size="11.5" font-weight="bold" text-anchor="end">VPS13C</text>
<rect x="195.7" y="2260.9" width="10.5" height="35.3" fill="#f16d76"/>
<text transform="translate(204.4 2315) rotate(-90)" font-size="11.5" font-weight="bold" text-anchor="end">MOSPD2</text>
<rect x="205.8" y="2260.9" width="10.5" height="35.3" fill="#ee4f5a"/>
<text transform="translate(214.5 2315) rotate(-90)" font-size="11.5" font-weight="bold" text-anchor="end">DHCR7</text>
<rect x="215.9" y="2260.9" width="10.5" height="35.3" fill="#d0e5fd"/>
<text transform="translate(224.6 2315) rotate(-90)" font-size="11.5" font-weight="bold" text-anchor="end">TXNIP</text>
<rect x="226" y="2260.9" width="10.5" height="35.3" fill="#fffefe"/>
<text transform="translate(234.6 2315) rotate(-90)" font-size="11.5" font-weight="bold" text-anchor="end">PPP2CA</text>
<rect x="236.1" y="2260.9" width="10.5" height="35.3" fill="#fef0f1"/>
<text transform="translate(244.7 2315) rotate(-90)" font-size="11.5" font-weight="bold" text-anchor="end">SHC1</text>
<rect x="246.2" y="2260.9" width="10.5" height="35.3" fill="#fde7e8"/>
<text transform="translate(254.8 2315) rotate(-90)" font-size="11.5" font-weight="bold" text-anchor="end">MTOR</text>
<rect x="256.3" y="2260.9" width="10.5" height="35.3" fill="#fde7e8"/>
<text transform="translate(264.9 2315) rotate(-90)" font-size="11.5" font-weight="bold" text-anchor="end">ITGB1</text>
<rect x="266.4" y="2260.9" width="10.5" height="35.3" fill="#fbd9db"/>
<text transform="translate(275 2315) rotate(-90)" font-size="11.5" font-weight="bold" text-anchor="end">MAVS</text>
<rect x="276.5" y="2260.9" width="10.5" height="35.3" fill="#facccf"/>
<text transform="translate(285.1 2315) rotate(-90)" font-size="11.5" font-weight="bold" text-anchor="end">RICTOR</text>
<rect x="286.5" y="2260.9" width="10.5" height="35.3" fill="#f7acb1"/>
<text transform="translate(295.2 2315) rotate(-90)" font-size="11.5" font-weight="bold" text-anchor="end">TP53</text>
<rect x="296.6" y="2260.9" width="10.5" height="35.3" fill="#f69fa5"/>
<text transform="translate(305.3 2315) rotate(-90)" font-size="11.5" font-weight="bold" text-anchor="end">PPP2R4</text>
<rect x="306.7" y="2260.9" width="10.5" height="35.3" fill="#9ec7f8"/>
<text transform="translate(315.4 2315) rotate(-90)" font-size="11.5" font-weight="bold" text-anchor="end">BCL2</text>
<rect x="316.8" y="2260.9" width="10.5" height="35.3" fill="#f3f8fe"/>
<text transform="translate(325.5 2315) rotate(-90)" font-size="11.5" font-weight="bold" text-anchor="end">MCL1</text>
<rect x="326.9" y="2260.9" width="10.5" height="35.3" fill="#f7faff"/>
<text transform="translate(335.6 2315) rotate(-90)" font-size="11.5" font-weight="bold" text-anchor="end">BECN1</text>
<rect x="337" y="2260.9" width="10.5" height="35.3" fill="#fbfcff"/>
<text transform="translate(345.7 2315) rotate(-90)" font-size="11.5" font-weight="bold" text-anchor="end">BAX</text>
<rect x="347.1" y="2260.9" width="10.5" height="35.3" fill="#fffbfc"/>
<text transform="translate(355.7 2315) rotate(-90)" font-size="11.5" font-weight="bold" text-anchor="end">BAP1</text>
<rect x="357.2" y="2260.9" width="10.5" height="35.3" fill="#fef0f1"/>
<text transform="translate(365.8 2315) rotate(-90)" font-size="11.5" font-weight="bold" text-anchor="end">PTRH2</text>
<rect x="367.3" y="2260.9" width="10.5" height="35.3" fill="#fdeaeb"/>
<text transform="translate(375.9 2315) rotate(-90)" font-size="11.5" font-weight="bold" text-anchor="end">CYCS</text>
<rect x="377.4" y="2260.9" width="10.5" height="35.3" fill="#fcdee0"/>
<text transform="translate(386 2315) rotate(-90)" font-size="11.5" font-weight="bold" text-anchor="end">BCL2L1</text>
<rect x="387.5" y="2260.9" width="10.5" height="35.3" fill="#f9c0c4"/>
<text transform="translate(396.1 2315) rotate(-90)" font-size="11.5" font-weight="bold" text-anchor="end">BAK1</text>
<rect x="397.6" y="2260.9" width="10.5" height="35.3" fill="#f7adb2"/>
<text transform="translate(406.2 2315) rotate(-90)" font-size="11.5" font-weight="bold" text-anchor="end">PML</text>
<rect x="407.7" y="2260.9" width="10.5" height="35.3" fill="#f6a7ac"/>
<text transform="translate(416.3 2315) rotate(-90)" font-size="11.5" font-weight="bold" text-anchor="end">BCL2L13</text>
<rect x="417.7" y="2260.9" width="10.5" height="35.3" fill="#f6a5ab"/>
<text transform="translate(426.4 2315) rotate(-90)" font-size="11.5" font-weight="bold" text-anchor="end">TP53</text>
<rect x="427.8" y="2260.9" width="10.5" height="35.3" fill="#d0e5fd"/>
<text transform="translate(436.5 2315) rotate(-90)" font-size="11.5" font-weight="bold" text-anchor="end">KRAS</text>
<rect x="437.9" y="2260.9" width="10.5" height="35.3" fill="#ecf4fe"/>
<text transform="translate(446.6 2315) rotate(-90)" font-size="11.5" font-weight="bold" text-anchor="end">AKT3</text>
<rect x="448" y="2260.9" width="10.5" height="35.3" fill="#fdecee"/>
<text transform="translate(456.7 2315) rotate(-90)" font-size="11.5" font-weight="bold" text-anchor="end">PTEN</text>
<rect x="458.1" y="2260.9" width="10.5" height="35.3" fill="#fde7e8"/>
<text transform="translate(466.8 2315) rotate(-90)" font-size="11.5" font-weight="bold" text-anchor="end">AKT2</text>
<rect x="468.2" y="2260.9" width="10.5" height="35.3" fill="#f69ea4"/>
<text transform="translate(476.9 2315) rotate(-90)" font-size="11.5" font-weight="bold" text-anchor="end">AKT1</text>
<rect x="478.3" y="2260.9" width="10.5" height="35.3" fill="#cbe1fc"/>
<text transform="translate(486.9 2315) rotate(-90)" font-size="11.5" font-weight="bold" text-anchor="end">CKAP4</text>
<rect x="488.4" y="2260.9" width="10.5" height="35.3" fill="#e9f3fe"/>
<text transform="translate(497 2315) rotate(-90)" font-size="11.5" font-weight="bold" text-anchor="end">PGRMC2</text>
<rect x="498.5" y="2260.9" width="10.5" height="35.3" fill="#eaf3fe"/>
<text transform="translate(507.1 2315) rotate(-90)" font-size="11.5" font-weight="bold" text-anchor="end">HNRNPR</text>
<rect x="508.6" y="2260.9" width="10.5" height="35.3" fill="#f6faff"/>
<text transform="translate(517.2 2315) rotate(-90)" font-size="11.5" font-weight="bold" text-anchor="end">SCCPDH</text>
<rect x="518.7" y="2260.9" width="10.5" height="35.3" fill="#fcfeff"/>
<text transform="translate(527.3 2315) rotate(-90)" font-size="11.5" font-weight="bold" text-anchor="end">EEF1D</text>
<rect x="528.8" y="2260.9" width="10.5" height="35.3" fill="#fcfeff"/>
<text transform="translate(537.4 2315) rotate(-90)" font-size="11.5" font-weight="bold" text-anchor="end">TDRKH</text>
<rect x="538.8" y="2260.9" width="10.5" height="35.3" fill="#fdeeef"/>
<text transform="translate(547.5 2315) rotate(-90)" font-size="11.5" font-weight="bold" text-anchor="end">SAR1B</text>
<rect x="548.9" y="2260.9" width="10.5" height="35.3" fill="#fdeced"/>
<text transform="translate(557.6 2315) rotate(-90)" font-size="11.5" font-weight="bold" text-anchor="end">LRRC59</text>
<rect x="559" y="2260.9" width="10.5" height="35.3" fill="#fde8ea"/>
<text transform="translate(567.7 2315) rotate(-90)" font-size="11.5" font-weight="bold" text-anchor="end">PRAF2</text>
<rect x="569.1" y="2260.9" width="10.5" height="35.3" fill="#fcdddf"/>
<text transform="translate(577.8 2315) rotate(-90)" font-size="11.5" font-weight="bold" text-anchor="end">CPD</text>
<rect x="579.2" y="2260.9" width="10.5" height="35.3" fill="#f8b9bd"/>
<text transform="translate(587.9 2315) rotate(-90)" font-size="11.5" font-weight="bold" text-anchor="end">AHCYL1</text>
<rect x="589.3" y="2260.9" width="10.5" height="35.3" fill="#f7a9ae"/>
<text transform="translate(598 2315) rotate(-90)" font-size="11.5" font-weight="bold" text-anchor="end">RHOT1</text>
<rect x="599.4" y="2260.9" width="10.5" height="35.3" fill="#f38189"/>
<text transform="translate(608 2315) rotate(-90)" font-size="11.5" font-weight="bold" text-anchor="end">APP</text>
<rect x="609.5" y="2260.9" width="10.5" height="35.3" fill="#c7e0fc"/>
<text transform="translate(618.1 2315) rotate(-90)" font-size="11.5" font-weight="bold" text-anchor="end">FUNDC2</text>
<rect x="619.6" y="2260.9" width="10.5" height="35.3" fill="#d1e5fd"/>
<text transform="translate(628.2 2315) rotate(-90)" font-size="11.5" font-weight="bold" text-anchor="end">ATG14</text>
<rect x="629.7" y="2260.9" width="10.5" height="35.3" fill="#fffefe"/>
<text transform="translate(638.3 2315) rotate(-90)" font-size="11.5" font-weight="bold" text-anchor="end">STX17</text>
<rect x="639.8" y="2260.9" width="10.5" height="35.3" fill="#fdeaeb"/>
<text transform="translate(648.4 2315) rotate(-90)" font-size="11.5" font-weight="bold" text-anchor="end">GLB1</text>
<rect x="649.9" y="2260.9" width="10.5" height="35.3" fill="#fde9ea"/>
<text transform="translate(658.5 2315) rotate(-90)" font-size="11.5" font-weight="bold" text-anchor="end">MTOR</text>
<rect x="660" y="2260.9" width="10.5" height="35.3" fill="#facdd0"/>
<text transform="translate(668.6 2315) rotate(-90)" font-size="11.5" font-weight="bold" text-anchor="end">RICTOR</text>
<rect x="670" y="2260.9" width="10.5" height="35.3" fill="#a4caf9"/>
<text transform="translate(678.7 2315) rotate(-90)" font-size="11.5" font-weight="bold" text-anchor="end">HK2</text>
<rect x="680.1" y="2260.9" width="10.5" height="35.3" fill="#d4e7fd"/>
<text transform="translate(688.8 2315) rotate(-90)" font-size="11.5" font-weight="bold" text-anchor="end">TMX1</text>
<rect x="690.2" y="2260.9" width="10.5" height="35.3" fill="#d9e9fd"/>
<text transform="translate(698.9 2315) rotate(-90)" font-size="11.5" font-weight="bold" text-anchor="end">SLC25A4</text>
<rect x="700.3" y="2260.9" width="10.5" height="35.3" fill="#daeafd"/>
<text transform="translate(709 2315) rotate(-90)" font-size="11.5" font-weight="bold" text-anchor="end">SLC25A5</text>
<rect x="710.4" y="2260.9" width="10.5" height="35.3" fill="#deedfd"/>
<text transform="translate(719.1 2315) rotate(-90)" font-size="11.5" font-weight="bold" text-anchor="end">OCIAD1</text>
<rect x="720.5" y="2260.9" width="10.5" height="35.3" fill="#e2effd"/>
<text transform="translate(729.2 2315) rotate(-90)" font-size="11.5" font-weight="bold" text-anchor="end">GSK3B</text>
<rect x="730.6" y="2260.9" width="10.5" height="35.3" fill="#f5f9fe"/>
<text transform="translate(739.2 2315) rotate(-90)" font-size="11.5" font-weight="bold" text-anchor="end">EXD2</text>
<rect x="740.7" y="2260.9" width="10.5" height="35.3" fill="#f7fbff"/>
<text transform="translate(749.3 2315) rotate(-90)" font-size="11.5" font-weight="bold" text-anchor="end">CYC1</text>
<rect x="750.8" y="2260.9" width="10.5" height="35.3" fill="#fef9fa"/>
<text transform="translate(759.4 2315) rotate(-90)" font-size="11.5" font-weight="bold" text-anchor="end">COMT</text>
<rect x="760.9" y="2260.9" width="10.5" height="35.3" fill="#fef0f1"/>
<text transform="translate(769.5 2315) rotate(-90)" font-size="11.5" font-weight="bold" text-anchor="end">PARK7</text>
<rect x="771" y="2260.9" width="10.5" height="35.3" fill="#fde9ea"/>
<text transform="translate(779.6 2315) rotate(-90)" font-size="11.5" font-weight="bold" text-anchor="end">CYCS</text>
<rect x="781.1" y="2260.9" width="10.5" height="35.3" fill="#fce4e5"/>
<text transform="translate(789.7 2315) rotate(-90)" font-size="11.5" font-weight="bold" text-anchor="end">ARL6IP5</text>
<rect x="791.1" y="2260.9" width="10.5" height="35.3" fill="#fbd6d9"/>
<text transform="translate(799.8 2315) rotate(-90)" font-size="11.5" font-weight="bold" text-anchor="end">MTX2</text>
<rect x="801.2" y="2260.9" width="10.5" height="35.3" fill="#fbd2d5"/>
<text transform="translate(809.9 2315) rotate(-90)" font-size="11.5" font-weight="bold" text-anchor="end">CYB5R3</text>
<rect x="811.3" y="2260.9" width="10.5" height="35.3" fill="#f9c4c8"/>
<text transform="translate(820 2315) rotate(-90)" font-size="11.5" font-weight="bold" text-anchor="end">NDUFA8</text>
<rect x="821.4" y="2260.9" width="10.5" height="35.3" fill="#f8bcc0"/>
<text transform="translate(830.1 2315) rotate(-90)" font-size="11.5" font-weight="bold" text-anchor="end">HSD17B12</text>
<rect x="831.5" y="2260.9" width="10.5" height="35.3" fill="#f3828a"/>
<text transform="translate(840.2 2315) rotate(-90)" font-size="11.5" font-weight="bold" text-anchor="end">SLC25A6</text>
<rect x="841.6" y="2260.9" width="10.5" height="35.3" fill="#84b6f5"/>
<text transform="translate(850.3 2315) rotate(-90)" font-size="11.5" font-weight="bold" text-anchor="end">PGRMC1</text>
<rect x="851.7" y="2260.9" width="10.5" height="35.3" fill="#8fbdf7"/>
<text transform="translate(860.3 2315) rotate(-90)" font-size="11.5" font-weight="bold" text-anchor="end">WFS1</text>
<rect x="861.8" y="2260.9" width="10.5" height="35.3" fill="#b9d7fb"/>
<text transform="translate(870.4 2315) rotate(-90)" font-size="11.5" font-weight="bold" text-anchor="end">CALR</text>
<rect x="871.9" y="2260.9" width="10.5" height="35.3" fill="#bddafc"/>
<text transform="translate(880.5 2315) rotate(-90)" font-size="11.5" font-weight="bold" text-anchor="end">ITPR2</text>
<rect x="882" y="2260.9" width="10.5" height="35.3" fill="#c5defc"/>
<text transform="translate(890.6 2315) rotate(-90)" font-size="11.5" font-weight="bold" text-anchor="end">ATP2A2</text>
<rect x="892.1" y="2260.9" width="10.5" height="35.3" fill="#d8e9fd"/>
<text transform="translate(900.7 2315) rotate(-90)" font-size="11.5" font-weight="bold" text-anchor="end">MCUR1</text>
<rect x="902.2" y="2260.9" width="10.5" height="35.3" fill="#dfedfd"/>
<text transform="translate(910.8 2315) rotate(-90)" font-size="11.5" font-weight="bold" text-anchor="end">RYR3</text>
<rect x="912.3" y="2260.9" width="10.5" height="35.3" fill="#ebf3fe"/>
<text transform="translate(920.9 2315) rotate(-90)" font-size="11.5" font-weight="bold" text-anchor="end">CCDC47</text>
<rect x="922.3" y="2260.9" width="10.5" height="35.3" fill="#f1f7fe"/>
<text transform="translate(931 2315) rotate(-90)" font-size="11.5" font-weight="bold" text-anchor="end">TGM2</text>
<rect x="932.4" y="2260.9" width="10.5" height="35.3" fill="#f7faff"/>
<text transform="translate(941.1 2315) rotate(-90)" font-size="11.5" font-weight="bold" text-anchor="end">SEC61A1</text>
<rect x="942.5" y="2260.9" width="10.5" height="35.3" fill="#f7faff"/>
<text transform="translate(951.2 2315) rotate(-90)" font-size="11.5" font-weight="bold" text-anchor="end">TARDBP</text>
<rect x="952.6" y="2260.9" width="10.5" height="35.3" fill="#fbfdff"/>
<text transform="translate(961.3 2315) rotate(-90)" font-size="11.5" font-weight="bold" text-anchor="end">ANXA7</text>
<rect x="962.7" y="2260.9" width="10.5" height="35.3" fill="#fbfdff"/>
<text transform="translate(971.4 2315) rotate(-90)" font-size="11.5" font-weight="bold" text-anchor="end">MCU</text>
<rect x="972.8" y="2260.9" width="10.5" height="35.3" fill="#fbfdff"/>
<text transform="translate(981.5 2315) rotate(-90)" font-size="11.5" font-weight="bold" text-anchor="end">MICU2</text>
<rect x="982.9" y="2260.9" width="10.5" height="35.3" fill="#fef8f9"/>
<text transform="translate(991.5 2315) rotate(-90)" font-size="11.5" font-weight="bold" text-anchor="end">VDAC3</text>
<rect x="993" y="2260.9" width="10.5" height="35.3" fill="#fef5f5"/>
<text transform="translate(1001.6 2315) rotate(-90)" font-size="11.5" font-weight="bold" text-anchor="end">VDAC1</text>
<rect x="1003.1" y="2260.9" width="10.5" height="35.3" fill="#fef0f1"/>
<text transform="translate(1011.7 2315) rotate(-90)" font-size="11.5" font-weight="bold" text-anchor="end">ERP44</text>
<rect x="1013.2" y="2260.9" width="10.5" height="35.3" fill="#fdeeef"/>
<text transform="translate(1021.8 2315) rotate(-90)" font-size="11.5" font-weight="bold" text-anchor="end">VDAC2</text>
<rect x="1023.3" y="2260.9" width="10.5" height="35.3" fill="#fbd8da"/>
<text transform="translate(1031.9 2315) rotate(-90)" font-size="11.5" font-weight="bold" text-anchor="end">CANX</text>
<rect x="1033.4" y="2260.9" width="10.5" height="35.3" fill="#fbd1d4"/>
<text transform="translate(1042 2315) rotate(-90)" font-size="11.5" font-weight="bold" text-anchor="end">MICU1</text>
<rect x="1043.5" y="2260.9" width="10.5" height="35.3" fill="#f9c6c9"/>
<text transform="translate(1052.1 2315) rotate(-90)" font-size="11.5" font-weight="bold" text-anchor="end">CIB1</text>
<rect x="1053.5" y="2260.9" width="10.5" height="35.3" fill="#f8b2b7"/>
<text transform="translate(1062.2 2315) rotate(-90)" font-size="11.5" font-weight="bold" text-anchor="end">CLCC1</text>
<rect x="1063.6" y="2260.9" width="10.5" height="35.3" fill="#f6a5ab"/>
<text transform="translate(1072.3 2315) rotate(-90)" font-size="11.5" font-weight="bold" text-anchor="end">ITPR3</text>
<rect x="1073.7" y="2260.9" width="10.5" height="35.3" fill="#f38088"/>
<text transform="translate(1082.4 2315) rotate(-90)" font-size="11.5" font-weight="bold" text-anchor="end">CAV1</text>
<rect x="1083.8" y="2260.9" width="10.5" height="35.3" fill="#8fbdf7"/>
<text transform="translate(1092.5 2315) rotate(-90)" font-size="11.5" font-weight="bold" text-anchor="end">WFS1</text>
<rect x="1093.9" y="2260.9" width="10.5" height="35.3" fill="#aacefa"/>
<text transform="translate(1102.6 2315) rotate(-90)" font-size="11.5" font-weight="bold" text-anchor="end">ERP29</text>
<rect x="1104" y="2260.9" width="10.5" height="35.3" fill="#b0d2fb"/>
<text transform="translate(1112.6 2315) rotate(-90)" font-size="11.5" font-weight="bold" text-anchor="end">HSP90B1</text>
<rect x="1114.1" y="2260.9" width="10.5" height="35.3" fill="#bad8fb"/>
<text transform="translate(1122.7 2315) rotate(-90)" font-size="11.5" font-weight="bold" text-anchor="end">CALR</text>
<rect x="1124.2" y="2260.9" width="10.5" height="35.3" fill="#d0e5fd"/>
<text transform="translate(1132.8 2315) rotate(-90)" font-size="11.5" font-weight="bold" text-anchor="end">TMX1</text>
<rect x="1134.3" y="2260.9" width="10.5" height="35.3" fill="#d4e7fd"/>
<text transform="translate(1142.9 2315) rotate(-90)" font-size="11.5" font-weight="bold" text-anchor="end">TMX1</text>
<rect x="1144.4" y="2260.9" width="10.5" height="35.3" fill="#d5e7fd"/>
<text transform="translate(1153 2315) rotate(-90)" font-size="11.5" font-weight="bold" text-anchor="end">NAPG</text>
<rect x="1154.5" y="2260.9" width="10.5" height="35.3" fill="#dcebfd"/>
<text transform="translate(1163.1 2315) rotate(-90)" font-size="11.5" font-weight="bold" text-anchor="end">DDRGK1</text>
<rect x="1164.6" y="2260.9" width="10.5" height="35.3" fill="#e2eefd"/>
<text transform="translate(1173.2 2315) rotate(-90)" font-size="11.5" font-weight="bold" text-anchor="end">SRPRB</text>
<rect x="1174.6" y="2260.9" width="10.5" height="35.3" fill="#e9f2fe"/>
<text transform="translate(1183.3 2315) rotate(-90)" font-size="11.5" font-weight="bold" text-anchor="end">SEC63</text>
<rect x="1184.7" y="2260.9" width="10.5" height="35.3" fill="#eef5fe"/>
<text transform="translate(1193.4 2315) rotate(-90)" font-size="11.5" font-weight="bold" text-anchor="end">SEC22B</text>
<rect x="1194.8" y="2260.9" width="10.5" height="35.3" fill="#f0f6fe"/>
<text transform="translate(1203.5 2315) rotate(-90)" font-size="11.5" font-weight="bold" text-anchor="end">SEC61B</text>
<rect x="1204.9" y="2260.9" width="10.5" height="35.3" fill="#f3f8fe"/>
<text transform="translate(1213.6 2315) rotate(-90)" font-size="11.5" font-weight="bold" text-anchor="end">ERO1L</text>
<rect x="1215" y="2260.9" width="10.5" height="35.3" fill="#f6faff"/>
<text transform="translate(1223.7 2315) rotate(-90)" font-size="11.5" font-weight="bold" text-anchor="end">SEC61A1</text>
<rect x="1225.1" y="2260.9" width="10.5" height="35.3" fill="#fbfdff"/>
<text transform="translate(1233.8 2315) rotate(-90)" font-size="11.5" font-weight="bold" text-anchor="end">EIF2AK3</text>
<rect x="1235.2" y="2260.9" width="10.5" height="35.3" fill="#fefeff"/>
<text transform="translate(1243.8 2315) rotate(-90)" font-size="11.5" font-weight="bold" text-anchor="end">RPS7</text>
<rect x="1245.3" y="2260.9" width="10.5" height="35.3" fill="#fefeff"/>
<text transform="translate(1253.9 2315) rotate(-90)" font-size="11.5" font-weight="bold" text-anchor="end">RTN4</text>
<rect x="1255.4" y="2260.9" width="10.5" height="35.3" fill="#fffefe"/>
<text transform="translate(1264 2315) rotate(-90)" font-size="11.5" font-weight="bold" text-anchor="end">ATF6</text>
<rect x="1265.5" y="2260.9" width="10.5" height="35.3" fill="#fef5f6"/>
<text transform="translate(1274.1 2315) rotate(-90)" font-size="11.5" font-weight="bold" text-anchor="end">RAB1A</text>
<rect x="1275.6" y="2260.9" width="10.5" height="35.3" fill="#fdeced"/>
<text transform="translate(1284.2 2315) rotate(-90)" font-size="11.5" font-weight="bold" text-anchor="end">ERP44</text>
<rect x="1285.7" y="2260.9" width="10.5" height="35.3" fill="#fce4e5"/>
<text transform="translate(1294.3 2315) rotate(-90)" font-size="11.5" font-weight="bold" text-anchor="end">SAR1A</text>
<rect x="1295.8" y="2260.9" width="10.5" height="35.3" fill="#fce0e2"/>
<text transform="translate(1304.4 2315) rotate(-90)" font-size="11.5" font-weight="bold" text-anchor="end">TBL2</text>
<rect x="1305.8" y="2260.9" width="10.5" height="35.3" fill="#fbd2d5"/>
<text transform="translate(1314.5 2315) rotate(-90)" font-size="11.5" font-weight="bold" text-anchor="end">STT3B</text>
<rect x="1315.9" y="2260.9" width="10.5" height="35.3" fill="#fad0d3"/>
<text transform="translate(1324.6 2315) rotate(-90)" font-size="11.5" font-weight="bold" text-anchor="end">HMOX2</text>
<rect x="1326" y="2260.9" width="10.5" height="35.3" fill="#fac7cb"/>
<text transform="translate(1334.7 2315) rotate(-90)" font-size="11.5" font-weight="bold" text-anchor="end">UBXN4</text>
<rect x="1336.1" y="2260.9" width="10.5" height="35.3" fill="#f9c4c7"/>
<text transform="translate(1344.8 2315) rotate(-90)" font-size="11.5" font-weight="bold" text-anchor="end">CIB1</text>
<rect x="1346.2" y="2260.9" width="10.5" height="35.3" fill="#f7a9ae"/>
<text transform="translate(1354.9 2315) rotate(-90)" font-size="11.5" font-weight="bold" text-anchor="end">HSPA5</text>
<rect x="1356.3" y="2260.9" width="10.5" height="35.3" fill="#f7a8ad"/>
<text transform="translate(1364.9 2315) rotate(-90)" font-size="11.5" font-weight="bold" text-anchor="end">FAF2</text>
<rect x="1366.4" y="2260.9" width="10.5" height="35.3" fill="#609ff1"/>
<text transform="translate(1375 2315) rotate(-90)" font-size="11.5" font-weight="bold" text-anchor="end">ARMCX3</text>
<rect x="1376.5" y="2260.9" width="10.5" height="35.3" fill="#c7e0fc"/>
<text transform="translate(1385.1 2315) rotate(-90)" font-size="11.5" font-weight="bold" text-anchor="end">FUNDC2</text>
<rect x="1386.6" y="2260.9" width="10.5" height="35.3" fill="#ecf4fe"/>
<text transform="translate(1395.2 2315) rotate(-90)" font-size="11.5" font-weight="bold" text-anchor="end">MIEF1</text>
<rect x="1396.7" y="2260.9" width="10.5" height="35.3" fill="#f0f6fe"/>
<text transform="translate(1405.3 2315) rotate(-90)" font-size="11.5" font-weight="bold" text-anchor="end">MFN2</text>
<rect x="1406.8" y="2260.9" width="10.5" height="35.3" fill="#fafcff"/>
<text transform="translate(1415.4 2315) rotate(-90)" font-size="11.5" font-weight="bold" text-anchor="end">MFF</text>
<rect x="1416.9" y="2260.9" width="10.5" height="35.3" fill="#ffffff"/>
<text transform="translate(1425.5 2315) rotate(-90)" font-size="11.5" font-weight="bold" text-anchor="end">MIEF2</text>
<rect x="1426.9" y="2260.9" width="10.5" height="35.3" fill="#fef1f2"/>
<text transform="translate(1435.6 2315) rotate(-90)" font-size="11.5" font-weight="bold" text-anchor="end">TOMM70A</text>
<rect x="1437" y="2260.9" width="10.5" height="35.3" fill="#fef0f1"/>
<text transform="translate(1445.7 2315) rotate(-90)" font-size="11.5" font-weight="bold" text-anchor="end">MFN1</text>
<rect x="1447.1" y="2260.9" width="10.5" height="35.3" fill="#fac9cc"/>
<text transform="translate(1455.8 2315) rotate(-90)" font-size="11.5" font-weight="bold" text-anchor="end">INF2</text>
<rect x="1457.2" y="2260.9" width="10.5" height="35.3" fill="#8fbdf7"/>
<text transform="translate(1465.9 2315) rotate(-90)" font-size="11.5" font-weight="bold" text-anchor="end">WFS1</text>
<rect x="1467.3" y="2260.9" width="10.5" height="35.3" fill="#a1c8f9"/>
<text transform="translate(1476 2315) rotate(-90)" font-size="11.5" font-weight="bold" text-anchor="end">TCHP</text>
<rect x="1477.4" y="2260.9" width="10.5" height="35.3" fill="#a7ccfa"/>
<text transform="translate(1486.1 2315) rotate(-90)" font-size="11.5" font-weight="bold" text-anchor="end">CISD2</text>
<rect x="1487.5" y="2260.9" width="10.5" height="35.3" fill="#add0fa"/>
<text transform="translate(1496.1 2315) rotate(-90)" font-size="11.5" font-weight="bold" text-anchor="end">BCAP31</text>
<rect x="1497.6" y="2260.9" width="10.5" height="35.3" fill="#b1d3fb"/>
<text transform="translate(1506.2 2315) rotate(-90)" font-size="11.5" font-weight="bold" text-anchor="end">OSBPL8</text>
<rect x="1507.7" y="2260.9" width="10.5" height="35.3" fill="#b9d7fb"/>
<text transform="translate(1516.3 2315) rotate(-90)" font-size="11.5" font-weight="bold" text-anchor="end">ITPR2</text>
<rect x="1517.8" y="2260.9" width="10.5" height="35.3" fill="#c9e1fc"/>
<text transform="translate(1526.4 2315) rotate(-90)" font-size="11.5" font-weight="bold" text-anchor="end">FKBP8</text>
<rect x="1527.9" y="2260.9" width="10.5" height="35.3" fill="#daeafd"/>
<text transform="translate(1536.5 2315) rotate(-90)" font-size="11.5" font-weight="bold" text-anchor="end">HSPA9</text>
<rect x="1538" y="2260.9" width="10.5" height="35.3" fill="#e2effd"/>
<text transform="translate(1546.6 2315) rotate(-90)" font-size="11.5" font-weight="bold" text-anchor="end">SYNJ2BP</text>
<rect x="1548.1" y="2260.9" width="10.5" height="35.3" fill="#e3effe"/>
<text transform="translate(1556.7 2315) rotate(-90)" font-size="11.5" font-weight="bold" text-anchor="end">ATAD3A</text>
<rect x="1558.1" y="2260.9" width="10.5" height="35.3" fill="#e4f0fe"/>
<text transform="translate(1566.8 2315) rotate(-90)" font-size="11.5" font-weight="bold" text-anchor="end">PDZD8</text>
<rect x="1568.2" y="2260.9" width="10.5" height="35.3" fill="#e8f2fe"/>
<text transform="translate(1576.9 2315) rotate(-90)" font-size="11.5" font-weight="bold" text-anchor="end">FUS</text>
<rect x="1578.3" y="2260.9" width="10.5" height="35.3" fill="#e8f2fe"/>
<text transform="translate(1587 2315) rotate(-90)" font-size="11.5" font-weight="bold" text-anchor="end">VAPA</text>
<rect x="1588.4" y="2260.9" width="10.5" height="35.3" fill="#eaf3fe"/>
<text transform="translate(1597.1 2315) rotate(-90)" font-size="11.5" font-weight="bold" text-anchor="end">MFN2</text>
<rect x="1598.5" y="2260.9" width="10.5" height="35.3" fill="#f0f6fe"/>
<text transform="translate(1607.2 2315) rotate(-90)" font-size="11.5" font-weight="bold" text-anchor="end">PPID</text>
<rect x="1608.6" y="2260.9" width="10.5" height="35.3" fill="#f3f8fe"/>
<text transform="translate(1617.2 2315) rotate(-90)" font-size="11.5" font-weight="bold" text-anchor="end">FIS1</text>
<rect x="1618.7" y="2260.9" width="10.5" height="35.3" fill="#f8fbff"/>
<text transform="translate(1627.3 2315) rotate(-90)" font-size="11.5" font-weight="bold" text-anchor="end">EIF2AK3</text>
<rect x="1628.8" y="2260.9" width="10.5" height="35.3" fill="#fbfdff"/>
<text transform="translate(1637.4 2315) rotate(-90)" font-size="11.5" font-weight="bold" text-anchor="end">VAPB</text>
<rect x="1638.9" y="2260.9" width="10.5" height="35.3" fill="#fefeff"/>
<text transform="translate(1647.5 2315) rotate(-90)" font-size="11.5" font-weight="bold" text-anchor="end">STX17</text>
<rect x="1649" y="2260.9" width="10.5" height="35.3" fill="#ffffff"/>
<text transform="translate(1657.6 2315) rotate(-90)" font-size="11.5" font-weight="bold" text-anchor="end">VPS13D</text>
<rect x="1659.1" y="2260.9" width="10.5" height="35.3" fill="#fef8f8"/>
<text transform="translate(1667.7 2315) rotate(-90)" font-size="11.5" font-weight="bold" text-anchor="end">SIGMAR1</text>
<rect x="1669.2" y="2260.9" width="10.5" height="35.3" fill="#fde5e7"/>
<text transform="translate(1677.8 2315) rotate(-90)" font-size="11.5" font-weight="bold" text-anchor="end">MFN1</text>
<rect x="1679.2" y="2260.9" width="10.5" height="35.3" fill="#fbd6d9"/>
<text transform="translate(1687.9 2315) rotate(-90)" font-size="11.5" font-weight="bold" text-anchor="end">PSEN1</text>
<rect x="1689.3" y="2260.9" width="10.5" height="35.3" fill="#fac8cc"/>
<text transform="translate(1698 2315) rotate(-90)" font-size="11.5" font-weight="bold" text-anchor="end">RMDN3</text>
<rect x="1699.4" y="2260.9" width="10.5" height="35.3" fill="#f7abb1"/>
<text transform="translate(1708.1 2315) rotate(-90)" font-size="11.5" font-weight="bold" text-anchor="end">RHOT1</text>
<rect x="1709.5" y="2260.9" width="10.5" height="35.3" fill="#f6a5ab"/>
<text transform="translate(1718.2 2315) rotate(-90)" font-size="11.5" font-weight="bold" text-anchor="end">HSPA5</text>
<rect x="1719.6" y="2260.9" width="10.5" height="35.3" fill="#f38088"/>
<text transform="translate(1728.3 2315) rotate(-90)" font-size="11.5" font-weight="bold" text-anchor="end">OSBPL5</text>
<rect x="1729.7" y="2260.9" width="10.5" height="35.3" fill="#f16d76"/>
<text transform="translate(1738.4 2315) rotate(-90)" font-size="11.5" font-weight="bold" text-anchor="end">MOSPD2</text>
<path d="M99.8 2296.2v14M109.9 2296.2v14M120 2296.2v14M130.1 2296.2v14M140.2 2296.2v14M150.3 2296.2v14M160.4 2296.2v14M170.5 2296.2v14M180.6 2296.2v14M190.7 2296.2v14M200.8 2296.2v14M210.9 2296.2v14M221 2296.2v14M231 2296.2v14M241.1 2296.2v14M251.2 2296.2v14M261.3 2296.2v14M271.4 2296.2v14M281.5 2296.2v14M291.6 2296.2v14M301.7 2296.2v14M311.8 2296.2v14M321.9 2296.2v14M332 2296.2v14M342.1 2296.2v14M352.1 2296.2v14M362.2 2296.2v14M372.3 2296.2v14M382.4 2296.2v14M392.5 2296.2v14M402.6 2296.2v14M412.7 2296.2v14M422.8 2296.2v14M432.9 2296.2v14M443 2296.2v14M453.1 2296.2v14M463.2 2296.2v14M473.3 2296.2v14M483.3 2296.2v14M493.4 2296.2v14M503.5 2296.2v14M513.6 2296.2v14M523.7 2296.2v14M533.8 2296.2v14M543.9 2296.2v14M554 2296.2v14M564.1 2296.2v14M574.2 2296.2v14M584.3 2296.2v14M594.4 2296.2v14M604.4 2296.2v14M614.5 2296.2v14M624.6 2296.2v14M634.7 2296.2v14M644.8 2296.2v14M654.9 2296.2v14M665 2296.2v14M675.1 2296.2v14M685.2 2296.2v14M695.3 2296.2v14M705.4 2296.2v14M715.5 2296.2v14M725.6 2296.2v14M735.6 2296.2v14M745.7 2296.2v14M755.8 2296.2v14M765.9 2296.2v14M776 2296.2v14M786.1 2296.2v14M796.2 2296.2v14M806.3 2296.2v14M816.4 2296.2v14M826.5 2296.2v14M836.6 2296.2v14M846.7 2296.2v14M856.7 2296.2v14M866.8 2296.2v14M876.9 2296.2v14M887 2296.2v14M897.1 2296.2v14M907.2 2296.2v14M917.3 2296.2v14M927.4 2296.2v14M937.5 2296.2v14M947.6 2296.2v14M957.7 2296.2v14M967.8 2296.2v14M977.9 2296.2v14M987.9 2296.2v14M998 2296.2v14M1008.1 2296.2v14M1018.2 2296.2v14M1028.3 2296.2v14M1038.4 2296.2v14M1048.5 2296.2v14M1058.6 2296.2v14M1068.7 2296.2v14M1078.8 2296.2v14M1088.9 2296.2v14M1099 2296.2v14M1109 2296.2v14M1119.1 2296.2v14M1129.2 2296.2v14M1139.3 2296.2v14M1149.4 2296.2v14M1159.5 2296.2v14M1169.6 2296.2v14M1179.7 2296.2v14M1189.8 2296.2v14M1199.9 2296.2v14M1210 2296.2v14M1220.1 2296.2v14M1230.2 2296.2v14M1240.2 2296.2v14M1250.3 2296.2v14M1260.4 2296.2v14M1270.5 2296.2v14M1280.6 2296.2v14M1290.7 2296.2v14M1300.8 2296.2v14M1310.9 2296.2v14M1321 2296.2v14M1331.1 2296.2v14M1341.2 2296.2v14M1351.3 2296.2v14M1361.3 2296.2v14M1371.4 2296.2v14M1381.5 2296.2v14M1391.6 2296.2v14M1401.7 2296.2v14M1411.8 2296.2v14M1421.9 2296.2v14M1432 2296.2v14M1442.1 2296.2v14M1452.2 2296.2v14M1462.3 2296.2v14M1472.4 2296.2v14M1482.5 2296.2v14M1492.5 2296.2v14M1502.6 2296.2v14M1512.7 2296.2v14M1522.8 2296.2v14M1532.9 2296.2v14M1543 2296.2v14M1553.1 2296.2v14M1563.2 2296.2v14M1573.3 2296.2v14M1583.4 2296.2v14M1593.5 2296.2v14M1603.6 2296.2v14M1613.6 2296.2v14M1623.7 2296.2v14M1633.8 2296.2v14M1643.9 2296.2v14M1654 2296.2v14M1664.1 2296.2v14M1674.2 2296.2v14M1684.3 2296.2v14M1694.4 2296.2v14M1704.5 2296.2v14M1714.6 2296.2v14M1724.7 2296.2v14M1734.8 2296.2v14" stroke="#000" stroke-width="1.7" fill="none"/>
<rect x="94.8" y="2224.8" width="1645" height="71.4" fill="none" stroke="#000" stroke-width="1.9"/>
<path d="M215.9 2296.2V2214.5L269.9 2152.5" stroke="#000" stroke-width="2.2" fill="none" stroke-dasharray="6.2 2.5"/>
<path d="M306.7 2296.2V2214.5L360.7 2152.5" stroke="#000" stroke-width="2.2" fill="none" stroke-dasharray="6.2 2.5"/>
<path d="M427.8 2296.2V2214.5L481.8 2152.5" stroke="#000" stroke-width="2.2" fill="none" stroke-dasharray="6.2 2.5"/>
<path d="M478.3 2296.2V2214.5L532.3 2152.5" stroke="#000" stroke-width="2.2" fill="none" stroke-dasharray="6.2 2.5"/>
<path d="M609.5 2296.2V2214.5L663.5 2152.5" stroke="#000" stroke-width="2.2" fill="none" stroke-dasharray="6.2 2.5"/>
<path d="M670 2296.2V2214.5L724 2152.5" stroke="#000" stroke-width="2.2" fill="none" stroke-dasharray="6.2 2.5"/>
<path d="M841.6 2296.2V2214.5L895.6 2152.5" stroke="#000" stroke-width="2.2" fill="none" stroke-dasharray="6.2 2.5"/>
<path d="M1083.8 2296.2V2214.5L1137.8 2152.5" stroke="#000" stroke-width="2.2" fill="none" stroke-dasharray="6.2 2.5"/>
<path d="M1366.4 2296.2V2214.5L1420.4 2152.5" stroke="#000" stroke-width="2.2" fill="none" stroke-dasharray="6.2 2.5"/>
<path d="M1457.2 2296.2V2214.5L1511.2 2152.5" stroke="#000" stroke-width="2.2" fill="none" stroke-dasharray="6.2 2.5"/>
<text x="148.6" y="2219.6" font-size="25.5" transform="rotate(-45 148.6 2219.6)">Lipids</text>
<text x="260.9" y="2220.7" font-size="25.5" transform="rotate(-45 260.9 2220.7)">Signalling</text>
<text x="366" y="2219.6" font-size="25.5" transform="rotate(-45 366 2219.6)">Apoptosis</text>
<text x="453.7" y="2218" font-size="25.5" transform="rotate(-45 453.7 2218)">Oncogenes</text>
<text x="545.7" y="2218" font-size="25.5" transform="rotate(-45 545.7 2218)">Others</text>
<text x="644.2" y="2218" font-size="25.5" transform="rotate(-45 644.2 2218)">Autophagy</text>
<text x="745.5" y="2201.6" font-size="25.5" transform="rotate(-45 745.5 2201.6)">Mitochondrial</text>
<text x="770.2" y="2219.6" font-size="25.5" transform="rotate(-45 770.2 2219.6)">Bioenergetics</text>
<text x="958" y="2184" font-size="25.5" transform="rotate(-45 958 2184)">Ions</text>
<text x="962.4" y="2221.3" font-size="25.5" transform="rotate(-45 962.4 2221.3)">Transport</text>
<text x="1230.5" y="2160.9" font-size="25.5" transform="rotate(-45 1230.5 2160.9)">ER</text>
<text x="1217.9" y="2220.2" font-size="25.5" transform="rotate(-45 1217.9 2220.2)">Homeostasis</text>
<text x="1395.4" y="2215.8" font-size="25.5" transform="rotate(-45 1395.4 2215.8)">Mitochondrial</text>
<text x="1434.9" y="2221.3" font-size="25.5" transform="rotate(-45 1434.9 2221.3)">Dynamics</text>
<text x="1580.5" y="2213" font-size="25.5" transform="rotate(-45 1580.5 2213)">Tethering</text>
<text x="78" y="2248.8" font-size="16.5" text-anchor="end"><tspan font-style="italic">CDK4-</tspan><tspan font-weight="bold">WT</tspan></text>
<text x="78" y="2284.3" font-size="16.5" text-anchor="end"><tspan font-style="italic">CDK4-</tspan><tspan font-weight="bold">KO</tspan></text>
<line x1="81.5" y1="2242.9" x2="94.8" y2="2242.9" stroke="#000" stroke-width="1.8"/>
<line x1="81.5" y1="2278.4" x2="94.8" y2="2278.4" stroke="#000" stroke-width="1.8"/>
<text x="879.8" y="2401" font-size="21.4" text-anchor="middle"><tspan>Student’s T-test Difference (</tspan><tspan font-style="italic">CDK4</tspan><tspan>-KO vs. </tspan><tspan font-style="italic">CDK4</tspan><tspan>-WT)</tspan></text>
<defs><linearGradient id="cbar" x1="0" x2="1" y1="0" y2="0"><stop offset="0" stop-color="#5a9bf0"/><stop offset="0.27" stop-color="#b3d4fb"/><stop offset="0.5" stop-color="#ffffff"/><stop offset="0.83" stop-color="#ee4f5a"/><stop offset="1" stop-color="#f52a20"/></linearGradient></defs>
<rect x="759" y="2429" width="250.2" height="17.5" fill="url(#cbar)" stroke="#000" stroke-width="1.9"/>
<line x1="815" y1="2429" x2="815" y2="2446.5" stroke="#000" stroke-width="1.8" stroke-dasharray="5 3"/>
<line x1="883.4" y1="2429" x2="883.4" y2="2446.5" stroke="#000" stroke-width="1.8" stroke-dasharray="5 3"/>
<line x1="953.2" y1="2429" x2="953.2" y2="2446.5" stroke="#000" stroke-width="1.8" stroke-dasharray="5 3"/>
<text x="813.5" y="2485" font-size="26.5" text-anchor="middle">-1</text>
<text x="883.5" y="2485" font-size="26.5" text-anchor="middle">0</text>
<text x="952.5" y="2485" font-size="26.5" text-anchor="middle">1</text>
</svg>
</body></html>
